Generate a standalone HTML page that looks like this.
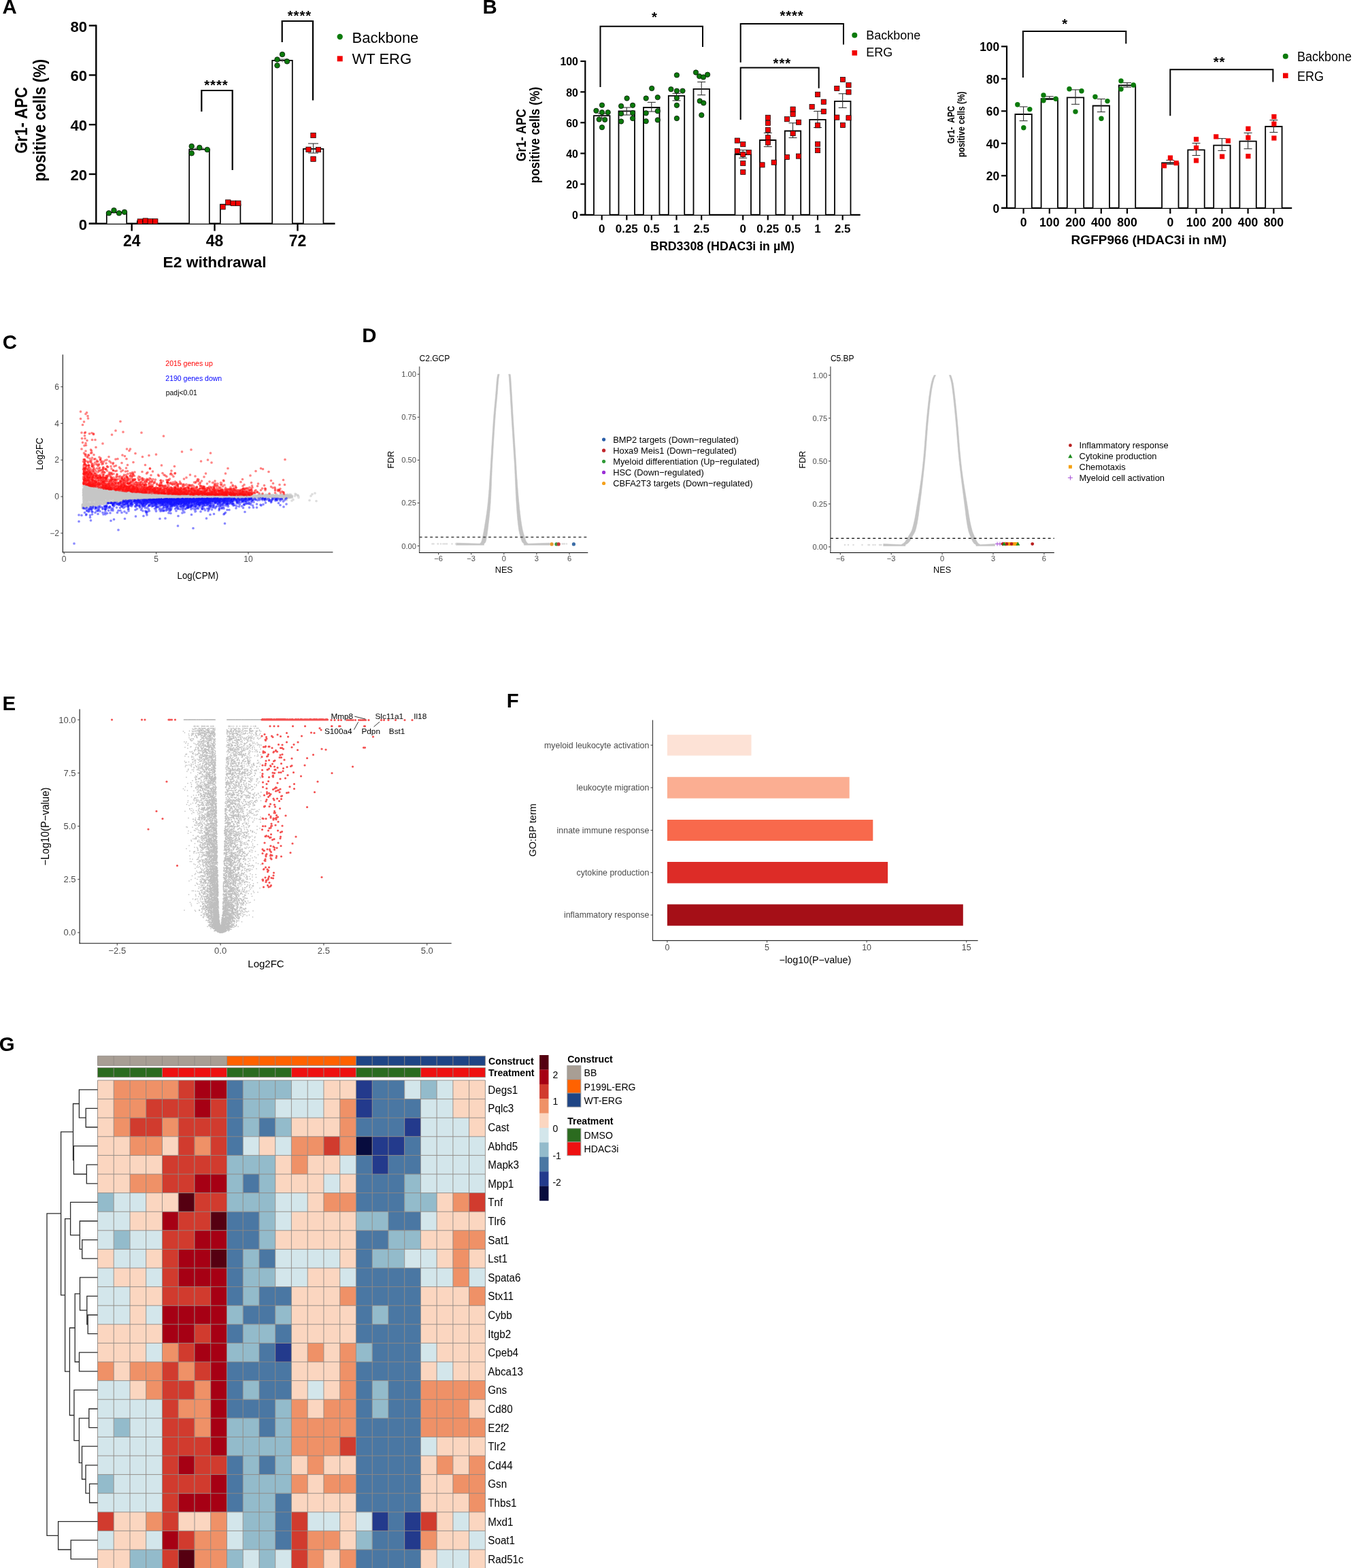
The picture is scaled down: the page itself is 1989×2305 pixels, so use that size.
<!DOCTYPE html>
<html><head><meta charset="utf-8"><title>Figure</title>
<style>
html,body{margin:0;padding:0;background:#fff;}
body{width:1989px;height:2305px;overflow:hidden;}
svg{display:block;font-family:"Liberation Sans",Arial,Helvetica,sans-serif;}
</style></head><body>
<svg width="1989" height="2305" viewBox="0 0 1989 2305">
<rect width="1989" height="2305" fill="#fff"/>
<text x="3.4" y="19.8" font-size="29.4" font-weight="bold" fill="#000" >A</text>
<line x1="141.3" y1="36.4" x2="141.3" y2="328.8" stroke="#000" stroke-width="2.4" />
<line x1="130.8" y1="328.8" x2="141.3" y2="328.8" stroke="#000" stroke-width="2.4" />
<text x="128.2" y="337.8" font-size="22.2" font-weight="bold" text-anchor="end" fill="#000" >0</text>
<line x1="130.8" y1="256" x2="141.3" y2="256" stroke="#000" stroke-width="2.4" />
<text x="128.2" y="265" font-size="22.2" font-weight="bold" text-anchor="end" fill="#000" >20</text>
<line x1="130.8" y1="183.2" x2="141.3" y2="183.2" stroke="#000" stroke-width="2.4" />
<text x="128.2" y="192.2" font-size="22.2" font-weight="bold" text-anchor="end" fill="#000" >40</text>
<line x1="130.8" y1="110.4" x2="141.3" y2="110.4" stroke="#000" stroke-width="2.4" />
<text x="128.2" y="119.4" font-size="22.2" font-weight="bold" text-anchor="end" fill="#000" >60</text>
<line x1="130.8" y1="37.6" x2="141.3" y2="37.6" stroke="#000" stroke-width="2.4" />
<text x="128.2" y="46.6" font-size="22.2" font-weight="bold" text-anchor="end" fill="#000" >80</text>
<line x1="130.8" y1="328.8" x2="492.5" y2="328.8" stroke="#000" stroke-width="2.4" />
<line x1="193.7" y1="328.8" x2="193.7" y2="339.5" stroke="#000" stroke-width="2.4" />
<text x="193.7" y="361.5" font-size="23" font-weight="bold" text-anchor="middle" fill="#000" >24</text>
<line x1="315.5" y1="328.8" x2="315.5" y2="339.5" stroke="#000" stroke-width="2.4" />
<text x="315.5" y="361.5" font-size="23" font-weight="bold" text-anchor="middle" fill="#000" >48</text>
<line x1="437.5" y1="328.8" x2="437.5" y2="339.5" stroke="#000" stroke-width="2.4" />
<text x="437.5" y="361.5" font-size="23" font-weight="bold" text-anchor="middle" fill="#000" >72</text>
<text x="315.5" y="393" font-size="22.8" font-weight="bold" text-anchor="middle" fill="#000" >E2 withdrawal</text>
<text transform="translate(39.9,176.8) rotate(-90) scale(1,1.14)" font-size="22.2" font-weight="bold" text-anchor="middle" fill="#000">Gr1- APC</text>
<text transform="translate(67.4,176.8) rotate(-90) scale(1,1.14)" font-size="22.2" font-weight="bold" text-anchor="middle" fill="#000">positive cells (%)</text>
<path d="M156.8 328.8V312.4H186.2V328.8" stroke="#000" stroke-width="1.7" fill="#fff"/>
<path d="M201.8 328.8V325.2H231.2V328.8" stroke="#000" stroke-width="1.7" fill="#fff"/>
<path d="M278.2 328.8V219.6H307.8V328.8" stroke="#000" stroke-width="1.7" fill="#fff"/>
<path d="M323.9 328.8V300.6H353.4V328.8" stroke="#000" stroke-width="1.7" fill="#fff"/>
<path d="M400.2 328.8V88.9H429.8V328.8" stroke="#000" stroke-width="1.7" fill="#fff"/>
<path d="M445.9 328.8V218.9H475.4V328.8" stroke="#000" stroke-width="1.7" fill="#fff"/>
<line x1="460.5" y1="211" x2="460.5" y2="225" stroke="#333" stroke-width="1.1" />
<line x1="453" y1="211" x2="468" y2="211" stroke="#333" stroke-width="1.1" />
<line x1="453" y1="225" x2="468" y2="225" stroke="#333" stroke-width="1.1" />
<line x1="415" y1="87" x2="415" y2="91.5" stroke="#555" stroke-width="1" />
<line x1="408" y1="87" x2="422" y2="87" stroke="#555" stroke-width="1" />
<line x1="293" y1="217.5" x2="293" y2="221.5" stroke="#555" stroke-width="1" />
<line x1="286" y1="218" x2="300" y2="218" stroke="#555" stroke-width="1" />
<circle cx="160" cy="313.3" r="3.8" fill="#0B7A0B" stroke="#000" stroke-width="0.7"/>
<circle cx="167.5" cy="309.2" r="3.8" fill="#0B7A0B" stroke="#000" stroke-width="0.7"/>
<circle cx="175" cy="313.3" r="3.8" fill="#0B7A0B" stroke="#000" stroke-width="0.7"/>
<circle cx="183" cy="311.7" r="3.8" fill="#0B7A0B" stroke="#000" stroke-width="0.7"/>
<rect x="202.1" y="321.9" width="7.4" height="7.4" fill="#F20000" stroke="#000" stroke-width="0.7" />
<rect x="210" y="320.9" width="7.4" height="7.4" fill="#F20000" stroke="#000" stroke-width="0.7" />
<rect x="217.1" y="321.7" width="7.4" height="7.4" fill="#F20000" stroke="#000" stroke-width="0.7" />
<rect x="224.6" y="321.7" width="7.4" height="7.4" fill="#F20000" stroke="#000" stroke-width="0.7" />
<circle cx="281.7" cy="215" r="3.8" fill="#0B7A0B" stroke="#000" stroke-width="0.7"/>
<circle cx="293.3" cy="217" r="3.8" fill="#0B7A0B" stroke="#000" stroke-width="0.7"/>
<circle cx="304.7" cy="220" r="3.8" fill="#0B7A0B" stroke="#000" stroke-width="0.7"/>
<circle cx="281.7" cy="225.3" r="3.8" fill="#0B7A0B" stroke="#000" stroke-width="0.7"/>
<rect x="323.8" y="300.5" width="7.4" height="7.4" fill="#F20000" stroke="#000" stroke-width="0.7" />
<rect x="331.6" y="293.8" width="7.4" height="7.4" fill="#F20000" stroke="#000" stroke-width="0.7" />
<rect x="339" y="295.1" width="7.4" height="7.4" fill="#F20000" stroke="#000" stroke-width="0.7" />
<rect x="346.6" y="295.1" width="7.4" height="7.4" fill="#F20000" stroke="#000" stroke-width="0.7" />
<circle cx="415" cy="80" r="3.8" fill="#0B7A0B" stroke="#000" stroke-width="0.7"/>
<circle cx="407.5" cy="87.5" r="3.8" fill="#0B7A0B" stroke="#000" stroke-width="0.7"/>
<circle cx="422" cy="90.3" r="3.8" fill="#0B7A0B" stroke="#000" stroke-width="0.7"/>
<circle cx="407.5" cy="96.3" r="3.8" fill="#0B7A0B" stroke="#000" stroke-width="0.7"/>
<rect x="456.8" y="195.3" width="7.4" height="7.4" fill="#F20000" stroke="#000" stroke-width="0.7" />
<rect x="449.8" y="216.1" width="7.4" height="7.4" fill="#F20000" stroke="#000" stroke-width="0.7" />
<rect x="464.3" y="216.3" width="7.4" height="7.4" fill="#F20000" stroke="#000" stroke-width="0.7" />
<rect x="456.8" y="230" width="7.4" height="7.4" fill="#F20000" stroke="#000" stroke-width="0.7" />
<path d="M296.3 164V133H341.7V250" stroke="#000" stroke-width="2.2" fill="none"/>
<path d="M414.7 62V31H460V147.5" stroke="#000" stroke-width="2.2" fill="none"/>
<text x="317.9" y="131.7" font-size="20.3" font-weight="bold" text-anchor="middle" fill="#000" letter-spacing="0.9">****</text>
<text x="440.4" y="29.7" font-size="20.3" font-weight="bold" text-anchor="middle" fill="#000" letter-spacing="0.9">****</text>
<circle cx="499.7" cy="54" r="4.2" fill="#0B7A0B" stroke="none" stroke-width="0"/>
<rect x="495.7" y="82.3" width="8" height="8" fill="#F20000" stroke="none" stroke-width="0" />
<text x="517.5" y="62.5" font-size="22" fill="#000" >Backbone</text>
<text x="517.5" y="94" font-size="22" fill="#000" >WT ERG</text>
<text x="709.6" y="20" font-size="29.4" font-weight="bold" fill="#000" >B</text>
<line x1="860.3" y1="88.9" x2="860.3" y2="315.8" stroke="#000" stroke-width="2.2" />
<line x1="853.3" y1="315.8" x2="860.3" y2="315.8" stroke="#000" stroke-width="2.2" />
<text x="849.9" y="322.2" font-size="15.9" font-weight="bold" text-anchor="end" fill="#000" >0</text>
<line x1="853.3" y1="270.6" x2="860.3" y2="270.6" stroke="#000" stroke-width="2.2" />
<text x="849.9" y="277" font-size="15.9" font-weight="bold" text-anchor="end" fill="#000" >20</text>
<line x1="853.3" y1="225.5" x2="860.3" y2="225.5" stroke="#000" stroke-width="2.2" />
<text x="849.9" y="231.9" font-size="15.9" font-weight="bold" text-anchor="end" fill="#000" >40</text>
<line x1="853.3" y1="180.3" x2="860.3" y2="180.3" stroke="#000" stroke-width="2.2" />
<text x="849.9" y="186.7" font-size="15.9" font-weight="bold" text-anchor="end" fill="#000" >60</text>
<line x1="853.3" y1="135.2" x2="860.3" y2="135.2" stroke="#000" stroke-width="2.2" />
<text x="849.9" y="141.6" font-size="15.9" font-weight="bold" text-anchor="end" fill="#000" >80</text>
<line x1="853.3" y1="90" x2="860.3" y2="90" stroke="#000" stroke-width="2.2" />
<text x="849.9" y="96.4" font-size="15.9" font-weight="bold" text-anchor="end" fill="#000" >100</text>
<line x1="852.5" y1="315.8" x2="1264.7" y2="315.8" stroke="#000" stroke-width="2.2" />
<line x1="884.7" y1="315.8" x2="884.7" y2="323.5" stroke="#000" stroke-width="2.2" />
<text x="884.7" y="341.5" font-size="16.9" font-weight="bold" text-anchor="middle" fill="#000" >0</text>
<line x1="921.3" y1="315.8" x2="921.3" y2="323.5" stroke="#000" stroke-width="2.2" />
<text x="921.3" y="341.5" font-size="16.9" font-weight="bold" text-anchor="middle" fill="#000" >0.25</text>
<line x1="957.8" y1="315.8" x2="957.8" y2="323.5" stroke="#000" stroke-width="2.2" />
<text x="957.8" y="341.5" font-size="16.9" font-weight="bold" text-anchor="middle" fill="#000" >0.5</text>
<line x1="994.5" y1="315.8" x2="994.5" y2="323.5" stroke="#000" stroke-width="2.2" />
<text x="994.5" y="341.5" font-size="16.9" font-weight="bold" text-anchor="middle" fill="#000" >1</text>
<line x1="1031.2" y1="315.8" x2="1031.2" y2="323.5" stroke="#000" stroke-width="2.2" />
<text x="1031.2" y="341.5" font-size="16.9" font-weight="bold" text-anchor="middle" fill="#000" >2.5</text>
<line x1="1092.2" y1="315.8" x2="1092.2" y2="323.5" stroke="#000" stroke-width="2.2" />
<text x="1092.2" y="341.5" font-size="16.9" font-weight="bold" text-anchor="middle" fill="#000" >0</text>
<line x1="1128.8" y1="315.8" x2="1128.8" y2="323.5" stroke="#000" stroke-width="2.2" />
<text x="1128.8" y="341.5" font-size="16.9" font-weight="bold" text-anchor="middle" fill="#000" >0.25</text>
<line x1="1165.5" y1="315.8" x2="1165.5" y2="323.5" stroke="#000" stroke-width="2.2" />
<text x="1165.5" y="341.5" font-size="16.9" font-weight="bold" text-anchor="middle" fill="#000" >0.5</text>
<line x1="1202" y1="315.8" x2="1202" y2="323.5" stroke="#000" stroke-width="2.2" />
<text x="1202" y="341.5" font-size="16.9" font-weight="bold" text-anchor="middle" fill="#000" >1</text>
<line x1="1238.7" y1="315.8" x2="1238.7" y2="323.5" stroke="#000" stroke-width="2.2" />
<text x="1238.7" y="341.5" font-size="16.9" font-weight="bold" text-anchor="middle" fill="#000" >2.5</text>
<text x="1062" y="367.7" font-size="17.8" font-weight="bold" text-anchor="middle" fill="#000" >BRD3308 (HDAC3i in µM)</text>
<text transform="translate(772.7,198.6) rotate(-90) scale(1,1.14)" font-size="17.5" font-weight="bold" text-anchor="middle" fill="#000">Gr1- APC</text>
<text transform="translate(793.4,198.5) rotate(-90) scale(1,1.14)" font-size="17.45" font-weight="bold" text-anchor="middle" fill="#000">positive cells (%)</text>
<path d="M873 315.8V170.2H896.5V315.8" stroke="#000" stroke-width="1.8" fill="#fff"/>
<path d="M909.5 315.8V163.3H933V315.8" stroke="#000" stroke-width="1.8" fill="#fff"/>
<path d="M946 315.8V158H969.5V315.8" stroke="#000" stroke-width="1.8" fill="#fff"/>
<path d="M982.8 315.8V140.8H1006.2V315.8" stroke="#000" stroke-width="1.8" fill="#fff"/>
<path d="M1019.5 315.8V130.9H1043V315.8" stroke="#000" stroke-width="1.8" fill="#fff"/>
<path d="M1080.5 315.8V227H1104V315.8" stroke="#000" stroke-width="1.8" fill="#fff"/>
<path d="M1117 315.8V206H1140.5V315.8" stroke="#000" stroke-width="1.8" fill="#fff"/>
<path d="M1153.8 315.8V192.5H1177.2V315.8" stroke="#000" stroke-width="1.8" fill="#fff"/>
<path d="M1190.2 315.8V175.8H1213.8V315.8" stroke="#000" stroke-width="1.8" fill="#fff"/>
<path d="M1227 315.8V148.9H1250.5V315.8" stroke="#000" stroke-width="1.8" fill="#fff"/>
<line x1="884.7" y1="167" x2="884.7" y2="173.5" stroke="#333" stroke-width="1.1" />
<line x1="878.7" y1="167" x2="890.7" y2="167" stroke="#333" stroke-width="1.1" />
<line x1="878.7" y1="173.5" x2="890.7" y2="173.5" stroke="#333" stroke-width="1.1" />
<line x1="921.3" y1="158" x2="921.3" y2="169" stroke="#333" stroke-width="1.1" />
<line x1="915.3" y1="158" x2="927.3" y2="158" stroke="#333" stroke-width="1.1" />
<line x1="915.3" y1="169" x2="927.3" y2="169" stroke="#333" stroke-width="1.1" />
<line x1="957.8" y1="150.4" x2="957.8" y2="164" stroke="#333" stroke-width="1.1" />
<line x1="951.8" y1="150.4" x2="963.8" y2="150.4" stroke="#333" stroke-width="1.1" />
<line x1="951.8" y1="164" x2="963.8" y2="164" stroke="#333" stroke-width="1.1" />
<line x1="994.5" y1="137.3" x2="994.5" y2="147.9" stroke="#333" stroke-width="1.1" />
<line x1="988.5" y1="137.3" x2="1000.5" y2="137.3" stroke="#333" stroke-width="1.1" />
<line x1="988.5" y1="147.9" x2="1000.5" y2="147.9" stroke="#333" stroke-width="1.1" />
<line x1="1031.2" y1="120.5" x2="1031.2" y2="139.6" stroke="#333" stroke-width="1.1" />
<line x1="1025.2" y1="120.5" x2="1037.2" y2="120.5" stroke="#333" stroke-width="1.1" />
<line x1="1025.2" y1="139.6" x2="1037.2" y2="139.6" stroke="#333" stroke-width="1.1" />
<line x1="1092.2" y1="220.6" x2="1092.2" y2="232.3" stroke="#333" stroke-width="1.1" />
<line x1="1086.2" y1="220.6" x2="1098.2" y2="220.6" stroke="#333" stroke-width="1.1" />
<line x1="1086.2" y1="232.3" x2="1098.2" y2="232.3" stroke="#333" stroke-width="1.1" />
<line x1="1128.8" y1="195.4" x2="1128.8" y2="215.6" stroke="#333" stroke-width="1.1" />
<line x1="1122.8" y1="195.4" x2="1134.8" y2="195.4" stroke="#333" stroke-width="1.1" />
<line x1="1122.8" y1="215.6" x2="1134.8" y2="215.6" stroke="#333" stroke-width="1.1" />
<line x1="1165.5" y1="180.8" x2="1165.5" y2="202.5" stroke="#333" stroke-width="1.1" />
<line x1="1159.5" y1="180.8" x2="1171.5" y2="180.8" stroke="#333" stroke-width="1.1" />
<line x1="1159.5" y1="202.5" x2="1171.5" y2="202.5" stroke="#333" stroke-width="1.1" />
<line x1="1202" y1="163.5" x2="1202" y2="187.5" stroke="#333" stroke-width="1.1" />
<line x1="1196" y1="163.5" x2="1208" y2="163.5" stroke="#333" stroke-width="1.1" />
<line x1="1196" y1="187.5" x2="1208" y2="187.5" stroke="#333" stroke-width="1.1" />
<line x1="1238.7" y1="137.7" x2="1238.7" y2="158.4" stroke="#333" stroke-width="1.1" />
<line x1="1232.7" y1="137.7" x2="1244.7" y2="137.7" stroke="#333" stroke-width="1.1" />
<line x1="1232.7" y1="158.4" x2="1244.7" y2="158.4" stroke="#333" stroke-width="1.1" />
<circle cx="885" cy="154.6" r="3.7" fill="#0B7A0B" stroke="#000" stroke-width="0.7"/>
<circle cx="876.4" cy="162.8" r="3.7" fill="#0B7A0B" stroke="#000" stroke-width="0.7"/>
<circle cx="885" cy="165.2" r="3.7" fill="#0B7A0B" stroke="#000" stroke-width="0.7"/>
<circle cx="893.7" cy="165.2" r="3.7" fill="#0B7A0B" stroke="#000" stroke-width="0.7"/>
<circle cx="880.7" cy="175.5" r="3.7" fill="#0B7A0B" stroke="#000" stroke-width="0.7"/>
<circle cx="889.2" cy="175.9" r="3.7" fill="#0B7A0B" stroke="#000" stroke-width="0.7"/>
<circle cx="885" cy="187.2" r="3.7" fill="#0B7A0B" stroke="#000" stroke-width="0.7"/>
<circle cx="921.6" cy="144.5" r="3.7" fill="#0B7A0B" stroke="#000" stroke-width="0.7"/>
<circle cx="913.1" cy="155.9" r="3.7" fill="#0B7A0B" stroke="#000" stroke-width="0.7"/>
<circle cx="930.1" cy="154.8" r="3.7" fill="#0B7A0B" stroke="#000" stroke-width="0.7"/>
<circle cx="913.1" cy="167" r="3.7" fill="#0B7A0B" stroke="#000" stroke-width="0.7"/>
<circle cx="930.1" cy="166" r="3.7" fill="#0B7A0B" stroke="#000" stroke-width="0.7"/>
<circle cx="930.1" cy="174" r="3.7" fill="#0B7A0B" stroke="#000" stroke-width="0.7"/>
<circle cx="913.1" cy="178.5" r="3.7" fill="#0B7A0B" stroke="#000" stroke-width="0.7"/>
<circle cx="958.2" cy="129.9" r="3.7" fill="#0B7A0B" stroke="#000" stroke-width="0.7"/>
<circle cx="949.7" cy="144.5" r="3.7" fill="#0B7A0B" stroke="#000" stroke-width="0.7"/>
<circle cx="966.8" cy="143.1" r="3.7" fill="#0B7A0B" stroke="#000" stroke-width="0.7"/>
<circle cx="949.7" cy="166.3" r="3.7" fill="#0B7A0B" stroke="#000" stroke-width="0.7"/>
<circle cx="966.8" cy="163.3" r="3.7" fill="#0B7A0B" stroke="#000" stroke-width="0.7"/>
<circle cx="949.7" cy="178.2" r="3.7" fill="#0B7A0B" stroke="#000" stroke-width="0.7"/>
<circle cx="966.8" cy="176.4" r="3.7" fill="#0B7A0B" stroke="#000" stroke-width="0.7"/>
<circle cx="994.9" cy="110.4" r="3.7" fill="#0B7A0B" stroke="#000" stroke-width="0.7"/>
<circle cx="986.4" cy="131.2" r="3.7" fill="#0B7A0B" stroke="#000" stroke-width="0.7"/>
<circle cx="994.9" cy="133.6" r="3.7" fill="#0B7A0B" stroke="#000" stroke-width="0.7"/>
<circle cx="1003.5" cy="133.6" r="3.7" fill="#0B7A0B" stroke="#000" stroke-width="0.7"/>
<circle cx="994.9" cy="144" r="3.7" fill="#0B7A0B" stroke="#000" stroke-width="0.7"/>
<circle cx="994.9" cy="154.8" r="3.7" fill="#0B7A0B" stroke="#000" stroke-width="0.7"/>
<circle cx="994.9" cy="174" r="3.7" fill="#0B7A0B" stroke="#000" stroke-width="0.7"/>
<circle cx="1023" cy="106.5" r="3.7" fill="#0B7A0B" stroke="#000" stroke-width="0.7"/>
<circle cx="1028.1" cy="112.1" r="3.7" fill="#0B7A0B" stroke="#000" stroke-width="0.7"/>
<circle cx="1034" cy="113.4" r="3.7" fill="#0B7A0B" stroke="#000" stroke-width="0.7"/>
<circle cx="1040.1" cy="109.7" r="3.7" fill="#0B7A0B" stroke="#000" stroke-width="0.7"/>
<circle cx="1028.7" cy="148.4" r="3.7" fill="#0B7A0B" stroke="#000" stroke-width="0.7"/>
<circle cx="1034.3" cy="151.4" r="3.7" fill="#0B7A0B" stroke="#000" stroke-width="0.7"/>
<circle cx="1031.3" cy="169.2" r="3.7" fill="#0B7A0B" stroke="#000" stroke-width="0.7"/>
<rect x="1080.2" y="203" width="7.2" height="7.2" fill="#F20000" stroke="#000" stroke-width="0.7" />
<rect x="1088.7" y="208.5" width="7.2" height="7.2" fill="#F20000" stroke="#000" stroke-width="0.7" />
<rect x="1080.2" y="218.4" width="7.2" height="7.2" fill="#F20000" stroke="#000" stroke-width="0.7" />
<rect x="1097.2" y="220.5" width="7.2" height="7.2" fill="#F20000" stroke="#000" stroke-width="0.7" />
<rect x="1088.7" y="223.4" width="7.2" height="7.2" fill="#F20000" stroke="#000" stroke-width="0.7" />
<rect x="1088.7" y="236.5" width="7.2" height="7.2" fill="#F20000" stroke="#000" stroke-width="0.7" />
<rect x="1088.7" y="249.4" width="7.2" height="7.2" fill="#F20000" stroke="#000" stroke-width="0.7" />
<rect x="1125.4" y="169.2" width="7.2" height="7.2" fill="#F20000" stroke="#000" stroke-width="0.7" />
<rect x="1125.4" y="177.2" width="7.2" height="7.2" fill="#F20000" stroke="#000" stroke-width="0.7" />
<rect x="1125.4" y="187.3" width="7.2" height="7.2" fill="#F20000" stroke="#000" stroke-width="0.7" />
<rect x="1125.4" y="198.7" width="7.2" height="7.2" fill="#F20000" stroke="#000" stroke-width="0.7" />
<rect x="1125.4" y="205.9" width="7.2" height="7.2" fill="#F20000" stroke="#000" stroke-width="0.7" />
<rect x="1116.9" y="238.8" width="7.2" height="7.2" fill="#F20000" stroke="#000" stroke-width="0.7" />
<rect x="1134.1" y="235.1" width="7.2" height="7.2" fill="#F20000" stroke="#000" stroke-width="0.7" />
<rect x="1162" y="157" width="7.2" height="7.2" fill="#F20000" stroke="#000" stroke-width="0.7" />
<rect x="1162" y="164.1" width="7.2" height="7.2" fill="#F20000" stroke="#000" stroke-width="0.7" />
<rect x="1153.3" y="171.6" width="7.2" height="7.2" fill="#F20000" stroke="#000" stroke-width="0.7" />
<rect x="1170.5" y="176.1" width="7.2" height="7.2" fill="#F20000" stroke="#000" stroke-width="0.7" />
<rect x="1162" y="192.6" width="7.2" height="7.2" fill="#F20000" stroke="#000" stroke-width="0.7" />
<rect x="1153.3" y="227.3" width="7.2" height="7.2" fill="#F20000" stroke="#000" stroke-width="0.7" />
<rect x="1170.5" y="226" width="7.2" height="7.2" fill="#F20000" stroke="#000" stroke-width="0.7" />
<rect x="1198.5" y="135.2" width="7.2" height="7.2" fill="#F20000" stroke="#000" stroke-width="0.7" />
<rect x="1207.2" y="146.1" width="7.2" height="7.2" fill="#F20000" stroke="#000" stroke-width="0.7" />
<rect x="1190" y="153.3" width="7.2" height="7.2" fill="#F20000" stroke="#000" stroke-width="0.7" />
<rect x="1207.2" y="160.2" width="7.2" height="7.2" fill="#F20000" stroke="#000" stroke-width="0.7" />
<rect x="1198.5" y="180.7" width="7.2" height="7.2" fill="#F20000" stroke="#000" stroke-width="0.7" />
<rect x="1198.5" y="208.2" width="7.2" height="7.2" fill="#F20000" stroke="#000" stroke-width="0.7" />
<rect x="1198.5" y="217.5" width="7.2" height="7.2" fill="#F20000" stroke="#000" stroke-width="0.7" />
<rect x="1235.4" y="113.4" width="7.2" height="7.2" fill="#F20000" stroke="#000" stroke-width="0.7" />
<rect x="1243.9" y="121.6" width="7.2" height="7.2" fill="#F20000" stroke="#000" stroke-width="0.7" />
<rect x="1226.7" y="126.4" width="7.2" height="7.2" fill="#F20000" stroke="#000" stroke-width="0.7" />
<rect x="1243.9" y="131.8" width="7.2" height="7.2" fill="#F20000" stroke="#000" stroke-width="0.7" />
<rect x="1226.7" y="169" width="7.2" height="7.2" fill="#F20000" stroke="#000" stroke-width="0.7" />
<rect x="1243.9" y="169.7" width="7.2" height="7.2" fill="#F20000" stroke="#000" stroke-width="0.7" />
<rect x="1235.4" y="180.4" width="7.2" height="7.2" fill="#F20000" stroke="#000" stroke-width="0.7" />
<path d="M882.5 128V38.8H1033V69" stroke="#000" stroke-width="2" fill="none"/>
<path d="M1088.7 91.7V35H1240V65.5" stroke="#000" stroke-width="2" fill="none"/>
<path d="M1088.7 176V99.5H1203.7V129.7" stroke="#000" stroke-width="2" fill="none"/>
<text x="962.5" y="31.7" font-size="20.3" font-weight="bold" text-anchor="middle" fill="#000" letter-spacing="0.9">*</text>
<text x="1164" y="30.4" font-size="20.3" font-weight="bold" text-anchor="middle" fill="#000" letter-spacing="0.9">****</text>
<text x="1149.8" y="99.5" font-size="20.3" font-weight="bold" text-anchor="middle" fill="#000" letter-spacing="0.9">***</text>
<circle cx="1256.3" cy="51.7" r="4.0" fill="#0B7A0B" stroke="none" stroke-width="0"/>
<rect x="1252.5" y="74" width="7.6" height="7.6" fill="#F20000" stroke="none" stroke-width="0" />
<text x="1273.3" y="58" font-size="18" fill="#000" >Backbone</text>
<text x="1273.3" y="83.3" font-size="18" fill="#000" >ERG</text>
<line x1="1480" y1="67.2" x2="1480" y2="305.8" stroke="#000" stroke-width="2.2" />
<line x1="1472" y1="305.8" x2="1480" y2="305.8" stroke="#000" stroke-width="2.2" />
<text transform="translate(1469.2,312.5) scale(1.0,1.09)" font-size="17.4" font-weight="bold" text-anchor="end" fill="#000">0</text>
<line x1="1472" y1="258.3" x2="1480" y2="258.3" stroke="#000" stroke-width="2.2" />
<text transform="translate(1469.2,265) scale(1.0,1.09)" font-size="17.4" font-weight="bold" text-anchor="end" fill="#000">20</text>
<line x1="1472" y1="210.8" x2="1480" y2="210.8" stroke="#000" stroke-width="2.2" />
<text transform="translate(1469.2,217.5) scale(1.0,1.09)" font-size="17.4" font-weight="bold" text-anchor="end" fill="#000">40</text>
<line x1="1472" y1="163.3" x2="1480" y2="163.3" stroke="#000" stroke-width="2.2" />
<text transform="translate(1469.2,170) scale(1.0,1.09)" font-size="17.4" font-weight="bold" text-anchor="end" fill="#000">60</text>
<line x1="1472" y1="115.8" x2="1480" y2="115.8" stroke="#000" stroke-width="2.2" />
<text transform="translate(1469.2,122.5) scale(1.0,1.09)" font-size="17.4" font-weight="bold" text-anchor="end" fill="#000">80</text>
<line x1="1472" y1="68.3" x2="1480" y2="68.3" stroke="#000" stroke-width="2.2" />
<text transform="translate(1469.2,75) scale(1.0,1.09)" font-size="17.4" font-weight="bold" text-anchor="end" fill="#000">100</text>
<line x1="1472" y1="305.8" x2="1899.2" y2="305.8" stroke="#000" stroke-width="2.2" />
<line x1="1504.6" y1="305.8" x2="1504.6" y2="314" stroke="#000" stroke-width="2.2" />
<text x="1504.6" y="332.7" font-size="17.7" font-weight="bold" text-anchor="middle" fill="#000" >0</text>
<line x1="1542.8" y1="305.8" x2="1542.8" y2="314" stroke="#000" stroke-width="2.2" />
<text x="1542.8" y="332.7" font-size="17.7" font-weight="bold" text-anchor="middle" fill="#000" >100</text>
<line x1="1581" y1="305.8" x2="1581" y2="314" stroke="#000" stroke-width="2.2" />
<text x="1581" y="332.7" font-size="17.7" font-weight="bold" text-anchor="middle" fill="#000" >200</text>
<line x1="1618.8" y1="305.8" x2="1618.8" y2="314" stroke="#000" stroke-width="2.2" />
<text x="1618.8" y="332.7" font-size="17.7" font-weight="bold" text-anchor="middle" fill="#000" >400</text>
<line x1="1657" y1="305.8" x2="1657" y2="314" stroke="#000" stroke-width="2.2" />
<text x="1657" y="332.7" font-size="17.7" font-weight="bold" text-anchor="middle" fill="#000" >800</text>
<line x1="1720.3" y1="305.8" x2="1720.3" y2="314" stroke="#000" stroke-width="2.2" />
<text x="1720.3" y="332.7" font-size="17.7" font-weight="bold" text-anchor="middle" fill="#000" >0</text>
<line x1="1758.5" y1="305.8" x2="1758.5" y2="314" stroke="#000" stroke-width="2.2" />
<text x="1758.5" y="332.7" font-size="17.7" font-weight="bold" text-anchor="middle" fill="#000" >100</text>
<line x1="1796.4" y1="305.8" x2="1796.4" y2="314" stroke="#000" stroke-width="2.2" />
<text x="1796.4" y="332.7" font-size="17.7" font-weight="bold" text-anchor="middle" fill="#000" >200</text>
<line x1="1834.6" y1="305.8" x2="1834.6" y2="314" stroke="#000" stroke-width="2.2" />
<text x="1834.6" y="332.7" font-size="17.7" font-weight="bold" text-anchor="middle" fill="#000" >400</text>
<line x1="1872.4" y1="305.8" x2="1872.4" y2="314" stroke="#000" stroke-width="2.2" />
<text x="1872.4" y="332.7" font-size="17.7" font-weight="bold" text-anchor="middle" fill="#000" >800</text>
<text transform="translate(1688.8,359.4) scale(1.0,0.95)" font-size="19.05" font-weight="bold" text-anchor="middle" fill="#000">RGFP966 (HDAC3i in nM)</text>
<text transform="translate(1403.4,183.4) rotate(-90) scale(1,1.16)" font-size="11.85" font-weight="bold" text-anchor="middle" fill="#000">Gr1-  APC</text>
<text transform="translate(1418.2,182.8) rotate(-90) scale(1,1.16)" font-size="11.9" font-weight="bold" text-anchor="middle" fill="#000">positive cells (%)</text>
<path d="M1492.4 305.8V168H1516.8V305.8" stroke="#000" stroke-width="1.8" fill="#fff"/>
<path d="M1530.6 305.8V145.2H1555V305.8" stroke="#000" stroke-width="1.8" fill="#fff"/>
<path d="M1568.8 305.8V143.4H1593.2V305.8" stroke="#000" stroke-width="1.8" fill="#fff"/>
<path d="M1606.6 305.8V155.5H1631V305.8" stroke="#000" stroke-width="1.8" fill="#fff"/>
<path d="M1644.8 305.8V125.5H1669.2V305.8" stroke="#000" stroke-width="1.8" fill="#fff"/>
<path d="M1708.1 305.8V239.5H1732.5V305.8" stroke="#000" stroke-width="1.8" fill="#fff"/>
<path d="M1746.3 305.8V220.3H1770.7V305.8" stroke="#000" stroke-width="1.8" fill="#fff"/>
<path d="M1784.2 305.8V213.7H1808.6V305.8" stroke="#000" stroke-width="1.8" fill="#fff"/>
<path d="M1822.4 305.8V207.6H1846.8V305.8" stroke="#000" stroke-width="1.8" fill="#fff"/>
<path d="M1860.2 305.8V186H1884.6V305.8" stroke="#000" stroke-width="1.8" fill="#fff"/>
<line x1="1504.6" y1="156.9" x2="1504.6" y2="177.6" stroke="#333" stroke-width="1.1" />
<line x1="1498.6" y1="156.9" x2="1510.6" y2="156.9" stroke="#333" stroke-width="1.1" />
<line x1="1498.6" y1="177.6" x2="1510.6" y2="177.6" stroke="#333" stroke-width="1.1" />
<line x1="1542.8" y1="141.8" x2="1542.8" y2="146.5" stroke="#333" stroke-width="1.1" />
<line x1="1536.8" y1="141.8" x2="1548.8" y2="141.8" stroke="#333" stroke-width="1.1" />
<line x1="1536.8" y1="146.5" x2="1548.8" y2="146.5" stroke="#333" stroke-width="1.1" />
<line x1="1581" y1="131.9" x2="1581" y2="153.3" stroke="#333" stroke-width="1.1" />
<line x1="1575" y1="131.9" x2="1587" y2="131.9" stroke="#333" stroke-width="1.1" />
<line x1="1575" y1="153.3" x2="1587" y2="153.3" stroke="#333" stroke-width="1.1" />
<line x1="1618.8" y1="145.5" x2="1618.8" y2="164.5" stroke="#333" stroke-width="1.1" />
<line x1="1612.8" y1="145.5" x2="1624.8" y2="145.5" stroke="#333" stroke-width="1.1" />
<line x1="1612.8" y1="164.5" x2="1624.8" y2="164.5" stroke="#333" stroke-width="1.1" />
<line x1="1657" y1="121.6" x2="1657" y2="128.2" stroke="#333" stroke-width="1.1" />
<line x1="1651" y1="121.6" x2="1663" y2="121.6" stroke="#333" stroke-width="1.1" />
<line x1="1651" y1="128.2" x2="1663" y2="128.2" stroke="#333" stroke-width="1.1" />
<line x1="1720.3" y1="235.5" x2="1720.3" y2="241.6" stroke="#333" stroke-width="1.1" />
<line x1="1714.3" y1="235.5" x2="1726.3" y2="235.5" stroke="#333" stroke-width="1.1" />
<line x1="1714.3" y1="241.6" x2="1726.3" y2="241.6" stroke="#333" stroke-width="1.1" />
<line x1="1758.5" y1="210.5" x2="1758.5" y2="228.5" stroke="#333" stroke-width="1.1" />
<line x1="1752.5" y1="210.5" x2="1764.5" y2="210.5" stroke="#333" stroke-width="1.1" />
<line x1="1752.5" y1="228.5" x2="1764.5" y2="228.5" stroke="#333" stroke-width="1.1" />
<line x1="1796.4" y1="203.6" x2="1796.4" y2="221.4" stroke="#333" stroke-width="1.1" />
<line x1="1790.4" y1="203.6" x2="1802.4" y2="203.6" stroke="#333" stroke-width="1.1" />
<line x1="1790.4" y1="221.4" x2="1802.4" y2="221.4" stroke="#333" stroke-width="1.1" />
<line x1="1834.6" y1="195.4" x2="1834.6" y2="218.7" stroke="#333" stroke-width="1.1" />
<line x1="1828.6" y1="195.4" x2="1840.6" y2="195.4" stroke="#333" stroke-width="1.1" />
<line x1="1828.6" y1="218.7" x2="1840.6" y2="218.7" stroke="#333" stroke-width="1.1" />
<line x1="1872.4" y1="176.5" x2="1872.4" y2="194.5" stroke="#333" stroke-width="1.1" />
<line x1="1866.4" y1="176.5" x2="1878.4" y2="176.5" stroke="#333" stroke-width="1.1" />
<line x1="1866.4" y1="194.5" x2="1878.4" y2="194.5" stroke="#333" stroke-width="1.1" />
<circle cx="1495.8" cy="153.7" r="3.7" fill="#0B7A0B" stroke="none" stroke-width="0"/>
<circle cx="1513.8" cy="160.6" r="3.7" fill="#0B7A0B" stroke="none" stroke-width="0"/>
<circle cx="1504.8" cy="187.7" r="3.7" fill="#0B7A0B" stroke="none" stroke-width="0"/>
<circle cx="1534" cy="139.9" r="3.7" fill="#0B7A0B" stroke="none" stroke-width="0"/>
<circle cx="1534" cy="147.8" r="3.7" fill="#0B7A0B" stroke="none" stroke-width="0"/>
<circle cx="1552.1" cy="145.2" r="3.7" fill="#0B7A0B" stroke="none" stroke-width="0"/>
<circle cx="1572" cy="130.8" r="3.7" fill="#0B7A0B" stroke="none" stroke-width="0"/>
<circle cx="1590" cy="133.8" r="3.7" fill="#0B7A0B" stroke="none" stroke-width="0"/>
<circle cx="1581" cy="164.1" r="3.7" fill="#0B7A0B" stroke="none" stroke-width="0"/>
<circle cx="1610" cy="142.3" r="3.7" fill="#0B7A0B" stroke="none" stroke-width="0"/>
<circle cx="1628" cy="148.6" r="3.7" fill="#0B7A0B" stroke="none" stroke-width="0"/>
<circle cx="1619" cy="174.2" r="3.7" fill="#0B7A0B" stroke="none" stroke-width="0"/>
<circle cx="1648" cy="118.9" r="3.7" fill="#0B7A0B" stroke="none" stroke-width="0"/>
<circle cx="1666.2" cy="125" r="3.7" fill="#0B7A0B" stroke="none" stroke-width="0"/>
<circle cx="1648" cy="131" r="3.7" fill="#0B7A0B" stroke="none" stroke-width="0"/>
<rect x="1716.8" y="228.4" width="7.2" height="7.2" fill="#F20000" stroke="none" stroke-width="0" />
<rect x="1725.6" y="236.1" width="7.2" height="7.2" fill="#F20000" stroke="none" stroke-width="0" />
<rect x="1707.8" y="240.1" width="7.2" height="7.2" fill="#F20000" stroke="none" stroke-width="0" />
<rect x="1754.9" y="201.2" width="7.2" height="7.2" fill="#F20000" stroke="none" stroke-width="0" />
<rect x="1754.9" y="213.8" width="7.2" height="7.2" fill="#F20000" stroke="none" stroke-width="0" />
<rect x="1754.9" y="232.4" width="7.2" height="7.2" fill="#F20000" stroke="none" stroke-width="0" />
<rect x="1784.1" y="197.3" width="7.2" height="7.2" fill="#F20000" stroke="none" stroke-width="0" />
<rect x="1801.8" y="203.4" width="7.2" height="7.2" fill="#F20000" stroke="none" stroke-width="0" />
<rect x="1793" y="226.5" width="7.2" height="7.2" fill="#F20000" stroke="none" stroke-width="0" />
<rect x="1831.3" y="185.6" width="7.2" height="7.2" fill="#F20000" stroke="none" stroke-width="0" />
<rect x="1831.3" y="198.7" width="7.2" height="7.2" fill="#F20000" stroke="none" stroke-width="0" />
<rect x="1831.3" y="226" width="7.2" height="7.2" fill="#F20000" stroke="none" stroke-width="0" />
<rect x="1869.3" y="167.9" width="7.2" height="7.2" fill="#F20000" stroke="none" stroke-width="0" />
<rect x="1869.3" y="178.5" width="7.2" height="7.2" fill="#F20000" stroke="none" stroke-width="0" />
<rect x="1869.3" y="199.4" width="7.2" height="7.2" fill="#F20000" stroke="none" stroke-width="0" />
<path d="M1503.9 113.9V45.9H1655.3V64.3" stroke="#000" stroke-width="2" fill="none"/>
<path d="M1720.3 170.2V102.2H1871.4V120.6" stroke="#000" stroke-width="2" fill="none"/>
<text x="1565.7" y="42.2" font-size="20.3" font-weight="bold" text-anchor="middle" fill="#000" letter-spacing="0.9">*</text>
<text x="1792.5" y="97.7" font-size="20.3" font-weight="bold" text-anchor="middle" fill="#000" letter-spacing="0.9">**</text>
<circle cx="1889.8" cy="82.7" r="4.0" fill="#0B7A0B" stroke="none" stroke-width="0"/>
<rect x="1886" y="107.4" width="7.6" height="7.6" fill="#F20000" stroke="none" stroke-width="0" />
<text transform="translate(1906.9,89.8) scale(1.0,1.1)" font-size="18" fill="#000">Backbone</text>
<text transform="translate(1906.9,118.5) scale(1.0,1.1)" font-size="18" fill="#000">ERG</text>
<text x="3.8" y="513.3" font-size="29.4" font-weight="bold" fill="#000" >C</text>
<g>
<path transform="scale(0.5)" d="M251 1424h0m-1 7h0m0 2h0m0 3h0m-1 0h0m-3 2h0m2 0h0m-2 1h0m0 2h0m1 0h0m4 1h0m-6 0h0m6 1h0m-3 0h0m-2 0h0m5 1h0m-3 1h0m-1 0h0m4 1h0m-4 0h0m3 1h0m-3 0h0m2 1h0m-4 0h0m3 0h0m-2 1h0m5 0h0m-3 1h0m1 0h0m2 0h0m0 1h0m-1 0h0m-4 1h0m5 0h0m-3 1h0m1 0h0m-4 0h0m6 2h0m-1 1h0m-1 0h0m-1 0h0m-2 0h0m-1 0h0m1 1h0m3 0h0m-2 0h0m2 1h0m-1 1h0m2 1h0m-3 1h0m1 1h0m-2 1h0m3 0h0m-1 2h0m2 1h0m0 1h0m1 2h0m-3 2h0m3 2h0m-4 3h0m-1 7h0m-2 0h0m7 1h0m-3 0h0m-5 0h0m1 0h0m2 1h0m-2 0h0m-1 2h0m8 1h0m-5 0h0m1 0h0m-3 1h0m-1 1h0m6 1h0m-4 1h0m1 0h0m-2 1h0m-1 1h0m12-5h0m-2 0h0m4-1h0m-5 0h0m3 0h0m8-1h0m-3-1h0m1 0h0m-4-1h0m5 0h0m-5-1h0m4 0h0m-2 0h0m-3-1h0m7-1h0m-8-1h0m1 0h0m3-1h0m-6-2h0m7-1h0m-6-2h0m4 0h0m4-1h0m1 0h0m-1-1h0m-7 0h0m-1 0h0m-2-1h0m3-1h0m0-4h0m4 0h0m-6 0h0m3-1h0m0-2h0m3-1h0m1-1h0m3-1h0m-4 0h0m-4 0h0m2 0h0m-5-1h0m3 0h0m-1 0h0m5-1h0m1-1h0m-3 0h0m-5 0h0m8-1h0m1 0h0m-1-1h0m-1-1h0m-6 0h0m5 0h0m5-1h0m-2 0h0m-2 0h0m-6-1h0m5 0h0m-4-1h0m1 0h0m3 0h0m-5-1h0m4 0h0m-2-1h0m3 0h0m1 0h0m-6 0h0m4 0h0m-5-2h0m9 0h0m-4 0h0m3-1h0m-2 0h0m3 0h0m1 0h0m-1-1h0m-5 0h0m1 0h0m3-1h0m-5 0h0m3-1h0m4 0h0m-4-1h0m-1-1h0m3 0h0m-5 0h0m-2-1h0m9-1h0m-10-1h0m11-1h0m-4 0h0m-6 0h0m8-1h0m-3 0h0m-6 0h0m1-1h0m0-4h0m2 0h0m-2-2h0m6 0h0m-5-4h0m10 2h0m2 4h0m7 1h0m-5 0h0m7 0h0m-1 1h0m-5 0h0m2 1h0m1 3h0m-2 0h0m3 0h0m-2 1h0m-6 0h0m10 0h0m-9 1h0m6 0h0m-5 1h0m8 0h0m-1 1h0m-2 0h0m3 2h0m-5 0h0m-3 1h0m1 0h0m-2 0h0m6 1h0m3 0h0m-6 0h0m-2 0h0m6 0h0m-5 0h0m-4 0h0m7 1h0m-5 1h0m3 1h0m-2 0h0m1 0h0m-3 1h0m1 0h0m1 1h0m3 0h0m-5 0h0m9 0h0m-5 0h0m4 1h0m-3 0h0m-1 1h0m1 0h0m-5 0h0m9 0h0m-2 0h0m1 1h0m-9 0h0m11 1h0m-4 1h0m-6 0h0m-1 1h0m5 0h0m4 0h0m-8 0h0m3 0h0m5 1h0m-3 0h0m-1 1h0m4 0h0m-8 1h0m1 1h0m8 0h0m-2 0h0m3 0h0m-5 0h0m-1 1h0m5 1h0m-3 0h0m1 1h0m-3 0h0m-5 1h0m10 2h0m-2 0h0m-2 0h0m-2 0h0m-3 1h0m5 2h0m3 1h0m-1 1h0m0 1h0m-8 0h0m5 0h0m3 3h0m-5 3h0m8 1h0m-5 0h0m-5 2h0m2 2h0m5 0h0m-4 2h0m-1 2h0m9-1h0m4-1h0m0-1h0m-3 0h0m9 0h0m-7-1h0m-1 0h0m1-1h0m1 0h0m4-1h0m-5-1h0m8 0h0m0-2h0m0-1h0m-4-3h0m0-2h0m-1-1h0m1-2h0m-3-1h0m7-1h0m-10-1h0m7 0h0m-8-1h0m3 0h0m-2 0h0m2-1h0m3-1h0m-3-1h0m2-1h0m-2 0h0m-3 0h0m10 0h0m-4-1h0m-2 0h0m3 0h0m-2-1h0m-3 0h0m2-1h0m-3 0h0m9 0h0m-2 0h0m-8-1h0m10 0h0m-2 0h0m-1 0h0m-1-1h0m-2 0h0m-4-1h0m10 0h0m1 0h0m-2 0h0m-5 0h0m-2-1h0m3 0h0m0-1h0m1-1h0m2-1h0m-3 0h0m-2 0h0m7-1h0m-2 0h0m-5 0h0m3-1h0m4 0h0m-1-1h0m1 0h0m-10-1h0m1-1h0m10 0h0m-9-1h0m6 0h0m3 0h0m-8 0h0m5-1h0m-5 0h0m6 0h0m-3-1h0m-5 0h0m8-1h0m-6-1h0m-1 0h0m8 0h0m-4-1h0m-2 0h0m-4 0h0m3-1h0m3 0h0m2-1h0m3 0h0m-7-1h0m-3 0h0m-1-2h0m5 0h0m-4-1h0m4 0h0m3-1h0m0-1h0m13 0h0m-8 1h0m0 1h0m-1 2h0m7 1h0m3 0h0m-6 0h0m-2 0h0m0 1h0m8 2h0m-10 0h0m2 1h0m9 0h0m-2 0h0m-3 0h0m-5 1h0m1 0h0m8 0h0m-7 0h0m-3 1h0m7 0h0m-3 0h0m6 1h0m-1 0h0m-7 1h0m5 1h0m1 0h0m0 1h0m-7 0h0m10 1h0m-5 0h0m3 1h0m-3 0h0m-2 0h0m-2 0h0m-1 1h0m7 1h0m-8 0h0m10 1h0m-6 0h0m-3 1h0m1 0h0m9 0h0m-8 0h0m-3 1h0m4 0h0m-3 0h0m9 0h0m-2 0h0m-3 0h0m-1 1h0m6 0h0m1 0h0m-11 1h0m4 0h0m4 1h0m-8 0h0m8 1h0m-2 0h0m-2 0h0m3 1h0m3 0h0m-7 0h0m-2 0h0m8 1h0m-3 0h0m1 1h0m-3 0h0m-2 1h0m4 2h0m3 0h0m1 1h0m-2 1h0m0 1h0m-3 0h0m0 1h0m0 1h0m-2 1h0m3 0h0m-3 4h0m0 4h0m-1 0h0m4 1h0m3 0h0m-6 3h0m14-2h0m5-3h0m-4 0h0m3-2h0m2 0h0m-10-3h0m8-2h0m-2-2h0m-3-1h0m-2 0h0m9-1h0m-11-1h0m6 0h0m1 0h0m4-2h0m-7-1h0m-4 0h0m7 0h0m1-1h0m2-1h0m1 0h0m-10 0h0m3 0h0m6-1h0m-2 0h0m1 0h0m-9 0h0m3 0h0m2-1h0m4 0h0m-9 0h0m10-1h0m1 0h0m-2 0h0m-3 0h0m-2 0h0m2-1h0m5-1h0m-4 0h0m1-1h0m-8 0h0m6 0h0m1-1h0m-6-1h0m9 0h0m-4 0h0m-3-1h0m-2 0h0m3 0h0m6 0h0m-2 0h0m-8-1h0m2 0h0m3 0h0m-3-1h0m7-1h0m-2-1h0m3 0h0m-1 0h0m-5 0h0m-4-1h0m1 0h0m9-1h0m-2-1h0m-2 0h0m4-1h0m-1 0h0m-8-1h0m6 0h0m-4-2h0m-2 0h0m4 0h0m5-1h0m-9 0h0m2-3h0m15 0h0m-4 1h0m9 0h0m0 1h0m-9 0h0m1 1h0m8 0h0m-9 1h0m9 2h0m-9 0h0m9 2h0m-9 0h0m3 2h0m-3 0h0m1 0h0m7 1h0m-5 0h0m2 1h0m4 0h0m-11 1h0m4 0h0m-2 1h0m5 0h0m1 0h0m-2 0h0m3 0h0m2 1h0m-5 0h0m3 0h0m1 1h0m-2 0h0m-1 1h0m1 0h0m1 0h0m-7 0h0m-1 0h0m6 1h0m1 0h0m-2 0h0m-4 1h0m-2 0h0m7 1h0m4 0h0m-7 0h0m1 1h0m-1 0h0m-3 1h0m9 0h0m-8 1h0m-1 0h0m10 0h0m-3 0h0m-6 1h0m8 0h0m-5 0h0m4 0h0m-4 1h0m2 0h0m-7 1h0m10 0h0m-8 2h0m8 1h0m-4 0h0m0 1h0m2 1h0m-7 1h0m9 0h0m-4 2h0m-2 3h0m7 1h0m-5 1h0m-6 0h0m6 1h0m-2 0h0m4 1h0m-7 0h0m16-1h0m-3 0h0m2 0h0m0-1h0m-2 0h0m3 0h0m-2 0h0m7-1h0m-5 0h0m3 0h0m0-1h0m-8-1h0m2-2h0m-1-2h0m3-2h0m1-2h0m0-1h0m-3-1h0m9 0h0m-2-1h0m-6 0h0m-2 0h0m3-2h0m4 0h0m-3-1h0m-2 0h0m7 0h0m-1-1h0m-2 0h0m-3-1h0m0-1h0m-2 0h0m6 0h0m3 0h0m-8 0h0m2-1h0m4-1h0m-2 0h0m1 0h0m-5 0h0m1 0h0m-3-1h0m6 0h0m1 0h0m2 0h0m1 0h0m-11 0h0m9-1h0m-1 0h0m3 0h0m-5 0h0m-3 0h0m1 0h0m3-1h0m-2 0h0m1 0h0m-4 0h0m1 0h0m-2 0h0m3-1h0m6 0h0m-10-1h0m3 0h0m-2 0h0m5-1h0m-6 0h0m10 0h0m-2-1h0m-8-1h0m10-1h0m0-1h0m-3 0h0m-1-1h0m-5-1h0m13 1h0m8 1h0m-4 1h0m5 0h0m-5 1h0m-1 1h0m-5 0h0m9 0h0m-7 1h0m-1 0h0m9 1h0m-6 0h0m2 0h0m-3 0h0m7 1h0m-10 0h0m3 0h0m1 1h0m4 0h0m-8 0h0m3 0h0m-2 0h0m-1 1h0m9 0h0m-3 0h0m4 1h0m1 0h0m-11 0h0m1 1h0m3 0h0m-4 1h0m9 0h0m-2 0h0m-5 1h0m-2 0h0m9 0h0m2 0h0m-6 1h0m1 0h0m-6 0h0m4 1h0m3 0h0m-7 0h0m3 0h0m8 1h0m-7 0h0m2 0h0m-6 0h0m9 1h0m-2 0h0m-7 0h0m10 2h0m0 1h0m-4 1h0m0 1h0m-1 1h0m-5 0h0m6 1h0m-4 3h0m7 0h0m0 2h0m-2 1h0m1 0h0m2 1h0m-5 0h0m1 0h0m-6 1h0m20-2h0m-5 0h0m3 0h0m-5 0h0m8 0h0m-2 0h0m3 0h0m-8 0h0m-1-1h0m2-3h0m8-1h0m-4-1h0m-4-1h0m5-1h0m3 0h0m-7-1h0m4 0h0m3 0h0m-1 0h0m-3-3h0m-6-1h0m2 0h0m7 0h0m-10-1h0m4 0h0m0-1h0m-4 0h0m11 0h0m-10 0h0m8-1h0m-4 0h0m-5 0h0m1 0h0m6-1h0m-2 0h0m3 0h0m-2 0h0m-5 0h0m5-1h0m-2 0h0m-3 0h0m3-1h0m-1 0h0m-3 0h0m7-1h0m1 0h0m2 0h0m-3-1h0m-7-1h0m9 0h0m-2 0h0m-1 0h0m-6-1h0m11 0h0m-6 0h0m5-1h0m-2 0h0m2-1h0m-1 0h0m0-1h0m-7 0h0m-2 0h0m3-1h0m3 0h0m1-1h0m12 2h0m4 2h0m-1 0h0m-8 2h0m7 1h0m-2 0h0m3 0h0m-4 0h0m-6 0h0m11 0h0m-10 0h0m9 1h0m-5 0h0m2 1h0m-4 0h0m3 0h0m5 0h0m-1 2h0m-6 0h0m1 0h0m-5 1h0m8 0h0m-4 0h0m5 1h0m-2 0h0m3 0h0m-2 0h0m-6 0h0m3 0h0m-2 0h0m3 0h0m5 1h0m-1 1h0m-1 2h0m-4 0h0m-5 1h0m9 1h0m-6 0h0m8 0h0m-1 1h0m-9 1h0m6 0h0m-1 1h0m-6 0h0m8 3h0m-8 1h0m7 0h0m-4 1h0m1 0h0m-4 1h0m17-4h0m-5-1h0m8 0h0m0-1h0m-5-1h0m-3-1h0m3 0h0m0-1h0m8-1h0m-10 0h0m2 0h0m5-1h0m-6 0h0m3-1h0m5-1h0m-2 0h0m-5 0h0m-2 0h0m9-1h0m-10 0h0m1 0h0m7-1h0m-3 0h0m-2 0h0m1 0h0m3 0h0m3-1h0m-5 0h0m-5 0h0m1 0h0m10 0h0m-7 0h0m-2-1h0m3 0h0m-5 0h0m11 0h0m-10 0h0m5 0h0m3 0h0m-2 0h0m1 0h0m1-1h0m1 0h0m-2 0h0m-6 0h0m9-1h0m-5 0h0m3 0h0m-5 0h0m3 0h0m-6-1h0m5 0h0m4 0h0m-2 0h0m-3 0h0m-1-1h0m-1-1h0m8 0h0m-4-1h0m-5 0h0m1 0h0m1-1h0m-2-1h0m4 0h0m1-1h0m4 0h0m-5 0h0m-4-1h0m7 0h0m0-2h0m-2 0h0m-6-1h0m14 3h0m1 1h0m-4 0h0m3 0h0m0 1h0m2 1h0m6 1h0m-3 0h0m-5 0h0m0 2h0m3 0h0m-1 0h0m-1 1h0m3 0h0m1 1h0m-8 0h0m9 0h0m-5 0h0m3 1h0m3 0h0m-2 0h0m-1 1h0m-5 0h0m1 0h0m8 0h0m-2 1h0m1 0h0m-3 0h0m1 0h0m0 1h0m-8 0h0m3 0h0m8 1h0m-6 0h0m1 1h0m4 1h0m-2 0h0m-8 0h0m0 1h0m3 0h0m4 1h0m3 0h0m-3 2h0m-2 0h0m-5 1h0m10 1h0m-9 0h0m5 0h0m-2 0h0m16 1h0m-3-3h0m-3 0h0m1-1h0m2-1h0m3 0h0m-6-1h0m-2-2h0m3 0h0m5 0h0m1 0h0m-8 0h0m4 0h0m-3-1h0m6 0h0m1 0h0m1 0h0m-4 0h0m-5 0h0m4 0h0m6-1h0m-7 0h0m6 0h0m-7 0h0m8-1h0m-5 0h0m-2 0h0m-1 0h0m2 0h0m1-1h0m-1 0h0m-5 0h0m6-1h0m-1 0h0m6 0h0m-5-2h0m-1 0h0m6 0h0m-5-1h0m1 0h0m-5 0h0m6 0h0m0-1h0m-6-1h0m1 0h0m8-1h0m-5 0h0m4 0h0m-3-1h0m3 0h0m-10 0h0m6-1h0m-1 0h0m8-1h0m6 1h0m-4 0h0m-3 1h0m3 1h0m8 0h0m-1 0h0m-10 1h0m6 1h0m2 0h0m-1 1h0m-6 0h0m1 0h0m3 0h0m5 1h0m-9 0h0m4 0h0m-5 0h0m8 1h0m3 0h0m-2 0h0m1 0h0m-6 0h0m5 1h0m1 0h0m-6 0h0m-2 0h0m-2 0h0m3 0h0m-1 1h0m5 0h0m-2 0h0m-2 1h0m-1 1h0m9 0h0m-7 0h0m4 1h0m3 0h0m-5 0h0m4 0h0m-6 1h0m1 0h0m-5 1h0m11 0h0m-5 0h0m4 1h0m-3 0h0m-2 0h0m-4 0h0m-1 0h0m8 0h0m-6 1h0m-2 0h0m8 1h0m2 0h0m-8 0h0m4 1h0m1 0h0m-5 1h0m1 0h0m9 1h0m2-1h0m9 0h0m-7-1h0m-4-1h0m9 0h0m-1-1h0m-5 0h0m0-1h0m-3 0h0m9-1h0m-5 0h0m-2 0h0m3 0h0m4-1h0m-2 0h0m-5 0h0m5-1h0m-4-1h0m1 0h0m3 0h0m-2 0h0m-5 0h0m11 0h0m-5 0h0m0-1h0m1 0h0m-5 0h0m6 0h0m2 0h0m-6-1h0m3 0h0m-2 0h0m3 0h0m-8-1h0m1 0h0m3 0h0m3-1h0m-5 0h0m3 0h0m3 0h0m-5 0h0m7-1h0m1 0h0m-5 0h0m4-1h0m-10 0h0m8 0h0m1 0h0m2-1h0m-8 0h0m-1 0h0m3 0h0m4-1h0m1-3h0m12 0h0m-2 1h0m1 2h0m-7 1h0m8 0h0m-9 0h0m-1 1h0m5 1h0m4 0h0m0 1h0m-2 0h0m-4 0h0m-2 0h0m3 0h0m6 0h0m-9 1h0m9 0h0m-1 1h0m-2 0h0m-4 0h0m2 0h0m5 0h0m1 0h0m-1 1h0m-3 0h0m-1 0h0m-4 0h0m3 0h0m-5 0h0m11 1h0m-3 0h0m-4 0h0m-2 0h0m8 1h0m-2 0h0m-2 0h0m1 0h0m3 1h0m1 0h0m-8 0h0m7 1h0m1 0h0m-5 0h0m-5 0h0m3 0h0m7 1h0m-5 0h0m3 0h0m-5 0h0m1 1h0m4 0h0m-7 1h0m3 0h0m6 0h0m-9 1h0m9 0h0m-6 1h0m6 0h0m-11 1h0m8 0h0m0 1h0m13-1h0m-4-1h0m-1 0h0m2 0h0m0-2h0m-1-1h0m4 0h0m-8-1h0m4 0h0m-2 0h0m3 0h0m3 0h0m-8-1h0m3 0h0m0-1h0m-2 0h0m-2 0h0m8 0h0m-1 0h0m0-1h0m-6 0h0m1 0h0m8 0h0m-1 0h0m2 0h0m-7 0h0m-2-1h0m3 0h0m-2 0h0m3 0h0m1 0h0m-3 0h0m6-1h0m-7 0h0m1 0h0m7-1h0m-3 0h0m-2 0h0m3 0h0m-2 0h0m-3 0h0m-2 0h0m9-1h0m-6 0h0m2 0h0m-2-1h0m-2 0h0m3 0h0m3-1h0m-8 0h0m10-1h0m-10 0h0m6-1h0m-5 0h0m9 0h0m-3 0h0m3-1h0m-9-1h0m4 0h0m13 1h0m1 0h0m-8 0h0m10 2h0m-5 1h0m-2 0h0m-1 0h0m6 2h0m-8 0h0m3 0h0m3 0h0m-5 0h0m6 1h0m-6 0h0m-1 0h0m11 0h0m-6 0h0m-2 0h0m6 0h0m1 1h0m-5 0h0m-2 0h0m4 0h0m0 1h0m3 0h0m-2 0h0m-1 1h0m-2 0h0m-2 0h0m5 0h0m1 1h0m-2 0h0m-5 0h0m6 0h0m0 1h0m1 0h0m-3 0h0m5 1h0m-5 0h0m3 0h0m-8 0h0m3 1h0m6 1h0m-10 0h0m6 0h0m-3 0h0m10 3h0m2-1h0m7-1h0m-5-1h0m-1 0h0m-4-1h0m3 0h0m1 0h0m1-1h0m-4 0h0m0-1h0m10 0h0m-8 0h0m1 0h0m4-1h0m3 0h0m-8 0h0m-2 0h0m6-1h0m1 0h0m1 0h0m-9 0h0m1 0h0m1 0h0m9 0h0m-3-1h0m-8 0h0m1 0h0m6 0h0m-2-1h0m-2 0h0m3 0h0m4 0h0m-10-1h0m7 0h0m1 0h0m3 0h0m-7-1h0m-2 0h0m9 0h0m-6-1h0m3-1h0m-3 0h0m-2 0h0m3 0h0m5-1h0m-5 0h0m3 0h0m1-1h0m1 0h0m-6-1h0m1 0h0m0-1h0m-5 0h0m15 1h0m4 1h0m-2 1h0m3 0h0m-7 1h0m6 1h0m-7 0h0m1 0h0m8 0h0m1 1h0m-8 0h0m3 0h0m4 1h0m1 0h0m-11 0h0m6 0h0m-2 0h0m7 1h0m-2 0h0m-5 0h0m3 1h0m3 0h0m-2 0h0m-8 0h0m2 1h0m5 0h0m3 0h0m-2 0h0m1 0h0m-3 0h0m-5 0h0m0 1h0m4 0h0m4 0h0m-9 0h0m4 0h0m-4 1h0m1 0h0m2 0h0m4 0h0m-2 0h0m1 0h0m2 0h0m1 0h0m-2 1h0m-2 0h0m1 0h0m-2 1h0m6 0h0m-4 1h0m4 0h0m-2 1h0m-8 0h0m10 0h0m-3 1h0m15-1h0m1-1h0m-2 0h0m-2-1h0m2 0h0m-9 0h0m5-1h0m-5 0h0m1 0h0m5-1h0m2 0h0m-4 0h0m-1 0h0m6 0h0m-3-1h0m-5 0h0m6 0h0m-2 0h0m6 0h0m0-1h0m-11 0h0m0-1h0m6 0h0m4 0h0m-2 0h0m1 0h0m-2-1h0m3 0h0m1 0h0m-2 0h0m-7 0h0m-2 0h0m6 0h0m-2 0h0m3-2h0m3 0h0m-7 0h0m1-1h0m4-1h0m1 0h0m-3-1h0m-2 0h0m3 0h0m1-1h0m-5 0h0m9 0h0m5 1h0m1 0h0m-6 0h0m5 1h0m2 1h0m2 0h0m-5 0h0m0 2h0m2 0h0m3 0h0m-2 0h0m-2 0h0m-2 1h0m-2 0h0m7 0h0m3 0h0m-3 1h0m-8 0h0m1 0h0m3 0h0m5 0h0m1 0h0m1 1h0m-9 0h0m2 0h0m5 0h0m-1 1h0m-2 0h0m-4 0h0m-1 0h0m8 0h0m0 1h0m-1 0h0m2 0h0m-8 0h0m1 0h0m3 0h0m1 1h0m-7 0h0m9 1h0m-2 0h0m-5 3h0m14 0h0m1 0h0m4-1h0m1 0h0m-10-1h0m2 0h0m0-1h0m1 0h0m-3-1h0m3 0h0m-2 0h0m9 0h0m-3 0h0m-5 0h0m6-1h0m-7 0h0m3-1h0m3 0h0m-1 0h0m-6 0h0m3 0h0m7-1h0m-6 0h0m1 0h0m3 0h0m-5 0h0m4-1h0m1 0h0m-8 0h0m2-1h0m3 0h0m6 0h0m-5 0h0m-3 0h0m6 0h0m-1-1h0m-4 0h0m-1 0h0m-2 0h0m8 0h0m-2-1h0m-5 0h0m6 0h0m-2 0h0m-6 0h0m10 0h0m-9-1h0m9 0h0m-5 0h0m3 0h0m-1-1h0m0-1h0m14-1h0m-1 0h0m-2 1h0m1 1h0m-5 1h0m6 0h0m-8 0h0m1 0h0m8 0h0m2 0h0m-4 1h0m3 0h0m-4 0h0m-5 0h0m1 1h0m8 1h0m-6 0h0m-2 0h0m3 0h0m3 0h0m-2 0h0m-6 0h0m11 1h0m-10 0h0m8 0h0m1 0h0m-5 0h0m-2 0h0m3 0h0m1 1h0m3 0h0m-6 0h0m-2 0h0m7 1h0m-4 0h0m-5 1h0m1 0h0m8 0h0m-5 0h0m4 0h0m-5 0h0m3 0h0m-3 1h0m2 1h0m-4 0h0m5 0h0m1 1h0m3 0h0m2 2h0m9-1h0m-2 0h0m-5 0h0m5-1h0m3 0h0m0-1h0m-5 0h0m4-1h0m-2 0h0m3 0h0m-6 0h0m7 0h0m-1-2h0m-7 0h0m8 0h0m-4 0h0m-5-1h0m3 0h0m3 0h0m-1 0h0m3 0h0m-6 0h0m2-1h0m-6 0h0m1 0h0m7 0h0m2 0h0m-3-1h0m-3 0h0m-2 0h0m3 0h0m4-1h0m2 0h0m-6 0h0m2 0h0m1 0h0m-8 0h0m11-1h0m-10 0h0m1 0h0m3 0h0m3 0h0m-5 0h0m6-1h0m2 0h0m-10-1h0m4 0h0m-5 0h0m3-1h0m19 2h0m-2 0h0m-5 0h0m0 1h0m3 0h0m-4 1h0m3 0h0m-2 0h0m5 0h0m-2 0h0m-1 1h0m-2 0h0m-3 0h0m4 0h0m6 0h0m-8 1h0m-1 0h0m9 0h0m-4 1h0m3 0h0m-7 0h0m1 0h0m8 0h0m-10 1h0m8 0h0m-2 0h0m-7 0h0m9 1h0m-2 0h0m-5 0h0m2 0h0m-3 0h0m3 1h0m-2 0h0m3 0h0m-4 1h0m8 0h0m1 0h0m-3 0h0m-4 0h0m-3 1h0m6 1h0m-2 0h0m6 0h0m10-1h0m2 0h0m-10-1h0m6 0h0m2 0h0m-3-1h0m-4 0h0m10-1h0m-5 0h0m4 0h0m-2 0h0m-3 0h0m-2-1h0m8 0h0m-4 0h0m-2 0h0m1-1h0m3 0h0m-5 0h0m-3 0h0m4 0h0m4-1h0m-1 0h0m-2 0h0m-6 0h0m9-1h0m-5 0h0m1 0h0m-2 0h0m4-1h0m-5 0h0m1 0h0m2-1h0m-4-1h0m10 0h0m-4 0h0m3-1h0m-10 0h0m2-1h0m4 0h0m10 2h0m1 0h0m1 1h0m-1 0h0m6 1h0m-2 0h0m-5 0h0m6 0h0m-7 1h0m4 0h0m-2 0h0m-4 0h0m1 0h0m9 1h0m-1 0h0m-7 0h0m2 0h0m3 1h0m1 0h0m-5 0h0m6 0h0m-5 0h0m-3 1h0m1 0h0m5 0h0m1 0h0m1 0h0m-4 0h0m-1 1h0m-4 0h0m-1 0h0m3 0h0m3 1h0m4 0h0m-8 0h0m-2 0h0m10 1h0m-2 0h0m-4 1h0m3 0h0m-1 1h0m-4 0h0m11-1h0m3-1h0m6 0h0m-10 0h0m11-1h0m-10 0h0m5-1h0m-5 0h0m7 0h0m3 0h0m0-1h0m-2 0h0m1 0h0m-6 0h0m1 0h0m-3 0h0m6 0h0m-2-1h0m-2 0h0m6 0h0m-5 0h0m-3 0h0m7 0h0m-7-1h0m-2 0h0m8 0h0m1 0h0m1-1h0m-10 0h0m3 0h0m5 0h0m3 0h0m-8-1h0m6 0h0m-3 0h0m-2 0h0m1 0h0m-2-1h0m7 0h0m-3 0h0m-4-1h0m6 0h0m-5 0h0m-4-1h0m8 0h0m3 0h0m-7 0h0m8 0h0m8 1h0m-2 0h0m-4 1h0m9 0h0m-8 1h0m-2 0h0m6 0h0m-2 0h0m-2 1h0m-2 0h0m9 0h0m-5 1h0m6 0h0m-2 0h0m0 1h0m-8 0h0m1 0h0m3 0h0m5 0h0m-10 0h0m10 1h0m-4 0h0m-5 0h0m-1 1h0m3 0h0m1 0h0m6 0h0m1 1h0m-5 0h0m-3 0h0m5 1h0m3 0h0m-4 0h0m-2 0h0m-1 1h0m8 1h0m1-2h0m1 0h0m3 0h0m-5 0h0m3 0h0m1-1h0m5 0h0m-4-1h0m1 0h0m1 0h0m-6-1h0m10 0h0m-4 0h0m3-1h0m1 0h0m-5 0h0m3 0h0m-8 0h0m1 0h0m3 0h0m3-1h0m2 0h0m-7 0h0m-2 0h0m7-1h0m3 0h0m-5 0h0m-5 0h0m3 0h0m-2 0h0m6-1h0m3 0h0m-7 0h0m1 0h0m3-1h0m2 0h0m-3-1h0m3 0h0m-2 0h0m3 0h0m-8-1h0m20 1h0m-10 0h0m4 1h0m3 0h0m1 0h0m-8 0h0m3 0h0m6 1h0m-4 0h0m3 0h0m-8 0h0m1 1h0m8 0h0m-7 0h0m3 0h0m4 1h0m-4 0h0m3 0h0m-6 0h0m1 0h0m-3 1h0m1 0h0m8 0h0m-10 0h0m11 0h0m-8 0h0m3 0h0m3 0h0m-6 1h0m1 0h0m-3 0h0m9 0h0m-3 0h0m2 1h0m-8 0h0m1 0h0m3 0h0m-2 0h0m2 1h0m1 0h0m-4 0h0m8 0h0m-6 1h0m-2 0h0m8 0h0m-6 1h0m0 1h0m14 0h0m-6-1h0m5 0h0m-1-1h0m-1-1h0m3 0h0m1 0h0m-1-1h0m-5 0h0m1 0h0m8 0h0m0-1h0m-1 0h0m-6 0h0m1 0h0m-4 0h0m11 0h0m-6-1h0m-3 0h0m5-1h0m-6 0h0m3 0h0m-2 0h0m8 0h0m-3-1h0m-6 0h0m3 0h0m-3-1h0m7 0h0m1 0h0m-2-1h0m-1 0h0m-5-1h0m6 0h0m3-1h0m4 0h0m6 1h0m-3 0h0m3 1h0m-1 0h0m-3 0h0m2 1h0m-4 0h0m9 0h0m-3 1h0m1 0h0m-2 0h0m1 1h0m-5 0h0m6 0h0m-5 0h0m3 0h0m-6 0h0m9 1h0m-2 0h0m3 0h0m-2 0h0m-5 0h0m3 0h0m-6 0h0m4 1h0m-4 0h0m2 0h0m5 1h0m-3 0h0m-2 0h0m3 0h0m-5 0h0m1 1h0m-1 0h0m9 0h0m-3 0h0m-2 0h0m-2 0h0m-1 1h0m2 1h0m3 0h0m-6 1h0m2 0h0m20 0h0m-10-1h0m6-1h0m-6-1h0m7 0h0m-2-1h0m-2 0h0m6 0h0m-5 0h0m-5-1h0m2 0h0m5 0h0m1 0h0m-5 0h0m3 0h0m-2 0h0m6-1h0m-10 0h0m7-1h0m1 0h0m3 0h0m-8 0h0m3 0h0m-5-1h0m6 0h0m1 0h0m3 0h0m-11 0h0m6 0h0m-4 0h0m6-1h0m-3 0h0m-5 0h0m3 0h0m1 0h0m2-1h0m4 0h0m-5-1h0m16-1h0m-4 1h0m3 0h0m1 0h0m-9 0h0m6 0h0m-1 1h0m-1 0h0m0 1h0m-4 0h0m3 0h0m-1 1h0m2 0h0m6 0h0m1 0h0m-6 0h0m1 0h0m1 1h0m-2 0h0m4 0h0m-5 1h0m1 0h0m3 0h0m-6 1h0m-2 0h0m3 0h0m4 0h0m1 0h0m3 0h0m-2 0h0m1 1h0m-8 0h0m4 0h0m2 1h0m-1 0h0m-5 0h0m-1 0h0m4 1h0m4 0h0m-7 0h0m4 1h0m2 0h0m-4 0h0m9 0h0m3 0h0m3-1h0m-2 0h0m-3 0h0m9-1h0m-9 0h0m3 0h0m1 0h0m-6 0h0m10-1h0m-10 0h0m1 0h0m3 0h0m3-1h0m1 0h0m3 0h0m-9 0h0m-2 0h0m5-1h0m-3 0h0m1 0h0m3 0h0m-5 0h0m3 0h0m5 0h0m1-1h0m-8 0h0m-2 0h0m6 0h0m-2 0h0m-3-1h0m1-1h0m-2 0h0m3-1h0m3 0h0m-6-1h0m15-1h0m1 0h0m1 0h0m3 1h0m-3 1h0m3 0h0m3 0h0m-4 0h0m0 1h0m-2 0h0m-4 0h0m6 1h0m1 0h0m2 0h0m-8 0h0m1 0h0m4 1h0m-5 0h0m9 0h0m-5 0h0m-6 0h0m1 0h0m0 1h0m6 0h0m-2 0h0m3 0h0m-2 0h0m-6 0h0m9 1h0m1 0h0m-8 0h0m4 0h0m-3 0h0m-3 1h0m3 0h0m1 0h0m5 0h0m1 0h0m-2 0h0m-2 0h0m-5 1h0m3 0h0m3 0h0m-4 0h0m1 1h0m6 0h0m-3 0h0m4 0h0m-4 1h0m2 0h0m1 0h0m5 1h0m3-1h0m1-1h0m1-1h0m-8 0h0m10 0h0m-5-1h0m-5 0h0m6-1h0m-3 0h0m-2 0h0m9 0h0m-3 0h0m-5 0h0m3-1h0m-5 0h0m11 0h0m-3 0h0m2 0h0m-3 0h0m-5 0h0m-2-1h0m11 0h0m-7 0h0m1 0h0m3 0h0m-2 0h0m5-1h0m-6 0h0m3 0h0m-5 0h0m8-1h0m-2 0h0m-7 0h0m-2 0h0m10-1h0m-8 0h0m6 0h0m-2 0h0m-6 0h0m3 0h0m8 0h0m-6-1h0m-5 0h0m12 0h0m0 1h0m7 1h0m-1 1h0m-2 0h0m-2 1h0m6 0h0m2 1h0m-6 0h0m-2 0h0m3 0h0m-4 0h0m2 0h0m-3 0h0m6 1h0m-6 0h0m9 0h0m-2 0h0m2 1h0m-9 0h0m1 0h0m-1 1h0m4 1h0m-1 1h0m16 1h0m-6-1h0m7-3h0m-6 0h0m8-2h0m-1 0h0m-6 0h0m6-1h0m-5 0h0m-3 0h0m8-1h0m-7-1h0m11-1h0m7 3h0m-6 1h0m9 0h0m-7 0h0m3 0h0m-6 1h0m2 1h0m-1 1h0m5 1h0m-2 0h0m-1 0h0m13 0h0m5-3h0m-1 0h0m-8-1h0m0-1h0m7 0h0m2-1h0m-7-1h0m5-1h0m6 1h0m4 3h0m-2 0h0m2 2h0m-5 0h0m6 1h0m3 0h0m1 2h0m10 2h0m0-2h0m-5-5h0m-3 0h0m-1 0h0m3-2h0m4-2h0m4-1h0m12 2h0m-8 1h0m8 1h0m-7 0h0m6 1h0m-3 0h0m-5 0h0m5 1h0m0 1h0m4 1h0m-1 1h0m2 0h0m8-1h0m2-1h0m-5-1h0m0-1h0m1 0h0m-3-1h0m-2 0h0m5 0h0m4-1h0m1 0h0m-4-1h0m13 0h0m-1 1h0m-5 0h0m6 1h0m-2 0h0m1 0h0m-4 1h0m4 0h0m-7 1h0m8 0h0m-5 0h0m6 0h0m-6 1h0m1 0h0m-3 1h0m13 2h0m-1-1h0m10-3h0m-3 0h0m2-2h0m-5 0h0m-1 0h0m7-1h0m-7 0h0m3-1h0m-6 0h0m16-2h0m-5 2h0m7 2h0m2 0h0m2 0h0m-6 0h0m-5 2h0m10 0h0m1 1h0m-7 2h0m-4 3h0m3 4h0m15 2h0m4-3h0m-3-7h0m-4 0h0m2-1h0m1-2h0m-2 0h0m20-3h0m50-6h0" stroke="#BDBDBD" stroke-width="7.4" stroke-linecap="round" fill="none" stroke-opacity="0.5"/>
<path transform="scale(0.5)" d="M251 1427h0m-4 2h0m-2 0h0m4 2h0m-1 2h0m-1 0h0m-1 1h0m3 0h0m2 1h0m-3 2h0m-3 1h0m5 0h0m-4 1h0m1 0h0m1 1h0m-2 1h0m3 0h0m-4 0h0m2 3h0m2 1h0m2 1h0m-5 0h0m1 0h0m4 1h0m-3 0h0m-2 0h0m0 1h0m1 0h0m4 0h0m-4 1h0m2 0h0m2 0h0m-3 1h0m2 0h0m0 1h0m-3 1h0m1 2h0m-2 0h0m1 1h0m4 1h0m-4 0h0m-2 1h0m6 0h0m-4 1h0m0 1h0m4 0h0m-4 1h0m4 0h0m-2 3h0m-2 0h0m4 2h0m-5 0h0m4 1h0m-2 1h0m3 1h0m-1 1h0m-1 0h0m-3 1h0m0 4h0m3 2h0m-1 1h0m-2 0h0m0 5h0m2 1h0m-5 0h0m6 1h0m-2 0h0m-4 0h0m0 1h0m1 0h0m0 1h0m-1 1h0m3 1h0m1 0h0m0 1h0m1 1h0m1 0h0m-5 2h0m1 0h0m3 0h0m-1 1h0m7-3h0m9-3h0m-7-3h0m-4 0h0m3 0h0m7-1h0m-4 0h0m3 0h0m-8 0h0m3 0h0m1 0h0m4-1h0m-4 0h0m2 0h0m0-1h0m-3 0h0m-4-5h0m1-3h0m4-1h0m-4-2h0m2-1h0m0-1h0m-2-1h0m9 0h0m-2-1h0m-1 0h0m-7-1h0m6 0h0m5-1h0m-3-1h0m-6-1h0m4 0h0m5-1h0m-3 0h0m-6 0h0m1-1h0m5-1h0m-3 0h0m1-2h0m1 0h0m-5 0h0m9 0h0m-9-1h0m6 0h0m-1-1h0m-6-1h0m0-1h0m1 0h0m-2 0h0m11 0h0m-5 0h0m5-1h0m-2 0h0m-6-1h0m3 0h0m-1 0h0m6-1h0m-7-1h0m2-1h0m-4 0h0m8 0h0m-9-1h0m1 0h0m2-1h0m-2 0h0m-1-1h0m3 0h0m6 0h0m1 0h0m-3 0h0m-7-2h0m3 0h0m4 0h0m-8-1h0m7 0h0m-6 0h0m8-1h0m-7-1h0m2-1h0m3-1h0m2-1h0m-9 0h0m2-1h0m2-1h0m-2-2h0m1 0h0m3-1h0m3 0h0m-8-2h0m0-4h0m11 5h0m11 2h0m-8 1h0m-3 1h0m2 0h0m1 1h0m4 0h0m-7 1h0m3 0h0m2 2h0m-4 1h0m9 0h0m-3 0h0m-1 1h0m4 0h0m-10 0h0m9 1h0m-8 0h0m-1 0h0m7 1h0m3 1h0m-6 1h0m-2 0h0m4 1h0m4 1h0m1 0h0m-2 0h0m-8 1h0m4 1h0m3 0h0m-7 1h0m6 0h0m0 2h0m-4 1h0m7 0h0m-2 0h0m-8 0h0m7 1h0m4 0h0m-4 1h0m-7 2h0m9 0h0m-8 0h0m7 1h0m-3 0h0m2 0h0m-6 0h0m7 1h0m-2 0h0m-4 0h0m-1 1h0m1 0h0m9 0h0m-10 1h0m6 1h0m3 0h0m-9 1h0m8 0h0m-1 1h0m-3 0h0m-2 2h0m6 0h0m-1 0h0m-1 2h0m1 2h0m-2 0h0m-5 1h0m3 1h0m2 0h0m4 1h0m-1 2h0m2 1h0m-11 4h0m7 0h0m-3 0h0m0 1h0m-4 0h0m7 0h0m3 1h0m-2 0h0m-3 0h0m-1 1h0m-1 0h0m6 0h0m2 2h0m-3 1h0m-1 1h0m-4 1h0m4 0h0m5-2h0m1 0h0m4-1h0m6-1h0m-9-2h0m0-2h0m2 0h0m-2-1h0m9-1h0m-2 0h0m-2 0h0m3-4h0m-6 0h0m0-1h0m-2-3h0m2-2h0m-3-1h0m7-1h0m-2 0h0m-5 0h0m1-1h0m-1 0h0m2-1h0m-1 0h0m-2 0h0m5-1h0m1 0h0m4 0h0m-3-1h0m3 0h0m-6-1h0m5-1h0m-6-2h0m3 0h0m-4 0h0m6 0h0m-1 0h0m-2 0h0m5-1h0m-10-1h0m7-1h0m1-1h0m-3 0h0m4 0h0m-1-1h0m-2 0h0m-2 0h0m-3 0h0m2-1h0m6-1h0m-4 0h0m-5 0h0m6-1h0m-6 0h0m9-1h0m-7 0h0m-2 0h0m1-1h0m9-1h0m1 0h0m-8 0h0m6 0h0m-5 0h0m0-1h0m-4 0h0m9-1h0m-2 0h0m0-3h0m-4-2h0m-1 0h0m-2 0h0m1-2h0m0-7h0m1-1h0m11 4h0m8 1h0m-9 1h0m4 0h0m1 2h0m-3 4h0m2 0h0m-3 1h0m6 1h0m3 1h0m1 0h0m-6 1h0m6 0h0m-4 0h0m-1 0h0m2 1h0m-6 1h0m7 1h0m-2 0h0m2 1h0m1 1h0m-5 0h0m1 0h0m-6 0h0m6 1h0m4 1h0m1 0h0m-11 0h0m1 1h0m-1 0h0m4 0h0m-1 1h0m3 0h0m-5 0h0m7 0h0m1 0h0m-7 1h0m5 0h0m-1 0h0m0 1h0m-5 0h0m7 0h0m1 0h0m-8 1h0m9 0h0m-5 0h0m-5 1h0m3 0h0m-2 0h0m10 1h0m-2 0h0m-4 0h0m-1 0h0m6 1h0m-4 0h0m-4 0h0m5 1h0m-2 1h0m1 0h0m-4 0h0m6 1h0m-2 0h0m-2 0h0m-4 1h0m5 1h0m1 0h0m-4 1h0m8 0h0m-1 0h0m2 2h0m-2 0h0m-6 1h0m-2 0h0m10 1h0m-4 1h0m-2 0h0m2 2h0m-7 5h0m7 0h0m-6 1h0m9 0h0m0 1h0m-3 0h0m-7 1h0m2 2h0m-1 1h0m12-3h0m8-2h0m-9 0h0m7-1h0m3 0h0m-2 0h0m2-1h0m-5 0h0m-2 0h0m3 0h0m0-2h0m1 0h0m3 0h0m-9-2h0m-1-2h0m7-1h0m-2-1h0m0-1h0m-1 0h0m0-1h0m-2-4h0m8 0h0m-8-1h0m6 0h0m-7 0h0m9-1h0m-7 0h0m6-1h0m-9 0h0m11-1h0m-6-1h0m5-1h0m-2 0h0m-3 0h0m-2-1h0m8-1h0m-8 0h0m-2 0h0m1 0h0m7-1h0m-4-1h0m4 0h0m-9-1h0m1 0h0m1 0h0m2 0h0m3 0h0m1 0h0m-4-1h0m3 0h0m3 0h0m1-1h0m-8 0h0m-1-1h0m8 0h0m1 0h0m-2 0h0m-6 0h0m3 0h0m-1-1h0m6 0h0m-8 0h0m7-2h0m-4 0h0m-4 0h0m-2-1h0m4-2h0m6 0h0m-10-1h0m2-2h0m5 0h0m4 0h0m-10-2h0m5-1h0m2-1h0m10 3h0m-3 0h0m1 0h0m4 1h0m3 1h0m-5 0h0m-3 0h0m-1 2h0m-2 0h0m3 0h0m1 0h0m6 0h0m-3 1h0m-7 0h0m3 0h0m1 0h0m-1 1h0m1 1h0m3 1h0m-2 0h0m4 0h0m-6 1h0m1 0h0m1 0h0m-5 0h0m2 1h0m-1 0h0m3 0h0m6 0h0m-5 0h0m-2 1h0m7 0h0m-3 0h0m1 0h0m3 1h0m-11 0h0m10 1h0m-3 0h0m-3 0h0m2 0h0m2 0h0m-1 1h0m2 0h0m-6 1h0m1 0h0m2 1h0m-2 0h0m1 1h0m6 0h0m-8 0h0m-2 1h0m9 1h0m-2 0h0m-1 1h0m1 0h0m2 1h0m-3 1h0m-1 1h0m4 0h0m-7 1h0m7 1h0m-8 0h0m3 0h0m-2 2h0m1 0h0m2 2h0m-4 6h0m-2 2h0m10 1h0m-5 0h0m0 1h0m3 0h0m-4 0h0m-2 0h0m11-1h0m1 0h0m3-1h0m1 0h0m-2 0h0m5-1h0m-3 0h0m-4-1h0m6 0h0m-2 0h0m2-1h0m-4-7h0m2-1h0m3-1h0m-3 0h0m-4 0h0m9-1h0m-10 0h0m4-1h0m3 0h0m3-1h0m-9-1h0m-1 0h0m3 0h0m6 0h0m-10-1h0m2-1h0m3 0h0m3-1h0m-2 0h0m-4-1h0m3 0h0m3 0h0m-4-1h0m5 0h0m-1 0h0m3 0h0m-7-1h0m6 0h0m-5 0h0m-3-1h0m7-1h0m2-2h0m-10 0h0m-1-1h0m10 0h0m-2-1h0m-2 0h0m-6 0h0m10 0h0m-3-1h0m-3-1h0m6-1h0m1 0h0m-7-1h0m2 0h0m3-1h0m1 0h0m-8 0h0m0-2h0m5-1h0m-3-4h0m10 3h0m3 2h0m-2 1h0m6 0h0m-6 2h0m-2 0h0m4 1h0m-1 1h0m5 1h0m-5 0h0m2 0h0m3 1h0m-7 0h0m3 0h0m-5 0h0m9 1h0m-1 0h0m-8 0h0m11 1h0m-7 0h0m-2 0h0m1 0h0m-2 0h0m-1 1h0m9 0h0m-2 0h0m-1 0h0m4 1h0m-5 0h0m-5 0h0m3 0h0m-2 1h0m8 0h0m-5 0h0m0 1h0m-1 0h0m3 0h0m-5 0h0m4 1h0m1 0h0m-6 0h0m7 0h0m3 0h0m1 0h0m-9 1h0m4 0h0m1 0h0m3 0h0m-8 1h0m5 0h0m-7 0h0m10 1h0m-5 0h0m-4 0h0m10 1h0m-5 1h0m-6 0h0m3 0h0m-3 1h0m1 0h0m6 0h0m0 1h0m-3 0h0m-4 0h0m0 1h0m3 1h0m7 0h0m-4 1h0m4 2h0m-9 1h0m8 4h0m-3 0h0m2 1h0m-2 0h0m-3 1h0m-2 0h0m13-1h0m-2 0h0m6-1h0m-6 0h0m2 0h0m7-1h0m1 0h0m-3-4h0m-2 0h0m-3-2h0m4 0h0m-6 0h0m9 0h0m-6-2h0m4 0h0m0-1h0m-1-1h0m5 0h0m-2 0h0m2-1h0m-1 0h0m-6 0h0m6-1h0m-4-1h0m-2-1h0m-1 0h0m4-1h0m3 0h0m-5 0h0m-2 0h0m3 0h0m1-1h0m-4 0h0m-3 0h0m9-1h0m-1 0h0m-3 0h0m-4 0h0m-1 0h0m4-1h0m4 0h0m1 0h0m-4-1h0m-5 0h0m1 0h0m4-1h0m-2 0h0m3 0h0m3 0h0m-7-1h0m9-1h0m-3 0h0m-8-1h0m7 0h0m-5 0h0m7-1h0m-4 0h0m1 0h0m-4 0h0m-1 0h0m0-1h0m8 0h0m-7 0h0m1 0h0m3 0h0m5 0h0m-2-1h0m-3 0h0m-5-1h0m5-1h0m-1-2h0m0-1h0m10 6h0m-3 0h0m1 1h0m3 0h0m2 0h0m4 1h0m0 1h0m-5 0h0m1 0h0m5 1h0m-2 0h0m-2 1h0m1 0h0m-4 0h0m-3 0h0m7 1h0m-6 0h0m1 0h0m8 0h0m-1 1h0m-6 0h0m1 0h0m1 0h0m5 1h0m-7 0h0m1 0h0m2 0h0m1 0h0m-6 0h0m-2 1h0m8 0h0m-5 0h0m-3 1h0m1 0h0m7 0h0m-4 0h0m7 1h0m-4 0h0m3 0h0m-7 0h0m3 0h0m-5 1h0m7 0h0m-4 0h0m5 1h0m-1 1h0m-2 0h0m-6 0h0m1 0h0m6 2h0m3 0h0m-1 0h0m-2 2h0m4 1h0m-6 1h0m-3 0h0m9 1h0m-4 0h0m2 3h0m-7 1h0m-1 0h0m7 0h0m-8 1h0m13-4h0m2 0h0m2-3h0m4 0h0m2-1h0m-7 0h0m1 0h0m-4-1h0m0-1h0m4 0h0m-2 0h0m8-1h0m-4-1h0m-7 0h0m7-1h0m3 0h0m-2 0h0m3 0h0m-2 0h0m0-1h0m-5 0h0m3 0h0m1 0h0m-3 0h0m1-1h0m3 0h0m1-1h0m-8 0h0m3 0h0m-1 0h0m7-1h0m-2 0h0m1 0h0m-2 0h0m-7-1h0m6 0h0m-5 0h0m2 0h0m-1-1h0m6 0h0m-2 0h0m3 0h0m-4-2h0m-2 0h0m-4-1h0m3 0h0m3-1h0m2 0h0m1-1h0m-5 0h0m-3 0h0m7-1h0m-7 0h0m10 0h0m-1-1h0m-10-3h0m4 0h0m-3-2h0m14 2h0m-2 3h0m10 1h0m-3 1h0m-7 0h0m2 0h0m-1 1h0m-1 0h0m-1 2h0m3 0h0m8 0h0m-1 0h0m-8 1h0m-2 0h0m8 0h0m-6 1h0m-2 0h0m3 0h0m1 0h0m-2 1h0m2 0h0m1 0h0m1 0h0m4 0h0m-4 1h0m1 0h0m1 0h0m-5 0h0m8 0h0m-2 0h0m0 1h0m-6 0h0m2 1h0m-2 0h0m8 1h0m-1 0h0m-5 1h0m-4 0h0m2 0h0m8 0h0m-10 1h0m3 1h0m-1 0h0m2 0h0m4 1h0m-5 0h0m-3 1h0m8 0h0m-7 1h0m9 0h0m-6 1h0m-4 0h0m8 3h0m6-1h0m7-1h0m-8 0h0m1 0h0m1-2h0m4 0h0m-2-1h0m-3 0h0m2-1h0m-5 0h0m4-1h0m7 0h0m-3 0h0m-8-1h0m11 0h0m-2 0h0m-7-1h0m-2 0h0m6 0h0m-2 0h0m6 0h0m1-1h0m-7 0h0m7-1h0m-4 0h0m-2 0h0m-3 0h0m-2 0h0m3 0h0m8-1h0m-7 0h0m4-1h0m-7 0h0m1 0h0m3-1h0m-3 0h0m9-1h0m-7-1h0m-2 0h0m7 0h0m-8-1h0m3 0h0m-2 0h0m-2-1h0m1 0h0m3-1h0m-1 0h0m-1-1h0m9 0h0m-7 0h0m1 0h0m4-3h0m11 0h0m0 1h0m-1 1h0m1 1h0m0 1h0m-1 0h0m-5 0h0m7 0h0m1 1h0m-6 0h0m7 1h0m-9 0h0m-2 0h0m11 1h0m-5 0h0m-6 0h0m0 1h0m1 1h0m1 0h0m8 1h0m-9 0h0m0 1h0m9 0h0m-5 0h0m1 1h0m3 0h0m-8 0h0m3 0h0m0 1h0m1 0h0m3 0h0m-2 0h0m3 0h0m-1 1h0m-1 1h0m-2 0h0m-2 0h0m5 0h0m-1 1h0m-7 0h0m8 0h0m3 1h0m-10 0h0m-1 1h0m4 0h0m5 1h0m-8 1h0m6 0h0m-2 0h0m-2 1h0m-3 1h0m1 0h0m18 0h0m-6-2h0m3 0h0m2 0h0m1 0h0m-2-1h0m3 0h0m-5 0h0m6-1h0m-2 0h0m-4 0h0m8-1h0m-11-2h0m8 0h0m1 0h0m-8 0h0m3 0h0m3 0h0m-5 0h0m3 0h0m3-1h0m2 0h0m-1-1h0m-4 0h0m-5-1h0m11 0h0m-6-1h0m-4 0h0m-1 0h0m2 0h0m6 0h0m2 0h0m-6-1h0m-4 0h0m6 0h0m3 0h0m-4-1h0m3 0h0m3 0h0m-5 0h0m3 0h0m2-1h0m-10 0h0m8-1h0m-2 0h0m1-1h0m-5-1h0m2 0h0m4-1h0m-5 0h0m7-1h0m-4-1h0m12-1h0m-6 1h0m4 1h0m4 1h0m-8 0h0m4 1h0m1 0h0m3 0h0m-8 0h0m10 1h0m-3 0h0m-2 0h0m-5 1h0m10 0h0m-4 1h0m4 0h0m-9 1h0m8 0h0m-2 0h0m-5 1h0m7 0h0m-1 1h0m-2 0h0m-4 0h0m2 0h0m-5 0h0m11 1h0m-3 0h0m-1 0h0m-6 0h0m3 0h0m1 0h0m5 0h0m-1 1h0m-2 0h0m-3 0h0m-2 0h0m9 1h0m-2 0h0m-2 0h0m-2 0h0m3 1h0m-2 0h0m3 1h0m-2 0h0m-3 0h0m-2 0h0m0 1h0m6 0h0m-2 1h0m-5 0h0m8 0h0m-2 1h0m1 0h0m-7 1h0m9 0h0m-9 1h0m18 1h0m-4-1h0m3-1h0m-4 0h0m6-1h0m-4 0h0m5-1h0m-2 0h0m-4 0h0m8 0h0m-3-1h0m1 0h0m1 0h0m-10 0h0m11 0h0m-10-1h0m-1 0h0m7-1h0m-6 0h0m9 0h0m-10 0h0m11 0h0m-10-1h0m1 0h0m8 0h0m-2 0h0m-1-1h0m1 0h0m1 0h0m-3 0h0m-4-1h0m1 0h0m-2 0h0m-1-1h0m7 0h0m3-1h0m1 0h0m-5 0h0m-5 0h0m3 0h0m0-1h0m-1-1h0m4 0h0m1-1h0m-5 0h0m4 0h0m3-1h0m-1 0h0m-3-1h0m1-1h0m2-1h0m-8-1h0m15 0h0m0 1h0m-2 0h0m8 1h0m0 1h0m-10 0h0m11 0h0m-9 0h0m0 1h0m-2 1h0m3 0h0m6 0h0m2 1h0m-7 0h0m-2 1h0m3 0h0m1 0h0m3 0h0m-5 0h0m-3 0h0m6 1h0m-5 0h0m8 0h0m-9 1h0m7 0h0m3 0h0m-5 0h0m3 0h0m-3 1h0m1 0h0m-6 0h0m9 0h0m-9 1h0m3 0h0m2 0h0m3 1h0m-5 0h0m3 0h0m-5 0h0m6 0h0m3 0h0m-2 1h0m2 0h0m-10 0h0m8 1h0m-2 0h0m3 0h0m0 1h0m1 0h0m-8 0h0m3 0h0m-5 0h0m8 1h0m-7 0h0m8 1h0m1 0h0m-6 0h0m3 1h0m-5 0h0m1 0h0m11 0h0m1 0h0m1-1h0m-4-1h0m10 0h0m-6 0h0m-1 0h0m6-1h0m-4 0h0m3 0h0m-5 0h0m6-1h0m-5 0h0m1 0h0m-5-1h0m4 0h0m-2 0h0m8-1h0m-8 0h0m1 0h0m1-1h0m2 0h0m-3 0h0m-1 0h0m-1 0h0m6-1h0m3 0h0m-11 0h0m9 0h0m-7 0h0m8 0h0m-4-1h0m3 0h0m-5 0h0m-2 0h0m5 0h0m3-1h0m-4-1h0m2 0h0m-3-1h0m3 0h0m-6-1h0m4 0h0m3 0h0m0-1h0m2-2h0m-10 0h0m17 2h0m-2 0h0m7 0h0m-11 1h0m4 0h0m-3 0h0m6 0h0m1 0h0m-1 1h0m2 0h0m-9 0h0m3 0h0m8 0h0m-11 1h0m10 0h0m0 1h0m-5 0h0m3 0h0m1 0h0m-7 0h0m8 1h0m-5 0h0m4 0h0m-9 0h0m6 0h0m1 1h0m3 0h0m-5 0h0m-5 0h0m6 0h0m4 1h0m-2 0h0m3 0h0m-7 0h0m-3 0h0m0 1h0m9 0h0m-10 0h0m5 1h0m-1 1h0m4 0h0m1 0h0m-5 1h0m-2 0h0m6 0h0m-4 1h0m6 0h0m-7 1h0m-2 2h0m22-1h0m-5 0h0m4-1h0m-1-1h0m-6 0h0m1 0h0m6-1h0m-5 0h0m3 0h0m3 0h0m-2 0h0m-9 0h0m5-1h0m6 0h0m-8 0h0m3 0h0m-5 0h0m3 0h0m3 0h0m0-1h0m-3 0h0m-4 0h0m1 0h0m2-1h0m7 0h0m-5 0h0m-4-1h0m6 0h0m3 0h0m1 0h0m-2 0h0m-9 0h0m5 0h0m1 0h0m-6-1h0m3 0h0m-2 0h0m3 0h0m3 0h0m-5 0h0m3-1h0m-3 0h0m-2 0h0m11-1h0m-4 0h0m3 0h0m-5 0h0m-5 0h0m3 0h0m2-1h0m-5 0h0m3 0h0m1 0h0m4-1h0m-1 0h0m-3 0h0m3-1h0m-2 0h0m3 0h0m-3-1h0m3 0h0m3 0h0m-6-1h0m4 0h0m-8 0h0m5-1h0m-1 0h0m17 2h0m-10 0h0m4 1h0m4 0h0m-2 0h0m3 1h0m-3 0h0m-6 1h0m10 0h0m-5 0h0m3 0h0m-4 1h0m-4 0h0m3 1h0m-2 0h0m7 0h0m-3 1h0m6 0h0m-5 0h0m-4 0h0m-2 0h0m10 0h0m-2 1h0m3 0h0m-5 0h0m-5 0h0m3 0h0m1 1h0m3 0h0m-6 0h0m-2 0h0m7 1h0m2 0h0m1 0h0m1 0h0m-9 0h0m4 0h0m-5 0h0m6 1h0m-7 0h0m3 0h0m-2 0h0m10 1h0m-10 0h0m8 1h0m1 0h0m-3 0h0m4 0h0m-8 0h0m-2 0h0m7 1h0m-4 1h0m1 0h0m14 0h0m-4-2h0m6 0h0m-2 0h0m1 0h0m-8-1h0m9 0h0m-1 0h0m3 0h0m-4 0h0m-2 0h0m-5-1h0m8 0h0m2-1h0m-1 0h0m-4 0h0m1 0h0m-5 0h0m8-1h0m-9 0h0m3 0h0m7-1h0m-6 0h0m3 0h0m-2 0h0m4-1h0m2 0h0m-7 0h0m3 0h0m-2 0h0m3 0h0m-2 0h0m-6 0h0m8-1h0m-5 0h0m-2 0h0m7-1h0m-4 0h0m-4 0h0m5-1h0m3 0h0m-5 0h0m-2 0h0m1-1h0m7 0h0m2 0h0m-10-1h0m3 0h0m7-1h0m4-1h0m-1 1h0m7 0h0m-2 1h0m-5 0h0m6 0h0m-5 0h0m-2 0h0m-1 1h0m11 0h0m-1 1h0m-7 0h0m3 0h0m4 1h0m-10 0h0m1 0h0m10 0h0m-2 1h0m-5 0h0m-1 0h0m3 0h0m-6 1h0m7 0h0m-2 0h0m3 0h0m3 1h0m-2 0h0m-2 0h0m3 0h0m-8 0h0m3 0h0m3 0h0m-5 0h0m-3 0h0m0 1h0m2 0h0m4 1h0m-4 1h0m6 0h0m-5 0h0m-2 0h0m1 1h0m1 0h0m-3 0h0m11 0h0m-3 0h0m-7 1h0m5 1h0m-2 1h0m19-1h0m-4 0h0m-3-1h0m4 0h0m3 0h0m-3-1h0m-5 0h0m8 0h0m-1-1h0m-8 0h0m3 0h0m-2 0h0m-1-1h0m3 0h0m3 0h0m-5 0h0m8 0h0m-1 0h0m-5-1h0m-2 0h0m3 0h0m-5 0h0m8 0h0m-4-1h0m-2 0h0m-3 0h0m1 0h0m8 0h0m-2 0h0m-3 0h0m0-1h0m1 0h0m1 0h0m-6 0h0m8 0h0m-2-1h0m3 0h0m-2 0h0m2-1h0m1 0h0m-10 0h0m7-1h0m-5 0h0m5-1h0m1 0h0m-8 0h0m7-2h0m5 0h0m5 1h0m-4 0h0m-1 1h0m4 0h0m2 1h0m-2 0h0m3 0h0m1 0h0m-4 1h0m1 0h0m-4 0h0m9 0h0m-5 1h0m-5 0h0m11 0h0m-5 1h0m3 0h0m-1 0h0m3 0h0m-1 0h0m-4 1h0m3 0h0m-5 0h0m6 0h0m-2 0h0m-6 0h0m1 0h0m8 0h0m-10 0h0m0 1h0m8 0h0m-5 0h0m3 0h0m3 0h0m-4 1h0m3 0h0m-9 0h0m9 1h0m1 0h0m-8 0h0m3 0h0m4 1h0m1 0h0m-3 0h0m-4 0h0m3 1h0m3 0h0m-2 0h0m-4 1h0m1 0h0m6 0h0m1 1h0m-3 0h0m12-1h0m-7 0h0m10-1h0m-7 0h0m-1-1h0m-3-1h0m4 0h0m3 0h0m-1-1h0m3 0h0m-5 0h0m-3 0h0m2 0h0m8-1h0m-5 0h0m3 0h0m-2 0h0m3 0h0m-9 0h0m4 0h0m6-1h0m-5 0h0m-4 0h0m1 0h0m5-1h0m-2 0h0m-3 0h0m3-1h0m-2 0h0m3 0h0m3 0h0m-9 0h0m-1 0h0m9-1h0m-1 0h0m-4 0h0m2 0h0m0-1h0m-2 0h0m3 0h0m-2 0h0m-5 0h0m6-1h0m1 0h0m-5-1h0m20 0h0m-1 1h0m-4 0h0m4 1h0m-8 0h0m-1 0h0m8 1h0m1 0h0m-3 0h0m-2 0h0m6 0h0m-5 0h0m-3 0h0m1 0h0m5 1h0m-4 0h0m3 0h0m-6 0h0m-1 1h0m6 0h0m2 0h0m-6 0h0m2 0h0m-1 0h0m-1 1h0m-2 0h0m9 0h0m-2 0h0m-2 0h0m-1 1h0m3 0h0m4 0h0m-2 0h0m1 0h0m-4 0h0m-1 1h0m-4 0h0m1 0h0m1 0h0m5 0h0m3 0h0m-5 0h0m-2 0h0m3 0h0m-7 1h0m8 0h0m-3 1h0m-4 0h0m8 0h0m-4 1h0m3 0h0m-1 1h0m5 1h0m3-1h0m8-1h0m-7-1h0m6 0h0m-5 0h0m-4 0h0m1 0h0m7-1h0m-5 0h0m6 0h0m-5 0h0m-2 0h0m3-1h0m-2 0h0m3 0h0m3 0h0m-5 0h0m-2 0h0m5 0h0m3 0h0m-1-1h0m-6 0h0m3 0h0m-2 0h0m-3 0h0m-2 0h0m6-1h0m1 0h0m3 0h0m-8 0h0m1 0h0m5 0h0m1 0h0m-8-1h0m-1 0h0m8 0h0m-1 0h0m2 0h0m-7-1h0m9 0h0m-2 0h0m-9-1h0m3 0h0m6-1h0m1 0h0m-6 0h0m1 0h0m-2-1h0m8 0h0m-2 0h0m11-1h0m-1 0h0m-2 0h0m2 1h0m-5 0h0m1 1h0m7 0h0m-10 0h0m6 0h0m2 1h0m1 0h0m0 1h0m-5 0h0m1 0h0m3 0h0m3 0h0m-7 1h0m2 0h0m-1 0h0m4 0h0m-3 1h0m-5 0h0m9 0h0m-10 0h0m11 1h0m-3 0h0m-2 0h0m1 0h0m-4 0h0m-2 0h0m4 0h0m-5 1h0m8 0h0m3 0h0m-5 0h0m3 0h0m-8 0h0m6 0h0m3 0h0m-8 1h0m-2 1h0m6 0h0m-3 0h0m1 0h0m-2 0h0m5 1h0m3 1h0m-2 0h0m11 0h0m-1-1h0m1 0h0m3-1h0m1 0h0m-8-1h0m-1 0h0m3 0h0m2 0h0m2 0h0m-4-1h0m-5 0h0m1-1h0m1 0h0m9 0h0m-2 0h0m-1 0h0m-4 0h0m2 0h0m-3 0h0m5-1h0m-5 0h0m-2 0h0m6 0h0m-5 0h0m6-1h0m2 0h0m-4 0h0m-2 0h0m1 0h0m-5 0h0m10-1h0m-1 0h0m-7-1h0m3 0h0m3-1h0m-1 0h0m-6 0h0m1-1h0m9 0h0m-8-1h0m3 0h0m10 0h0m-4 1h0m5 1h0m-2 1h0m6 0h0m-8 0h0m3 1h0m-2 0h0m8 0h0m-10 0h0m5 0h0m-2 0h0m3 0h0m-4 1h0m8 0h0m-10 0h0m7 0h0m-4 0h0m1 0h0m-2 1h0m8 0h0m-10 0h0m8 0h0m-5 0h0m3 0h0m3 0h0m-2 0h0m-3 1h0m-2 0h0m-1 0h0m8 1h0m-2 0h0m-6 0h0m2 0h0m2 1h0m3 0h0m-1 0h0m-3 0h0m7 0h0m-8 1h0m4 0h0m-6 0h0m-1 0h0m10 1h0m3 0h0m1 0h0m6-1h0m-1 0h0m-3 0h0m-2 0h0m8-1h0m-5 0h0m3 0h0m-2 0h0m-5 0h0m-1 0h0m2 0h0m-2-1h0m6 0h0m3 0h0m1 0h0m-1-1h0m-5 0h0m-2 0h0m-2 0h0m5-1h0m3 0h0m-5 0h0m3-1h0m3 0h0m1 0h0m-5 0h0m-2-1h0m3 0h0m-5 0h0m3 0h0m-2 0h0m-2 0h0m11 0h0m-7-1h0m6 0h0m-10 0h0m5 0h0m-2 0h0m4 0h0m-5-1h0m1 0h0m1 0h0m0-1h0m6 0h0m-10 0h0m6 0h0m6 1h0m3 1h0m1 0h0m-3 0h0m1 0h0m9 0h0m-2 1h0m-4 0h0m-1 0h0m3 0h0m-7 0h0m8 1h0m-3 0h0m4 0h0m-5 0h0m3 0h0m-7 0h0m10 0h0m-2 1h0m3 0h0m-6 0h0m-2 0h0m3 0h0m3 0h0m-8 0h0m1 0h0m3 1h0m3 0h0m-6 0h0m3 1h0m4 0h0m-5 1h0m-4 0h0m11 0h0m-8 0h0m3 0h0m2 1h0m3 0h0m-6 0h0m-2 1h0m14-1h0m1-1h0m2 0h0m-8-1h0m3 0h0m1 0h0m-2 0h0m0-1h0m5 0h0m1 0h0m3 0h0m-6 0h0m2-1h0m3 0h0m-2 0h0m3 0h0m-6 0h0m-5 0h0m3 0h0m3 0h0m1-1h0m3 0h0m1 0h0m-8 0h0m3 0h0m3 0h0m-8 0h0m0-1h0m6 0h0m1 0h0m-3 0h0m-3 0h0m5-1h0m-7 0h0m3 0h0m-2 0h0m7-1h0m-8 0h0m1 0h0m2 0h0m7 0h0m-7-1h0m3 0h0m3 0h0m-4-1h0m-1 0h0m17 0h0m-4 1h0m3 1h0m3 0h0m-9 0h0m2 1h0m6 0h0m-5 0h0m6 0h0m-8 0h0m-3 1h0m1 0h0m10 0h0m-5 0h0m2 0h0m1 0h0m-8 1h0m6 0h0m3 0h0m-5 0h0m6 0h0m-2 1h0m-7 0h0m-2 0h0m3 0h0m3 0h0m-2 0h0m-3 0h0m6 0h0m-2 0h0m-3 1h0m-2 0h0m6 0h0m3 1h0m-9 0h0m3 0h0m-2 0h0m10 1h0m-6 0h0m-5 0h0m10 0h0m0 1h0m1 0h0m-4 1h0m6 0h0m-1-1h0m6 0h0m3-1h0m1 0h0m1 0h0m-10 0h0m8-1h0m-2 0h0m3 0h0m-10 0h0m7-1h0m1 0h0m3 0h0m-7 0h0m5 0h0m-1-1h0m3 0h0m-9 0h0m1 0h0m-2 0h0m-1-1h0m3 0h0m6 0h0m-2-1h0m-3 0h0m-4 0h0m3 0h0m6 0h0m2 0h0m-9-1h0m1 0h0m6 0h0m-2 0h0m1 0h0m-2-1h0m4 0h0m-10-1h0m20-1h0m-6 1h0m3 0h0m-5 1h0m1 0h0m9 1h0m-3 0h0m-2 0h0m-2 0h0m8 1h0m-9 0h0m4 0h0m-6 0h0m2 1h0m6 0h0m3 0h0m-8 0h0m1 1h0m6 0h0m-3 0h0m-5 0h0m3 0h0m1 0h0m-6 0h0m11 1h0m-5 0h0m-3 0h0m-2 0h0m3 0h0m-4 1h0m4 0h0m3 0h0m-5 0h0m3 0h0m1 0h0m1 1h0m2 0h0m-4 0h0m3 0h0m3 0h0m-7 1h0m5 0h0m-1 0h0m-6 1h0m1 0h0m8 0h0m4 0h0m8 0h0m-11 0h0m4-1h0m3 0h0m-4 0h0m8 0h0m-5-1h0m-6 0h0m11 0h0m-4 0h0m-3-1h0m3 0h0m1 0h0m-8 0h0m1 0h0m10 0h0m-2 0h0m1 0h0m-10-1h0m10 0h0m-3 0h0m-5 0h0m3 0h0m3 0h0m-2-1h0m4 0h0m-6 0h0m-2 0h0m-1-1h0m10 0h0m-1 0h0m0-1h0m-3 0h0m-2 0h0m3 0h0m-6 0h0m9-1h0m-2 0h0m-4 0h0m1 0h0m-6 0h0m2-1h0m0-1h0m13 1h0m-3 1h0m11 0h0m-10 0h0m1 1h0m-1 0h0m3 1h0m-2 0h0m1 0h0m4 1h0m-6 0h0m-1 0h0m0 1h0m1 0h0m6 1h0m-7 2h0m16 0h0m2-1h0m-2 0h0m-2 0h0m2-1h0m4-1h0m2-1h0m-5-1h0m3-1h0m4 3h0m6 0h0m1 0h0m3 0h0m-3 1h0m1 0h0m-2 1h0m-2 0h0m-4 3h0m17-2h0m2-1h0m-4-2h0m1-1h0m1 0h0m1 0h0m-5-1h0m10-3h0m-6 0h0m8-1h0m4 1h0m-2 1h0m7 0h0m-6 1h0m-2 1h0m-2 1h0m3 0h0m6 1h0m-8 0h0m4 0h0m-2 0h0m8 0h0m-11 1h0m10 1h0m-10 0h0m3 0h0m1 1h0m15 1h0m-1-3h0m-2-4h0m4-1h0m2 0h0m-9 0h0m0-1h0m1-1h0m14 1h0m5 2h0m0 3h0m-6 0h0m-3 1h0m9 2h0m1 1h0m9 0h0m-1-1h0m-4 0h0m-1-1h0m3 0h0m7-1h0m-5-1h0m-3 0h0m-3-1h0m11 0h0m-9-2h0m7 0h0m0-3h0m12 1h0m2 1h0m-10 2h0m9 0h0m-5 1h0m-4 0h0m3 0h0m-4 0h0m15 5h0m1 0h0m7 0h0m-3-2h0m-6-1h0m5 0h0m-1-2h0m-2 0h0m-1-1h0m8-1h0m-6 0h0m1 0h0m0-1h0m-5 0h0m1-2h0m21 0h0m-8 2h0m6 1h0m-5 0h0m3 2h0m2 0h0m-7 3h0m9 0h0m-6 1h0m7 0h0m5-4h0m-1 0h0m-4-2h0m3 0h0m-2-1h0m15-4h0m-1 6h0m43 13h0m8-18h0m-4 5h0" stroke="#BDBDBD" stroke-width="7.4" stroke-linecap="round" fill="none" stroke-opacity="0.5"/>
<path transform="scale(0.5)" d="M249 1427h0m-1 3h0m0 2h0m3 1h0m-2 0h0m-2 4h0m-1 2h0m4 0h0m-4 1h0m5 0h0m-1 1h0m-1 0h0m-1 2h0m-3 3h0m6 0h0m-4 0h0m-2 2h0m6 1h0m-2 2h0m-1 1h0m-2 0h0m1 0h0m4 0h0m-1 1h0m1 0h0m-3 0h0m1 0h0m-1 1h0m2 0h0m-4 0h0m2 1h0m-2 0h0m3 0h0m-2 0h0m2 1h0m-1 0h0m-2 1h0m1 0h0m3 1h0m1 0h0m-3 0h0m1 3h0m2 0h0m-5 0h0m2 0h0m1 1h0m2 0h0m-1 1h0m-4 0h0m2 1h0m0 1h0m-1 1h0m4 1h0m-3 0h0m-2 0h0m-1 1h0m1 0h0m1 1h0m0 1h0m-1 3h0m0 3h0m5 6h0m-5 1h0m3 0h0m-2 0h0m-3 0h0m2 1h0m1 0h0m-4 0h0m3 1h0m-3 0h0m5 1h0m-3 0h0m0 1h0m3 1h0m1 0h0m-6 1h0m1 1h0m1 0h0m2 0h0m-4 0h0m1 1h0m2 0h0m-3 1h0m7 0h0m-2 0h0m1 0h0m0 1h0m-6 0h0m0 1h0m13-4h0m-2 0h0m1-1h0m8 0h0m-5-1h0m-6-1h0m9-2h0m-5-1h0m4-2h0m-6-1h0m0-3h0m6-2h0m-1 0h0m0-3h0m-3-1h0m-3-1h0m2-1h0m3-1h0m3 0h0m-8-1h0m1 0h0m7-1h0m-8 0h0m10 0h0m-10-1h0m4 0h0m6-2h0m-5 0h0m-5-1h0m1 0h0m6 0h0m1 0h0m-6 0h0m6-1h0m-8 0h0m6-1h0m-4-1h0m6 0h0m-8 0h0m3-2h0m-4 0h0m8-1h0m-5 0h0m3 0h0m3 0h0m-4-1h0m4-1h0m-2 0h0m-6 0h0m-1 0h0m11 0h0m-8-1h0m-1 0h0m-2 0h0m6 0h0m3 0h0m-5-1h0m5 0h0m-2 0h0m4-1h0m-8 0h0m6 0h0m-9-1h0m4 0h0m5-1h0m0-1h0m2 0h0m-5-2h0m1 0h0m-3 0h0m6 0h0m-10 0h0m3-1h0m4 0h0m-3 0h0m-2 0h0m8 0h0m-7-1h0m5-4h0m0-1h0m-4 0h0m1-1h0m1 0h0m-6-1h0m10-1h0m-6 0h0m-4 0h0m1-1h0m1 0h0m1-1h0m7 0h0m-10 0h0m10-1h0m-1-1h0m1-1h0m-9-1h0m7-3h0m6 2h0m-2 0h0m1 4h0m3 4h0m-2 1h0m4 0h0m-5 1h0m3 0h0m3 3h0m4 0h0m-1 1h0m-1 0h0m-3 0h0m-4 0h0m-2 0h0m4 1h0m0 1h0m4 1h0m-3 0h0m-3 0h0m4 1h0m1 0h0m3 1h0m1 0h0m-2 0h0m-8 1h0m9 0h0m-5 0h0m1 1h0m1 0h0m-5 0h0m5 1h0m4 0h0m-8 1h0m6 0h0m-5 0h0m-2 0h0m-2 0h0m11 0h0m-6 1h0m-1 0h0m7 0h0m0 1h0m-8 0h0m3 0h0m3 0h0m-5 0h0m1 1h0m-4 0h0m3 0h0m4 1h0m-8 0h0m3 0h0m6 0h0m-5 0h0m2 1h0m3 1h0m-5 0h0m-2 1h0m6 1h0m-5 0h0m4 1h0m-7 0h0m3 0h0m-2 1h0m9 0h0m1 1h0m-3 2h0m-3 1h0m-2 0h0m0 1h0m0 1h0m-2 0h0m1 0h0m-2 1h0m8 0h0m1 0h0m2 0h0m-5 0h0m-6 1h0m5 1h0m1 7h0m2 1h0m2 1h0m-4 0h0m3 0h0m-5 1h0m4 1h0m-8 0h0m7 0h0m2 1h0m0 1h0m-6 2h0m3 1h0m9-2h0m-1 0h0m9-2h0m-10 0h0m-1 0h0m8-3h0m3 0h0m-1-1h0m-2 0h0m-4 0h0m7-4h0m-6-2h0m-5-1h0m10 0h0m-7-2h0m3 0h0m-3-2h0m-1-2h0m5 0h0m-2-1h0m-4 0h0m1 0h0m9-1h0m-10-1h0m1 0h0m0-2h0m-2 0h0m0-1h0m8 0h0m-3-1h0m5 0h0m-6-1h0m0-1h0m5 0h0m-9-1h0m8 0h0m-1 0h0m0-1h0m-7-1h0m5 0h0m4 0h0m1-1h0m-2 0h0m-3 0h0m-2 0h0m-1 0h0m3-1h0m-2 0h0m4 0h0m-6 0h0m9-2h0m-4 0h0m3 0h0m-4 0h0m-4 0h0m1 0h0m8-1h0m1 0h0m-7-1h0m2-1h0m-4 0h0m3 0h0m-5-1h0m11 0h0m-5 0h0m3 0h0m-5-1h0m-4 0h0m9 0h0m-8-1h0m10 0h0m-4 0h0m-1-1h0m-4 0h0m-2 0h0m1-2h0m-1 0h0m11-1h0m-6-1h0m-4-3h0m2 0h0m4-1h0m1 0h0m2-2h0m-7-2h0m19 1h0m-3 3h0m-6 1h0m-1 1h0m6 0h0m-2 0h0m3 1h0m1 0h0m-4 0h0m7 1h0m-2 0h0m-4 0h0m0 1h0m-4 1h0m-1 1h0m11 1h0m-7 0h0m0 1h0m-3 0h0m6 0h0m3 0h0m-1 1h0m-5 0h0m3 1h0m3 0h0m1 0h0m-8 1h0m3 0h0m-2 0h0m-2 0h0m3 1h0m-1 0h0m-3 0h0m6 0h0m3 1h0m-2 0h0m-8 0h0m11 1h0m-11 0h0m2 0h0m9 1h0m-4 1h0m3 0h0m-2 0h0m1 0h0m-7 1h0m8 0h0m-10 0h0m6 0h0m-4 1h0m6 0h0m1 1h0m-4 1h0m-2 0h0m1 0h0m-3 0h0m6 0h0m3 0h0m0 1h0m-6 1h0m3 1h0m1 0h0m3 0h0m-5 0h0m-2 0h0m-3 0h0m1 0h0m5 1h0m2 0h0m-1 1h0m-3 0h0m-2 0h0m1 0h0m3 1h0m4 1h0m-2 0h0m-9 0h0m6 0h0m-2 1h0m2 0h0m-5 0h0m1 1h0m3 0h0m-5 0h0m8 2h0m-5 2h0m-1 0h0m9 0h0m-9 2h0m0 1h0m-2 1h0m6 0h0m3 3h0m2 1h0m-11 1h0m8 0h0m-6 1h0m5 0h0m1 0h0m-8 1h0m6 0h0m5 1h0m5 0h0m-2-1h0m5-2h0m-5 0h0m7-1h0m-3 0h0m-5 0h0m2-1h0m8 0h0m-3-2h0m-2-2h0m1-1h0m-4 0h0m2-3h0m2-1h0m-2 0h0m-3 0h0m7-2h0m-9 0h0m5 0h0m1-1h0m-2 0h0m-2-2h0m3 0h0m0-1h0m4 0h0m-6 0h0m2-2h0m4 0h0m-9 0h0m2-1h0m9 0h0m-4-1h0m-3 0h0m-1-1h0m0-1h0m-2 0h0m1 0h0m5 0h0m-2-1h0m3 0h0m1 0h0m-1-1h0m3 0h0m-10-1h0m9 0h0m1 0h0m-7-1h0m6 0h0m1 0h0m-11-1h0m2-1h0m8 0h0m1 0h0m-2 0h0m-6 0h0m-3-1h0m4 0h0m3-1h0m-2 0h0m6 0h0m-11 0h0m3 0h0m3 0h0m1-1h0m3 0h0m-1 0h0m-1-1h0m-7 0h0m10-1h0m-7 0h0m2-2h0m1 0h0m-6-1h0m5-1h0m4 0h0m-8-1h0m7-1h0m-9 0h0m7-2h0m-6 0h0m9-2h0m3 3h0m6 0h0m-4 2h0m0 2h0m0 2h0m8 1h0m-10 0h0m2 2h0m1 1h0m7 0h0m-8 1h0m1 0h0m-4 0h0m4 1h0m6 0h0m-8 1h0m-2 0h0m1 0h0m7 0h0m3 2h0m-2 0h0m-6 0h0m2 0h0m-3 0h0m-2 0h0m6 1h0m-4 0h0m-2 0h0m9 1h0m-6 0h0m7 1h0m-5 0h0m6 0h0m-9 0h0m-2 0h0m1 0h0m9 1h0m-8 0h0m0 1h0m3 1h0m6 1h0m-3 0h0m-8 1h0m6 0h0m3 0h0m2 1h0m-2 0h0m-9 0h0m1 0h0m9 0h0m-8 1h0m6 0h0m-6 1h0m8 1h0m-1 0h0m-7 0h0m-1 2h0m3 2h0m6 0h0m-1 0h0m-6 3h0m6 3h0m1 0h0m1 1h0m-7 0h0m4 1h0m-5 0h0m-2 0h0m0 1h0m4 1h0m7-1h0m1-2h0m9 0h0m-8 0h0m8-1h0m1 0h0m-1-1h0m1 0h0m-3-6h0m-8-1h0m6 0h0m-6-1h0m10-2h0m-8 0h0m9 0h0m-9-1h0m3 0h0m1 0h0m2-1h0m-8 0h0m3 0h0m5-1h0m-2 0h0m-6 0h0m1 0h0m1-1h0m2 0h0m-4 0h0m8 0h0m3 0h0m-3-1h0m-2 0h0m-6 0h0m9 0h0m-9-1h0m1 0h0m3 0h0m7 0h0m-11-1h0m7 0h0m-2-1h0m-5 0h0m1-1h0m10 0h0m-4-1h0m4 0h0m-8 0h0m4-1h0m2 0h0m-3-1h0m-6 0h0m6-1h0m-1-1h0m-4 0h0m3 0h0m5 0h0m1 0h0m-6-1h0m3 0h0m3-3h0m-4 0h0m-6-1h0m10-1h0m-9 0h0m3 0h0m0-1h0m4-2h0m-2-1h0m-6 0h0m17 1h0m3 2h0m-4 0h0m-2 2h0m1 0h0m1 1h0m-2 1h0m-2 0h0m3 0h0m7 1h0m1 0h0m-7 0h0m-2 0h0m5 1h0m-5 0h0m3 1h0m-1 1h0m-2 1h0m4 1h0m-6 1h0m7 0h0m4 0h0m-3 0h0m-2 1h0m-6 0h0m7 0h0m4 0h0m-3 1h0m3 0h0m0 1h0m-9 0h0m3 0h0m1 0h0m-6 0h0m3 0h0m-2 0h0m1 1h0m6 0h0m2 1h0m1 0h0m-7 0h0m1 0h0m3 0h0m-7 0h0m10 1h0m-2 0h0m1 0h0m-6 0h0m-3 0h0m6 1h0m4 0h0m-7 0h0m3 1h0m1 0h0m-2 0h0m-4 1h0m5 1h0m-1 0h0m-6 1h0m6 0h0m2 1h0m-2 0h0m1 0h0m-3 0h0m-2 0h0m4 2h0m-6 1h0m7 1h0m-6 1h0m10 2h0m-3 0h0m-2 0h0m-3 0h0m8 1h0m2 1h0m3-1h0m-4-1h0m5 0h0m4-1h0m-7 0h0m7-1h0m-9-3h0m8-2h0m-2 0h0m-5 0h0m8 0h0m-6-1h0m4-1h0m-1-1h0m-2 0h0m1 0h0m-3-1h0m9-1h0m-10 0h0m6 0h0m-4-1h0m7 0h0m-4 0h0m-6 0h0m1-1h0m6 0h0m-5 0h0m6 0h0m-2-1h0m3-1h0m-7 0h0m4-1h0m5 0h0m-7-1h0m-2 0h0m3 0h0m-5 0h0m3-1h0m5-1h0m-8 0h0m9 0h0m-7-1h0m3 0h0m-2 0h0m8 0h0m-2 0h0m-9-1h0m11 0h0m-2 0h0m-6-2h0m3 0h0m5-3h0m-5 0h0m5-1h0m-5-1h0m3-1h0m11 3h0m-8 1h0m1 0h0m8 0h0m1 0h0m0 1h0m-6 0h0m1 0h0m-1 1h0m-3 0h0m7 0h0m2 1h0m-5 0h0m6 0h0m-3 1h0m-7 0h0m1 1h0m3 0h0m-4 0h0m5 1h0m3 0h0m-1 1h0m-8 0h0m11 0h0m-3 1h0m-8 0h0m11 1h0m-2 0h0m1 0h0m-2 0h0m-6 0h0m-2 2h0m1 0h0m5 0h0m-3 1h0m3 1h0m-5 0h0m9 0h0m-6 1h0m-3 0h0m9 0h0m-1 1h0m-5 0h0m-4 0h0m3 0h0m5 1h0m3 1h0m-1 1h0m-8 0h0m1 0h0m-3 0h0m8 1h0m-1 1h0m-4 1h0m6 3h0m-7 1h0m-2 0h0m8 0h0m8-3h0m-2 0h0m0-1h0m5 0h0m-4-2h0m3 0h0m4 0h0m1-2h0m-10 0h0m3 0h0m6 0h0m-4-2h0m-2 0h0m-1 0h0m4-1h0m-6 0h0m8-2h0m-2 0h0m3 0h0m-9-1h0m8 0h0m-2 0h0m3 0h0m-2-1h0m-4 0h0m1-1h0m6 0h0m-5 0h0m2 0h0m-7-1h0m10 0h0m-4 0h0m-4 0h0m-2-1h0m8 0h0m-5 0h0m2-1h0m-2 0h0m3 0h0m-1-1h0m-2 0h0m1-1h0m6-1h0m-4-2h0m0-1h0m-6 0h0m3 0h0m-4-1h0m3 0h0m-2 0h0m6 0h0m2-1h0m7 1h0m6 0h0m-5 0h0m2 4h0m2 1h0m1 0h0m-7 2h0m3 0h0m1 0h0m-2 0h0m-2 1h0m8 0h0m-7 0h0m3 0h0m-5 1h0m5 0h0m0 1h0m-6 0h0m8 0h0m1 1h0m-3 0h0m1 0h0m-6 0h0m2 1h0m3 0h0m-2 0h0m-5 0h0m11 0h0m-2 0h0m1 1h0m-5 0h0m3 0h0m-7 0h0m1 0h0m-2 0h0m9 1h0m-5 0h0m3 0h0m3 0h0m-5 0h0m2 1h0m1 0h0m-4 1h0m-4 1h0m11 0h0m-7 0h0m3 0h0m-6 2h0m-1 0h0m9 1h0m-4 1h0m3 0h0m-8 0h0m9 1h0m-5 1h0m16-1h0m-1-3h0m4 0h0m-1-1h0m-4 0h0m-1 0h0m-5 0h0m11-1h0m-3-1h0m-3 0h0m6-1h0m-8-1h0m5 0h0m3 0h0m-10 0h0m4 0h0m3-1h0m0-1h0m-7 0h0m3 0h0m6 0h0m1-1h0m-2 0h0m1 0h0m-4 0h0m-4 0h0m2 0h0m1 0h0m4-1h0m-3 0h0m-1 0h0m0-1h0m-2 0h0m-1-1h0m-2 0h0m8 0h0m-2-1h0m-5 0h0m3 0h0m1 0h0m-3 0h0m0-1h0m-2 0h0m11 0h0m-6-1h0m4 0h0m-8 0h0m3 0h0m4-2h0m2 0h0m-3-1h0m-2 0h0m-3-2h0m15 3h0m-3 0h0m1 0h0m5 0h0m-6 1h0m4 1h0m1 0h0m-2 0h0m-3 0h0m1 0h0m4 1h0m-3 1h0m3 0h0m-2 0h0m-5 1h0m6 0h0m3 1h0m-3 0h0m5 1h0m-5 0h0m-1 0h0m-3 1h0m2 0h0m-1 0h0m7 0h0m-3 0h0m2 0h0m-4 0h0m3 1h0m-4 0h0m-3 1h0m-1 0h0m11 0h0m-1 0h0m-6 1h0m-2 0h0m-2 0h0m3 0h0m3 0h0m4 0h0m-10 1h0m3 0h0m1 1h0m-2 0h0m-2 0h0m3 0h0m3 2h0m-5 0h0m8 1h0m-5 2h0m-2 0h0m21 1h0m0-1h0m-10-1h0m10 0h0m-4 0h0m2-1h0m-6 0h0m6-1h0m-3 0h0m3-1h0m-5 0h0m-2 0h0m-1-1h0m-1 0h0m0-1h0m6 0h0m-5 0h0m4 0h0m3-1h0m-3 0h0m-5 0h0m7-1h0m-3 0h0m1 0h0m5 0h0m-10 0h0m1-1h0m3 0h0m1 0h0m5 0h0m-2 0h0m-2 0h0m0-1h0m1 0h0m-2 0h0m-3 0h0m6 0h0m-5 0h0m0-1h0m-2 0h0m3 0h0m7 0h0m-5 0h0m-6-1h0m6 0h0m5-1h0m-5 0h0m2-1h0m-5 0h0m4 0h0m-5 0h0m6-1h0m-5 0h0m1 0h0m1-2h0m-4 0h0m4-1h0m3-2h0m10 1h0m2 1h0m-1 0h0m-3 1h0m2 1h0m1 0h0m-6 0h0m8 1h0m-6 1h0m-1 0h0m8 0h0m-10 0h0m8 1h0m-7 1h0m1 0h0m-2 0h0m8 0h0m-2 0h0m3 1h0m-2 0h0m-4 0h0m2 0h0m5 0h0m-2 1h0m-5 0h0m1 0h0m-2 0h0m3 0h0m-1 1h0m-2 0h0m3 0h0m5 0h0m0 1h0m-2 0h0m-4 0h0m5 1h0m-5 0h0m1 1h0m6 0h0m-3 0h0m-4 1h0m-2 0h0m-1 1h0m1 0h0m5 1h0m2 0h0m2 0h0m-3 1h0m-3 1h0m-5 0h0m15 1h0m8-1h0m-10 0h0m6-1h0m3 0h0m-7-1h0m8 0h0m-3 0h0m-3-1h0m3 0h0m1 0h0m-2 0h0m0-1h0m-2 0h0m1 0h0m3 0h0m-3-1h0m4 0h0m1 0h0m-9-1h0m9 0h0m-6 0h0m3 0h0m-5 0h0m3 0h0m-1-1h0m-1 0h0m2 0h0m2-1h0m-2 0h0m1 0h0m-3 0h0m6-1h0m-5 0h0m4 0h0m-2 0h0m-6 0h0m10-1h0m-6 0h0m1 0h0m1 0h0m-3 0h0m1-1h0m3 0h0m-2 0h0m1 0h0m-3 0h0m7-1h0m-3 0h0m-8 0h0m2 0h0m1-1h0m3 0h0m3 0h0m-5 0h0m-2 0h0m1-1h0m-3-1h0m20-2h0m2 2h0m-3 1h0m-6 0h0m9 1h0m-2 0h0m-3 0h0m-3 0h0m8 1h0m-3 0h0m-5 1h0m8 0h0m-10 0h0m3 0h0m3 0h0m-2 0h0m3 0h0m-6 1h0m7 0h0m3 0h0m-6 0h0m1 0h0m-2 0h0m-2 1h0m9 0h0m-6 0h0m-2 0h0m4 0h0m-4 1h0m3 0h0m1 0h0m-6 0h0m1 0h0m6 0h0m-8 0h0m7 1h0m-6 0h0m2 0h0m-1 0h0m2 0h0m6 0h0m-4 0h0m-1 1h0m4 0h0m-5 0h0m4 0h0m2 1h0m1 0h0m-8 0h0m3 1h0m4 1h0m-7 0h0m-1 0h0m6 1h0m-4 0h0m-1 0h0m5 1h0m-3 1h0m2 2h0m15-1h0m-1-1h0m0-1h0m-9-1h0m8 0h0m-7-1h0m1 0h0m8 0h0m-10-1h0m6 0h0m3 0h0m2-1h0m-6 0h0m-1 0h0m7-1h0m-10 0h0m5-1h0m-6 0h0m1 0h0m7-1h0m3 0h0m-6 0h0m-5 0h0m3 0h0m6 0h0m-7 0h0m8 0h0m-5-1h0m1 0h0m-2 0h0m3 0h0m-4-1h0m4 0h0m3 0h0m-3-1h0m3 0h0m1 0h0m-11-1h0m1 0h0m2 0h0m5 0h0m3 0h0m-10-1h0m-1 0h0m6 0h0m-1-1h0m1 0h0m3 0h0m-5-1h0m-1-1h0m11 0h0m2 0h0m0 1h0m-3 0h0m9 0h0m-5 0h0m0 1h0m3 0h0m-6 1h0m6 0h0m-1 1h0m-6 0h0m8 1h0m-6 0h0m1 0h0m3 1h0m-2 0h0m6 0h0m-8 0h0m1 0h0m-3 0h0m9 1h0m-4 0h0m-5 1h0m1 0h0m-2 0h0m3 0h0m7 1h0m-7 0h0m1 0h0m-4 0h0m1 1h0m6 0h0m1 0h0m3 0h0m-2 0h0m-9 0h0m3 0h0m3 0h0m-5 1h0m2 0h0m1 0h0m6 0h0m-1 1h0m-9 0h0m6 0h0m-3 1h0m3 0h0m-3 1h0m2 0h0m3 1h0m3 0h0m-5 0h0m8 1h0m1-1h0m3 0h0m-6-1h0m6 0h0m-5 0h0m9-1h0m-7 0h0m3-1h0m1-1h0m1 0h0m-8 0h0m11 0h0m-2 0h0m-9-1h0m3 0h0m3 0h0m-5-1h0m3 0h0m3 0h0m3 0h0m-2 0h0m1 0h0m-7 0h0m-2 0h0m6 0h0m-6-1h0m6 0h0m-2 0h0m1 0h0m6 0h0m-3-1h0m-2 0h0m-2 0h0m0-1h0m3 0h0m-2 0h0m1 0h0m2 0h0m0-1h0m3 0h0m-2 0h0m-7 0h0m-2 0h0m1 0h0m9-1h0m-3 0h0m-3-1h0m11-1h0m6 0h0m-1 2h0m-5 0h0m2 0h0m-4 0h0m0 1h0m8 0h0m1 0h0m-5 0h0m3 1h0m-8 1h0m4 0h0m3 0h0m-1 0h0m-1 1h0m3 0h0m3 0h0m-7 0h0m6 0h0m-5 1h0m-2 0h0m-2 0h0m3 0h0m5 0h0m-2 0h0m1 1h0m-2 0h0m-2 0h0m5 0h0m1 0h0m-3 1h0m2 0h0m1 0h0m-7 0h0m2 0h0m-5 0h0m8 1h0m-2 0h0m-6 0h0m1 0h0m3 0h0m0 1h0m6 0h0m-2 0h0m-5 0h0m0 1h0m-2 0h0m3 1h0m7 1h0m-11 0h0m16 1h0m-4-3h0m4 0h0m7 0h0m-3-1h0m0-1h0m-2 0h0m1-1h0m-1 0h0m-2 0h0m-1 0h0m5-1h0m-4-1h0m4 0h0m3 0h0m-1-1h0m-6 0h0m1 0h0m3 0h0m-2 0h0m-3 0h0m1-1h0m4 0h0m3 0h0m-8 0h0m-2 0h0m3-1h0m-1 0h0m6 0h0m-2-1h0m-5 0h0m3 0h0m1 0h0m-6 0h0m10 0h0m-5-1h0m3 0h0m-2-1h0m-3 0h0m-1 0h0m6 0h0m-6-1h0m19 0h0m1 1h0m-10 0h0m3 1h0m-3 0h0m7 0h0m3 1h0m-8 0h0m6 0h0m-5 0h0m6 1h0m-8 0h0m1 1h0m3 0h0m1 0h0m-5 0h0m0 1h0m8 0h0m1 0h0m-6 0h0m4 0h0m-7 1h0m9 0h0m-6 0h0m-2 0h0m6 0h0m-5 0h0m3 0h0m-6 0h0m0 1h0m11 0h0m-10 0h0m-1 1h0m9 0h0m2 0h0m-5 0h0m1 1h0m3 0h0m0 1h0m-10 0h0m0 1h0m2 1h0m1 0h0m20-1h0m-6-1h0m1 0h0m5 0h0m-2-1h0m-7 0h0m6 0h0m-2 0h0m-2-1h0m-4 0h0m9 0h0m-1-1h0m-2 0h0m5 0h0m-4 0h0m-5-1h0m6 0h0m-2 0h0m-6 0h0m1 0h0m6 0h0m-5-1h0m3 0h0m-2 0h0m6 0h0m-1 0h0m2 0h0m-7-1h0m3 0h0m5 0h0m-10 0h0m6 0h0m3 0h0m-6 0h0m4 0h0m-6-1h0m-1 0h0m8 0h0m2 0h0m-11-1h0m7 0h0m3 0h0m-2 0h0m-5 0h0m-1-2h0m0-1h0m1 0h0m8 0h0m8 0h0m-4 1h0m6 0h0m-2 0h0m-5 0h0m-2 1h0m6 0h0m3 0h0m1 1h0m-8 1h0m2 0h0m-1 0h0m-3 0h0m9 0h0m-1 1h0m-8 0h0m9 0h0m-5 0h0m3 0h0m3 0h0m-4 1h0m-2 0h0m4 0h0m-6 0h0m-1 0h0m2 0h0m7 1h0m-10 0h0m11 0h0m-10 0h0m0 1h0m5 0h0m4 0h0m-8 0h0m3 0h0m-5 0h0m6 1h0m1 0h0m4 1h0m-10 0h0m3 0h0m3 0h0m1 0h0m3 1h0m-5 0h0m-6 1h0m11 0h0m-2 0h0m1 0h0m4 1h0m1 0h0m8-1h0m-3-1h0m-3-1h0m-4 0h0m8-1h0m-8 0h0m4 0h0m-5 0h0m0-1h0m9 0h0m-2 0h0m3 0h0m-9 0h0m1 0h0m9-1h0m-2 0h0m-5 0h0m6 0h0m-2 0h0m-7 0h0m1 0h0m3 0h0m6-1h0m-7 0h0m2-1h0m-2 0h0m3 0h0m1 0h0m-7 0h0m2 0h0m8 0h0m-5-1h0m3-1h0m-1 0h0m3 0h0m-3-1h0m-1-1h0m-5 0h0m3-2h0m11 1h0m-1 1h0m1 1h0m5 1h0m-2 0h0m-6 0h0m-1 0h0m6 1h0m4 0h0m-9 0h0m-1 1h0m8 0h0m-2 0h0m-2 0h0m-3 0h0m1 0h0m-2 1h0m1 0h0m1 0h0m2 0h0m1 0h0m-1 2h0m3 0h0m-4 0h0m5 0h0m1 0h0m-8 1h0m10 0h0m-5 1h0m4 0h0m-3 1h0m-2 0h0m-3 0h0m1 0h0m20 1h0m-2 0h0m-5 0h0m1 0h0m3-1h0m-8 0h0m11-1h0m-4-1h0m-7 0h0m3 0h0m7-1h0m-4 0h0m-5 0h0m6 0h0m-5 0h0m-2 0h0m6-1h0m-5 0h0m6 0h0m3 0h0m-10 0h0m9 0h0m-4-1h0m-4 0h0m1 0h0m2 0h0m-4 0h0m11 0h0m-3 0h0m-1 0h0m2 0h0m1 0h0m-3-1h0m-7 0h0m8 0h0m3 0h0m-2 0h0m-9-1h0m8 0h0m1 0h0m-5 0h0m3 0h0m3 0h0m-8-1h0m-2 0h0m3 0h0m-2 0h0m6 0h0m-2 0h0m-3-1h0m7-1h0m5 0h0m5 1h0m-3 0h0m-1 1h0m1 0h0m1 0h0m-5 0h0m11 0h0m-10 1h0m3 0h0m3 0h0m-5 0h0m8 0h0m-10 0h0m6 1h0m3 0h0m-6 0h0m4 0h0m-5 0h0m3 0h0m5 0h0m-10 0h0m4 1h0m2 0h0m1 0h0m-6 0h0m7 0h0m0 1h0m3 0h0m-5 0h0m3 0h0m-5 0h0m3 0h0m4 1h0m-5 0h0m1 0h0m-4 0h0m-2 0h0m3 0h0m-2 0h0m9 1h0m-2 0h0m-5 0h0m6 0h0m0 1h0m-2 0h0m-5 0h0m4 0h0m1 1h0m-5 0h0m-1 0h0m9 1h0m-11 1h0m14 0h0m-1-2h0m9 0h0m-4 0h0m-3-1h0m-1 0h0m3 0h0m4 0h0m1-1h0m-10 0h0m8 0h0m-5 0h0m-2 0h0m0-1h0m-1 0h0m9 0h0m-1 0h0m-1 0h0m-2 0h0m-5-1h0m8 0h0m1 0h0m-6 0h0m1 0h0m-2 0h0m6-1h0m3 0h0m-5 0h0m3 0h0m-2 0h0m4-1h0m-8 0h0m4 0h0m-3-1h0m-2 0h0m3 0h0m3-1h0m1 0h0m-6 0h0m-2 0h0m1 0h0m3 0h0m-4-1h0m7 0h0m3 0h0m-1-1h0m-10-1h0m13 1h0m4 1h0m3 0h0m1 1h0m-2 0h0m-7 0h0m8 1h0m-5 0h0m4 0h0m-3 0h0m0 1h0m6 0h0m-10 0h0m5 0h0m3 0h0m-5 0h0m6 0h0m-7 1h0m4 0h0m1 0h0m-4 0h0m-2 1h0m3 0h0m-2 0h0m8 0h0m-10 0h0m11 0h0m-2 0h0m-2 0h0m-4 1h0m-2 0h0m7 0h0m1 0h0m-2 0h0m-1 1h0m3 0h0m-2 0h0m-5 0h0m9 0h0m-3 1h0m-5 0h0m4 0h0m-7 0h0m11 0h0m-6 1h0m-4 0h0m10 1h0m-10 0h0m5 1h0m17-1h0m-2 0h0m-3-1h0m3 0h0m-9-1h0m2 0h0m-2-1h0m6 0h0m-5 0h0m1 0h0m3-1h0m3 0h0m2 0h0m-7 0h0m1 0h0m-2 0h0m9 0h0m-10-1h0m3 0h0m-2 0h0m8 0h0m1 0h0m-2-1h0m-2 0h0m-3 0h0m6 0h0m-10 0h0m11 0h0m-3 0h0m-5 0h0m5-1h0m1 0h0m-8 0h0m4 0h0m-4-1h0m3 0h0m-2 0h0m-1-2h0m-1 0h0m4-1h0m9 0h0m2 1h0m2 1h0m6 0h0m-11 1h0m11 0h0m-1 1h0m-2 0h0m-3 1h0m-2 0h0m-3 0h0m2 0h0m8 1h0m-7 0h0m-3 0h0m1 0h0m9 1h0m-5 0h0m1 0h0m3 0h0m-8 0h0m2 0h0m-1 0h0m0 1h0m1 0h0m6 0h0m-5 0h0m-4 0h0m1 1h0m6 0h0m-2 1h0m2 2h0m15-2h0m-10-1h0m4 0h0m3 0h0m2 0h0m1-1h0m1 0h0m-9-1h0m8 0h0m1 0h0m-8 0h0m-2-1h0m7 0h0m-3 0h0m-2 0h0m3 0h0m3 0h0m-2-1h0m-2 0h0m-1 0h0m-3-1h0m8 0h0m2 0h0m-6 0h0m-5 0h0m3 0h0m8-1h0m-11 0h0m3 0h0m-2 0h0m1 0h0m-2-1h0m3 0h0m-1 0h0m4-1h0m-2 0h0m12-1h0m3 2h0m1 0h0m1 0h0m-7 0h0m1 0h0m1 0h0m-4 0h0m1 0h0m0 1h0m6 0h0m-2 0h0m4 0h0m-8 1h0m2 0h0m1 0h0m6 0h0m-2 0h0m-8 1h0m3 0h0m4 0h0m3 0h0m-5 0h0m6 0h0m-2 0h0m2 1h0m-9 0h0m1 0h0m3 0h0m-2 0h0m-3 0h0m9 0h0m-5 0h0m-3 1h0m1 0h0m1 0h0m-3 0h0m6 1h0m1 0h0m-6 0h0m1 0h0m6 1h0m-7 0h0m-2 0h0m0 1h0m7 1h0m-2 0h0m-3 1h0m17-1h0m1-1h0m-2 0h0m3-1h0m0-1h0m1 0h0m-2 0h0m-6 0h0m-2 0h0m3 0h0m3 0h0m1-1h0m3 0h0m-8 0h0m-1 0h0m6-1h0m3 0h0m-2 0h0m3 0h0m-5 0h0m-2 0h0m5 0h0m-4-1h0m3 0h0m3 0h0m-8 0h0m1 0h0m3 0h0m-1-1h0m2 0h0m2 0h0m-8-1h0m-1 0h0m6 0h0m1 0h0m1-2h0m-4 0h0m5-1h0m-9 0h0m16 1h0m3 0h0m3 0h0m-1 2h0m-3 1h0m2 0h0m1 0h0m-10 0h0m9 1h0m1 0h0m-3 0h0m-2 0h0m6 0h0m-10 0h0m3 0h0m-2 1h0m-2 0h0m3 0h0m6 1h0m1 0h0m-3 0h0m-2 0h0m3 0h0m-2 0h0m-2 0h0m-3 1h0m1 0h0m4 0h0m-3 2h0m6 0h0m-4 0h0m-5 1h0m9 0h0m6-1h0m-2 0h0m9 0h0m-5-1h0m5 0h0m-3 0h0m-5-1h0m3 0h0m-2 0h0m8 0h0m-1 0h0m-4-1h0m-6 0h0m1 0h0m10 0h0m-1 0h0m-3 0h0m-5 0h0m6 0h0m-3-1h0m6 0h0m-2 0h0m-1 0h0m2 0h0m-8 0h0m1 0h0m-3-1h0m3 0h0m8 0h0m-1 0h0m-6 0h0m3 0h0m-2 0h0m3 0h0m-1-1h0m2 0h0m-3 0h0m-4 0h0m7-1h0m-5 0h0m3-1h0m-5 0h0m6 0h0m-5 0h0m2-1h0m3 0h0m1-1h0m4 2h0m-1 2h0m2 0h0m-1 0h0m9 0h0m-5 0h0m2 0h0m-1 1h0m-6 0h0m10 0h0m-9 1h0m10 0h0m-7 1h0m-2 0h0m6 0h0m-8 0h0m2 1h0m-1 0h0m4 1h0m-3 1h0m15 0h0m-2-2h0m3-1h0m-2 0h0m7 0h0m-7-1h0m0-2h0m-2 0h0m-1-2h0m5-1h0m11 1h0m3 1h0m-4 1h0m-3 1h0m1 0h0m-2 1h0m2 0h0m8 1h0m1 1h0m-8 1h0m-3 0h0m1 0h0m8 0h0m-2 1h0m-3 1h0m2 0h0m16-1h0m-5 0h0m1-1h0m-5 0h0m1 0h0m0-1h0m1 0h0m5-1h0m-2-1h0m2 0h0m1 0h0m-2 0h0m3 0h0m-6-2h0m-3 0h0m7-1h0m1-1h0m-1-1h0m8 0h0m1 2h0m0 1h0m3 0h0m-4 1h0m-1 1h0m3 1h0m-1 0h0m-1 1h0m1 0h0m4 1h0m-6 3h0m18-3h0m2-2h0m-2-1h0m-6 0h0m4 0h0m-2 0h0m-3 0h0m1-1h0m3-3h0m-5 0h0m22 0h0m-2 0h0m-5 1h0m7 1h0m-8 1h0m3 1h0m-3 0h0m-2 0h0m4 0h0m-4 1h0m6 0h0m-1 0h0m2 1h0m2 1h0m-2 0h0m1 0h0m-1 1h0m1 6h0m14-6h0m-6-2h0m-2-1h0m4-1h0m-5 0h0m4 0h0m0-1h0m0-1h0m1-1h0m0-1h0m2-1h0m14 1h0m-1 1h0m-4 1h0m-4 0h0m8 1h0m-2 1h0m-1 0h0m-7 1h0m5 1h0m-3 2h0m7 0h0m-2 0h0m0 1h0m-6 0h0m6 1h0m0 3h0m7-4h0m5-1h0m0-2h0m-5-1h0m1 0h0m-2-1h0m6-1h0m-7 0h0m3-2h0m3-2h0m6 2h0m7 1h0m-5 1h0m2 0h0m-1 1h0m5 1h0m2 1h0m-6 1h0m5 1h0m-3 1h0m10-2h0m2-1h0m-5 0h0m2-1h0m-2-2h0m6 0h0m-2-1h0m-1-2h0m-1-1h0m16 0h0m7 9h0m0-3h0m-2-2h0m54 15h0" stroke="#BDBDBD" stroke-width="7.4" stroke-linecap="round" fill="none" stroke-opacity="0.5"/>
<path transform="scale(0.5)" d="M237 1231h0m14 40h0m-11 1h0m10 17h0m-2 21h0m2 26h0m0 21h0m1 8h0m-2 12h0m-2 0h0m2 2h0m-4 1h0m1 1h0m5 6h0m-4 0h0m0 3h0m0 4h0m1 8h0m2 3h0m-3 6h0m2 6h0m-2 1h0m3 0h0m-4 0h0m2 1h0m1 1h0m-3 2h0m0 1h0m16 3h0m1 0h0m-4-1h0m-5-1h0m5-2h0m3-1h0m-10-5h0m1-1h0m0-1h0m3-2h0m3-1h0m1-2h0m-3-4h0m4 0h0m1-5h0m-6 0h0m3-4h0m-5-6h0m9-7h0m-11-6h0m9-3h0m-1-37h0m-2-114h0m17 52h0m-4 71h0m-5 12h0m4 6h0m4 6h0m-2 2h0m3 7h0m-7 1h0m-1 3h0m8 5h0m-11 1h0m6 4h0m1 5h0m-5 0h0m7 0h0m-4 1h0m4 0h0m-4 1h0m2 1h0m-2 0h0m3 0h0m-1 5h0m-1 1h0m2 2h0m1 1h0m0 1h0m-7 7h0m6 2h0m-7 3h0m6 0h0m0 2h0m4 1h0m-8 0h0m-2 0h0m9 0h0m-4 1h0m4 0h0m-1 2h0m-5 0h0m10 1h0m2-4h0m2-1h0m4-1h0m-2-1h0m-2-3h0m0-4h0m1-2h0m-7-1h0m8-3h0m-2-5h0m0-1h0m0-4h0m2-5h0m-2-2h0m-2-100h0m12 51h0m7 12h0m-11 1h0m5 18h0m3 7h0m-8 6h0m2 12h0m0 3h0m7 1h0m-4 4h0m-5 2h0m0 2h0m8 1h0m1 5h0m-3 2h0m-5 0h0m-1 1h0m9 1h0m-4 0h0m5 2h0m-9 0h0m6 1h0m3 2h0m0 3h0m-9 1h0m5 1h0m-4 1h0m15 3h0m4-1h0m-6-1h0m3 0h0m-3-4h0m8-2h0m-11-1h0m10-7h0m-8-2h0m4-2h0m-3-9h0m7-3h0m-7-1h0m0-17h0m0-11h0m-1-13h0m8-9h0m4-1h0m1 19h0m2 2h0m-5 6h0m6 20h0m-4 10h0m0 6h0m-2 1h0m9 1h0m0 5h0m2 4h0m-10 3h0m-1 2h0m11 1h0m-8 0h0m-2 1h0m4 1h0m-2 1h0m6 1h0m-4 0h0m5 2h0m6 0h0m7 0h0m-8-1h0m1-1h0m7-2h0m-4-1h0m-4-13h0m0-8h0m0-3h0m2 0h0m-5-11h0m5-3h0m-5-4h0m9-8h0m-5-5h0m-2-7h0m15-2h0m2 15h0m-6 28h0m1 2h0m-1 2h0m3 9h0m1 1h0m-3 3h0m7 8h0m-5 2h0m8 1h0m3-4h0m3 0h0m-1 0h0m-2-2h0m4-3h0m-5 0h0m7-6h0m0-3h0m-9-1h0m6-6h0m4-9h0m1-4h0m-6-2h0m-2-26h0m9-36h0m11 74h0m-5 9h0m-4 1h0m4 3h0m-6 1h0m8 1h0m1 0h0m-7 3h0m6 0h0m-3 2h0m-4 5h0m0 2h0m10 1h0m12 3h0m-8-2h0m1-1h0m-3-1h0m3-1h0m5-2h0m-1-1h0m1 0h0m-8 0h0m4-2h0m3 0h0m-5 0h0m5-3h0m-4-1h0m2-4h0m-3-4h0m8-1h0m-1-8h0m-8 0h0m0-9h0m6-78h0m9 64h0m2 1h0m0 4h0m-6 1h0m3 12h0m3 5h0m-7 7h0m9 1h0m2 4h0m-11 4h0m9 2h0m-1 4h0m-6 1h0m2 3h0m3 0h0m-5 0h0m2 1h0m5 2h0m-8 3h0m11 2h0m6 0h0m-2 0h0m7-3h0m-8-1h0m5-1h0m-8 0h0m5-1h0m4-1h0m-8 0h0m8-1h0m1-1h0m-10 0h0m10-1h0m-2-5h0m-1-3h0m0-2h0m-3-9h0m-3-7h0m-1-22h0m2-55h0m11 79h0m6 5h0m3 2h0m-3 4h0m3 0h0m-3 1h0m-5 2h0m6 4h0m-7 0h0m5 1h0m0 3h0m0 3h0m-2 1h0m2 0h0m-6 6h0m11 2h0m0 2h0m11 0h0m-4-1h0m-4-1h0m2 0h0m2-1h0m2-1h0m-2-3h0m-4-1h0m2-5h0m7-2h0m-6-7h0m4-3h0m0-4h0m2-2h0m-5-1h0m-6-5h0m11-19h0m-4-25h0m14 11h0m-7 32h0m7 5h0m-3 6h0m5 10h0m-5 3h0m5 1h0m-11 3h0m6 0h0m-5 3h0m10 0h0m4 3h0m3 0h0m-6-3h0m3 0h0m-1-1h0m7-2h0m-6-2h0m1 0h0m3-1h0m-4-2h0m-2-2h0m4 0h0m-1-20h0m2-2h0m-1-23h0m10-50h0m6 60h0m-8 14h0m-1 30h0m9 0h0m-6 2h0m1 0h0m6 1h0m0 2h0m-7 0h0m-3 1h0m4 0h0m7 1h0m-10 1h0m3 0h0m4 0h0m-2 1h0m3 1h0m12 0h0m-2 0h0m0-7h0m-4-5h0m4-3h0m-6-8h0m9-36h0m12 10h0m0 10h0m-10 18h0m8 3h0m3 0h0m-1 3h0m-7 2h0m-3 2h0m3 2h0m-1 1h0m2 1h0m-3 1h0m0 5h0m1 1h0m5 1h0m6 0h0m7 0h0m1-1h0m-3 0h0m-5-1h0m9-2h0m-1-1h0m-6-1h0m2-1h0m5 0h0m-5-2h0m-4-1h0m3-13h0m7-9h0m-11-2h0m5-6h0m2-3h0m4-16h0m12 24h0m-6 2h0m-2 6h0m8 10h0m-7 5h0m7 1h0m-8 1h0m7 2h0m-7 2h0m1 0h0m3 3h0m-3 1h0m0 1h0m6 0h0m-6 2h0m18 1h0m-5 0h0m4-1h0m-8 0h0m6-1h0m-7 0h0m6 0h0m-3-1h0m1-3h0m3 0h0m3-4h0m-8-5h0m6-2h0m-1-4h0m0-1h0m-5-4h0m1 0h0m-1-7h0m21 5h0m0 4h0m-7 5h0m-3 4h0m3 7h0m1 0h0m-4 2h0m4 2h0m0 1h0m-1 1h0m3 1h0m14 0h0m-5-1h0m2-1h0m1-1h0m-4-1h0m5-1h0m-8 0h0m7-1h0m1-5h0m-8-3h0m1-2h0m8-1h0m-5 0h0m7-6h0m-3-5h0m11-28h0m-5 30h0m0 4h0m0 6h0m-2 1h0m11 0h0m-11 8h0m3 0h0m0 6h0m5 1h0m-1 0h0m10 2h0m6-1h0m-6-3h0m3 0h0m2 0h0m-10-1h0m2-1h0m5-1h0m-7-2h0m3-3h0m5-1h0m1-1h0m-6-5h0m-1-9h0m8-26h0m13 22h0m-2 1h0m-8 10h0m10 4h0m-5 2h0m-4 0h0m9 4h0m-9 1h0m0 1h0m1 1h0m-3 2h0m10 1h0m-5 4h0m7-2h0m11-1h0m-7 0h0m3-1h0m0-1h0m-2 0h0m-4-1h0m7-13h0m-3-4h0m18-78h0m-6 40h0m-5 43h0m2 1h0m6 5h0m-4 5h0m-3 2h0m3 2h0m2 1h0m-1 1h0m1 1h0m-3 0h0m6 1h0m8 0h0m-5-2h0m7-2h0m3 0h0m-7 0h0m3-1h0m5-3h0m-5-4h0m-2-6h0m4-3h0m-1-101h0m8 87h0m-2 0h0m6 8h0m-2 5h0m1 6h0m-2 2h0m3 5h0m3 2h0m-10 0h0m10 1h0m-9 6h0m4 1h0m4 0h0m8-1h0m0-1h0m-5-1h0m7-1h0m-5-1h0m7-1h0m-1 0h0m-4-3h0m-1-1h0m7-1h0m0-1h0m-8 0h0m2-1h0m-3-4h0m9-3h0m-9-8h0m21-13h0m-10 19h0m4 7h0m-1 2h0m5 1h0m-5 0h0m3 0h0m1 3h0m-3 2h0m3 1h0m0 5h0m-2 0h0m13 1h0m-6 0h0m1-2h0m5-1h0m5-3h0m-6-1h0m-5-2h0m2 0h0m7-3h0m-8-4h0m3-1h0m6 0h0m-5 0h0m13-6h0m-1 4h0m0 5h0m4 4h0m-5 3h0m6 0h0m-4 3h0m-3 2h0m6 0h0m-2 2h0m8-1h0m5-1h0m-4-1h0m7 0h0m-11-2h0m3-13h0m7-4h0m5 9h0m-2 0h0m9 1h0m-2 2h0m-5 0h0m7 6h0m-9 4h0m17 0h0m-4-2h0m8-3h0m-5 0h0m3-1h0m0-1h0m2-2h0m-3-1h0m-4-5h0m8-3h0m12-2h0m-10 1h0m-1 9h0m10 3h0m-5 0h0m3 0h0m2 3h0m-9 1h0m0 1h0m16 2h0m1-1h0m-5 0h0m3-1h0m2-1h0m-2-3h0m-2-8h0m-2-7h0m2-1h0m8 0h0m7 11h0m0 4h0m1 1h0m6-3h0m21-19h0m4 10h0m28 2h0m0-2h0m13-12h0m2 12h0m-7 3h0m8 9h0m9-1h0" stroke="#FF0000" stroke-width="7.4" stroke-linecap="round" fill="none" stroke-opacity="0.48"/>
<path transform="scale(0.5)" d="M249 1281h0m-2 51h0m2 19h0m-4 6h0m3 7h0m1 13h0m-3 1h0m0 1h0m1 7h0m0 1h0m2 2h0m1 4h0m-2 0h0m3 0h0m-3 12h0m-2 2h0m3 3h0m2 1h0m-3 1h0m3 0h0m-5 10h0m16 4h0m-1-1h0m-4 0h0m5-4h0m-1-7h0m1-3h0m1 0h0m-7 0h0m3-1h0m2 0h0m2-6h0m-5 0h0m-2-4h0m-4-1h0m2 0h0m5-2h0m-7-4h0m8 0h0m-8-5h0m4-1h0m-4-1h0m10-3h0m-3-1h0m4 0h0m-10-10h0m8-4h0m-2-8h0m-3-18h0m-4-1h0m1-32h0m-1-6h0m4-8h0m3-65h0m-7-13h0m3-4h0m15 60h0m5 4h0m-4 16h0m-2 32h0m-2 7h0m-2 23h0m3 3h0m-4 18h0m11 9h0m-6 2h0m-4 2h0m3 2h0m1 2h0m6 3h0m-2 6h0m-3 2h0m-2 0h0m2 1h0m0 1h0m-5 4h0m9 2h0m-2 1h0m0 1h0m-6 3h0m4 1h0m-1 1h0m6 0h0m-4 1h0m-4 3h0m-1 2h0m7 0h0m-5 0h0m5 2h0m-9 0h0m9 2h0m1 1h0m5-1h0m5-1h0m3-4h0m-1 0h0m-7-3h0m4-2h0m-6-5h0m8-16h0m-7-18h0m1 0h0m-3-5h0m11-9h0m-10-16h0m19-3h0m1 12h0m-7 8h0m9 23h0m-5 6h0m0 5h0m1 3h0m-7 1h0m3 0h0m3 3h0m4 2h0m-8 1h0m9 11h0m-7 2h0m-2 3h0m-2 2h0m3 0h0m3 1h0m-2 2h0m5 2h0m3-1h0m5 0h0m6-1h0m-9-2h0m6-2h0m-3-2h0m4-3h0m-3-3h0m-4-5h0m4-2h0m-3-1h0m7-5h0m-8-4h0m1-7h0m-1-1h0m18-52h0m-8 19h0m3 22h0m6 5h0m2 5h0m-9 5h0m-1 5h0m7 6h0m-1 4h0m1 0h0m0 9h0m-3 1h0m-5 2h0m8 3h0m-8 0h0m6 4h0m-1 1h0m0 1h0m-4 1h0m7 2h0m6 0h0m1 0h0m5-1h0m2-1h0m1-1h0m-11-2h0m11-6h0m-6-2h0m1 0h0m2-4h0m2-4h0m1-7h0m-6-6h0m-2-14h0m6-7h0m-7-23h0m14-10h0m4 44h0m-2 7h0m-2 10h0m-4 2h0m5 6h0m-2 10h0m0 4h0m-1 2h0m9 1h0m-6 1h0m2 0h0m-2 1h0m-1 3h0m15-2h0m-5-1h0m5-4h0m-5-4h0m8 0h0m-10-1h0m0-1h0m3-1h0m1-8h0m3-4h0m2-2h0m-1-2h0m-8-2h0m11 0h0m-8-2h0m-1-5h0m6-16h0m2-25h0m-4-122h0m10 161h0m2 6h0m-2 6h0m-2 0h0m1 5h0m2 10h0m-4 0h0m-1 4h0m11 0h0m-6 1h0m-2 1h0m4 0h0m0 6h0m2 0h0m-9 1h0m6 4h0m6 0h0m5-2h0m4-2h0m-4-2h0m4-2h0m-1-1h0m-7 0h0m6-1h0m-1-3h0m-4 0h0m8-1h0m-6-9h0m3 0h0m-3-7h0m-2-10h0m-2-3h0m11-10h0m-8-6h0m0-18h0m17-8h0m-2 33h0m-6 8h0m5 0h0m-4 16h0m3 8h0m-2 1h0m4 5h0m4 6h0m0 2h0m-5 0h0m1 1h0m1 1h0m-5 2h0m0 2h0m-2 0h0m9 0h0m-3 1h0m1 0h0m8 1h0m1 0h0m4-1h0m-8 0h0m4-3h0m3-1h0m-2-3h0m-3-1h0m5 0h0m-2-1h0m2-1h0m-7-2h0m1-2h0m3-4h0m6-4h0m-2-1h0m2-1h0m-8-2h0m8-14h0m2-4h0m11 5h0m-8 16h0m2 3h0m5 7h0m-9 5h0m-1 0h0m1 3h0m0 2h0m9 1h0m-6 1h0m3 3h0m14 1h0m-6 0h0m5-2h0m-8 0h0m1 0h0m5-5h0m-5-2h0m9-5h0m-10-1h0m9 0h0m-6-2h0m2-4h0m5-1h0m-3-1h0m11-86h0m-4 50h0m6 17h0m-1 25h0m4 0h0m-8 2h0m6 6h0m-7 1h0m7 3h0m2 2h0m-2 2h0m5 3h0m8-1h0m0-1h0m-8-1h0m2-1h0m0-1h0m3 0h0m-5-1h0m5-1h0m1-1h0m-3-1h0m5-1h0m0-5h0m-7-5h0m7-11h0m-10-22h0m23 2h0m-5 26h0m0 10h0m-3 1h0m5 2h0m3 3h0m-11 2h0m4 1h0m3 0h0m4 2h0m-5 2h0m12 1h0m-6-1h0m5-1h0m3-2h0m-2-2h0m-1-2h0m6 0h0m-11-7h0m4-1h0m3-3h0m-4-3h0m3 0h0m0-11h0m5-2h0m-6-2h0m12 16h0m-3 6h0m3 2h0m6 0h0m-2 0h0m1 3h0m-10 2h0m10 0h0m-7 1h0m7 2h0m-8 4h0m2 2h0m13 2h0m0-1h0m3-1h0m3 0h0m-6-1h0m6 0h0m-1-2h0m-6-1h0m6-1h0m-7-1h0m3-1h0m-2 0h0m1-5h0m-4-3h0m0-11h0m8-2h0m-8-3h0m20-48h0m-9 13h0m10 8h0m-1 30h0m2 12h0m-9 1h0m9 1h0m-11 3h0m2 1h0m8 1h0m1 5h0m-1 2h0m-3 1h0m0 1h0m-5 1h0m0 1h0m8 0h0m-5 0h0m-2 0h0m17 0h0m1 0h0m-7 0h0m3-3h0m-1-1h0m-2 0h0m-2-2h0m4 0h0m-2-1h0m7-1h0m-9-1h0m6-4h0m3 0h0m-3-13h0m-3-7h0m16-91h0m-2 94h0m-1 1h0m5 3h0m2 12h0m-5 0h0m-6 2h0m3 2h0m3 4h0m2 1h0m-5 0h0m3 2h0m10 4h0m2-1h0m-5 0h0m1 0h0m9 0h0m-2-2h0m1-1h0m-3 0h0m-7 0h0m2 0h0m4 0h0m-4-2h0m6 0h0m-1-2h0m1 0h0m-6-5h0m-2-1h0m3-12h0m-1-2h0m-2-1h0m22 3h0m-7 8h0m5 8h0m-4 0h0m6 1h0m1 1h0m0 5h0m-1 2h0m10 2h0m-5-1h0m-2 0h0m10-1h0m-8 0h0m-2-4h0m7 0h0m-8 0h0m11 0h0m-2-4h0m-5-2h0m4-1h0m1 0h0m-5-2h0m5-2h0m-8 0h0m8-18h0m0-1h0m-2 0h0m13-8h0m-2 2h0m-3 22h0m-2 7h0m4 1h0m1 1h0m3 1h0m-6 0h0m3 1h0m2 1h0m-4 1h0m1 1h0m2 2h0m-2 1h0m-4 1h0m7 1h0m-1 0h0m12 1h0m3 0h0m-3-1h0m2-1h0m-4-2h0m3 0h0m-6-2h0m0-4h0m5-1h0m4 0h0m-1-7h0m-5 0h0m8-5h0m8 10h0m-6 3h0m-3 1h0m2 5h0m7 0h0m-7 3h0m2 1h0m17 0h0m1 0h0m-10 0h0m6-1h0m-3-1h0m-2-4h0m10-1h0m-11-1h0m4-2h0m-4-9h0m4-19h0m16-2h0m-1 10h0m2 5h0m-3 1h0m-6 2h0m1 6h0m4 0h0m2 5h0m1 4h0m3 1h0m-6 1h0m-4 1h0m1 2h0m9 0h0m-6 1h0m5 1h0m-2 0h0m4 0h0m3 0h0m3 0h0m2-1h0m-7-1h0m5-8h0m5 0h0m-4-1h0m-7-1h0m1-10h0m3-3h0m8 13h0m3 2h0m1 0h0m1 4h0m6 0h0m-5 2h0m-2 1h0m-2 0h0m5 1h0m-6 0h0m0 1h0m6 0h0m3 0h0m-1 1h0m12 1h0m-8-1h0m5-1h0m-3-1h0m1 0h0m3 0h0m2-2h0m-9 0h0m4-1h0m-2-2h0m3 0h0m0-4h0m-2-2h0m-3-15h0m20-7h0m-5 19h0m3 1h0m-4 7h0m3 3h0m-3 2h0m3 1h0m4 0h0m-9 1h0m6 0h0m-1 0h0m7 2h0m1 0h0m6 0h0m1-4h0m-5-1h0m3 0h0m5-1h0m0-1h0m-5 0h0m-3-1h0m8-1h0m-8-3h0m1-1h0m2-2h0m-5-11h0m7 0h0m14 14h0m-4 3h0m5 2h0m-5 1h0m-6 1h0m11 1h0m-3 2h0m14 2h0m-5-2h0m4 0h0m0-3h0m-1-1h0m1-2h0m-4-1h0m-1-4h0m1-4h0m1-9h0m-6-12h0m18 18h0m3 11h0m1 1h0m-5 1h0m6 0h0m-11 3h0m4 0h0m6 1h0m-9 2h0m10 1h0m11-4h0m-5-3h0m1-2h0m-6-2h0m6-3h0m14 0h0m-8 8h0m13-2h0m10-70h0m5 74h0m37-2h0m-1-16h0m12 7h0m-3 3h0" stroke="#FF0000" stroke-width="7.4" stroke-linecap="round" fill="none" stroke-opacity="0.48"/>
<path transform="scale(0.5)" d="M237 1210h0m12 63h0m-6 28h0m-3 19h0m6 31h0m2 8h0m-2 9h0m2 10h0m3 2h0m-2 11h0m-2 2h0m3 2h0m1 3h0m-2 2h0m2 7h0m-1 5h0m-2 0h0m-2 5h0m0 2h0m2 1h0m15 8h0m-1-2h0m-2-1h0m-2 0h0m-5 0h0m7-1h0m-5 0h0m2-1h0m3 0h0m-2-1h0m4-1h0m-8-1h0m9-3h0m-8-3h0m6 0h0m-9-2h0m8-6h0m-4-2h0m7-1h0m-7-6h0m3-1h0m4-1h0m-8-3h0m2-1h0m-2-3h0m6 0h0m-6-9h0m-3-1h0m2-10h0m7 0h0m-3-11h0m-6-2h0m6-10h0m9-23h0m-3 26h0m5 4h0m3 12h0m-1 7h0m-2 21h0m-3 3h0m1 1h0m6 2h0m-1 6h0m-1 7h0m-1 6h0m-2 2h0m1 1h0m1 3h0m-2 3h0m4 1h0m-4 0h0m2 1h0m9-2h0m-2-1h0m3-1h0m-4-3h0m3 0h0m1-3h0m0-1h0m2 0h0m0-1h0m-6-11h0m11 0h0m-4-4h0m-3-2h0m-1-8h0m3-5h0m0-1h0m-6-19h0m7-1h0m2-11h0m-5-5h0m-4-12h0m6-22h0m13 37h0m-4 26h0m-1 4h0m0 16h0m5 1h0m2 5h0m-1 0h0m-8 1h0m10 7h0m-8 2h0m1 0h0m7 2h0m-2 1h0m-5 1h0m5 2h0m-5 1h0m4 0h0m4 1h0m-9 1h0m3 0h0m12 13h0m4 0h0m-4-1h0m-5-2h0m10-1h0m-4-5h0m-3 0h0m-2-2h0m1-1h0m2-2h0m-1-5h0m6-4h0m-4-5h0m4-3h0m-4-11h0m3-5h0m3-9h0m-8 0h0m-1-76h0m14 68h0m3 23h0m-7 4h0m2 5h0m-1 3h0m-1 2h0m6 12h0m-2 1h0m-4 4h0m4 2h0m1 0h0m3 0h0m-6 5h0m2 0h0m1 1h0m0 2h0m-5 0h0m10 2h0m-1 0h0m6 0h0m2-1h0m1-3h0m-5-1h0m5-2h0m-2-2h0m5 0h0m-6 0h0m0-1h0m4-1h0m2-3h0m-2-2h0m1 0h0m-5-8h0m-2 0h0m1-3h0m4-2h0m-3-1h0m0-4h0m6-43h0m-4-83h0m10 107h0m1 26h0m3 3h0m4 6h0m-9 1h0m1 0h0m-3 4h0m11 5h0m-4 1h0m-7 1h0m6 2h0m-2 2h0m1 0h0m-1 3h0m6 1h0m13 3h0m-3-1h0m-4-3h0m7-1h0m-3-2h0m-8-1h0m8-3h0m-1-3h0m3-4h0m-2-4h0m1-5h0m2-3h0m-1-9h0m9-63h0m4 35h0m-10 7h0m8 3h0m-4 10h0m-3 15h0m1 0h0m1 2h0m-1 5h0m4 0h0m-4 3h0m4 7h0m3 2h0m-1 0h0m-8 4h0m2 0h0m-3 1h0m8 2h0m3 0h0m-8 3h0m-2 2h0m6 0h0m10 0h0m1 0h0m-3-1h0m3-3h0m1-4h0m4-3h0m-9 0h0m-2-1h0m8-8h0m-2 0h0m3-2h0m1-1h0m-10-2h0m2-1h0m3-7h0m-5-60h0m20 47h0m3 13h0m-4 2h0m3 0h0m-2 0h0m0 1h0m-3 5h0m-4 11h0m6 1h0m-2 2h0m-5 1h0m1 3h0m8 0h0m2 1h0m-4 0h0m3 0h0m-4 2h0m-3 1h0m-2 0h0m7 2h0m-5 1h0m3 0h0m-1 0h0m-4 1h0m3 2h0m3 0h0m13-2h0m1-3h0m1 0h0m-2-2h0m-1-1h0m-3-4h0m3-8h0m-2-1h0m1-2h0m1-3h0m-6-10h0m19-137h0m2 115h0m0 20h0m-4 2h0m-6 1h0m11 2h0m-5 6h0m-1 18h0m6 1h0m-2 1h0m-3 0h0m2 2h0m-2 1h0m-1 4h0m2 0h0m-3 0h0m3 1h0m-5 1h0m21-1h0m-1-1h0m-4-1h0m0-1h0m1 0h0m-4-1h0m6-3h0m-3-1h0m-5 0h0m9-2h0m1 0h0m-6-5h0m4-4h0m-5-2h0m-2-4h0m3 0h0m1-4h0m5-2h0m-4-2h0m2-1h0m-5-3h0m8-1h0m11 0h0m-1 20h0m0 1h0m-1 2h0m1 1h0m-7 2h0m8 0h0m-1 1h0m-10 2h0m7 3h0m2 2h0m-3 4h0m0 2h0m14 1h0m-1-7h0m3 0h0m-4-2h0m-3-1h0m2-1h0m-3-5h0m1-2h0m6-11h0m-7-4h0m9 0h0m1 19h0m8 0h0m-7 2h0m6 8h0m-7 0h0m3 1h0m1 0h0m1 1h0m3 2h0m-8 0h0m2 1h0m6 0h0m10 0h0m4 0h0m-8 0h0m5-1h0m3-1h0m-2-3h0m3-2h0m-10-1h0m2-5h0m-2-7h0m6-4h0m-4-5h0m3-1h0m1-52h0m6-86h0m1 114h0m5 41h0m0 2h0m-4 0h0m-3 2h0m7 0h0m2 3h0m2 0h0m-8 1h0m0 2h0m0 4h0m6 0h0m4 1h0m1-2h0m-2 0h0m5-1h0m-3 0h0m6-1h0m3 0h0m-2-1h0m-2-1h0m-2 0h0m2-3h0m3-3h0m-5-1h0m3-2h0m3 0h0m-3-1h0m2-2h0m-4-14h0m-6-3h0m0-3h0m23-23h0m-5 10h0m-4 22h0m7 1h0m-6 0h0m6 13h0m1 5h0m-3 1h0m-6 1h0m10 2h0m-7 0h0m-4 1h0m8 1h0m-6 1h0m1 1h0m6 0h0m-8 0h0m6 1h0m-7 1h0m23 1h0m-3-1h0m3 0h0m-4 0h0m-5-2h0m9 0h0m-5 0h0m-5-1h0m1-1h0m2-2h0m2-6h0m-6-6h0m0-2h0m7-3h0m2-6h0m4-7h0m4 21h0m6 3h0m-6 1h0m0 1h0m-5 0h0m8 1h0m-6 1h0m4 0h0m0 1h0m2 0h0m-1 1h0m-4 2h0m-1 1h0m1 0h0m6 0h0m1 1h0m-5 2h0m-3 1h0m9 0h0m2-1h0m7 0h0m-5-1h0m-1-3h0m-1-4h0m10-1h0m-5-1h0m-5 0h0m8-1h0m-6-4h0m3-2h0m2-31h0m10 22h0m-3 9h0m2 2h0m4 1h0m-4 2h0m3 0h0m0 1h0m1 1h0m-4 1h0m4 1h0m-5 1h0m4 1h0m2 1h0m-8 0h0m6 7h0m7 0h0m-1-1h0m3 0h0m0-1h0m-2 0h0m-1-1h0m2 0h0m3-1h0m2-7h0m-9-1h0m4-4h0m3-5h0m-1-3h0m6-12h0m11 19h0m-5 5h0m1 5h0m-4 2h0m-2 2h0m8 2h0m-4 0h0m3 1h0m8 0h0m1 0h0m-2-1h0m-2 0h0m-1-2h0m7-1h0m3-1h0m-7-2h0m3 0h0m1-2h0m-5 0h0m8-1h0m0-9h0m1-4h0m-10-3h0m1 0h0m-1-9h0m2-63h0m17 79h0m-6 4h0m3 4h0m-3 2h0m4 1h0m2 1h0m-5 2h0m5 1h0m3 2h0m-8 0h0m5 0h0m1 1h0m7 1h0m1 0h0m4-1h0m-1 0h0m3-1h0m-8-1h0m3-1h0m2-1h0m3 0h0m-1-1h0m-2-9h0m-2-2h0m2-1h0m-5-5h0m2 0h0m12 3h0m-5 5h0m2 3h0m5 1h0m1 0h0m-7 2h0m10 1h0m-6 4h0m3 0h0m-7 0h0m9 1h0m-3 2h0m3 0h0m1 1h0m10 1h0m-8-1h0m4 0h0m-1-1h0m6 0h0m-5 0h0m-5-1h0m7 0h0m2-1h0m2-1h0m-5 0h0m1-7h0m-1-1h0m-1-4h0m16-26h0m-8 13h0m0 13h0m3 2h0m-4 3h0m7 0h0m1 4h0m-3 2h0m-5 1h0m7 1h0m-5 0h0m-1 1h0m0 1h0m3 0h0m-1 1h0m-1 0h0m6 1h0m1 0h0m10 0h0m-5 0h0m3-2h0m1-2h0m-4 0h0m4-2h0m-3-2h0m6-2h0m-2-6h0m-4-5h0m0-42h0m16 45h0m4 4h0m-4 7h0m3 2h0m-8 0h0m3 0h0m-2 2h0m0 1h0m5 1h0m1 1h0m10 0h0m-6-1h0m3-1h0m5-2h0m-6-1h0m-2-2h0m-1-5h0m7-1h0m15 4h0m0 1h0m-3 2h0m-2 4h0m3 0h0m3 0h0m-6 1h0m-2 1h0m18 0h0m-8 0h0m4-1h0m-4-7h0m4-1h0m5-8h0m-2-2h0m2-11h0m7 19h0m3 4h0m0 3h0m-5 1h0m0 2h0m2 2h0m8-3h0m8-1h0m-7-11h0m6 0h0m1-13h0m7 21h0m19-8h0m-10-12h0m22 7h0m-8 0h0m26-23h0m0 18h0m12 11h0m13 2h0m11 3h0m4-22h0" stroke="#FF0000" stroke-width="7.4" stroke-linecap="round" fill="none" stroke-opacity="0.48"/>
<path transform="scale(0.5)" d="M247 1240h0m-4 9h0m-2 40h0m7 62h0m1 12h0m-1 3h0m-2 7h0m5 1h0m-1 1h0m0 6h0m-3 4h0m4 6h0m-6 1h0m1 1h0m5 1h0m-5 1h0m-1 7h0m1 4h0m1 1h0m2 0h0m-3 3h0m4 2h0m-2 4h0m3 1h0m-1 2h0m-3 1h0m3 0h0m0 1h0m-4 0h0m5 1h0m-4 1h0m13 3h0m1-3h0m-8 0h0m4-1h0m-2 0h0m2-2h0m1 0h0m-5 0h0m6 0h0m-5-1h0m-2-3h0m10 0h0m-2-1h0m1-1h0m-3-3h0m-6-3h0m5-6h0m-3-9h0m6 0h0m-6-1h0m1 0h0m3-6h0m0-6h0m1-3h0m-2-8h0m4 0h0m-7 0h0m7-30h0m-9-3h0m0-10h0m11-51h0m7 56h0m0 38h0m3 14h0m-8 6h0m-1 6h0m2 1h0m-1 1h0m1 3h0m8 3h0m-10 1h0m7 6h0m-4 0h0m-2 1h0m7 3h0m-8 9h0m10 2h0m-4 1h0m1 0h0m0 1h0m-7 0h0m2 1h0m3 1h0m14 2h0m1-2h0m-7-2h0m4 0h0m-5 0h0m1-3h0m10-1h0m-11-2h0m11-2h0m-8-1h0m1 0h0m0-2h0m3 0h0m-6-1h0m3-4h0m1-3h0m-2-2h0m4 0h0m4-1h0m-5-6h0m-2-1h0m1-2h0m-3-3h0m7-16h0m-6-17h0m5-2h0m11-7h0m-4 14h0m-3 5h0m10 13h0m-6 2h0m3 17h0m0 3h0m4 1h0m-10 13h0m-1 1h0m4 2h0m1 2h0m-2 0h0m-2 1h0m0 2h0m21 6h0m-6-2h0m6-2h0m0-1h0m-6-3h0m4-3h0m-3-4h0m-2-1h0m3 0h0m-2-2h0m-1-2h0m8-3h0m-5-6h0m-3-5h0m1 0h0m-1-11h0m3 0h0m-4-8h0m7-2h0m-5-4h0m-4-9h0m2-1h0m3-7h0m17-1h0m-6 46h0m-4 3h0m1 9h0m10 5h0m-8 5h0m0 2h0m1 0h0m4 0h0m-8 3h0m8 2h0m-1 2h0m2 1h0m-4 2h0m-5 1h0m13 0h0m2-5h0m3-5h0m-6-2h0m2-1h0m6 0h0m-3-2h0m-4-3h0m3 0h0m3-4h0m-7-2h0m5-3h0m5-6h0m-9-2h0m9-9h0m-4-1h0m2-28h0m8-98h0m6 83h0m-10 22h0m8 25h0m1 4h0m-3 6h0m-6 0h0m0 2h0m7 1h0m-1 12h0m-3 0h0m6 4h0m-2 5h0m4 3h0m-1 3h0m-4 2h0m-5 0h0m7 1h0m-1 1h0m8 2h0m4-6h0m1-1h0m-7 0h0m9 0h0m-8-2h0m1 0h0m4-4h0m2 0h0m-1-4h0m-7-1h0m0-5h0m5-2h0m-1-3h0m6-7h0m-5-29h0m8-108h0m9 126h0m-4 11h0m3 1h0m-5 3h0m4 4h0m1 7h0m-6 1h0m1 3h0m0 4h0m6 0h0m-8 3h0m-3 2h0m1 3h0m8 1h0m-3 1h0m5 1h0m-7 0h0m2 1h0m5 1h0m-9 0h0m9 1h0m2-1h0m0-1h0m3-1h0m1 0h0m4-2h0m-4 0h0m-1-3h0m-1 0h0m-3-1h0m6-1h0m2-4h0m-5-9h0m6 0h0m-4-13h0m-5 0h0m6-1h0m4 0h0m-6-1h0m-4-5h0m10-2h0m-6-6h0m7-73h0m-10 0h0m22 79h0m-7 2h0m4 9h0m2 2h0m-4 1h0m5 11h0m-7 2h0m3 5h0m-1 5h0m-1 0h0m4 2h0m-5 0h0m0 1h0m-2 4h0m1 0h0m1 2h0m1 1h0m17 0h0m-4 0h0m-2-1h0m6-1h0m-5 0h0m1-1h0m2-1h0m-8 0h0m4 0h0m0-1h0m5-2h0m-2 0h0m-6-3h0m-1-1h0m10-3h0m-5 0h0m-4 0h0m5-1h0m5-2h0m12-86h0m-7 60h0m-3 16h0m10 6h0m-10 1h0m3 0h0m6 3h0m-8 1h0m9 3h0m-4 6h0m2 2h0m1 0h0m0 2h0m-2 0h0m3 1h0m-5 0h0m-4 1h0m1 1h0m8 1h0m6 1h0m3-1h0m2-5h0m-3-2h0m1-2h0m1 0h0m2-1h0m-8-2h0m-3-2h0m3-6h0m8-15h0m10-35h0m-4 34h0m5 8h0m-3 1h0m3 1h0m-4 4h0m0 5h0m-4 7h0m5 1h0m-3 2h0m1 3h0m-3 3h0m1 1h0m8 0h0m-8 2h0m4 0h0m16-2h0m0-1h0m-10-1h0m4-2h0m5-2h0m-6-2h0m-4-3h0m9 0h0m-7-11h0m3 0h0m-1-9h0m13 6h0m6 4h0m-8 6h0m3 3h0m-5 4h0m9 1h0m1 3h0m-5 1h0m-2 1h0m3 0h0m-6 0h0m11 5h0m9-1h0m-7-2h0m0-1h0m4-7h0m-6-1h0m4-1h0m0-9h0m7 0h0m-5-8h0m-2-7h0m14-15h0m1 30h0m-2 1h0m-4 2h0m1 1h0m0 14h0m3 4h0m-4 0h0m16 1h0m-1-1h0m-2 0h0m1-3h0m-3 0h0m4-2h0m3-1h0m-4-1h0m3 0h0m-4-2h0m1-2h0m3 0h0m-6-1h0m11 0h0m-4-4h0m-5-1h0m9 0h0m-11-14h0m3-8h0m6-17h0m5 2h0m6 36h0m0 1h0m-2 3h0m-5 1h0m10 4h0m-11 1h0m3 1h0m-2 1h0m2 0h0m7 1h0m-7 2h0m2 1h0m0 3h0m6 1h0m3-2h0m9 0h0m-2 0h0m-1-1h0m-5 0h0m6-2h0m-8-2h0m7-2h0m1 0h0m-5-2h0m-2-5h0m6 0h0m-2-12h0m8-3h0m7 11h0m-7 3h0m-2 2h0m3 4h0m5 2h0m-4 2h0m-2 3h0m8 3h0m-7 2h0m18-1h0m2 0h0m-9-2h0m-2 0h0m3-1h0m2-1h0m1-1h0m-6-1h0m7-4h0m-3-1h0m-1-4h0m0-1h0m-2-28h0m21-86h0m-5 106h0m6 4h0m-11 1h0m11 3h0m-3 5h0m-5 1h0m2 1h0m-4 5h0m9 0h0m-8 1h0m-2 2h0m5 2h0m6 0h0m4 0h0m1-1h0m3-1h0m2-1h0m-7 0h0m8-5h0m-3-2h0m10-34h0m-2 5h0m4 1h0m-4 16h0m4 11h0m0 2h0m-4 2h0m6 3h0m-2 0h0m-5 1h0m4 0h0m5 3h0m-2 0h0m12 1h0m-2-2h0m0-1h0m2-1h0m-7-1h0m2-4h0m3-8h0m-5-3h0m5-2h0m2-2h0m-8-1h0m4-15h0m7-12h0m9 20h0m2 13h0m-9 2h0m-1 1h0m9 0h0m-7 2h0m3 2h0m-5 3h0m10 4h0m-10 0h0m2 1h0m8 1h0m-7 0h0m4 0h0m-7 2h0m8 1h0m13 0h0m-10 0h0m10-1h0m-6-1h0m1-1h0m6 0h0m-2 0h0m-8 0h0m1-1h0m-2-1h0m7-4h0m4 0h0m-8-5h0m7-80h0m12 62h0m-4 14h0m3 4h0m-3 2h0m-4 3h0m0 3h0m4 1h0m-3 1h0m6 0h0m1 1h0m-10 0h0m6 1h0m1 1h0m3 0h0m-1 0h0m-5 0h0m17 0h0m-7 0h0m9-2h0m-2 0h0m0-6h0m2-2h0m-4-1h0m1-9h0m-4-11h0m9-3h0m2 1h0m1 5h0m3 5h0m-1 9h0m-1 2h0m0 4h0m3 3h0m-5 4h0m3 0h0m-6 2h0m17 0h0m1-1h0m-6-2h0m1 0h0m4 0h0m-3-1h0m2-1h0m-2 0h0m3 0h0m-5 0h0m9-2h0m-4-3h0m5-67h0m12 61h0m-10 2h0m10 0h0m-5 4h0m0 2h0m4 4h0m-5 0h0m-1 2h0m3 2h0m1 0h0m9 1h0m2-1h0m-2 0h0m0-2h0m-3-3h0m4-1h0m1 0h0m-5 0h0m7-5h0m-8 0h0m10-3h0m-7-1h0m-1-2h0m3-1h0m5-2h0m-10-8h0m23 14h0m-5 1h0m-6 1h0m0 1h0m1 5h0m1 3h0m8 1h0m-5 1h0m3 2h0m-2 0h0m16 0h0m1 0h0m-1-2h0m-9-2h0m4 0h0m4-1h0m-9 0h0m3 0h0m8-2h0m-7-1h0m6 0h0m-1-1h0m-2-3h0m0-6h0m-2-28h0m11 28h0m4 2h0m-8 1h0m3 5h0m3 10h0m8 0h0m3-2h0m2-1h0m-7 0h0m0-1h0m9-1h0m-7-1h0m7-3h0m-2-9h0m0-18h0m-3-21h0m16-13h0m10 65h0m-3-28h0m14-43h0m7 62h0m10-54h0m13 34h0m-1 13h0m-10 17h0m29-10h0m14 11h0m-6-7h0m4-34h0m5-60h0" stroke="#FF0000" stroke-width="7.4" stroke-linecap="round" fill="none" stroke-opacity="0.48"/>
<path transform="scale(0.5)" d="M249 1507h0m11-3h0m-3-3h0m4-2h0m-9-3h0m13 25h0m17-28h0m4-1h0m8-4h0m5 3h0m11 6h0m1-9h0m-4 0h0m13-9h0m3 10h0m-10 0h0m6 12h0m-4 8h0m17-8h0m0-18h0m-4-4h0m8-1h0m7 14h0m5 66h0m9-70h0m-8-7h0m10-2h0m-3 0h0m2-1h0m13-6h0m-8 0h0m4 3h0m4 2h0m-1 5h0m-3 2h0m0 6h0m-1 14h0m12-2h0m-1-4h0m-3-18h0m6-3h0m-7-1h0m-1-1h0m4 0h0m-1-2h0m-2 0h0m22 1h0m-11 6h0m0 6h0m19 10h0m-6-8h0m8-2h0m-5-4h0m1-3h0m0-6h0m3 0h0m-2 0h0m4-2h0m6 0h0m6 0h0m-5 2h0m5 0h0m-6 1h0m3 2h0m-6 1h0m9 0h0m-1 3h0m1 1h0m-9 4h0m6 14h0m16 10h0m-3-7h0m-2-14h0m-5-6h0m0-4h0m9-4h0m-5-1h0m4 0h0m2-1h0m11-3h0m-4 1h0m0 1h0m5 1h0m-4 1h0m-5 1h0m4 0h0m4 2h0m-9 1h0m-1 2h0m6 7h0m1 0h0m12 1h0m-2-4h0m5-5h0m-9-1h0m8-1h0m0-1h0m2 0h0m-6-1h0m2-1h0m1 0h0m-5 0h0m7-1h0m-8 0h0m1 0h0m3 0h0m-2 0h0m-1-1h0m3-2h0m4 0h0m13 0h0m-7 0h0m1 1h0m3 0h0m3 0h0m-7 0h0m-3 1h0m6 0h0m-3 0h0m-4 0h0m8 1h0m3 0h0m-8 0h0m-3 6h0m10 1h0m-9 1h0m6 1h0m-5 0h0m3 1h0m-5 0h0m0 2h0m21 11h0m-7-1h0m-2-2h0m3-6h0m6-1h0m-5-1h0m7-1h0m-2-1h0m-3-2h0m0-2h0m3 0h0m-4 0h0m2-1h0m2-1h0m0-2h0m-9 0h0m9-1h0m-2 0h0m-2-1h0m6-1h0m-10 0h0m0-1h0m-1 0h0m11 0h0m-10-1h0m0-1h0m6 0h0m11 0h0m-3 0h0m8 1h0m-3 1h0m3 0h0m-8 0h0m7 0h0m-1 1h0m-5 0h0m6 0h0m0 1h0m1 1h0m-6 0h0m3 1h0m-2 1h0m-4 1h0m5 9h0m-7 2h0m9 4h0m9 11h0m-5-10h0m8-1h0m2-4h0m-2-6h0m-9-4h0m1 0h0m9-2h0m-4 0h0m2-1h0m-8 0h0m6 0h0m-4-1h0m-2-1h0m0-2h0m10-1h0m1 0h0m-5 0h0m-6-1h0m22 0h0m-5 0h0m-1 0h0m-3 0h0m-1 1h0m6 0h0m-3 1h0m-2 0h0m10 0h0m-1 1h0m-2 0h0m-8 0h0m3 0h0m8 1h0m0 1h0m-10 0h0m8 1h0m0 1h0m1 0h0m-3 3h0m0 1h0m1 0h0m-8 1h0m4 1h0m5 0h0m-6 1h0m3 2h0m-5 2h0m6 1h0m-3 1h0m-4 6h0m19 52h0m-2-61h0m-2-1h0m5-2h0m-2-1h0m2 0h0m3-1h0m-8-4h0m-1 0h0m4-4h0m3 0h0m-7 0h0m-2 0h0m11 0h0m-11-1h0m9 0h0m-8 0h0m7 0h0m3-1h0m-8 0h0m1 0h0m-2-1h0m1 0h0m6 0h0m-8 0h0m1-1h0m3 0h0m16-1h0m-5 1h0m-1 0h0m7 0h0m-5 0h0m-1 1h0m-2 0h0m0 3h0m4 2h0m5 1h0m-3 1h0m1 0h0m-8 1h0m5 2h0m-6 0h0m3 9h0m-1 9h0m12 9h0m2-9h0m5-5h0m-8-2h0m1-6h0m1-2h0m3-1h0m-6-2h0m1 0h0m8-2h0m-2 0h0m1-3h0m-5 0h0m7-1h0m-8-1h0m3 0h0m-3-3h0m2 0h0m4-1h0m1 0h0m-1-1h0m12 0h0m-2 1h0m3 0h0m1 0h0m-2 1h0m-2 0h0m4 1h0m0 1h0m-8 2h0m6 2h0m-6 1h0m1 1h0m7 1h0m-10 1h0m6 3h0m-5 3h0m8 2h0m-1 4h0m-7 0h0m10 22h0m6-27h0m1-2h0m-4 0h0m6-6h0m-4-3h0m1-1h0m3-1h0m3 0h0m-6-2h0m6 0h0m-2-1h0m-3 0h0m-5 0h0m9 0h0m-7 0h0m6-1h0m-2 0h0m4-1h0m-9 0h0m4-1h0m7 0h0m8 0h0m-2 0h0m-7 1h0m6 0h0m1 1h0m-5 0h0m6 0h0m3 0h0m-10 0h0m10 1h0m-4 0h0m2 0h0m-8 1h0m8 0h0m-5 0h0m1 1h0m-5 2h0m2 1h0m1 1h0m-3 2h0m11 0h0m-2 0h0m-9 1h0m9 3h0m1 4h0m-8 0h0m18 11h0m1-10h0m2-4h0m-6-1h0m6-2h0m-4-1h0m-6-4h0m9-1h0m-10-1h0m4 0h0m-1-1h0m2 0h0m-5 0h0m5-1h0m-2 0h0m6-2h0m-5 0h0m7-1h0m-5-1h0m1-1h0m11 1h0m-5 0h0m9 0h0m-10 0h0m0 1h0m3 0h0m3 0h0m-2 0h0m7 1h0m-2 0h0m-8 0h0m10 1h0m-3 2h0m-5 0h0m7 2h0m-10 0h0m11 0h0m-8 1h0m7 3h0m-10 0h0m3 0h0m6 2h0m2 0h0m-2 15h0m-9 0h0m12 7h0m11-4h0m-3-11h0m-3-2h0m4 0h0m-2-3h0m-7 0h0m5-3h0m-5-5h0m1-1h0m3 0h0m1 0h0m-4-1h0m-1-1h0m6-2h0m2 0h0m-6-2h0m8-1h0m11 1h0m-4 1h0m6 0h0m-8 2h0m-2 1h0m-1 2h0m1 0h0m8 2h0m1 0h0m0 1h0m-1 18h0m12 3h0m-7-9h0m3-1h0m6-4h0m-6-3h0m0-3h0m6-1h0m-11-1h0m10-2h0m-5 0h0m3 0h0m-5-2h0m1-2h0m5 0h0m-7-1h0m-2-2h0m1 0h0m12 1h0m7 2h0m3 1h0m-1 1h0m-3 2h0m3 0h0m-8 0h0m3 2h0m3 4h0m-8 3h0m6 5h0m-5 0h0m8 4h0m1 21h0m5-5h0m8-18h0m-2-1h0m1-1h0m-1-5h0m-9-6h0m1-1h0m5-2h0m-4-4h0m2 0h0m1-1h0m-5 0h0m11-1h0m-11 0h0m1 0h0m2-1h0m20 0h0m-10 0h0m7 2h0m-1 3h0m3 2h0m-4 2h0m4 7h0m5-2h0m-1-9h0m0-3h0m15-1h0m0 1h0m-1 1h0m4 1h0m-4 0h0m-4 1h0m6 1h0m-6 2h0m3 0h0m-1 1h0m4 2h0m12-2h0m5-3h0m-5-2h0m-3-1h0m3-1h0m0-1h0m17 0h0m-7 1h0m4 1h0m1 1h0m-8 3h0m13-6h0m4-1h0m11 0h0m3 2h0m-8 3h0m2 5h0m-1 16h0m18-22h0m16-3h0m-2 1h0m-5 2h0m38 2h0m5-1h0m-4-2h0m3-2h0m5 12h0m23-14h0m0 17h0" stroke="#0000FF" stroke-width="7.4" stroke-linecap="round" fill="none" stroke-opacity="0.46"/>
<path transform="scale(0.5)" d="M232 1533h0m13-40h0m-5 22h0m14-3h0m8-9h0m12-13h0m-8 1h0m1 5h0m3 8h0m-5 11h0m15-8h0m1-16h0m9-1h0m1 8h0m13 14h0m-2-5h0m8-19h0m7-9h0m-3 11h0m7 3h0m-6 1h0m17-9h0m2-5h0m-9-1h0m14 0h0m4 3h0m-4 0h0m6 25h0m3-6h0m5-8h0m6-4h0m-8-6h0m8-4h0m-4-2h0m14-5h0m-2 3h0m-4 2h0m8 1h0m-10 7h0m16 5h0m0-4h0m4-1h0m2-2h0m-8-2h0m0-7h0m-3 0h0m6-2h0m2 0h0m2-1h0m2 0h0m11 4h0m-2 1h0m-6 1h0m5 1h0m-2 4h0m-5 4h0m2 2h0m12 30h0m-1-19h0m1-9h0m2-5h0m3-4h0m-8-3h0m2-2h0m-2-2h0m6-1h0m-5-1h0m11-2h0m0 3h0m3 0h0m3 7h0m5 6h0m-8 6h0m18 13h0m-9-3h0m5-16h0m0-2h0m-2-3h0m3-1h0m4-3h0m-1 0h0m-5-3h0m-1-1h0m7-1h0m-3-1h0m4 0h0m-4-1h0m-5 0h0m15 1h0m6 1h0m-5 0h0m2 0h0m-3 1h0m-4 5h0m9 1h0m1 3h0m-9 9h0m-1 3h0m4 3h0m-3 7h0m-2 10h0m21-36h0m-7 0h0m5-1h0m-4 0h0m3-1h0m-3 0h0m1-1h0m5-1h0m-6-1h0m2-1h0m4 0h0m-1-1h0m3 0h0m-8 0h0m7-2h0m8-1h0m4 1h0m1 0h0m-4 1h0m-4 1h0m-1 0h0m9 1h0m-2 4h0m-5 0h0m3 0h0m-7 0h0m3 2h0m1 1h0m0 1h0m-3 4h0m4 1h0m4 3h0m-5 2h0m18 12h0m-4-2h0m3-17h0m-1-1h0m-4-3h0m7-1h0m-7-3h0m6-1h0m-10 0h0m2-1h0m9-1h0m-3-1h0m3-1h0m-5 0h0m-4-1h0m4-1h0m13 0h0m3 0h0m1 0h0m-3 1h0m-5 0h0m-3 1h0m3 0h0m1 1h0m3 0h0m4 0h0m-9 1h0m1 1h0m-3 1h0m9 1h0m-7 0h0m4 1h0m0 3h0m10 29h0m3-12h0m3-6h0m-9-4h0m1-1h0m6-2h0m-7-1h0m3 0h0m3-1h0m-5-2h0m6-1h0m-8 0h0m6 0h0m2-1h0m-2 0h0m1-1h0m-5-1h0m0-1h0m-2 0h0m11 0h0m-8 0h0m6-1h0m-9-1h0m7 0h0m-5 0h0m9-1h0m-2 0h0m-8 0h0m3-2h0m7 0h0m-5-1h0m6 0h0m2 1h0m8 0h0m-5 0h0m4 1h0m-9 0h0m5 1h0m-1 2h0m0 1h0m5 2h0m-9 1h0m9 0h0m-3 1h0m3 0h0m-4 3h0m-4 3h0m3 0h0m-4 5h0m14 13h0m6-7h0m-6-2h0m5-1h0m-1-4h0m-5-6h0m-1 0h0m9-2h0m-7-1h0m5-2h0m-7-1h0m11-1h0m-6-1h0m6 0h0m-4 0h0m-2-1h0m6 0h0m-7-2h0m3 0h0m-2-1h0m4 0h0m-9-1h0m11 0h0m-1-1h0m-5 0h0m1 0h0m0-1h0m15 0h0m1 2h0m-3 2h0m-7 0h0m1 0h0m3 0h0m3 1h0m-1 2h0m-5 0h0m8 1h0m-4 0h0m5 1h0m-2 0h0m-2 0h0m2 1h0m-4 1h0m1 2h0m-4 2h0m9 4h0m1 8h0m8 1h0m4-2h0m-11-6h0m3 0h0m3-2h0m-6-1h0m1 0h0m1-1h0m4-1h0m1-1h0m-3-1h0m-4-2h0m10-3h0m-7-2h0m6 0h0m0-1h0m-7 0h0m4-1h0m3 0h0m0-1h0m-7 0h0m1-1h0m-2 0h0m3 0h0m3 0h0m0-1h0m1 0h0m-2 0h0m0-1h0m6 0h0m3 0h0m4 0h0m3 1h0m-9 1h0m6 0h0m3 0h0m1 0h0m-9 1h0m2 2h0m0 3h0m-1 0h0m3 0h0m-2 1h0m-3 3h0m3 0h0m-1 4h0m2 1h0m6 3h0m-7 1h0m-2 1h0m8 8h0m12 7h0m1-1h0m-3-5h0m3-9h0m-10-6h0m4-4h0m-2-1h0m-3-2h0m6 0h0m-5 0h0m5-1h0m2-1h0m-2-1h0m3 0h0m-2 0h0m1-1h0m-6-1h0m4-1h0m-3 0h0m0-1h0m4-2h0m-2 0h0m1 0h0m15 0h0m-2 0h0m-5 0h0m3 0h0m-1 1h0m2 0h0m3 0h0m-2 1h0m-7 0h0m0 1h0m7 0h0m-7 1h0m6 0h0m-1 0h0m0 2h0m3 0h0m3 0h0m-6 1h0m6 3h0m-3 0h0m-5 4h0m1 0h0m4 1h0m3 2h0m0 6h0m-4 1h0m0 4h0m10 1h0m1-16h0m3-1h0m-6-1h0m-1-3h0m3-1h0m4-2h0m-7 0h0m2 0h0m4-1h0m2-1h0m-8 0h0m1-1h0m2 0h0m-1-1h0m-2 0h0m3 0h0m3-1h0m-4 0h0m14 0h0m3 0h0m-8 0h0m4 0h0m3 0h0m-8 0h0m11 1h0m-8 0h0m6 0h0m0 1h0m-9 1h0m9 0h0m-7 0h0m3 0h0m4 1h0m-5 0h0m3 2h0m3 0h0m-9 0h0m3 0h0m6 1h0m-3 1h0m-5 1h0m3 1h0m6 0h0m0 4h0m7 32h0m-4-15h0m1-1h0m4-5h0m-3-1h0m-1-1h0m5-3h0m2-7h0m-6-2h0m3-1h0m-6-4h0m5-3h0m-2-1h0m1 0h0m3 0h0m-7-1h0m7-1h0m-5 0h0m3 0h0m14-1h0m-4 1h0m0 2h0m6 0h0m-4 1h0m-3 0h0m0 1h0m5 1h0m-6 1h0m5 2h0m4 0h0m-3 5h0m-2 9h0m-5 1h0m10 0h0m9 10h0m1-23h0m-4-3h0m4-2h0m-5 0h0m-1-2h0m7 0h0m-10-2h0m4-1h0m0-1h0m14 1h0m-3 0h0m4 1h0m4 5h0m-2 1h0m-5 19h0m16-12h0m-3-1h0m5-4h0m1-2h0m-9-1h0m-1-3h0m8-2h0m1-1h0m-9 0h0m17-1h0m1 2h0m-7 1h0m1 0h0m2 0h0m5 5h0m2 2h0m-3 2h0m-5 21h0m20-5h0m-2-26h0m-3-1h0m8 1h0m-1 1h0m7 1h0m-7 2h0m1 3h0m8 8h0m10 10h0m-4-5h0m6-3h0m-8-8h0m2-5h0m1-2h0m-2 0h0m6 0h0m3-2h0m-9 0h0m3-1h0m-1 0h0m17-1h0m-5 0h0m-2 0h0m-2 1h0m11 2h0m-6 5h0m6 1h0m-6 4h0m-5 26h0m13-13h0m10-6h0m-6-3h0m-5-3h0m8-7h0m-7-7h0m5 0h0m19 5h0m15-5h0m6 1h0m-10 19h0m33-20h0m-8 3h0m6 1h0m-1 4h0m14-5h0m5-3h0m8 1h0m9 23h0m-5-22h0" stroke="#0000FF" stroke-width="7.4" stroke-linecap="round" fill="none" stroke-opacity="0.46"/>
<path transform="scale(0.5)" d="M232 1514h0m15-19h0m8 7h0m17-7h0m-2 1h0m-6 1h0m8 8h0m-1 7h0m13-10h0m3-1h0m-5-8h0m6 4h0m0 14h0m22 1h0m0-14h0m-8-1h0m8-3h0m0-2h0m4-7h0m21 42h0m-8-27h0m5-4h0m2-7h0m-2-6h0m-3-4h0m10-1h0m6 4h0m13 25h0m-9-22h0m3-5h0m13-6h0m-2 3h0m0 1h0m5 4h0m-6 2h0m-1 7h0m2 2h0m15 3h0m-1-4h0m-4-4h0m4-1h0m-1-5h0m-2-7h0m3-1h0m5-1h0m9-2h0m1 1h0m3 0h0m-8 1h0m6 0h0m-5 2h0m-1 6h0m15 5h0m3-9h0m1-3h0m-5 0h0m-2-1h0m-1-1h0m-2-1h0m19-1h0m-7 3h0m6 0h0m-4 0h0m9 2h0m-11 0h0m3 1h0m5 0h0m0 1h0m-7 0h0m8 1h0m2 3h0m0 1h0m-10 5h0m8 7h0m5 23h0m-2-30h0m4-4h0m2 0h0m3-1h0m0-3h0m-7 0h0m4-2h0m-2-1h0m-4 0h0m1-2h0m2-2h0m1-2h0m1 0h0m11-1h0m-4 0h0m5 1h0m3 0h0m-5 0h0m4 1h0m-7 0h0m3 1h0m6 0h0m-6 1h0m5 1h0m-7 0h0m7 2h0m-3 0h0m1 8h0m11 3h0m6 0h0m-6-1h0m-1 0h0m4-2h0m-4-1h0m-4-3h0m7-4h0m3 0h0m-5 0h0m-4-2h0m7-1h0m0-1h0m-1-1h0m2 0h0m-4-1h0m1-1h0m-4 0h0m14 0h0m-3 1h0m10 1h0m-2 0h0m-2 0h0m-7 0h0m4 1h0m4 0h0m0 1h0m-1 1h0m-1 1h0m-2 0h0m-4 2h0m3 0h0m6 1h0m-6 6h0m-2 3h0m6 4h0m-4 3h0m13 9h0m0-3h0m-3-2h0m4-12h0m5-7h0m-10 0h0m0-1h0m3-1h0m3-3h0m3-1h0m-2 0h0m4-1h0m-5 0h0m-4-1h0m3 0h0m-5 0h0m8-1h0m1-1h0m-8 0h0m-1 0h0m6-1h0m15 0h0m-1 0h0m3 0h0m-9 1h0m3 0h0m-5 0h0m9 0h0m1 2h0m-7 0h0m7 1h0m-1 1h0m-3 1h0m1 0h0m-1 1h0m1 0h0m-4 2h0m0 1h0m3 0h0m-6 0h0m6 3h0m-2 1h0m-4 0h0m4 3h0m5 2h0m-8 6h0m9 5h0m-8 4h0m4 22h0m15-23h0m0-2h0m-4-4h0m-5-4h0m5-4h0m-4-1h0m3 0h0m6 0h0m-9-2h0m-1-2h0m9 0h0m-1-1h0m-6 0h0m4-3h0m-6-1h0m9-2h0m-1-1h0m-4-1h0m-1-1h0m-2 0h0m6 0h0m1-1h0m-1 0h0m-4-1h0m-2 0h0m6-1h0m-2 0h0m1 0h0m-6-1h0m9 0h0m-7 0h0m9 0h0m-5 0h0m14 0h0m0 1h0m-8 0h0m4 1h0m7 0h0m-6 1h0m-5 0h0m3 2h0m0 2h0m3 1h0m-5 1h0m-1 2h0m5 0h0m-3 3h0m0 1h0m6 1h0m-8 2h0m10 1h0m8-6h0m2 0h0m-2-1h0m-6-1h0m2-2h0m7-1h0m1 0h0m-4-4h0m-1 0h0m3 0h0m-3-1h0m-2-1h0m-2 0h0m3 0h0m2-2h0m3-1h0m-1 0h0m14 0h0m-3 0h0m-1 1h0m3 0h0m-5 0h0m6 0h0m-3 0h0m-2 1h0m3 0h0m-8 0h0m9 1h0m-6 0h0m4 1h0m-5 0h0m1 0h0m2 1h0m-5 0h0m11 1h0m-10 0h0m1 0h0m3 0h0m2 1h0m-5 0h0m9 0h0m-9 1h0m8 2h0m-1 0h0m1 1h0m-5 4h0m0 1h0m4 3h0m-4 5h0m5 10h0m13-16h0m-3-2h0m-7-3h0m-1-2h0m7-1h0m-2 0h0m1-1h0m-3-1h0m2-1h0m-1-1h0m-3-1h0m1 0h0m9 0h0m-2-1h0m-2 0h0m-2-1h0m2 0h0m-5-1h0m1 0h0m5-1h0m-8 0h0m4 0h0m14 0h0m4 0h0m-5 0h0m-5 0h0m7 1h0m-3 1h0m3 0h0m-2 1h0m-3 4h0m6 1h0m-5 0h0m1 0h0m3 1h0m-3 1h0m-1 9h0m6 1h0m-9 5h0m15 1h0m7-2h0m-3-1h0m-7-4h0m10-4h0m-5-7h0m1 0h0m-4-1h0m3 0h0m-5 0h0m4-3h0m-4-1h0m11 0h0m-8 0h0m4-1h0m-7-1h0m4 0h0m2-1h0m-2 0h0m1-1h0m-2 0h0m3 0h0m17 0h0m-7 0h0m6 1h0m-6 1h0m3 1h0m-6 1h0m6 0h0m-2 0h0m-1 1h0m-1 0h0m-3 1h0m6 0h0m-4 2h0m0 3h0m3 0h0m6 4h0m-4 1h0m3 1h0m-10 12h0m14 8h0m5-9h0m-1-4h0m5-11h0m-11-1h0m5-2h0m6-7h0m-2 0h0m-3-2h0m-5 0h0m7 0h0m-2-1h0m-2 0h0m18-1h0m-3 1h0m-6 0h0m2 3h0m-2 0h0m8 1h0m-7 0h0m9 0h0m-1 1h0m-10 1h0m4 1h0m2 1h0m3 1h0m-9 0h0m6 2h0m-2 3h0m2 3h0m1 1h0m-5 0h0m5 39h0m11-35h0m-6-12h0m0-2h0m6-1h0m0-2h0m-6 0h0m3 0h0m5-2h0m1-1h0m-5-1h0m1 0h0m-2 0h0m-1-1h0m2 0h0m1 0h0m12 0h0m-1 0h0m-1 1h0m-3 1h0m8 1h0m-1 1h0m-5 1h0m-2 1h0m3 0h0m0 1h0m4 0h0m-2 0h0m3 3h0m3 0h0m-8 4h0m1 3h0m-1 8h0m2 19h0m16-17h0m-6-13h0m7-7h0m-5-2h0m4-1h0m-5 0h0m1 0h0m1-1h0m1 0h0m-7-1h0m1 0h0m1-1h0m1-1h0m7 0h0m-5-1h0m17 0h0m-10 1h0m9 0h0m-6 0h0m1 1h0m6 0h0m-1 1h0m1 0h0m0 1h0m-8 1h0m9 0h0m-7 1h0m7 6h0m-10 0h0m5 4h0m-5 3h0m12 54h0m7-40h0m-5-13h0m4-6h0m0-2h0m1-2h0m-4-3h0m6 0h0m-5-4h0m-5 0h0m6-3h0m9 0h0m1 1h0m6 2h0m-6 2h0m-3 2h0m1 6h0m12 7h0m7 0h0m-9-4h0m0-9h0m6-1h0m3-3h0m-7 0h0m3-3h0m11 0h0m2 1h0m-6 12h0m0 9h0m7 1h0m14-7h0m-2-8h0m6-7h0m-1 8h0m2 1h0m-1 3h0m5 2h0m16-10h0m-6-1h0m0-2h0m-3-1h0m18 2h0m4 13h0m0 10h0m11-26h0m-6 0h0m6-1h0m3 2h0m10 4h0m12 1h0m-9-3h0m0-3h0m15 11h0m16-8h0m-5-1h0m-2-2h0m18 6h0m0 13h0m9-11h0m3-3h0m3-3h0m-11-1h0" stroke="#0000FF" stroke-width="7.4" stroke-linecap="round" fill="none" stroke-opacity="0.46"/>
<path transform="scale(0.5)" d="M218 1598h0m35-84h0m7-18h0m2-1h0m-7-2h0m18-1h0m-5 0h0m1 7h0m-2 31h0m13-34h0m13-4h0m-5 10h0m6 1h0m15 4h0m1-3h0m-1-7h0m-7-3h0m3-1h0m2-3h0m3 0h0m8-11h0m-6 10h0m0 1h0m9 1h0m5 40h0m-2-23h0m4-13h0m-3-3h0m7-7h0m3 0h0m-1-5h0m-7-2h0m17 0h0m2 3h0m-10 5h0m18 15h0m1-16h0m-2-5h0m-1-1h0m10-5h0m8 3h0m1 3h0m-6 3h0m2 42h0m5-17h0m5-21h0m-3-9h0m6-3h0m0-1h0m0-2h0m6 0h0m0 1h0m9 0h0m-9 2h0m1 3h0m-3 3h0m5 3h0m12-4h0m1 0h0m-4-1h0m7-4h0m1-3h0m-2-1h0m-8 0h0m1 0h0m7-1h0m14 5h0m0 1h0m-4 0h0m-4 0h0m1 3h0m7 2h0m-4 2h0m4 0h0m-5 5h0m-2 1h0m20 16h0m-4-12h0m-6-4h0m9-6h0m-7-4h0m3-1h0m-1-4h0m5-1h0m-8 0h0m4-2h0m-6-1h0m7 0h0m12-1h0m3 0h0m-1 0h0m2 1h0m-11 2h0m11 0h0m-7 6h0m6 8h0m-4 1h0m1 15h0m16-7h0m-8-6h0m0-10h0m1 0h0m5-2h0m0-4h0m-1-1h0m-7-1h0m10 0h0m-5-1h0m-5 0h0m5-1h0m3 0h0m13-1h0m-2 1h0m3 0h0m-2 0h0m-8 0h0m4 1h0m3 0h0m3 0h0m-8 0h0m6 0h0m-7 1h0m7 1h0m1 0h0m1 0h0m-2 2h0m0 2h0m-4 0h0m-3 4h0m2 10h0m-2 10h0m1 1h0m0 2h0m11 22h0m-2-43h0m11 0h0m-2-1h0m-1-1h0m-8 0h0m2-2h0m5 0h0m1-1h0m-6-1h0m9 0h0m-2-1h0m-9-1h0m6-1h0m-6 0h0m2-1h0m3 0h0m-3-1h0m3 0h0m-2 0h0m6-1h0m-6 0h0m4-1h0m14-1h0m-7 0h0m4 0h0m2 1h0m3 0h0m-10 1h0m0 1h0m8 0h0m-1 1h0m-2 0h0m4 1h0m1 1h0m-7 4h0m3 4h0m2 0h0m-7 2h0m-2 1h0m5 1h0m-1 4h0m-1 1h0m6 3h0m-9 6h0m3 0h0m6 1h0m13 8h0m-8-11h0m9 0h0m-11-9h0m9-8h0m1 0h0m-8 0h0m8-2h0m-8 0h0m3 0h0m-2 0h0m6 0h0m-8-1h0m-1 0h0m11 0h0m-5-1h0m-3-1h0m6-3h0m-2 0h0m-5 0h0m2-3h0m6 0h0m-5 0h0m-2 0h0m6-1h0m2 0h0m-3-1h0m-8 0h0m7 0h0m-2 0h0m1 0h0m8 0h0m3 0h0m4 0h0m-5 1h0m-1 1h0m5 2h0m-8 1h0m10 1h0m-10 2h0m9 0h0m-9 2h0m11 0h0m-4 5h0m-3 2h0m7 0h0m-8 1h0m8 10h0m9 21h0m-1-21h0m-2-5h0m-4-5h0m9-3h0m1 0h0m-7-3h0m1 0h0m0-1h0m6 0h0m-9-1h0m9 0h0m0-2h0m-2 0h0m-5 0h0m1-1h0m1-1h0m-5 0h0m6 0h0m-7-1h0m6-1h0m1 0h0m4 0h0m-2-1h0m-5 0h0m6 0h0m-8-2h0m3 0h0m4 0h0m-1-1h0m2 0h0m1 0h0m-8 0h0m18-1h0m-4 1h0m-5 0h0m9 2h0m-7 1h0m9 1h0m-7 0h0m1 2h0m-1 1h0m2 0h0m-6 1h0m1 1h0m0 1h0m4 2h0m-4 0h0m3 5h0m7 2h0m-10 2h0m7 0h0m0 7h0m0 12h0m14-21h0m-8-3h0m2-4h0m7 0h0m-7-3h0m3 0h0m-7-1h0m6-1h0m1-1h0m3 0h0m-10-1h0m9-1h0m-4-2h0m-3-1h0m7 0h0m-4-1h0m-2 0h0m8 0h0m-7-1h0m7 0h0m1 0h0m5 1h0m-5 0h0m9 1h0m1 0h0m-6 1h0m3 0h0m2 0h0m-6 0h0m8 2h0m-7 0h0m6 0h0m-8 1h0m3 0h0m-2 0h0m-2 1h0m2 0h0m0 4h0m-3 2h0m0 1h0m11 0h0m-2 10h0m-6 1h0m13 61h0m7-65h0m-11-1h0m7-1h0m3-1h0m-3-2h0m3-3h0m1-3h0m-10-2h0m4 0h0m3-2h0m-7 0h0m0-3h0m9 0h0m-9-1h0m3 0h0m6 0h0m11-2h0m1 0h0m-10 1h0m9 0h0m-2 1h0m4 0h0m-8 0h0m-3 1h0m6 0h0m-5 0h0m3 2h0m2 3h0m-6 1h0m11 1h0m-10 1h0m6 1h0m-6 0h0m1 1h0m2 1h0m4 1h0m-4 1h0m2 0h0m-2 11h0m16-4h0m1-3h0m-4-2h0m-5-1h0m1-1h0m8-1h0m-1-5h0m-4 0h0m5-4h0m-3-1h0m3 0h0m-1-1h0m-7-1h0m-1 0h0m3 0h0m8-1h0m-8 0h0m6 0h0m-9-1h0m6 0h0m3 0h0m-5 0h0m6 0h0m-8-1h0m4 0h0m-5 0h0m21-1h0m-5 2h0m-5 1h0m5 1h0m-3 1h0m4 1h0m-3 2h0m-3 4h0m6 0h0m3 1h0m-5 0h0m7 1h0m-2 4h0m1 2h0m-8 0h0m1 14h0m11-5h0m-1-10h0m4-1h0m1-5h0m-5-1h0m10-2h0m-1-1h0m-5 0h0m-1-1h0m1 0h0m6-1h0m-4-2h0m2-1h0m-8-1h0m3 0h0m7-1h0m-9-1h0m6 0h0m13-1h0m-4 0h0m5 1h0m-10 0h0m4 1h0m3 1h0m-6 1h0m9 1h0m-10 3h0m8 1h0m2 3h0m-7 8h0m19 3h0m-4-7h0m3-1h0m-2-1h0m2-4h0m-3-2h0m-2-1h0m4 0h0m-7-1h0m1 0h0m9-2h0m-4-1h0m3 0h0m-2 0h0m3 0h0m-4-1h0m-5 0h0m6-1h0m2 0h0m-5 0h0m11 3h0m7 1h0m-8 1h0m3 0h0m-4 1h0m7 3h0m-3 7h0m3 1h0m1 11h0m-6 0h0m8 15h0m10-26h0m-3-1h0m-2-1h0m4-2h0m-7-1h0m-2-1h0m8-4h0m3-2h0m-6-3h0m3-1h0m-8 0h0m4-1h0m6-1h0m12 2h0m-10 3h0m11 1h0m-3 0h0m-4 2h0m4 3h0m-5 4h0m13 4h0m-4-5h0m0-7h0m0-3h0m8-2h0m-6-1h0m3 0h0m17 3h0m-9 3h0m3 2h0m3 1h0m-4 2h0m1 2h0m12-7h0m3-2h0m-6-1h0m7 0h0m-6-1h0m8-1h0m-10-1h0m1 0h0m15 1h0m-1 3h0m2 0h0m-5 12h0m12-2h0m0-1h0m5-2h0m2-1h0m-6-9h0m7-2h0m4 2h0m22 16h0m7-19h0m6 2h0m-5 16h0m7-5h0m6-10h0m3-1h0m11 1h0m-4 4h0m-5 0h0m19-6h0m11 1h0" stroke="#0000FF" stroke-width="7.4" stroke-linecap="round" fill="none" stroke-opacity="0.46"/>
</g>
<line x1="92.3" y1="521.2" x2="92.3" y2="812.2" stroke="#111" stroke-width="1.1" />
<line x1="91.8" y1="811.7" x2="489.4" y2="811.7" stroke="#111" stroke-width="1.1" />
<line x1="89.3" y1="568.6" x2="92.3" y2="568.6" stroke="#4D4D4D" stroke-width="1.1" />
<text x="87" y="572.8" font-size="12" text-anchor="end" fill="#4D4D4D" >6</text>
<line x1="89.3" y1="622.4" x2="92.3" y2="622.4" stroke="#4D4D4D" stroke-width="1.1" />
<text x="87" y="626.6" font-size="12" text-anchor="end" fill="#4D4D4D" >4</text>
<line x1="89.3" y1="676.2" x2="92.3" y2="676.2" stroke="#4D4D4D" stroke-width="1.1" />
<text x="87" y="680.4" font-size="12" text-anchor="end" fill="#4D4D4D" >2</text>
<line x1="89.3" y1="730" x2="92.3" y2="730" stroke="#4D4D4D" stroke-width="1.1" />
<text x="87" y="734.2" font-size="12" text-anchor="end" fill="#4D4D4D" >0</text>
<line x1="89.3" y1="783.8" x2="92.3" y2="783.8" stroke="#4D4D4D" stroke-width="1.1" />
<text x="87" y="788" font-size="12" text-anchor="end" fill="#4D4D4D" >−2</text>
<line x1="94.2" y1="811.7" x2="94.2" y2="814.7" stroke="#4D4D4D" stroke-width="1.1" />
<text x="94.2" y="826" font-size="12" text-anchor="middle" fill="#4D4D4D" >0</text>
<line x1="229.6" y1="811.7" x2="229.6" y2="814.7" stroke="#4D4D4D" stroke-width="1.1" />
<text x="229.6" y="826" font-size="12" text-anchor="middle" fill="#4D4D4D" >5</text>
<line x1="365" y1="811.7" x2="365" y2="814.7" stroke="#4D4D4D" stroke-width="1.1" />
<text x="365" y="826" font-size="12" text-anchor="middle" fill="#4D4D4D" >10</text>
<text transform="translate(290.8,850.9) scale(1.0,1.07)" font-size="13.3" text-anchor="middle" fill="#000">Log(CPM)</text>
<text transform="translate(63.1,667) rotate(-90) scale(1,1.1)" font-size="13.3" text-anchor="middle" fill="#000">Log2FC</text>
<text x="243.3" y="538" font-size="10.5" fill="#FF0000" >2015 genes up</text>
<text x="243.3" y="559.5" font-size="10.5" fill="#0000FF" >2190 genes down</text>
<text x="243.8" y="581" font-size="10.4" fill="#000" >padj&lt;0.01</text>
<text x="532.2" y="503" font-size="29.4" font-weight="bold" fill="#000" >D</text>
<path d="M731.7 550.2L731.4 551.8L731.1 553.3L730.8 554.9L730.6 556.5L730.4 558L730.3 559.6L730.1 561.2L730 562.7L729.9 564.3L729.7 565.9L729.6 567.4L729.5 569L729.4 570.6L729.3 572.1L729.2 573.7L729 575.3L728.9 576.8L728.8 578.4L728.6 580L728.5 581.5L728.4 583.1L728.2 584.7L728.1 586.2L727.9 587.8L727.8 589.4L727.6 590.9L727.5 592.5L727.3 594.1L727.2 595.6L727 597.2L726.9 598.8L726.7 600.3L726.6 601.9L726.5 603.5L726.3 605L726.2 606.6L726.1 608.2L725.9 609.7L725.8 611.3L725.7 612.9L725.6 614.4L725.5 616L725.3 617.6L725.2 619.1L725.1 620.7L725 622.3L724.9 623.8L724.8 625.4L724.7 627L724.6 628.5L724.5 630.1L724.4 631.7L724.3 633.2L724.2 634.8L724.1 636.4L724 637.9L723.9 639.5L723.8 641.1L723.7 642.7L723.6 644.2L723.5 645.8L723.4 647.4L723.3 648.9L723.2 650.5L723.1 652.1L723 653.6L722.9 655.2L722.8 656.8L722.7 658.3L722.6 659.9L722.5 661.5L722.4 663L722.4 664.6L722.3 666.2L722.2 667.7L722.1 669.3L722 670.9L721.9 672.4L721.8 674L721.7 675.6L721.6 677.1L721.5 678.7L721.4 680.3L721.3 681.8L721.2 683.4L721.2 685L721.1 686.5L721 688.1L720.9 689.7L720.8 691.2L720.7 692.8L720.6 694.4L720.5 695.9L720.4 697.5L720.3 699.1L720.2 700.6L720.1 702.2L720 703.8L719.9 705.3L719.8 706.9L719.7 708.5L719.6 710L719.5 711.6L719.4 713.2L719.3 714.7L719.2 716.3L719.1 717.9L719 719.4L718.8 721L718.7 722.6L718.6 724.1L718.5 725.7L718.3 727.3L718.2 728.8L718.1 730.4L717.9 732L717.8 733.5L717.7 735.1L717.5 736.7L717.4 738.2L717.2 739.8L717 741.4L716.9 742.9L716.7 744.5L716.5 746.1L716.3 747.6L716.1 749.2L715.9 750.8L715.7 752.3L715.5 753.9L715.3 755.5L715 757L714.8 758.6L714.6 760.2L714.3 761.7L714.1 763.3L713.8 764.9L713.6 766.4L713.3 768L713.1 769.6L712.8 771.1L712.6 772.7L712.3 774.3L712.1 775.8L711.8 777.4L711.5 779L711.3 780.5L711 782.1L710.7 783.7L710.4 785.2L710.1 786.8L709.8 788.4L709.4 789.9L709.1 791.5L708.7 793.1L708.3 794.6L707.8 796.2L707 797.8L705.2 799.3L670.3 798.2L670.3 801.2L711.6 801.2L711.6 799.3L713.3 797.8L714 796.2L714.5 794.6L714.8 793.1L715.1 791.5L715.4 789.9L715.7 788.4L715.9 786.8L716.2 785.2L716.4 783.7L716.6 782.1L716.8 780.5L717 779L717.2 777.4L717.4 775.8L717.6 774.3L717.8 772.7L717.9 771.1L718.1 769.6L718.3 768L718.5 766.4L718.7 764.9L718.9 763.3L719 761.7L719.2 760.2L719.4 758.6L719.6 757L719.7 755.5L719.9 753.9L720 752.3L720.2 750.8L720.3 749.2L720.5 747.6L720.6 746.1L720.7 744.5L720.8 742.9L720.9 741.4L721.1 739.8L721.2 738.2L721.2 736.7L721.3 735.1L721.4 733.5L721.5 732L721.6 730.4L721.7 728.8L721.8 727.3L721.8 725.7L721.9 724.1L722 722.6L722 721L722.1 719.4L722.2 717.9L722.2 716.3L722.3 714.7L722.4 713.2L722.4 711.6L722.5 710L722.5 708.5L722.6 706.9L722.7 705.3L722.7 703.8L722.8 702.2L722.8 700.6L722.9 699.1L723 697.5L723 695.9L723.1 694.4L723.2 692.8L723.2 691.2L723.3 689.7L723.4 688.1L723.5 686.5L723.6 685L723.6 683.4L723.7 681.8L723.8 680.3L723.9 678.7L724 677.1L724.1 675.6L724.2 674L724.3 672.4L724.4 670.9L724.5 669.3L724.6 667.7L724.7 666.2L724.8 664.6L724.8 663L724.9 661.5L725 659.9L725.1 658.3L725.2 656.8L725.3 655.2L725.4 653.6L725.5 652.1L725.6 650.5L725.7 648.9L725.8 647.4L725.9 645.8L726 644.2L726.1 642.7L726.2 641.1L726.3 639.5L726.4 637.9L726.5 636.4L726.6 634.8L726.7 633.2L726.8 631.7L726.9 630.1L727 628.5L727.1 627L727.2 625.4L727.3 623.8L727.4 622.3L727.5 620.7L727.6 619.1L727.7 617.6L727.9 616L728 614.4L728.1 612.9L728.2 611.3L728.3 609.7L728.5 608.2L728.6 606.6L728.7 605L728.9 603.5L729 601.9L729.1 600.3L729.3 598.8L729.4 597.2L729.6 595.6L729.7 594.1L729.9 592.5L730 590.9L730.2 589.4L730.3 587.8L730.5 586.2L730.6 584.7L730.8 583.1L730.9 581.5L731 580L731.2 578.4L731.3 576.8L731.4 575.3L731.6 573.7L731.7 572.1L731.8 570.6L731.9 569L732 567.4L732.1 565.9L732.3 564.3L732.4 562.7L732.5 561.2L732.7 559.6L732.8 558L733 556.5L733.2 554.9L733.5 553.3L733.8 551.8L734.1 550.2Z" fill="#C4C4C4" stroke="#C4C4C4" stroke-width="0.6" stroke-linejoin="round"/>
<path d="M750.1 550.2L750.4 551.8L750.6 553.3L750.8 554.9L750.9 556.5L751 558L751.1 559.6L751.2 561.2L751.3 562.7L751.4 564.3L751.5 565.9L751.6 567.4L751.7 569L751.8 570.6L751.9 572.1L752 573.7L752.1 575.3L752.2 576.8L752.3 578.4L752.4 580L752.5 581.5L752.6 583.1L752.7 584.7L752.7 586.2L752.8 587.8L752.9 589.4L753 590.9L753.1 592.5L753.2 594.1L753.3 595.6L753.4 597.2L753.5 598.8L753.6 600.3L753.7 601.9L753.8 603.5L753.8 605L753.9 606.6L754 608.2L754.1 609.7L754.2 611.3L754.3 612.9L754.4 614.4L754.5 616L754.6 617.6L754.7 619.1L754.8 620.7L754.9 622.3L755 623.8L755.1 625.4L755.2 627L755.3 628.5L755.4 630.1L755.5 631.7L755.6 633.2L755.7 634.8L755.8 636.4L755.9 637.9L756 639.5L756.1 641.1L756.2 642.7L756.3 644.2L756.4 645.8L756.5 647.4L756.6 648.9L756.7 650.5L756.8 652.1L756.9 653.6L757 655.2L757.1 656.8L757.2 658.3L757.3 659.9L757.4 661.5L757.5 663L757.6 664.6L757.7 666.2L757.8 667.7L757.9 669.3L758 670.9L758.1 672.4L758.2 674L758.3 675.6L758.4 677.1L758.5 678.7L758.6 680.3L758.7 681.8L758.8 683.4L758.9 685L759 686.5L759 688.1L759.1 689.7L759.2 691.2L759.3 692.8L759.4 694.4L759.5 695.9L759.6 697.5L759.7 699.1L759.8 700.6L759.9 702.2L760 703.8L760.2 705.3L760.3 706.9L760.4 708.5L760.5 710L760.6 711.6L760.7 713.2L760.8 714.7L760.9 716.3L761.1 717.9L761.2 719.4L761.3 721L761.4 722.6L761.5 724.1L761.7 725.7L761.8 727.3L761.9 728.8L762.1 730.4L762.2 732L762.4 733.5L762.5 735.1L762.6 736.7L762.8 738.2L763 739.8L763.1 741.4L763.3 742.9L763.4 744.5L763.6 746.1L763.7 747.6L763.9 749.2L764.1 750.8L764.3 752.3L764.4 753.9L764.6 755.5L764.8 757L765 758.6L765.2 760.2L765.4 761.7L765.6 763.3L765.8 764.9L766.1 766.4L766.3 768L766.5 769.6L766.8 771.1L767 772.7L767.3 774.3L767.6 775.8L767.9 777.4L768.2 779L768.6 780.5L769 782.1L769.4 783.7L769.9 785.2L770.3 786.8L770.8 788.4L771.4 789.9L771.9 791.5L772.3 793.1L772.9 794.6L773.7 796.2L774.7 797.8L776.7 799.3L808.1 798.2L808.1 801.2L770.3 801.2L770.3 799.3L768.4 797.8L767.4 796.2L766.8 794.6L766.3 793.1L765.8 791.5L765.4 789.9L765 788.4L764.5 786.8L764.1 785.2L763.7 783.7L763.4 782.1L763 780.5L762.8 779L762.5 777.4L762.3 775.8L762.1 774.3L761.9 772.7L761.7 771.1L761.5 769.6L761.3 768L761.2 766.4L761 764.9L760.8 763.3L760.7 761.7L760.6 760.2L760.4 758.6L760.3 757L760.2 755.5L760 753.9L759.9 752.3L759.8 750.8L759.7 749.2L759.6 747.6L759.5 746.1L759.4 744.5L759.3 742.9L759.2 741.4L759.1 739.8L759 738.2L758.9 736.7L758.8 735.1L758.7 733.5L758.6 732L758.6 730.4L758.5 728.8L758.4 727.3L758.3 725.7L758.2 724.1L758.2 722.6L758.1 721L758 719.4L758 717.9L757.9 716.3L757.8 714.7L757.8 713.2L757.7 711.6L757.6 710L757.6 708.5L757.5 706.9L757.4 705.3L757.4 703.8L757.3 702.2L757.2 700.6L757.2 699.1L757.1 697.5L757 695.9L756.9 694.4L756.9 692.8L756.8 691.2L756.7 689.7L756.6 688.1L756.6 686.5L756.5 685L756.4 683.4L756.3 681.8L756.2 680.3L756.1 678.7L756 677.1L755.9 675.6L755.8 674L755.7 672.4L755.6 670.9L755.5 669.3L755.4 667.7L755.3 666.2L755.2 664.6L755.1 663L755 661.5L754.9 659.9L754.8 658.3L754.7 656.8L754.6 655.2L754.5 653.6L754.4 652.1L754.3 650.5L754.2 648.9L754.1 647.4L754 645.8L753.9 644.2L753.8 642.7L753.7 641.1L753.6 639.5L753.5 637.9L753.4 636.4L753.3 634.8L753.2 633.2L753.1 631.7L753 630.1L752.9 628.5L752.8 627L752.7 625.4L752.6 623.8L752.5 622.3L752.4 620.7L752.3 619.1L752.2 617.6L752.1 616L752 614.4L751.9 612.9L751.8 611.3L751.7 609.7L751.6 608.2L751.5 606.6L751.4 605L751.4 603.5L751.3 601.9L751.2 600.3L751.1 598.8L751 597.2L750.9 595.6L750.8 594.1L750.7 592.5L750.6 590.9L750.5 589.4L750.4 587.8L750.3 586.2L750.3 584.7L750.2 583.1L750.1 581.5L750 580L749.9 578.4L749.8 576.8L749.7 575.3L749.6 573.7L749.5 572.1L749.4 570.6L749.3 569L749.2 567.4L749.1 565.9L749 564.3L748.9 562.7L748.8 561.2L748.7 559.6L748.6 558L748.5 556.5L748.4 554.9L748.2 553.3L748 551.8L747.7 550.2Z" fill="#C4C4C4" stroke="#C4C4C4" stroke-width="0.6" stroke-linejoin="round"/>
<path transform="scale(0.5)" d="M1271 1599h0m4 0h0m13 0h0m-1 0h0m16 0h0m-7 0h0m12 0h0m6 0h0m-1 0h0m16 0h0m11 0h0m285 0h0m-5 0h0m33 0h0m-9 0h0m11 0h0m-9 0h0m14 0h0m6 0h0m-7 0h0" stroke="#DDDDDD" stroke-width="5.2" stroke-linecap="round" fill="none"/>
<line x1="616.6" y1="538.7" x2="616.6" y2="813" stroke="#6E6E6E" stroke-width="1.5" />
<line x1="616.1" y1="812.5" x2="864.3" y2="812.5" stroke="#000" stroke-width="1.2" />
<line x1="613.6" y1="550.2" x2="616.6" y2="550.2" stroke="#4D4D4D" stroke-width="1.1" />
<text x="611.9" y="554.2" font-size="11.1" text-anchor="end" fill="#4D4D4D" >1.00</text>
<line x1="613.6" y1="613.3" x2="616.6" y2="613.3" stroke="#4D4D4D" stroke-width="1.1" />
<text x="611.9" y="617.3" font-size="11.1" text-anchor="end" fill="#4D4D4D" >0.75</text>
<line x1="613.6" y1="676.4" x2="616.6" y2="676.4" stroke="#4D4D4D" stroke-width="1.1" />
<text x="611.9" y="680.4" font-size="11.1" text-anchor="end" fill="#4D4D4D" >0.50</text>
<line x1="613.6" y1="739.4" x2="616.6" y2="739.4" stroke="#4D4D4D" stroke-width="1.1" />
<text x="611.9" y="743.4" font-size="11.1" text-anchor="end" fill="#4D4D4D" >0.25</text>
<line x1="613.6" y1="802.5" x2="616.6" y2="802.5" stroke="#4D4D4D" stroke-width="1.1" />
<text x="611.9" y="806.5" font-size="11.1" text-anchor="end" fill="#4D4D4D" >0.00</text>
<line x1="644.6" y1="812.5" x2="644.6" y2="815.5" stroke="#4D4D4D" stroke-width="1.1" />
<text x="644.6" y="824.9" font-size="11.1" text-anchor="middle" fill="#4D4D4D" >−6</text>
<line x1="692.7" y1="812.5" x2="692.7" y2="815.5" stroke="#4D4D4D" stroke-width="1.1" />
<text x="692.7" y="824.9" font-size="11.1" text-anchor="middle" fill="#4D4D4D" >−3</text>
<line x1="740.8" y1="812.5" x2="740.8" y2="815.5" stroke="#4D4D4D" stroke-width="1.1" />
<text x="740.8" y="824.9" font-size="11.1" text-anchor="middle" fill="#4D4D4D" >0</text>
<line x1="788.9" y1="812.5" x2="788.9" y2="815.5" stroke="#4D4D4D" stroke-width="1.1" />
<text x="788.9" y="824.9" font-size="11.1" text-anchor="middle" fill="#4D4D4D" >3</text>
<line x1="837" y1="812.5" x2="837" y2="815.5" stroke="#4D4D4D" stroke-width="1.1" />
<text x="837" y="824.9" font-size="11.1" text-anchor="middle" fill="#4D4D4D" >6</text>
<line x1="616.6" y1="789.6" x2="864.3" y2="789.6" stroke="#555555" stroke-width="1.7" stroke-dasharray="3.9,3.9"/>
<text x="616.6" y="530.8" font-size="12" fill="#000" >C2.GCP</text>
<text x="740.8" y="842.2" font-size="12.7" text-anchor="middle" fill="#000" >NES</text>
<text transform="translate(578.5,675.8) rotate(-90)" font-size="12.7" text-anchor="middle" fill="#000">FDR</text>
<circle cx="811.1" cy="799.9" r="2.6" fill="#E69A2E" stroke="none" stroke-width="1"/>
<circle cx="818" cy="799.9" r="2.6" fill="#3D9A3D" stroke="none" stroke-width="1"/>
<circle cx="821.1" cy="799.9" r="2.6" fill="#C43A3A" stroke="none" stroke-width="1"/>
<circle cx="843.4" cy="799.9" r="2.6" fill="#3C6DA6" stroke="none" stroke-width="1"/>
<circle cx="887.6" cy="646.1" r="2.6" fill="#2A5EA8" stroke="none" stroke-width="1"/>
<text x="901.2" y="650.6" font-size="12.9" fill="#000" >BMP2 targets (Down−regulated)</text>
<circle cx="887.6" cy="662.2" r="2.6" fill="#C1272D" stroke="none" stroke-width="1"/>
<text x="901.2" y="666.7" font-size="12.9" fill="#000" >Hoxa9 Meis1 (Down−regulated)</text>
<circle cx="887.6" cy="678.3" r="2.6" fill="#2E9A36" stroke="none" stroke-width="1"/>
<text x="901.2" y="682.8" font-size="12.9" fill="#000" >Myeloid differentiation (Up−regulated)</text>
<circle cx="887.6" cy="694.4" r="2.6" fill="#9B30D6" stroke="none" stroke-width="1"/>
<text x="901.2" y="698.9" font-size="12.9" fill="#000" >HSC (Down−regulated)</text>
<circle cx="887.6" cy="710.5" r="2.6" fill="#F5A11C" stroke="none" stroke-width="1"/>
<text x="901.2" y="715" font-size="12.9" fill="#000" >CBFA2T3 targets (Down−regulated)</text>
<path d="M1373.2 551.6L1372.4 553.2L1371.7 554.7L1371 556.3L1370.5 557.9L1370.1 559.4L1369.7 561L1369.3 562.6L1368.9 564.1L1368.6 565.7L1368.3 567.3L1368 568.8L1367.7 570.4L1367.4 572L1367.2 573.5L1366.9 575.1L1366.7 576.7L1366.5 578.2L1366.3 579.8L1366 581.4L1365.8 582.9L1365.6 584.5L1365.4 586.1L1365.3 587.6L1365.1 589.2L1364.9 590.8L1364.7 592.3L1364.5 593.9L1364.4 595.5L1364.2 597L1364 598.6L1363.9 600.2L1363.7 601.7L1363.5 603.3L1363.4 604.9L1363.2 606.4L1363.1 608L1362.9 609.6L1362.8 611.1L1362.6 612.7L1362.5 614.3L1362.3 615.8L1362.2 617.4L1362 619L1361.9 620.5L1361.7 622.1L1361.6 623.7L1361.5 625.2L1361.3 626.8L1361.2 628.4L1361.1 629.9L1361 631.5L1360.8 633.1L1360.7 634.6L1360.6 636.2L1360.5 637.8L1360.4 639.3L1360.2 640.9L1360.1 642.5L1360 644.1L1359.9 645.6L1359.8 647.2L1359.6 648.8L1359.5 650.3L1359.4 651.9L1359.3 653.5L1359.2 655L1359 656.6L1358.9 658.2L1358.8 659.7L1358.7 661.3L1358.5 662.9L1358.4 664.4L1358.3 666L1358.1 667.6L1358 669.1L1357.9 670.7L1357.7 672.3L1357.6 673.8L1357.4 675.4L1357.3 677L1357.1 678.5L1356.9 680.1L1356.8 681.7L1356.6 683.2L1356.5 684.8L1356.3 686.4L1356.1 687.9L1355.9 689.5L1355.8 691.1L1355.6 692.6L1355.4 694.2L1355.2 695.8L1355 697.3L1354.8 698.9L1354.6 700.5L1354.4 702L1354.2 703.6L1354 705.2L1353.8 706.7L1353.5 708.3L1353.3 709.9L1353.1 711.4L1352.9 713L1352.6 714.6L1352.4 716.1L1352.2 717.7L1351.9 719.3L1351.7 720.8L1351.5 722.4L1351.2 724L1351 725.5L1350.7 727.1L1350.5 728.7L1350.2 730.2L1350 731.8L1349.7 733.4L1349.5 734.9L1349.2 736.5L1348.9 738.1L1348.7 739.6L1348.4 741.2L1348.1 742.8L1347.9 744.3L1347.6 745.9L1347.4 747.5L1347.1 749L1346.9 750.6L1346.6 752.2L1346.4 753.7L1346.1 755.3L1345.8 756.9L1345.5 758.4L1345.3 760L1345 761.6L1344.7 763.1L1344.3 764.7L1344 766.3L1343.6 767.8L1343.3 769.4L1342.9 771L1342.5 772.5L1342.1 774.1L1341.6 775.7L1341.2 777.2L1340.7 778.8L1340.1 780.4L1339.3 781.9L1338.5 783.5L1337.6 785.1L1336.6 786.6L1335.6 788.2L1334.6 789.8L1333.7 791.3L1332.8 792.9L1331.9 794.5L1330.9 796L1329.5 797.6L1327.4 799.2L1324.5 800.7L1298.7 799.6L1298.7 802.6L1330.9 802.6L1330.9 800.7L1333.7 799.2L1335.8 797.6L1337 796L1338 794.5L1338.8 792.9L1339.6 791.3L1340.5 789.8L1341.4 788.2L1342.3 786.6L1343.3 785.1L1344.1 783.5L1344.9 781.9L1345.5 780.4L1346 778.8L1346.5 777.2L1346.9 775.7L1347.2 774.1L1347.6 772.5L1347.9 771L1348.3 769.4L1348.6 767.8L1348.8 766.3L1349.1 764.7L1349.4 763.1L1349.6 761.6L1349.8 760L1350.1 758.4L1350.3 756.9L1350.5 755.3L1350.7 753.7L1350.9 752.2L1351.1 750.6L1351.3 749L1351.5 747.5L1351.7 745.9L1351.9 744.3L1352.1 742.8L1352.3 741.2L1352.5 739.6L1352.7 738.1L1352.9 736.5L1353.1 734.9L1353.3 733.4L1353.5 731.8L1353.7 730.2L1353.9 728.7L1354.1 727.1L1354.3 725.5L1354.5 724L1354.7 722.4L1354.9 720.8L1355 719.3L1355.2 717.7L1355.4 716.1L1355.6 714.6L1355.8 713L1356 711.4L1356.1 709.9L1356.3 708.3L1356.5 706.7L1356.7 705.2L1356.8 703.6L1357 702L1357.2 700.5L1357.3 698.9L1357.5 697.3L1357.7 695.8L1357.8 694.2L1358 692.6L1358.2 691.1L1358.3 689.5L1358.5 687.9L1358.7 686.4L1358.9 684.8L1359 683.2L1359.2 681.7L1359.3 680.1L1359.5 678.5L1359.7 677L1359.8 675.4L1360 673.8L1360.1 672.3L1360.3 670.7L1360.4 669.1L1360.5 667.6L1360.7 666L1360.8 664.4L1360.9 662.9L1361.1 661.3L1361.2 659.7L1361.3 658.2L1361.4 656.6L1361.6 655L1361.7 653.5L1361.8 651.9L1361.9 650.3L1362 648.8L1362.2 647.2L1362.3 645.6L1362.4 644.1L1362.5 642.5L1362.6 640.9L1362.8 639.3L1362.9 637.8L1363 636.2L1363.1 634.6L1363.2 633.1L1363.4 631.5L1363.5 629.9L1363.6 628.4L1363.7 626.8L1363.9 625.2L1364 623.7L1364.1 622.1L1364.3 620.5L1364.4 619L1364.6 617.4L1364.7 615.8L1364.9 614.3L1365 612.7L1365.2 611.1L1365.3 609.6L1365.5 608L1365.6 606.4L1365.8 604.9L1365.9 603.3L1366.1 601.7L1366.3 600.2L1366.4 598.6L1366.6 597L1366.8 595.5L1366.9 593.9L1367.1 592.3L1367.3 590.8L1367.5 589.2L1367.7 587.6L1367.8 586.1L1368 584.5L1368.2 582.9L1368.4 581.4L1368.7 579.8L1368.9 578.2L1369.1 576.7L1369.3 575.1L1369.6 573.5L1369.8 572L1370.1 570.4L1370.4 568.8L1370.7 567.3L1371 565.7L1371.3 564.1L1371.7 562.6L1372.1 561L1372.5 559.4L1372.9 557.9L1373.4 556.3L1374.1 554.7L1374.8 553.2L1375.6 551.6Z" fill="#C4C4C4" stroke="#C4C4C4" stroke-width="0.6" stroke-linejoin="round"/>
<path d="M1397.8 551.6L1398.4 553.2L1398.9 554.7L1399.4 556.3L1399.9 557.9L1400.3 559.4L1400.6 561L1401 562.6L1401.3 564.1L1401.5 565.7L1401.8 567.3L1402 568.8L1402.2 570.4L1402.4 572L1402.6 573.5L1402.8 575.1L1403 576.7L1403.2 578.2L1403.4 579.8L1403.6 581.4L1403.8 582.9L1403.9 584.5L1404.1 586.1L1404.3 587.6L1404.5 589.2L1404.6 590.8L1404.8 592.3L1405 593.9L1405.1 595.5L1405.3 597L1405.4 598.6L1405.6 600.2L1405.8 601.7L1405.9 603.3L1406.1 604.9L1406.2 606.4L1406.4 608L1406.5 609.6L1406.7 611.1L1406.8 612.7L1407 614.3L1407.1 615.8L1407.3 617.4L1407.4 619L1407.6 620.5L1407.7 622.1L1407.8 623.7L1408 625.2L1408.1 626.8L1408.3 628.4L1408.4 629.9L1408.5 631.5L1408.6 633.1L1408.8 634.6L1408.9 636.2L1409 637.8L1409.1 639.3L1409.3 640.9L1409.4 642.5L1409.5 644.1L1409.6 645.6L1409.8 647.2L1409.9 648.8L1410 650.3L1410.2 651.9L1410.3 653.5L1410.4 655L1410.5 656.6L1410.7 658.2L1410.8 659.7L1410.9 661.3L1411.1 662.9L1411.2 664.4L1411.4 666L1411.5 667.6L1411.7 669.1L1411.8 670.7L1412 672.3L1412.1 673.8L1412.3 675.4L1412.4 677L1412.6 678.5L1412.8 680.1L1412.9 681.7L1413.1 683.2L1413.3 684.8L1413.5 686.4L1413.7 687.9L1413.8 689.5L1414 691.1L1414.2 692.6L1414.5 694.2L1414.7 695.8L1414.9 697.3L1415.1 698.9L1415.3 700.5L1415.5 702L1415.8 703.6L1416 705.2L1416.2 706.7L1416.5 708.3L1416.7 709.9L1416.9 711.4L1417.2 713L1417.4 714.6L1417.7 716.1L1417.9 717.7L1418.2 719.3L1418.4 720.8L1418.7 722.4L1418.9 724L1419.2 725.5L1419.4 727.1L1419.7 728.7L1420 730.2L1420.2 731.8L1420.5 733.4L1420.7 734.9L1421 736.5L1421.3 738.1L1421.5 739.6L1421.8 741.2L1422 742.8L1422.3 744.3L1422.6 745.9L1422.8 747.5L1423 749L1423.3 750.6L1423.5 752.2L1423.8 753.7L1424 755.3L1424.3 756.9L1424.5 758.4L1424.8 760L1425.1 761.6L1425.4 763.1L1425.6 764.7L1425.9 766.3L1426.2 767.8L1426.6 769.4L1426.9 771L1427.2 772.5L1427.6 774.1L1428 775.7L1428.4 777.2L1428.8 778.8L1429.2 780.4L1429.8 781.9L1430.3 783.5L1431 785.1L1431.6 786.6L1432.3 788.2L1433 789.8L1433.8 791.3L1434.5 792.9L1435.2 794.5L1436.1 796L1437.1 797.6L1438.5 799.2L1441.2 800.7L1462.5 799.6L1462.5 802.6L1434.9 802.6L1434.9 800.7L1432.2 799.2L1430.9 797.6L1429.9 796L1429.2 794.5L1428.5 792.9L1427.9 791.3L1427.2 789.8L1426.5 788.2L1425.9 786.6L1425.3 785.1L1424.7 783.5L1424.2 781.9L1423.8 780.4L1423.4 778.8L1423.1 777.2L1422.7 775.7L1422.4 774.1L1422.1 772.5L1421.9 771L1421.6 769.4L1421.3 767.8L1421.1 766.3L1420.9 764.7L1420.6 763.1L1420.4 761.6L1420.2 760L1420 758.4L1419.8 756.9L1419.6 755.3L1419.5 753.7L1419.3 752.2L1419.1 750.6L1418.9 749L1418.7 747.5L1418.5 745.9L1418.3 744.3L1418.1 742.8L1417.9 741.2L1417.7 739.6L1417.5 738.1L1417.3 736.5L1417.1 734.9L1416.9 733.4L1416.7 731.8L1416.5 730.2L1416.3 728.7L1416.1 727.1L1415.9 725.5L1415.7 724L1415.5 722.4L1415.3 720.8L1415.1 719.3L1414.9 717.7L1414.7 716.1L1414.5 714.6L1414.3 713L1414.1 711.4L1413.9 709.9L1413.7 708.3L1413.5 706.7L1413.3 705.2L1413.1 703.6L1412.9 702L1412.7 700.5L1412.6 698.9L1412.4 697.3L1412.2 695.8L1412 694.2L1411.8 692.6L1411.6 691.1L1411.4 689.5L1411.3 687.9L1411.1 686.4L1410.9 684.8L1410.7 683.2L1410.5 681.7L1410.4 680.1L1410.2 678.5L1410 677L1409.9 675.4L1409.7 673.8L1409.6 672.3L1409.4 670.7L1409.3 669.1L1409.1 667.6L1409 666L1408.8 664.4L1408.7 662.9L1408.5 661.3L1408.4 659.7L1408.3 658.2L1408.1 656.6L1408 655L1407.9 653.5L1407.8 651.9L1407.6 650.3L1407.5 648.8L1407.4 647.2L1407.2 645.6L1407.1 644.1L1407 642.5L1406.9 640.9L1406.7 639.3L1406.6 637.8L1406.5 636.2L1406.4 634.6L1406.2 633.1L1406.1 631.5L1406 629.9L1405.9 628.4L1405.7 626.8L1405.6 625.2L1405.4 623.7L1405.3 622.1L1405.2 620.5L1405 619L1404.9 617.4L1404.7 615.8L1404.6 614.3L1404.4 612.7L1404.3 611.1L1404.1 609.6L1404 608L1403.8 606.4L1403.7 604.9L1403.5 603.3L1403.4 601.7L1403.2 600.2L1403 598.6L1402.9 597L1402.7 595.5L1402.6 593.9L1402.4 592.3L1402.2 590.8L1402.1 589.2L1401.9 587.6L1401.7 586.1L1401.5 584.5L1401.4 582.9L1401.2 581.4L1401 579.8L1400.8 578.2L1400.6 576.7L1400.4 575.1L1400.2 573.5L1400 572L1399.8 570.4L1399.6 568.8L1399.4 567.3L1399.1 565.7L1398.9 564.1L1398.6 562.6L1398.2 561L1397.9 559.4L1397.5 557.9L1397 556.3L1396.5 554.7L1396 553.2L1395.4 551.6Z" fill="#C4C4C4" stroke="#C4C4C4" stroke-width="0.6" stroke-linejoin="round"/>
<path transform="scale(0.5)" d="M2484 1602h0m10 0h0m15 0h0m26 0h0m18 0h0m14 0h0m-11 0h0m17 0h0m15 0h0m3 0h0m-5 0h0" stroke="#DDDDDD" stroke-width="5.2" stroke-linecap="round" fill="none"/>
<line x1="1220.9" y1="538.7" x2="1220.9" y2="813" stroke="#6E6E6E" stroke-width="1.5" />
<line x1="1220.4" y1="812.5" x2="1549.8" y2="812.5" stroke="#000" stroke-width="1.2" />
<line x1="1217.9" y1="551.6" x2="1220.9" y2="551.6" stroke="#4D4D4D" stroke-width="1.1" />
<text x="1216.2" y="555.6" font-size="11.1" text-anchor="end" fill="#4D4D4D" >1.00</text>
<line x1="1217.9" y1="614.7" x2="1220.9" y2="614.7" stroke="#4D4D4D" stroke-width="1.1" />
<text x="1216.2" y="618.7" font-size="11.1" text-anchor="end" fill="#4D4D4D" >0.75</text>
<line x1="1217.9" y1="677.8" x2="1220.9" y2="677.8" stroke="#4D4D4D" stroke-width="1.1" />
<text x="1216.2" y="681.8" font-size="11.1" text-anchor="end" fill="#4D4D4D" >0.50</text>
<line x1="1217.9" y1="740.8" x2="1220.9" y2="740.8" stroke="#4D4D4D" stroke-width="1.1" />
<text x="1216.2" y="744.8" font-size="11.1" text-anchor="end" fill="#4D4D4D" >0.25</text>
<line x1="1217.9" y1="803.9" x2="1220.9" y2="803.9" stroke="#4D4D4D" stroke-width="1.1" />
<text x="1216.2" y="807.9" font-size="11.1" text-anchor="end" fill="#4D4D4D" >0.00</text>
<line x1="1235.3" y1="812.5" x2="1235.3" y2="815.5" stroke="#4D4D4D" stroke-width="1.1" />
<text x="1235.3" y="824.9" font-size="11.1" text-anchor="middle" fill="#4D4D4D" >−6</text>
<line x1="1310.2" y1="812.5" x2="1310.2" y2="815.5" stroke="#4D4D4D" stroke-width="1.1" />
<text x="1310.2" y="824.9" font-size="11.1" text-anchor="middle" fill="#4D4D4D" >−3</text>
<line x1="1385.1" y1="812.5" x2="1385.1" y2="815.5" stroke="#4D4D4D" stroke-width="1.1" />
<text x="1385.1" y="824.9" font-size="11.1" text-anchor="middle" fill="#4D4D4D" >0</text>
<line x1="1460" y1="812.5" x2="1460" y2="815.5" stroke="#4D4D4D" stroke-width="1.1" />
<text x="1460" y="824.9" font-size="11.1" text-anchor="middle" fill="#4D4D4D" >3</text>
<line x1="1534.9" y1="812.5" x2="1534.9" y2="815.5" stroke="#4D4D4D" stroke-width="1.1" />
<text x="1534.9" y="824.9" font-size="11.1" text-anchor="middle" fill="#4D4D4D" >6</text>
<line x1="1220.9" y1="791.4" x2="1549.8" y2="791.4" stroke="#000000" stroke-width="1.3" stroke-dasharray="3.9,3.9"/>
<text x="1220.9" y="530.8" font-size="12" fill="#000" >C5.BP</text>
<text x="1385.1" y="842.2" font-size="12.7" text-anchor="middle" fill="#000" >NES</text>
<text transform="translate(1183.5,675.8) rotate(-90)" font-size="12.7" text-anchor="middle" fill="#000">FDR</text>
<path d="M1463 799.6h6M1466 796.6v6" stroke="#A64DD6" stroke-width="1.0" fill="none" />
<path d="M1467 799.6h6M1470 796.6v6" stroke="#A64DD6" stroke-width="1.0" fill="none" />
<path d="M1471 799.6h6M1474 796.6v6" stroke="#A64DD6" stroke-width="1.0" fill="none" />
<path d="M1475 799.6h6M1478 796.6v6" stroke="#A64DD6" stroke-width="1.0" fill="none" />
<rect x="1475.5" y="797.1" width="5" height="5" fill="#F5A00F" stroke="none" stroke-width="1" />
<rect x="1479.5" y="797.1" width="5" height="5" fill="#F5A00F" stroke="none" stroke-width="1" />
<rect x="1483.5" y="797.1" width="5" height="5" fill="#F5A00F" stroke="none" stroke-width="1" />
<rect x="1487.5" y="797.1" width="5" height="5" fill="#F5A00F" stroke="none" stroke-width="1" />
<rect x="1491.5" y="797.1" width="5" height="5" fill="#F5A00F" stroke="none" stroke-width="1" />
<circle cx="1474" cy="799.6" r="2.4" fill="#B81E1E" stroke="none" stroke-width="1"/>
<circle cx="1480" cy="799.6" r="2.4" fill="#B81E1E" stroke="none" stroke-width="1"/>
<circle cx="1487" cy="799.6" r="2.4" fill="#B81E1E" stroke="none" stroke-width="1"/>
<circle cx="1517.7" cy="799.6" r="2.4" fill="#B81E1E" stroke="none" stroke-width="1"/>
<path d="M1496.4 796.4l3 5.4h-6z" stroke="none" stroke-width="0" fill="#1E8C1E" />
<path d="M1476 796.4l3 5.4h-6z" stroke="none" stroke-width="0" fill="#1E8C1E" />
<circle cx="1573.4" cy="654.7" r="2.4" fill="#B81E1E" stroke="none" stroke-width="1"/>
<path d="M1573.4 667.6l3.2 5.6h-6.4z" stroke="none" stroke-width="0" fill="#1E8C1E" />
<rect x="1570.9" y="683.7" width="5" height="5" fill="#F5A00F" stroke="none" stroke-width="1" />
<path d="M1569.9 702.3h7M1573.4 698.8v7" stroke="#A64DD6" stroke-width="1.0" fill="none" />
<text x="1586.6" y="659.3" font-size="12.9" fill="#000" >Inflammatory response</text>
<text x="1586.6" y="675" font-size="12.9" fill="#000" >Cytokine production</text>
<text x="1586.6" y="690.8" font-size="12.9" fill="#000" >Chemotaxis</text>
<text x="1586.6" y="706.9" font-size="12.9" fill="#000" >Myeloid cell activation</text>
<text x="3.6" y="1043.7" font-size="29.4" font-weight="bold" fill="#000" >E</text>
<path transform="scale(0.5)" d="M539 2150h0m0 169h0m12 113h0m-3-1h0m3-107h0m-6-11h0m5-45h0m-5-14h0m1-4h0m2-9h0m-4-18h0m2-5h0m2-1h0m-4-20h0m2-12h0m2-4h0m-7-65h0m9 0h0m-6 0h0m1 0h0m1 0h0m5 0h0m-2 0h0m-6 0h0m16 0h0m-2 0h0m-1 0h0m4 0h0m-6 0h0m9 0h0m-2 0h0m-6 0h0m3 0h0m-2 47h0m7 0h0m-7 6h0m7 3h0m-4 1h0m-6 13h0m-1 5h0m10 4h0m-10 5h0m6 10h0m4 1h0m-8 14h0m1 15h0m1 9h0m7 0h0m0 5h0m-10 10h0m8 8h0m-9 31h0m11 3h0m0 6h0m-11 28h0m11 3h0m-11 16h0m9 5h0m-3 13h0m0 2h0m-4 26h0m0 38h0m-1 7h0m10 23h0m-5 29h0m1 23h0m0 8h0m4 0h0m-1 53h0m-3 67h0m3 5h0m13 21h0m-2-3h0m1-31h0m1-15h0m-10-55h0m8-4h0m1-18h0m0-11h0m-4-34h0m0-4h0m2-13h0m-4-25h0m3-25h0m-5-9h0m6-6h0m1-1h0m-4-10h0m6-3h0m-1-2h0m-6-2h0m-4-16h0m6-3h0m-6-12h0m11-15h0m-4-8h0m-2-16h0m1-13h0m5-36h0m-2-4h0m-4-18h0m-4-4h0m5-7h0m5-5h0m-7-4h0m7-10h0m-1-2h0m0-1h0m-7-1h0m2-7h0m5-9h0m-8-2h0m2-2h0m6-26h0m-4-2h0m-4-8h0m1-5h0m8-10h0m-11-2h0m11 0h0m-8-3h0m3-1h0m-6 0h0m3-5h0m2-1h0m5-1h0m-4-4h0m4-1h0m-6 0h0m5-3h0m-1-6h0m1 0h0m-3 0h0m1-19h0m-6 0h0m3 0h0m-2 0h0m9 0h0m-2 0h0m-6 0h0m7 0h0m6 0h0m7 0h0m-8 0h0m5 0h0m-3 19h0m-2 0h0m4 10h0m-5 4h0m7 1h0m0 3h0m-7 2h0m4 1h0m1 0h0m-2 0h0m4 1h0m1 3h0m1 0h0m-11 2h0m1 1h0m1 5h0m8 11h0m1 3h0m-3 0h0m-2 3h0m-2 4h0m4 3h0m-1 6h0m1 1h0m1 5h0m1 2h0m0 8h0m1 1h0m-5 2h0m4 5h0m1 7h0m-7 3h0m5 1h0m2 6h0m-4 3h0m3 7h0m-8 4h0m8 2h0m-3 3h0m3 2h0m-7 3h0m8 2h0m-1 9h0m-10 7h0m3 3h0m5 5h0m-8 4h0m5 12h0m4 3h0m-1 1h0m3 4h0m-11 2h0m0 2h0m6 3h0m1 4h0m0 4h0m-3 2h0m-3 8h0m4 7h0m-4 1h0m2 5h0m4 4h0m4 4h0m-5 7h0m5 2h0m-2 3h0m-2 11h0m-2 6h0m5 3h0m0 1h0m-4 1h0m4 4h0m-2 12h0m-2 0h0m5 1h0m0 1h0m-9 4h0m1 3h0m3 3h0m4 0h0m-2 7h0m0 1h0m-4 5h0m2 5h0m1 19h0m-3 0h0m3 2h0m-7 2h0m11 0h0m-10 4h0m5 9h0m-3 16h0m2 4h0m1 3h0m0 3h0m3 6h0m-8 1h0m10 4h0m-1 5h0m-3 8h0m-2 1h0m1 8h0m5 14h0m-4 2h0m-2 15h0m4 1h0m-2 12h0m4 0h0m-7 20h0m5 23h0m2 9h0m-3 6h0m-2 13h0m-2 7h0m7 20h0m-1 1h0m5 14h0m4-10h0m0-5h0m4-3h0m0-2h0m-1-4h0m-1 0h0m-1-1h0m3-2h0m-10 0h0m2 0h0m7-1h0m-2-4h0m-2-6h0m3-2h0m-8-6h0m6-2h0m-6-2h0m3-3h0m7-2h0m-6-1h0m6-5h0m-10-1h0m8-1h0m-4-3h0m0-2h0m6-1h0m-5 0h0m-3-3h0m4-1h0m-1-2h0m4-2h0m0-3h0m0-3h0m-7-4h0m3-1h0m1-1h0m2 0h0m-6-3h0m6-2h0m-1-2h0m-4 0h0m-2 0h0m2-2h0m0-2h0m-3 0h0m4-1h0m-1-4h0m4-1h0m-1-3h0m0-6h0m-1-1h0m5 0h0m-8-1h0m5 0h0m-4-9h0m-2 0h0m2-3h0m2-3h0m1-4h0m-5-2h0m0-1h0m8-4h0m0-4h0m-8-1h0m6-1h0m3-8h0m-4-5h0m-1-16h0m5-2h0m-5-5h0m5-12h0m0-1h0m-6 0h0m-3-2h0m-2-2h0m1-3h0m1-2h0m9 0h0m-3-4h0m2-1h0m-6-1h0m2-1h0m-6-1h0m9-3h0m-3-3h0m1-3h0m-4-1h0m2-2h0m2-3h0m-2-2h0m5-1h0m-4-1h0m-6-7h0m6-8h0m-4 0h0m1-5h0m4-2h0m-5-2h0m1-1h0m1-2h0m3-2h0m-7-8h0m0-2h0m2-2h0m6-2h0m-4-8h0m6-1h0m-7-1h0m3 0h0m0-3h0m1-1h0m4-1h0m-1-1h0m-2-9h0m-6-2h0m6-6h0m-4 0h0m7-1h0m-8-1h0m8-1h0m-5-3h0m0-1h0m5 0h0m-11-6h0m8-1h0m-5-1h0m3-3h0m3-2h0m-2-1h0m-4-1h0m6-9h0m-2-3h0m1 0h0m-7-3h0m1-3h0m5-1h0m-3 0h0m6-4h0m-6-3h0m3-9h0m1-3h0m0-1h0m0-2h0m2 0h0m-3 0h0m-3-1h0m-4-2h0m3 0h0m2-1h0m-4-1h0m3-1h0m-1-1h0m-2-2h0m9 0h0m-4-3h0m0-5h0m-2-5h0m7-3h0m-7-7h0m2-4h0m0-6h0m-3-3h0m-3-1h0m4-2h0m-2-2h0m6-8h0m-1 0h0m-6-2h0m5-3h0m2-5h0m0-1h0m-7-3h0m10-3h0m-2 0h0m2-6h0m-11-3h0m8-2h0m3-1h0m-8 0h0m3-5h0m5-2h0m-9-2h0m5-1h0m2-2h0m-5 0h0m-3-1h0m9-5h0m1 0h0m-4-1h0m4-1h0m-5-2h0m-6-1h0m10-1h0m1 0h0m-7-1h0m3-2h0m1-3h0m1-2h0m-5 0h0m1 0h0m-3-2h0m3-3h0m-3-1h0m8-2h0m-1-1h0m-8-1h0m10-1h0m0-5h0m-7-1h0m4-2h0m2-1h0m-2-2h0m-7-2h0m5-3h0m3-2h0m-6-5h0m6-1h0m-5-1h0m3-2h0m-5-1h0m1-1h0m-2-1h0m7-2h0m-8 0h0m3-1h0m5 0h0m-8-2h0m11 0h0m-6 0h0m6-4h0m-5 0h0m4-2h0m-5-1h0m-2 0h0m-2-2h0m7-1h0m2-1h0m-5-1h0m1 0h0m-6 0h0m11 0h0m-3-6h0m-1 0h0m4 0h0m-6 0h0m-4-19h0m4 0h0m1 0h0m-6 0h0m9 0h0m-2 0h0m10 0h0m5 0h0m-2 0h0m-6 0h0m-2 0h0m6 0h0m-2 0h0m7 0h0m-4 0h0m1 19h0m-7 6h0m8 3h0m-3 5h0m-5 0h0m-1 1h0m3 0h0m1 0h0m1 4h0m3 0h0m1 0h0m-2 1h0m-1 1h0m-5 0h0m0 3h0m7 0h0m-3 1h0m-4 2h0m1 0h0m8 1h0m-7 0h0m4 3h0m0 3h0m-1 1h0m4 2h0m-10 0h0m9 0h0m2 4h0m-2 0h0m-6 2h0m-3 1h0m7 0h0m4 2h0m-2 0h0m-6 1h0m8 1h0m0 1h0m-2 2h0m-6 5h0m8 0h0m-1 1h0m-4 1h0m-2 1h0m6 1h0m-1 0h0m0 1h0m2 0h0m-6 6h0m2 1h0m3 2h0m-4 1h0m-2 2h0m-1 1h0m3 0h0m-2 1h0m-3 1h0m7 0h0m-1 1h0m1 1h0m1 1h0m0 5h0m-6 2h0m3 0h0m2 0h0m-6 0h0m0 1h0m6 1h0m0 1h0m-3 1h0m6 2h0m-4 1h0m3 1h0m-3 0h0m-1 1h0m-4 1h0m0 3h0m9 1h0m-8 0h0m-3 1h0m0 1h0m6 3h0m-4 1h0m3 4h0m3 2h0m-7 2h0m0 3h0m6 0h0m-5 3h0m9 3h0m-6 0h0m5 1h0m-5 2h0m2 0h0m-1 2h0m-6 2h0m2 2h0m-2 1h0m8 2h0m-8 1h0m11 3h0m0 2h0m-3 2h0m-7 4h0m10 1h0m-9 2h0m6 1h0m-3 2h0m5 0h0m-4 1h0m-4 1h0m7 5h0m-8 2h0m9 2h0m1 1h0m-11 0h0m1 4h0m10 1h0m-4 1h0m4 2h0m-8 0h0m3 0h0m-6 5h0m5 1h0m3 0h0m-1 1h0m-1 2h0m3 2h0m-8 2h0m2 1h0m0 1h0m2 0h0m6 1h0m-4 6h0m-7 1h0m11 1h0m-7 1h0m4 1h0m-4 1h0m-2 1h0m1 3h0m-1 1h0m5 1h0m2 0h0m-7 1h0m-2 0h0m0 6h0m9 1h0m-1 4h0m3 0h0m-8 0h0m-3 2h0m7 0h0m2 4h0m1 1h0m-1 0h0m2 1h0m-1 0h0m0 1h0m-2 0h0m-2 2h0m5 2h0m-1 0h0m-4 0h0m-1 1h0m1 0h0m-6 1h0m9 1h0m1 4h0m-8 0h0m-2 1h0m8 2h0m-6 0h0m-2 0h0m9 1h0m-4 4h0m3 0h0m-3 1h0m-2 0h0m7 7h0m1 0h0m-8 3h0m5 0h0m-5 1h0m8 0h0m-8 1h0m1 1h0m5 1h0m-2 1h0m4 0h0m-11 0h0m9 2h0m-1 3h0m-7 1h0m1 3h0m8 2h0m-9 3h0m7 1h0m-3 2h0m4 0h0m-9 5h0m11 7h0m-5 3h0m-4 3h0m2 0h0m2 2h0m3 1h0m-3 0h0m-1 1h0m-5 1h0m11 0h0m-2 1h0m1 0h0m0 3h0m-7 6h0m7 0h0m-3 1h0m3 0h0m-1 1h0m-3 0h0m4 1h0m-2 0h0m1 2h0m-1 0h0m3 1h0m-6 0h0m0 1h0m-5 1h0m10 0h0m-6 0h0m7 0h0m-10 2h0m-1 2h0m11 1h0m-3 2h0m-6 1h0m2 1h0m4 0h0m-2 6h0m2 1h0m3 3h0m-4 1h0m2 1h0m-3 0h0m-4 3h0m8 2h0m-2 0h0m2 1h0m-7 1h0m7 1h0m-1 0h0m0 3h0m1 2h0m-9 2h0m9 3h0m1 1h0m-4 1h0m-2 7h0m2 0h0m2 1h0m2 0h0m-3 2h0m-8 0h0m11 1h0m-4 1h0m3 2h0m0 1h0m-3 2h0m-3 0h0m2 2h0m2 1h0m-2 1h0m5 4h0m-7 3h0m-1 1h0m2 0h0m4 0h0m-5 2h0m4 0h0m-6 2h0m6 1h0m-4 4h0m7 0h0m-2 0h0m1 1h0m-4 0h0m1 1h0m-6 0h0m6 1h0m0 3h0m-3 0h0m0 1h0m5 1h0m-3 2h0m4 1h0m-1 11h0m2 0h0m-5 2h0m1 2h0m3 1h0m1 1h0m-2 1h0m2 2h0m-4 2h0m2 1h0m-2 0h0m-4 1h0m4 0h0m3 2h0m-7 4h0m-1 2h0m7 3h0m-3 2h0m-5 3h0m6 1h0m3 0h0m1 1h0m-10 0h0m2 1h0m2 0h0m-3 3h0m3 3h0m6 2h0m-4 0h0m4 3h0m-10 3h0m10 2h0m-2 0h0m-9 4h0m4 0h0m7 2h0m-10 1h0m1 3h0m7 1h0m-6 5h0m6 1h0m-5 3h0m-2 1h0m-2 2h0m4 2h0m6 0h0m-1 4h0m-1 2h0m3 0h0m-6 1h0m6 1h0m-10 0h0m6 1h0m2 3h0m-8 0h0m8 2h0m-3 0h0m-1 1h0m-1 1h0m-3 1h0m5 2h0m-2 2h0m7 0h0m-3 1h0m1 0h0m1 1h0m-4 0h0m-1 4h0m5 3h0m0 1h0m0 2h0m-7 0h0m6 1h0m-4 1h0m-2 0h0m4 2h0m-2 1h0m3 0h0m3 1h0m-5 0h0m-1 1h0m3 0h0m3 1h0m-1 0h0m-7 0h0m3 3h0m3 1h0m-3 0h0m4 1h0m-6 3h0m3 2h0m-3 2h0m-1 1h0m-3 2h0m7 0h0m3 2h0m-5 1h0m-4 0h0m0 1h0m7 0h0m-8 1h0m9 1h0m1 1h0m-4 1h0m4 0h0m-1 4h0m2 1h0m-3 7h0m-2 1h0m14 24h0m2-4h0m-4-1h0m3 0h0m-1-1h0m-2-1h0m5 0h0m-8-3h0m3 0h0m-4-1h0m3-1h0m2-1h0m3-3h0m-6-2h0m3-1h0m-5 0h0m4-1h0m5-1h0m-7-1h0m7 0h0m-10-2h0m9-2h0m-4-2h0m1-1h0m-5 0h0m9-1h0m-1 0h0m0-1h0m-3-1h0m-5 0h0m8-1h0m-8-1h0m-2-1h0m1-1h0m1 0h0m4-1h0m-2 0h0m-3 0h0m2-1h0m-2-3h0m10 0h0m-11-1h0m7-1h0m4 0h0m-1-2h0m-10 0h0m4-1h0m1 0h0m3 0h0m1-1h0m-2 0h0m0-1h0m-6 0h0m10-1h0m-10 0h0m9 0h0m-3-1h0m-7-1h0m11 0h0m-1-1h0m-6 0h0m7 0h0m-3-1h0m1 0h0m-8 0h0m0-1h0m9 0h0m-7-1h0m-3 0h0m9-2h0m-5 0h0m-1-1h0m7-1h0m-8-2h0m2-1h0m2 0h0m5-1h0m-3 0h0m-6-1h0m7 0h0m-2 0h0m-1 0h0m4-1h0m-8 0h0m8-1h0m-8-1h0m5 0h0m4-1h0m-5-1h0m-3-1h0m4-2h0m-4-1h0m6-1h0m2-1h0m-3 0h0m-8 0h0m9 0h0m-2-2h0m-1 0h0m4-1h0m-9-1h0m8 0h0m-4-1h0m-5-2h0m1-2h0m6-1h0m-2-1h0m3 0h0m-4-1h0m0-1h0m1-1h0m5 0h0m-10 0h0m1-1h0m10-2h0m-10 0h0m3-1h0m5 0h0m0-1h0m2-1h0m-6 0h0m5-1h0m-4-1h0m-2-1h0m4 0h0m-1-2h0m1 0h0m3 0h0m0-1h0m-4-1h0m-4-1h0m4-1h0m3 0h0m-3-2h0m-1-1h0m3 0h0m1 0h0m-10-1h0m4 0h0m0-2h0m7-1h0m-2-1h0m-2-1h0m-1-1h0m-4-1h0m5 0h0m4-1h0m-6 0h0m-4-2h0m9 0h0m-7 0h0m4 0h0m3-1h0m-2-1h0m-1 0h0m1-1h0m-3-1h0m-2-1h0m4-2h0m-3 0h0m-2-1h0m9 0h0m0-4h0m-4-1h0m0-1h0m4-1h0m-2 0h0m1-1h0m-7 0h0m8-1h0m-11 0h0m8-2h0m-1-1h0m-1-1h0m-3 0h0m-2-1h0m8 0h0m1-1h0m-8 0h0m6-1h0m1 0h0m-8-1h0m7 0h0m1 0h0m-6 0h0m3 0h0m0-1h0m-2 0h0m4-1h0m1 0h0m-3-1h0m5-2h0m-3 0h0m2-3h0m-2 0h0m0-1h0m3 0h0m-6 0h0m3-1h0m2-1h0m-8-1h0m7 0h0m-5-3h0m0-1h0m5-2h0m1-1h0m-6-1h0m4 0h0m2-1h0m-8 0h0m9 0h0m-9-1h0m9 0h0m-1 0h0m-5-1h0m1 0h0m4-2h0m-6 0h0m1 0h0m2-1h0m3 0h0m-8 0h0m-2-1h0m7-3h0m-1 0h0m-6-1h0m10 0h0m1-1h0m-4-1h0m0-1h0m3-3h0m-4 0h0m4-1h0m-7 0h0m8-1h0m-1 0h0m1-1h0m-8 0h0m-3 0h0m7 0h0m-5-1h0m5-3h0m-1 0h0m2-1h0m-6-2h0m9-2h0m-2 0h0m-2 0h0m-3-2h0m-2 0h0m1 0h0m1-1h0m-1-2h0m3 0h0m1-1h0m-1-1h0m2-1h0m3-1h0m-3 0h0m1-2h0m-6-1h0m2 0h0m-1-2h0m2-2h0m1-1h0m3 0h0m-4-1h0m-3 0h0m7-1h0m1 0h0m-3 0h0m-2 0h0m-2-2h0m4 0h0m1-1h0m-6 0h0m3-1h0m5 0h0m-9 0h0m-2 0h0m9-1h0m-4 0h0m-4-2h0m2-1h0m1 0h0m-3 0h0m4 0h0m-4-3h0m-1-1h0m3-3h0m-2 0h0m7 0h0m-5-1h0m0-1h0m4 0h0m3-1h0m-7-1h0m6-1h0m1-2h0m-2 0h0m-6-1h0m-2-3h0m3 0h0m7 0h0m-6 0h0m4-1h0m1 0h0m1-1h0m0-2h0m-10 0h0m5-4h0m6 0h0m-9-1h0m4-3h0m5-1h0m-10 0h0m-1 0h0m11-1h0m-10 0h0m4-1h0m2-1h0m-3-1h0m1-1h0m4 0h0m-6 0h0m6-1h0m-4-2h0m-4-1h0m3-1h0m3-1h0m3 0h0m-6-1h0m-3 0h0m0-2h0m1 0h0m5-1h0m-5 0h0m9-2h0m-2-1h0m-7-1h0m-1-2h0m1 0h0m1-4h0m2 0h0m-1-1h0m5-1h0m-2 0h0m-5-2h0m-1-2h0m5-2h0m5 0h0m-4-1h0m-2-3h0m-2 0h0m-2 0h0m9 0h0m-6-1h0m-3 0h0m5-1h0m-5 0h0m5-2h0m-1 0h0m5 0h0m1-1h0m-11-2h0m11 0h0m-8-1h0m-1-1h0m2-1h0m3-1h0m-6-1h0m7 0h0m-3-1h0m4-2h0m-1-1h0m-5-3h0m7 0h0m-4-1h0m-4-2h0m5-1h0m-1-5h0m-1-1h0m6-1h0m-6 0h0m3-2h0m-2 0h0m-2-4h0m2-1h0m4-1h0m-2-1h0m2-1h0m-4-1h0m5-1h0m-10 0h0m3-1h0m-3-1h0m-1 0h0m9 0h0m-9-1h0m2 0h0m-1-3h0m1 0h0m1 0h0m2-2h0m-3 0h0m7 0h0m1-1h0m-7-2h0m5-1h0m3-3h0m-8 0h0m5-1h0m-2-1h0m-6 0h0m9-1h0m-1-3h0m-7-1h0m7 0h0m-5-1h0m0-2h0m1 0h0m6 0h0m-3-1h0m-3-1h0m5-2h0m0-1h0m2-4h0m-1 0h0m-9-1h0m8 0h0m-2-1h0m-3 0h0m5-1h0m-1-1h0m0-1h0m-1 0h0m-6 0h0m8-2h0m-4 0h0m-2-2h0m7-3h0m-2 0h0m-4 0h0m3-1h0m-3-2h0m2-1h0m4-1h0m0-3h0m-9-1h0m4-1h0m-2 0h0m4-1h0m4 0h0m-9 0h0m7-1h0m2-1h0m-4-1h0m-1-1h0m5-1h0m-1-1h0m-3 0h0m-4-1h0m3 0h0m0-2h0m-1 0h0m2-1h0m-3 0h0m-1-1h0m-2-2h0m4-3h0m0-2h0m-5-1h0m1 0h0m1-1h0m-2-1h0m9-1h0m0-1h0m-3-1h0m1-1h0m4 0h0m-6-1h0m1-1h0m4-1h0m-7-1h0m-3 0h0m1-1h0m1-2h0m-1-1h0m4-1h0m-3-7h0m4 0h0m-6-1h0m4 0h0m7 0h0m-7-1h0m3 0h0m3 0h0m-4-4h0m3-1h0m-8 0h0m0-1h0m3 0h0m7-1h0m-2 0h0m2-2h0m-2 0h0m-6-3h0m1-1h0m6 0h0m-3 0h0m-2-2h0m4 0h0m-7-2h0m4-1h0m4 0h0m-5-1h0m-2-2h0m1 0h0m-2 0h0m3-2h0m-5 0h0m0-1h0m7 0h0m4 0h0m-8 0h0m3 0h0m-4-2h0m1-2h0m2 0h0m6-1h0m-7-3h0m7-3h0m-2-1h0m-7-1h0m4-4h0m-2-1h0m7-2h0m-11-1h0m1-2h0m4-3h0m-2-1h0m-1-1h0m9-3h0m-4-3h0m0-1h0m3 0h0m-4 0h0m-2 0h0m-4-1h0m1 0h0m8-1h0m1-2h0m-6-1h0m4 0h0m-8 0h0m9-1h0m-2-4h0m-5-1h0m9-4h0m-8 0h0m7-2h0m1-1h0m-5 0h0m5-7h0m-5-2h0m-2 0h0m1-3h0m-1-3h0m-2 0h0m4-1h0m5-3h0m0-3h0m-9-3h0m1-2h0m3-1h0m-2-2h0m-3 0h0m7-1h0m-1-2h0m-7-1h0m4-1h0m6-3h0m-9 0h0m8-1h0m-9-1h0m9-4h0m-4-3h0m-3 0h0m7 0h0m-8-1h0m5 0h0m-2-1h0m3 0h0m1-1h0m-1-2h0m1-1h0m-8 0h0m5-1h0m5 0h0m-8-4h0m3-1h0m-4-5h0m7-2h0m1 0h0m-2-2h0m-1 0h0m-6-1h0m9 0h0m-6-2h0m6-1h0m-5 0h0m-1-2h0m7-1h0m-10 0h0m1-1h0m0-1h0m3-2h0m-4-2h0m0-2h0m9 0h0m-3 0h0m5 0h0m-3-6h0m0-19h0m3 0h0m-2 0h0m-6 0h0m3 0h0m-2 0h0m3 0h0m-6 0h0m9 0h0m7 0h0m3 0h0m-8 0h0m3 0h0m4 0h0m-6 0h0m3 0h0m-2 0h0m-2 19h0m3 0h0m-1 0h0m2 7h0m1 2h0m3 1h0m-6 0h0m5 2h0m-1 3h0m-3 0h0m-2 2h0m-1 2h0m6 4h0m-5 2h0m7 0h0m-3 0h0m-1 2h0m-1 2h0m2 2h0m1 7h0m-6 1h0m7 0h0m-1 2h0m2 2h0m-5 2h0m1 1h0m3 3h0m-4 2h0m5 0h0m-7 1h0m3 3h0m-1 0h0m2 1h0m-4 0h0m-1 1h0m7 0h0m-1 2h0m1 3h0m-5 2h0m1 3h0m-1 1h0m-2 1h0m7 2h0m-5 2h0m-1 5h0m8 1h0m-1 2h0m-6 0h0m1 1h0m4 0h0m-6 1h0m9 3h0m-8 1h0m3 1h0m4 0h0m-9 1h0m5 2h0m4 0h0m-5 1h0m-4 1h0m4 6h0m-1 0h0m4 1h0m-6 0h0m0 5h0m2 1h0m6 1h0m-3 0h0m3 1h0m-2 0h0m-1 1h0m3 0h0m0 2h0m-8 1h0m8 1h0m-3 2h0m-5 0h0m5 1h0m-3 0h0m6 1h0m-2 0h0m-1 1h0m-1 0h0m-3 1h0m3 0h0m1 1h0m-3 0h0m3 1h0m-1 1h0m3 0h0m-3 1h0m1 1h0m-2 0h0m4 1h0m0 4h0m-6 0h0m5 3h0m-1 1h0m-5 0h0m7 1h0m-3 0h0m-2 1h0m1 0h0m2 1h0m-2 0h0m1 1h0m2 1h0m1 4h0m-2 0h0m0 1h0m2 1h0m-6 2h0m-2 0h0m8 1h0m-6 0h0m6 1h0m-8 0h0m10 1h0m-10 2h0m9 0h0m-1 1h0m3 0h0m-5 0h0m2 1h0m-6 0h0m2 0h0m4 1h0m2 0h0m-7 1h0m4 0h0m1 2h0m-8 0h0m8 1h0m-3 0h0m-1 0h0m3 0h0m-5 3h0m7 1h0m-5 0h0m-1 1h0m7 0h0m-8 1h0m3 0h0m-3 3h0m8 0h0m-4 2h0m-2 1h0m4 3h0m3 5h0m-2 0h0m-3 1h0m-2 0h0m-1 0h0m4 1h0m-2 0h0m-3 2h0m7 1h0m-7 1h0m3 1h0m5 1h0m-7 2h0m3 2h0m-5 1h0m7 0h0m-3 0h0m-2 1h0m-2 0h0m9 2h0m-8 0h0m-1 1h0m2 1h0m3 2h0m-1 0h0m5 1h0m-8 0h0m-2 0h0m10 2h0m-6 1h0m0 1h0m-1 1h0m-2 3h0m1 0h0m4 2h0m-5 0h0m5 1h0m-2 0h0m0 2h0m4 1h0m-5 0h0m3 1h0m-2 0h0m-3 2h0m-1 0h0m2 1h0m9 0h0m-6 0h0m6 1h0m-3 0h0m-8 1h0m9 0h0m-8 2h0m10 0h0m-11 1h0m1 2h0m5 2h0m5 1h0m-6 0h0m2 0h0m-4 2h0m7 1h0m-10 1h0m7 0h0m4 1h0m-9 1h0m-2 1h0m2 0h0m9 1h0m-2 0h0m-6 2h0m3 0h0m3 2h0m-4 0h0m-5 1h0m2 2h0m2 1h0m2 3h0m-1 0h0m4 1h0m1 0h0m-6 1h0m4 0h0m-8 0h0m5 0h0m-1 2h0m6 2h0m-8 1h0m8 1h0m-4 2h0m1 0h0m-6 0h0m7 0h0m-8 0h0m2 1h0m6 1h0m-2 0h0m-2 1h0m-3 0h0m2 1h0m-3 0h0m7 1h0m1 0h0m1 1h0m-1 1h0m-2 1h0m4 0h0m-6 1h0m1 1h0m1 2h0m-2 0h0m-1 2h0m8 1h0m-4 1h0m1 0h0m-1 4h0m1 0h0m0 3h0m-1 2h0m-7 1h0m9 0h0m-8 3h0m0 2h0m-1 0h0m3 0h0m-3 1h0m11 0h0m-1 0h0m-5 5h0m3 0h0m-5 3h0m-3 1h0m11 0h0m-10 0h0m5 1h0m2 0h0m-6 1h0m9 1h0m-5 0h0m1 0h0m4 2h0m-3 0h0m1 1h0m-6 0h0m6 1h0m-5 0h0m2 1h0m0 1h0m3 1h0m-2 0h0m2 1h0m-9 1h0m3 3h0m8 1h0m-6 0h0m3 0h0m-2 3h0m4 0h0m-8 0h0m6 1h0m-8 0h0m6 2h0m-5 2h0m10 0h0m-5 2h0m-3 0h0m5 0h0m-5 1h0m4 0h0m1 0h0m-6 0h0m4 1h0m-1 1h0m-1 1h0m-3 1h0m3 3h0m5 2h0m-4 1h0m3 0h0m2 1h0m0 1h0m-2 0h0m-2 0h0m-3 0h0m0 1h0m-1 0h0m5 1h0m-1 0h0m-3 1h0m4 2h0m-1 1h0m-5 1h0m0 1h0m10 1h0m-6 0h0m4 0h0m-5 1h0m6 1h0m-10 0h0m1 0h0m4 1h0m5 0h0m-6 2h0m-3 0h0m7 1h0m-3 1h0m-1 0h0m1 1h0m3 0h0m-6 0h0m1 1h0m7 0h0m-6 1h0m-4 0h0m8 0h0m3 1h0m-6 0h0m4 0h0m-6 0h0m8 1h0m-2 0h0m-1 1h0m-3 0h0m1 0h0m-2 1h0m3 1h0m-3 0h0m-2 1h0m3 0h0m-1 0h0m6 1h0m1 0h0m-7 1h0m3 2h0m-6 0h0m6 1h0m-4 1h0m2 0h0m4 1h0m-6 0h0m-1 0h0m2 1h0m6 0h0m0 1h0m-6 1h0m-1 0h0m2 0h0m-1 1h0m1 2h0m4 0h0m-2 3h0m1 0h0m2 1h0m-5 0h0m4 1h0m-5 0h0m3 0h0m1 0h0m-5 2h0m7 0h0m-9 1h0m3 1h0m-4 0h0m6 0h0m-1 2h0m-1 1h0m7 0h0m-6 0h0m6 1h0m-8 2h0m-2 0h0m7 0h0m-8 1h0m11 0h0m-2 0h0m-5 1h0m-1 1h0m7 0h0m1 0h0m-6 0h0m-1 1h0m5 0h0m-5 1h0m3 0h0m-6 0h0m5 0h0m5 2h0m-6 0h0m4 0h0m-6 0h0m-1 1h0m7 3h0m-6 0h0m-3 1h0m11 0h0m-2 0h0m-8 1h0m-1 0h0m9 0h0m-5 1h0m-2 2h0m9 0h0m-11 0h0m10 0h0m-2 1h0m1 1h0m-4 3h0m-2 0h0m3 0h0m-3 1h0m4 1h0m3 1h0m-8 0h0m4 0h0m-6 1h0m5 0h0m6 1h0m-5 1h0m5 1h0m-11 1h0m6 0h0m-3 0h0m4 0h0m-6 0h0m10 1h0m-8 1h0m7 0h0m-6 1h0m3 0h0m1 0h0m3 1h0m-6 0h0m5 1h0m-8 1h0m1 0h0m7 0h0m-6 0h0m5 1h0m-3 0h0m5 2h0m-2 0h0m-5 0h0m-1 0h0m4 0h0m-1 1h0m-6 1h0m1 0h0m3 1h0m6 1h0m1 1h0m-7 0h0m-1 0h0m4 0h0m1 0h0m-1 1h0m-2 1h0m2 1h0m-6 0h0m9 0h0m1 0h0m-4 1h0m-6 0h0m2 1h0m-3 0h0m5 0h0m-5 1h0m11 0h0m-7 1h0m-3 0h0m10 0h0m-6 0h0m-4 1h0m9 0h0m-8 1h0m2 1h0m-1 0h0m3 2h0m-4 0h0m7 0h0m-2 1h0m-2 0h0m-1 1h0m-1 1h0m7 0h0m-2 0h0m-2 0h0m0 1h0m-5 0h0m7 0h0m1 0h0m-5 1h0m-1 0h0m-2 0h0m7 0h0m3 0h0m-6 0h0m-2 1h0m0 2h0m4 0h0m-7 0h0m5 0h0m-3 1h0m8 1h0m-2 0h0m-3 0h0m4 0h0m1 1h0m-2 0h0m-6 0h0m6 1h0m-4 1h0m2 1h0m2 1h0m-3 1h0m2 1h0m1 0h0m-2 1h0m1 1h0m-2 0h0m3 1h0m-4 0h0m-3 0h0m1 1h0m3 0h0m5 1h0m-9 0h0m0 1h0m9 1h0m1 0h0m-10 0h0m9 1h0m-5 1h0m-2 0h0m4 1h0m1 0h0m3 1h0m-7 1h0m-3 0h0m9 0h0m-7 1h0m3 0h0m3 1h0m-6 0h0m7 1h0m1 3h0m-5 0h0m1 0h0m-4 1h0m7 0h0m-2 1h0m-6 0h0m4 0h0m5 1h0m-2 0h0m-6 0h0m3 1h0m4 0h0m1 1h0m-5 1h0m-1 1h0m-2 0h0m3 0h0m1 0h0m4 1h0m-6 0h0m4 0h0m2 1h0m-6 1h0m1 0h0m1 1h0m-5 1h0m-1 1h0m8 0h0m-3 1h0m-2 0h0m1 1h0m1 1h0m3 1h0m2 0h0m-2 1h0m1 1h0m-1 1h0m0 1h0m-5 1h0m5 1h0m-3 0h0m-2 1h0m-3 0h0m7 0h0m-8 0h0m9 0h0m2 1h0m-10 1h0m1 0h0m3 0h0m3 1h0m1 1h0m-3 0h0m5 0h0m-6 0h0m1 1h0m1 0h0m3 0h0m1 0h0m-11 1h0m4 1h0m-1 1h0m-2 1h0m7 0h0m-6 0h0m8 1h0m-1 1h0m1 1h0m-9 1h0m10 0h0m-10 1h0m0 1h0m9 0h0m-5 0h0m1 1h0m-5 0h0m4 0h0m4 0h0m-4 1h0m-2 2h0m7 0h0m-5 0h0m6 1h0m-2 0h0m1 1h0m-2 0h0m-6 0h0m4 0h0m-1 1h0m-4 1h0m10 0h0m-4 1h0m-3 0h0m-4 1h0m9 0h0m-6 0h0m3 1h0m4 1h0m-8 1h0m-2 1h0m11 0h0m-2 0h0m-7 1h0m8 0h0m-6 0h0m6 1h0m-10 0h0m5 0h0m2 0h0m-6 0h0m4 1h0m1 0h0m-2 0h0m-1 0h0m8 1h0m-6 0h0m2 0h0m-2 2h0m-3 1h0m4 0h0m-3 0h0m8 1h0m-4 0h0m-5 1h0m3 1h0m1 0h0m2 0h0m-4 1h0m7 1h0m-6 0h0m4 0h0m1 0h0m-10 1h0m4 0h0m-1 1h0m-2 0h0m7 1h0m-4 0h0m5 1h0m-3 0h0m1 0h0m3 0h0m-2 0h0m3 1h0m0 1h0m-2 0h0m1 0h0m-5 1h0m3 0h0m0 1h0m2 0h0m-4 0h0m-2 0h0m3 0h0m4 1h0m-4 0h0m3 0h0m-6 1h0m1 0h0m4 0h0m-3 1h0m1 0h0m3 0h0m0 1h0m-5 0h0m4 0h0m2 1h0m-1 0h0m-4 1h0m4 0h0m-8 0h0m9 0h0m-5 1h0m-6 0h0m9 0h0m-6 0h0m6 1h0m-1 1h0m1 1h0m-5 0h0m6 0h0m-2 0h0m-8 0h0m11 0h0m-1 1h0m1 0h0m-6 0h0m4 0h0m-6 1h0m1 0h0m2 1h0m-2 0h0m6 0h0m-8 0h0m-2 0h0m5 0h0m5 1h0m1 0h0m-8 1h0m-2 0h0m9 0h0m-2 0h0m3 0h0m-1 1h0m-6 1h0m-2 0h0m9 0h0m-4 1h0m1 0h0m-8 0h0m10 1h0m-3 0h0m-7 0h0m6 1h0m-5 0h0m7 0h0m3 0h0m-10 1h0m9 0h0m-8 1h0m7 0h0m1 1h0m-8 0h0m3 0h0m1 0h0m-5 1h0m9 1h0m-10 0h0m9 0h0m-3 0h0m4 1h0m1 0h0m-3 0h0m-3 1h0m4 0h0m-2 1h0m1 0h0m1 0h0m-2 1h0m3 0h0m-1 0h0m-8 1h0m7 0h0m3 0h0m-7 0h0m6 1h0m-2 0h0m-6 0h0m7 0h0m-2 1h0m-2 0h0m1 0h0m5 1h0m-3 0h0m1 0h0m-8 0h0m9 1h0m1 0h0m-2 0h0m-3 0h0m-2 0h0m4 1h0m-2 0h0m-5 0h0m6 1h0m3 0h0m-8 0h0m-2 0h0m11 0h0m-2 0h0m1 1h0m-5 0h0m4 0h0m2 1h0m-2 0h0m1 0h0m-2 1h0m3 0h0m-2 0h0m-3 1h0m-6 0h0m7 0h0m1 0h0m-1 1h0m1 0h0m-4 0h0m4 1h0m-6 0h0m8 0h0m-3 1h0m1 0h0m3 0h0m0 1h0m-2 0h0m-5 0h0m6 0h0m1 1h0m-2 0h0m0 2h0m-2 2h0m1 1h0m-2 0h0m17 5h0m-2-1h0m1 0h0m1 0h0m0-1h0m-2 0h0m-2 0h0m3 0h0m-2 0h0m0-1h0m3 0h0m-6 0h0m4 0h0m1 0h0m-4 0h0m-2 0h0m5-1h0m-3 0h0m-2 0h0m-1 0h0m4 0h0m3 0h0m-2 0h0m-6 0h0m9 0h0m0-1h0m-6 0h0m4 0h0m-3 0h0m-2 0h0m-1 0h0m7 0h0m-5-1h0m4 0h0m-3 0h0m-2 0h0m3 0h0m-6 0h0m9 0h0m-2 0h0m-6 0h0m9 0h0m-9-1h0m9 0h0m-6 0h0m4 0h0m-3 0h0m-2 0h0m3 0h0m3 0h0m-2 0h0m0-1h0m-2 0h0m-6 0h0m9 0h0m-6 0h0m4 0h0m3 0h0m-6 0h0m-2 0h0m9 0h0m-6 0h0m-3-1h0m9 0h0m-6 0h0m4 0h0m-5 0h0m3 0h0m3 0h0m-2 0h0m2-1h0m-2 0h0m-6 0h0m-2 0h0m11 0h0m-6 0h0m4 0h0m-6 0h0m3 0h0m-2 0h0m3 0h0m-5-1h0m-2 0h0m11 0h0m-2 0h0m-3 0h0m-2 0h0m-3 0h0m9 0h0m-2 0h0m2-1h0m-2 0h0m-6 0h0m9 0h0m-6 0h0m4 0h0m-3 0h0m-3 0h0m4 0h0m4-1h0m-2 0h0m-3 0h0m-6 0h0m3 0h0m4 0h0m-6 0h0m9 0h0m-2 0h0m-8-1h0m5 0h0m4 0h0m-3 0h0m1 0h0m4-1h0m-6 0h0m1 0h0m-4 0h0m1 0h0m7 0h0m-2-1h0m-3 0h0m4 0h0m-3 0h0m-3 0h0m4 0h0m-6 0h0m9 0h0m-3-1h0m3 0h0m-10 0h0m5 0h0m1 0h0m-4-1h0m-2 0h0m11 0h0m-6 0h0m4 0h0m-3 0h0m1 0h0m-6 0h0m9 0h0m-2 0h0m2-1h0m-2 0h0m-6 0h0m7 0h0m-3 0h0m-3 0h0m4 0h0m-1-1h0m-6 0h0m9 0h0m-8 0h0m9 0h0m-6 0h0m4-1h0m-3 0h0m4 0h0m-3 0h0m-2 0h0m-1 0h0m4 0h0m-6 0h0m4-1h0m-4 0h0m7 0h0m1 0h0m-6 0h0m7 0h0m-4 0h0m3-1h0m-3 0h0m1 0h0m-4-1h0m4 0h0m-6 0h0m9 0h0m-10 0h0m5 0h0m-1 0h0m6-1h0m-5 0h0m1 0h0m-2 0h0m3 0h0m-4-1h0m4 0h0m1 0h0m-3 0h0m4 0h0m0-1h0m-2-1h0m-6 0h0m1 0h0m7 0h0m-3 0h0m-2 0h0m-4-1h0m5 0h0m1 0h0m2-1h0m-6 0h0m7 0h0m-3 0h0m-2 0h0m-3-1h0m7 0h0m-6 0h0m7 0h0m-3 0h0m-2 0h0m4-1h0m-2 0h0m-6 0h0m3-1h0m5-1h0m1 0h0m-8 0h0m0-1h0m1 0h0m-2 0h0m6-1h0m-6 0h0m5 0h0m-4-1h0m-1 0h0m5 0h0m1 0h0m-5-1h0m7 0h0m-6 0h0m-2 0h0m5 0h0m2-1h0m-2 0h0m-1-1h0m-1 0h0m-2 0h0m5-1h0m-1 0h0m-1-1h0m-1 0h0m-2 0h0m-1 0h0m6-1h0m1 0h0m-6 0h0m1 0h0m4-1h0m-2-1h0m3 0h0m-4-1h0m-2 0h0m7 0h0m-3 0h0m-5 0h0m7-1h0m-5 0h0m-2 0h0m5 0h0m-2-1h0m1 0h0m-3 0h0m7 0h0m-6 0h0m3 0h0m-1-1h0m3 0h0m-7-1h0m5 0h0m-2-1h0m-2 0h0m5-1h0m-3 0h0m-2 0h0m-1-1h0m5 0h0m1 0h0m-6-2h0m7 0h0m-5-1h0m-2 0h0m5-1h0m-1 0h0m-1 0h0m3-1h0m-5 0h0m1 0h0m3-1h0m-4 0h0m-1 0h0m2-1h0m-2 0h0m7 0h0m-7-1h0m6-1h0m-5 0h0m5-1h0m-3 0h0m-3 0h0m5 0h0m-5-1h0m4 0h0m-3 0h0m-1-1h0m1 0h0m3 0h0m1-1h0m-2-1h0m1-1h0m-1 0h0m-2 0h0m4-1h0m-5-2h0m0-1h0m3 0h0m4 0h0m-6 0h0m1 0h0m-1-1h0m5-1h0m-3-1h0m-2 0h0m2-3h0m-1-1h0m-2 0h0m3-2h0m-3-1h0m6-1h0m-2 0h0m-4-1h0m0-1h0m2-1h0m-2 0h0m3 0h0m3 0h0m-6-2h0m2-1h0m-2-1h0m5 0h0m1 0h0m-2-1h0m-4 0h0m3-1h0m0-1h0m-2-2h0m1 0h0m0-2h0m-1-1h0m3 0h0m-1 0h0m0-1h0m1-1h0m-3 0h0m-1 0h0m3-1h0m-1 0h0m-2 0h0m4 0h0m-4-1h0m1-1h0m3-4h0m-2 0h0m3 0h0m0-2h0m-2-1h0m1-1h0m1 0h0m-3-2h0m3 0h0m-5-1h0m1-2h0m5-1h0m-5 0h0m4 0h0m-1-1h0m-1 0h0m2 0h0m-5-1h0m5-1h0m-1-1h0m-2 0h0m2-1h0m1 0h0m0-2h0m-1-1h0m-2 0h0m-2 0h0m1-1h0m-1-1h0m5-1h0m-2-2h0m-1-3h0m2 0h0m-2-1h0m0-1h0m-2 0h0m0-1h0m4 0h0m-2-1h0m1 0h0m-2 0h0m0-1h0m3-2h0m-1-1h0m0-1h0m-3-1h0m1-1h0m-1-1h0m3-2h0m-2 0h0m2-3h0m-1-2h0m2 0h0m-2-1h0m0-2h0m0-3h0m-1-3h0m1 0h0m-1-3h0m1 0h0m-1-2h0m4 0h0m-2-2h0m-1 0h0m2-1h0m-2-1h0m0-3h0m-1-1h0m1-1h0m-1-1h0m3-1h0m-2 0h0m1-2h0m1-3h0m-2 0h0m-2 0h0m1-3h0m-1-2h0m2-1h0m1-2h0m-2-2h0m-1-1h0m1 0h0m0-1h0m2-5h0m-2-3h0m-1-4h0m2-1h0m-1-6h0m1-1h0m-1-5h0m1-1h0m0-2h0m0-1h0m1-1h0m-1 0h0m1-1h0m-3 0h0m3-1h0m-1 0h0m-1-2h0m-1-3h0m0-2h0m1-2h0m1-2h0m-2-1h0m3-1h0m-2-1h0m-1-4h0m1 0h0m1-2h0m-2-1h0m3-1h0m-3-1h0m0-1h0m0-2h0m1-3h0m-1-6h0m0-3h0m2-1h0m0-1h0m-2-1h0m0-2h0m2-2h0m-1 0h0m0-10h0m0-1h0m0-1h0m0-11h0m-1-2h0m0-1h0m0-2h0m0-1h0m0-2h0m0-2h0m1-9h0m0-2h0m-1-5h0m0-2h0m0-1h0m1-2h0m1 0h0m-2-2h0m1-1h0m0-3h0m0-2h0m-1-9h0m0-2h0m0-8h0m0-1h0m0-16h0m1-11h0m-1-6h0m0-5h0m0-36h0m23 185h0m0 7h0m0 5h0m0 18h0m-1 3h0m1 4h0m0 3h0m-1 20h0m1 3h0m0 8h0m-1 2h0m0 1h0m1 0h0m-2 5h0m1 2h0m-1 13h0m0 3h0m1 1h0m-1 7h0m0 2h0m0 1h0m0 2h0m0 1h0m0 2h0m0 2h0m0 1h0m2 1h0m0 1h0m-1 4h0m-1 5h0m2 5h0m-1 4h0m0 1h0m1 3h0m0 2h0m-2 0h0m1 5h0m1 1h0m-2 4h0m1 1h0m1 1h0m-3 0h0m0 2h0m0 2h0m2 3h0m-3 3h0m3 3h0m-1 1h0m-1 2h0m0 1h0m2 0h0m-1 1h0m2 1h0m-3 0h0m0 2h0m3 2h0m-1 2h0m-2 1h0m0 3h0m3 0h0m-1 2h0m0 1h0m-2 0h0m2 1h0m-3 2h0m2 0h0m0 2h0m-3 1h0m1 0h0m1 0h0m2 1h0m-1 0h0m-1 1h0m-3 3h0m4 1h0m1 1h0m-5 0h0m0 1h0m4 0h0m-1 0h0m-1 1h0m2 0h0m2 1h0m-2 0h0m1 1h0m1 0h0m-2 0h0m-5 1h0m0 1h0m7 0h0m-3 0h0m-3 1h0m3 2h0m2 0h0m-3 1h0m1 0h0m-2 1h0m3 0h0m-2 0h0m3 0h0m-3 1h0m3 1h0m-6 1h0m1 0h0m4 0h0m-1 0h0m1 1h0m-3 0h0m1 0h0m-2 1h0m4 0h0m2 1h0m-2 0h0m-6 0h0m1 2h0m7 0h0m-3 0h0m-2 0h0m1 0h0m4 1h0m-2 0h0m-1 0h0m-5 0h0m4 0h0m-6 1h0m9 0h0m-2 0h0m-3 0h0m1 0h0m1 0h0m2 1h0m-1 0h0m-2 0h0m-6 0h0m7 0h0m-6 0h0m9 0h0m-3 1h0m-2 0h0m3 0h0m-2 0h0m-2 0h0m1 1h0m1 0h0m-6 0h0m3 0h0m4 0h0m4 1h0m-6 0h0m3 0h0m-8 0h0m3 0h0m8 1h0m-3 0h0m-5 0h0m7 0h0m1 1h0m-6 0h0m4 0h0m-1 0h0m-8 0h0m4 0h0m-2 0h0m9 1h0m-2 0h0m-3 0h0m-2 0h0m3 0h0m-6 0h0m1 1h0m9 0h0m-3 0h0m-8 0h0m3 0h0m5 1h0m-2 0h0m3 0h0m-2 0h0m-3 0h0m-2 1h0m9 0h0m-2 0h0m-3 0h0m-6 0h0m3 0h0m7 0h0m-6 0h0m5 1h0m-1 0h0m-2 0h0m-3 0h0m1 0h0m7 0h0m-9 1h0m9 0h0m-2 0h0m-1 0h0m-2 0h0m-3 0h0m4 0h0m3 0h0m-6 0h0m1 1h0m4 0h0m-6 0h0m1 0h0m4 1h0m-6 0h0m7 0h0m-3 0h0m1 0h0m-2 0h0m0 1h0m4 0h0m-9 0h0m3 0h0m4 0h0m-6 0h0m9 0h0m-8 0h0m6 1h0m-2 0h0m-6 0h0m9 0h0m-6 0h0m4 0h0m-6 0h0m3 0h0m1 0h0m4 1h0m-1 0h0m-2 0h0m-6 0h0m3 0h0m4 0h0m-6 0h0m3 0h0m-2 0h0m6 1h0m-2 0h0m-6 0h0m3 0h0m4 0h0m-6 0h0m9 0h0m-6 0h0m-2 0h0m9 0h0m-6 0h0m4 0h0m0 1h0m-6 0h0m3 0h0m-6 0h0m7 0h0m-6 0h0m7 0h0m-4 0h0m-2 0h0m6 1h0m-2 0h0m-6 0h0m3 0h0m4 0h0m-6 0h0m3 0h0m-2 0h0m3 0h0m-3 1h0m-2 0h0m3 0h0m-2 0h0m5 0h0m-6 1h0m1 0h0m1 0h0m13-3h0m-2 0h0m0-1h0m-1 0h0m2 0h0m0-1h0m-2-1h0m4 0h0m-1-1h0m-2 0h0m-1 0h0m3-1h0m-3 0h0m1 0h0m2-1h0m-2 0h0m4-1h0m-5 0h0m3 0h0m1 0h0m-2 0h0m-1-1h0m-1 0h0m11 0h0m-2 0h0m0-1h0m-2 0h0m3-1h0m-9 0h0m5-1h0m4 0h0m-8 0h0m6-2h0m-5 0h0m-1 0h0m9 0h0m-6 0h0m4-1h0m-3 0h0m-3 0h0m1 0h0m-3-1h0m9 0h0m-3-1h0m-2 0h0m3 0h0m-5 0h0m7 0h0m-8 0h0m0-2h0m5 0h0m0-1h0m4 0h0m-3 0h0m-8 0h0m2-2h0m8 0h0m-4-1h0m-4 0h0m5 0h0m-5-1h0m7 0h0m-3 0h0m-4-1h0m3 0h0m-2 0h0m-1-1h0m4-1h0m-6 0h0m11-1h0m-5 0h0m-3 0h0m-3 0h0m2 0h0m2-1h0m-2-1h0m2-1h0m5 0h0m-2-1h0m-3-1h0m-2 0h0m3 0h0m4 0h0m-4-1h0m3 0h0m-5 0h0m4-1h0m1 0h0m-5 0h0m-2 0h0m3-2h0m6-1h0m-6 0h0m7 0h0m-6-1h0m3 0h0m-2 0h0m4-1h0m-7-1h0m7 0h0m-10 0h0m7-1h0m1 0h0m2 0h0m-8-1h0m4 0h0m3-1h0m-6 0h0m2-1h0m-1-2h0m4-2h0m-8-1h0m4 0h0m3 0h0m4 0h0m-5 0h0m-1-1h0m-2-1h0m8 0h0m-5 0h0m-5-1h0m9 0h0m-8 0h0m6-1h0m-7-1h0m6 0h0m2 0h0m-2-1h0m-7-2h0m10 0h0m-8 0h0m3 0h0m-2-2h0m-3 0h0m4-1h0m-2 0h0m4 0h0m-2-1h0m1-1h0m-4 0h0m5-1h0m3 0h0m-6-1h0m-1 0h0m9 0h0m-1-1h0m-8-1h0m7-1h0m-2 0h0m-3-1h0m-2 0h0m1-2h0m-3 0h0m11-1h0m-2 0h0m2-1h0m-6-1h0m5 0h0m-7-1h0m-1-1h0m3-1h0m4-1h0m-7 0h0m4-1h0m-3-1h0m2-1h0m5 0h0m-6-1h0m3 0h0m-2 0h0m-4-1h0m6-2h0m1 0h0m2 0h0m-10-1h0m5 0h0m5 0h0m-8-1h0m5 0h0m-1-2h0m-6-1h0m4-1h0m3-1h0m-2-1h0m-2 0h0m0-2h0m2-1h0m-3-1h0m7 0h0m-5-2h0m3 0h0m-6 0h0m5-1h0m-3 0h0m4-1h0m1 0h0m2-1h0m-7 0h0m2-2h0m4 0h0m-6-3h0m-2 0h0m5 0h0m0-2h0m-3-1h0m4 0h0m4-3h0m-3-1h0m-8-3h0m11 0h0m-6 0h0m-3-1h0m6 0h0m-8-1h0m4 0h0m-1-1h0m3-1h0m-2-1h0m2-4h0m1-1h0m-5 0h0m7-6h0m-3 0h0m-4-1h0m1 0h0m4 0h0m3 0h0m-4-1h0m4-1h0m-6 0h0m4-1h0m-5 0h0m5-1h0m3-2h0m-10-4h0m9-3h0m-6 0h0m2-1h0m-5 0h0m3-1h0m-2-2h0m2-1h0m3 0h0m4 0h0m-6-1h0m-1 0h0m6-1h0m-10-1h0m3 0h0m1-1h0m-2 0h0m0-1h0m4-1h0m-6 0h0m2-1h0m-1 0h0m0-1h0m3-3h0m2 0h0m5-1h0m-6 0h0m-3-1h0m4-2h0m-5-4h0m-1 0h0m2 0h0m0-2h0m7 0h0m-3-1h0m1 0h0m-3 0h0m0-1h0m4 0h0m-3-1h0m5-2h0m-6 0h0m7 0h0m-6 0h0m-2-2h0m5 0h0m0-1h0m-3-1h0m2-2h0m-1 0h0m-1-2h0m1-1h0m3 0h0m-6-1h0m8 0h0m-9-1h0m3 0h0m5-2h0m-4-3h0m-3-2h0m2 0h0m-5-1h0m9-5h0m-8 0h0m9 0h0m-4-6h0m5 0h0m0-1h0m-7-3h0m-1 0h0m-2-1h0m10-1h0m-6 0h0m-3-2h0m6-1h0m3 0h0m-11-1h0m9-3h0m-4-1h0m5 0h0m-5-2h0m0-4h0m3 0h0m-5-2h0m4-1h0m-6 0h0m5 0h0m-6-1h0m1-1h0m4-2h0m4 0h0m-5-4h0m1 0h0m0-1h0m3-1h0m-4-1h0m0-2h0m0-1h0m1 0h0m3-2h0m-2-3h0m-6-1h0m0-2h0m4 0h0m7 0h0m-9-2h0m5 0h0m-2-4h0m6-3h0m-1 0h0m-5-1h0m1-2h0m-5 0h0m-1 0h0m2-1h0m7-2h0m-8 0h0m5-3h0m3-1h0m-6-1h0m3-1h0m-3-1h0m0-2h0m7 0h0m-4-4h0m5-1h0m-9-1h0m9-2h0m-6 0h0m-3-1h0m2-3h0m4 0h0m-7-1h0m0-1h0m-1-1h0m3-2h0m8 0h0m-6-2h0m3 0h0m2-2h0m-10 0h0m3-1h0m4 0h0m-5-1h0m3-1h0m-1-1h0m7 0h0m-9-4h0m2-1h0m5-2h0m-7-1h0m1-2h0m8-1h0m-1-3h0m-4-3h0m-4 0h0m1-2h0m5-1h0m3-1h0m-9-3h0m7 0h0m-3-6h0m5-2h0m-5 0h0m-2-3h0m0-3h0m1-1h0m3 0h0m-2-4h0m-4-2h0m0-1h0m6-3h0m-4-2h0m-2-1h0m3-4h0m3-1h0m-6-1h0m1-1h0m2 0h0m-2-2h0m-1 0h0m9-3h0m-3-2h0m1 0h0m-1-5h0m-2-4h0m-1-1h0m-2 0h0m7-4h0m-6-1h0m1-1h0m4 0h0m2-2h0m-2-1h0m-4-2h0m3-2h0m2-7h0m-1-2h0m2-3h0m-7-1h0m3-2h0m-4-3h0m6-3h0m-1-2h0m2-2h0m-1 0h0m1-2h0m1 0h0m-8-7h0m1-2h0m2-5h0m3-1h0m-3-1h0m1 0h0m3-3h0m-4-1h0m1-2h0m-2-1h0m4-1h0m0-2h0m0-2h0m-3-6h0m5-1h0m-1-10h0m-1-1h0m-1-3h0m-1-8h0m-2-3h0m6-3h0m-6-4h0m4-1h0m1-9h0m1-3h0m-2-3h0m1-1h0m-5-6h0m3-1h0m-1 0h0m4 0h0m-3-2h0m1 0h0m-1-1h0m1-2h0m0-7h0m-2-9h0m4-4h0m0-8h0m-1-1h0m1-4h0m-4-2h0m4 0h0m-3-1h0m2-7h0m-1 0h0m-2-5h0m3-2h0m-1-10h0m1 0h0m-1-15h0m1-2h0m-3-4h0m2-29h0m-1 0h0m12 0h0m-6 0h0m-2 0h0m9 0h0m-6 0h0m-2 0h0m3 0h0m3 0h0m4 0h0m-6 0h0m-1 19h0m3 6h0m-6 0h0m7 2h0m-3 7h0m4 1h0m-6 0h0m4 0h0m4 5h0m-5 1h0m5 4h0m-9 4h0m7 0h0m-8 0h0m4 1h0m3 5h0m-2 1h0m0 2h0m3 0h0m-4 1h0m-3 0h0m-1 0h0m1 2h0m0 3h0m9 3h0m-6 2h0m-4 1h0m10 4h0m-8 2h0m5 4h0m-2 0h0m-4 3h0m3 3h0m-2 1h0m3 0h0m2 1h0m-3 0h0m-5 3h0m8 0h0m-7 3h0m9 3h0m-3 4h0m1 5h0m-1 0h0m0 7h0m3 1h0m-9 1h0m10 3h0m0 2h0m-9 1h0m-1 0h0m-1 0h0m8 1h0m2 2h0m-9 3h0m10 0h0m0 3h0m-11 1h0m7 2h0m1 2h0m2 7h0m-10 0h0m4 1h0m3 6h0m-1 1h0m-3 0h0m1 1h0m2 1h0m-5 0h0m6 1h0m-2 0h0m-3 4h0m-2 0h0m5 1h0m4 5h0m1 1h0m-4 3h0m5 1h0m-6 0h0m-4 1h0m9 1h0m-10 1h0m11 1h0m-8 2h0m1 0h0m7 1h0m-3 1h0m-2 0h0m2 5h0m-3 1h0m5 2h0m-2 0h0m-7 2h0m7 1h0m1 0h0m-6 0h0m2 0h0m-1 7h0m-1 2h0m2 1h0m-2 4h0m7 1h0m-8 1h0m7 0h0m1 5h0m-6 7h0m1 1h0m4 1h0m-8 0h0m9 2h0m-7 1h0m2 1h0m5 0h0m-2 6h0m-7 1h0m2 3h0m-2 2h0m4 1h0m5 2h0m-3 0h0m-5 2h0m2 0h0m-4 1h0m2 2h0m6 1h0m-8 0h0m4 1h0m1 5h0m4 0h0m-4 2h0m-2 1h0m-3 1h0m4 2h0m3 2h0m1 2h0m2 2h0m-2 0h0m-3 0h0m6 1h0m-7 1h0m0 2h0m-3 2h0m2 1h0m0 2h0m4 7h0m-1 4h0m-3 0h0m6 1h0m1 6h0m-10 1h0m0 2h0m7 4h0m-5 7h0m4 2h0m-3 0h0m3 1h0m-1 1h0m-4 0h0m1 0h0m-1 3h0m1 1h0m6 2h0m2 1h0m-6 1h0m4 0h0m-4 1h0m3 0h0m-4 2h0m8 0h0m-9 4h0m8 2h0m-3 0h0m-3 2h0m0 1h0m-1 1h0m-1 1h0m0 1h0m0 1h0m4 0h0m4 3h0m-6 0h0m0 3h0m3 0h0m4 0h0m-6 1h0m1 0h0m0 2h0m3 1h0m-3 2h0m-2 3h0m-2 1h0m-1 0h0m8 2h0m-7 1h0m3 2h0m-4 0h0m1 2h0m6 1h0m1 0h0m-6 0h0m-1 1h0m3 0h0m-4 2h0m-1 0h0m11 0h0m-4 1h0m-3 1h0m3 1h0m-2 3h0m4 0h0m0 1h0m-4 3h0m4 0h0m-6 1h0m2 2h0m2 0h0m-5 0h0m6 5h0m-1 0h0m-6 0h0m2 4h0m-3 0h0m3 1h0m-1 2h0m1 1h0m4 0h0m0 8h0m2 0h0m0 3h0m-8 1h0m7 1h0m2 2h0m-6 2h0m5 0h0m1 1h0m1 0h0m-5 1h0m1 1h0m-2 3h0m-2 1h0m2 2h0m-2 0h0m3 1h0m-5 0h0m5 1h0m-1 0h0m4 0h0m-5 2h0m-1 0h0m2 2h0m-1 1h0m-2 1h0m7 0h0m-6 0h0m5 2h0m-2 2h0m-1 1h0m5 0h0m-4 0h0m2 1h0m-4 1h0m1 1h0m2 0h0m2 2h0m-1 1h0m-5 0h0m-2 1h0m-1 0h0m8 0h0m-2 1h0m1 0h0m3 2h0m-6 3h0m1 2h0m-5 0h0m7 0h0m-2 1h0m-3 0h0m4 1h0m-3 1h0m1 2h0m-3 1h0m5 1h0m3 1h0m-8 4h0m6 1h0m-1 0h0m1 1h0m-4 1h0m5 1h0m-5 1h0m4 1h0m-1 0h0m-4 1h0m3 0h0m-4 1h0m3 3h0m1 2h0m-4 0h0m7 1h0m-5 0h0m-1 3h0m3 0h0m3 1h0m0 1h0m2 1h0m1 1h0m-8 0h0m8 2h0m-6 0h0m1 0h0m-6 2h0m10 3h0m1 4h0m-11 1h0m4 0h0m2 1h0m-1 0h0m-2 0h0m1 1h0m-1 1h0m2 4h0m0 2h0m-5 3h0m0 1h0m11 0h0m-7 1h0m3 0h0m3 1h0m-2 0h0m-6 0h0m6 1h0m1 2h0m1 2h0m-6 0h0m5 2h0m-7 1h0m-2 2h0m5 0h0m-5 5h0m4 0h0m2 0h0m-3 1h0m-3 1h0m8 0h0m-1 2h0m3 1h0m-4 1h0m2 1h0m1 0h0m-3 2h0m-3 0h0m-2 0h0m5 1h0m-1 1h0m3 1h0m0 2h0m3 2h0m-4 2h0m3 0h0m-4 2h0m-6 0h0m4 0h0m-2 1h0m1 0h0m1 0h0m4 1h0m3 4h0m-5 0h0m-2 0h0m-3 0h0m1 1h0m4 0h0m-5 3h0m8 1h0m-8 0h0m0 4h0m-1 0h0m7 0h0m-4 1h0m-2 0h0m9 2h0m-5 1h0m5 0h0m-5 1h0m-2 0h0m-1 1h0m3 1h0m-4 0h0m5 1h0m1 0h0m4 0h0m-2 3h0m-6 3h0m6 2h0m-1 1h0m-5 0h0m7 1h0m-1 2h0m-9 1h0m4 1h0m5 1h0m-9 1h0m5 0h0m0 1h0m4 0h0m-8 1h0m5 0h0m-5 1h0m3 0h0m3 1h0m4 0h0m-6 0h0m-4 1h0m1 0h0m7 0h0m-5 1h0m-1 0h0m-1 1h0m-1 1h0m10 0h0m-7 1h0m1 1h0m6 2h0m-10 0h0m9 0h0m-6 0h0m-2 1h0m1 0h0m3 1h0m-1 1h0m3 0h0m-6 0h0m-2 0h0m4 1h0m7 1h0m-6 0h0m-2 1h0m1 1h0m3 0h0m-7 1h0m2 0h0m-1 1h0m5 1h0m3 1h0m-6 1h0m-2 0h0m5 1h0m-3 0h0m-3 0h0m9 1h0m-8 2h0m9 6h0m-10 1h0m7 0h0m-7 1h0m4 0h0m-2 0h0m1 1h0m8 0h0m-6 1h0m-3 0h0m6 1h0m1 0h0m-9 1h0m11 0h0m-11 1h0m3 1h0m-3 1h0m8 3h0m-7 1h0m0 1h0m-1 3h0m15-11h0m1-5h0m-2-1h0m-1-4h0m4-1h0m0-7h0m-4-1h0m4-1h0m-5 0h0m1-4h0m5-1h0m0-2h0m-5-2h0m3-1h0m-2 0h0m7-3h0m-3-3h0m4 0h0m-5-2h0m-2 0h0m-1-1h0m-2-1h0m4-1h0m-2 0h0m7-1h0m1-2h0m-10 0h0m0-1h0m1-1h0m0-3h0m8-2h0m-8 0h0m8-1h0m-2 0h0m-2-1h0m3 0h0m-2 0h0m-2-2h0m-2 0h0m1-1h0m-2-2h0m1-3h0m3-2h0m-2 0h0m-3-3h0m7-2h0m3-3h0m-3-1h0m-1-4h0m-2-1h0m-3-1h0m10-4h0m-6 0h0m5 0h0m-2-1h0m-8-2h0m9 0h0m1-9h0m-2-1h0m-5-2h0m7-1h0m-9 0h0m7 0h0m-1-1h0m1 0h0m-2-2h0m1-1h0m-3-1h0m1-2h0m5-1h0m-6 0h0m-3-1h0m-1-3h0m10-3h0m-2 0h0m-5-3h0m-3-1h0m1 0h0m9-1h0m-1-1h0m-4-3h0m2-1h0m1 0h0m1-1h0m-5-1h0m-2 0h0m1-1h0m5-3h0m-5 0h0m7-1h0m-10 0h0m5-2h0m4 0h0m-5-1h0m-2-1h0m7 0h0m-4 0h0m4-2h0m-6-1h0m7 0h0m-4-2h0m-2-2h0m0-2h0m3-1h0m-2-1h0m2-1h0m4 0h0m-11 0h0m2-1h0m8-1h0m0-1h0m-1-3h0m-3-2h0m-5-1h0m6-1h0m2-1h0m-6-4h0m-3 0h0m4-1h0m-1 0h0m-2-3h0m1 0h0m7-2h0m-9-2h0m7-2h0m-3-1h0m1-2h0m-1-1h0m1-1h0m3 0h0m-6-1h0m6-1h0m-4-1h0m3-3h0m4 0h0m-3-1h0m-7-1h0m6-5h0m3-2h0m-4-1h0m-3 0h0m-3-4h0m1 0h0m-1-1h0m6-1h0m3-3h0m-2 0h0m-5-1h0m4 0h0m-1-1h0m4-1h0m-1-2h0m-5-3h0m6-2h0m-9-3h0m9-1h0m-4-1h0m-4-1h0m2-1h0m-1-1h0m-2-7h0m5-8h0m2-2h0m-6-2h0m8-1h0m2-1h0m-5-5h0m-4-2h0m-2-2h0m1-6h0m9 0h0m-4-2h0m3-1h0m0-3h0m1-3h0m-5-3h0m0-1h0m-2-1h0m6-2h0m-7 0h0m7-1h0m1-2h0m-6-1h0m-1-2h0m6-3h0m0-3h0m-4-6h0m-2-3h0m2-1h0m0-1h0m4-2h0m-5-1h0m-1-3h0m0-1h0m2-1h0m-2-2h0m-1-1h0m-2-4h0m9 0h0m-2 0h0m-1-4h0m5-6h0m-7-1h0m-2-1h0m1-1h0m0-2h0m-2-1h0m2 0h0m7 0h0m1 0h0m-6-2h0m-2 0h0m-3-1h0m5-1h0m1 0h0m3 0h0m-5-1h0m6-1h0m-10-2h0m2-1h0m3-3h0m-3-1h0m-2-1h0m0-3h0m11 0h0m-7-2h0m6-3h0m-3-3h0m-5-5h0m3 0h0m-2-2h0m6-3h0m-2-1h0m-5-3h0m5 0h0m-2 0h0m-1-1h0m-2-1h0m-2-3h0m4-2h0m3 0h0m4 0h0m0-5h0m-3-4h0m-3-1h0m-5 0h0m9 0h0m-4-1h0m-4-4h0m2-3h0m-2-1h0m2-1h0m6-5h0m-1-5h0m-5 0h0m6-1h0m2-3h0m-11-4h0m7-1h0m-3-2h0m6 0h0m-2-3h0m3-1h0m-11 0h0m6-1h0m-2-3h0m7 0h0m-3-1h0m-7-2h0m8-5h0m-8-1h0m1 0h0m2-1h0m0-2h0m-3-4h0m0-1h0m6-3h0m-5-2h0m7 0h0m-3-3h0m0-1h0m0-1h0m-2 0h0m-3-2h0m10-1h0m0-1h0m-2-4h0m-1-1h0m-4-5h0m5 0h0m-3-1h0m-3 0h0m1 0h0m-2-1h0m-1-2h0m-1-1h0m4-8h0m4 0h0m-3 0h0m6-2h0m-10-5h0m4 0h0m-1-1h0m7-1h0m-3 0h0m0-4h0m-4-1h0m-3-2h0m3-3h0m-3 0h0m0-6h0m3-4h0m3 0h0m2-1h0m-5-1h0m1-4h0m6-6h0m-8-1h0m4 0h0m-1-1h0m3-1h0m-4-1h0m-1-2h0m-4-1h0m11 0h0m-3 0h0m-3 0h0m3-1h0m-1 0h0m-7-1h0m2-2h0m-1-1h0m2-1h0m4-5h0m3-7h0m-9-2h0m3-1h0m6-5h0m-4-2h0m4-1h0m0-6h0m-8-2h0m0-1h0m1-4h0m-2-3h0m7-2h0m3-1h0m-5 0h0m-5-2h0m8-4h0m-7-1h0m2-1h0m4-2h0m-3-1h0m2-2h0m-4-2h0m7 0h0m-4-25h0m-1 0h0m-2 0h0m7 0h0m-10 0h0m11 0h0m-10 0h0m7 0h0m-6 0h0m15 0h0m-2 0h0m-1 0h0m-2 0h0m9 0h0m-2 0h0m4 0h0m-10 0h0m9 0h0m-2 0h0m1 19h0m-8 0h0m5 13h0m-5 0h0m9 1h0m-2 0h0m-2 0h0m-4 2h0m5 1h0m0 2h0m-6 1h0m0 1h0m2 2h0m-2 1h0m8 1h0m-8 0h0m6 7h0m-2 0h0m1 6h0m5 0h0m-7 2h0m3 0h0m-4 1h0m-2 4h0m10 1h0m-9 2h0m2 0h0m-3 5h0m2 1h0m6 1h0m-8 3h0m5 1h0m-2 1h0m5 2h0m2 0h0m-4 2h0m-7 0h0m2 1h0m3 2h0m-1 4h0m6 5h0m-4 1h0m-5 3h0m4 3h0m-1 0h0m4 2h0m-6 14h0m-1 0h0m1 1h0m-1 1h0m7 5h0m-4 1h0m2 1h0m1 1h0m0 2h0m-3 3h0m-2 2h0m8 2h0m-5 0h0m-5 1h0m4 4h0m4 2h0m-5 1h0m7 1h0m-6 0h0m-3 1h0m-1 3h0m4 0h0m5 1h0m1 1h0m-4 6h0m-6 1h0m8 3h0m-2 5h0m0 3h0m-3 0h0m2 1h0m-3 1h0m-1 5h0m-1 1h0m2 4h0m4 2h0m0 2h0m1 7h0m0 1h0m-2 1h0m-3 0h0m4 4h0m4 1h0m0 3h0m-1 4h0m-4 1h0m-4 6h0m3 8h0m-3 1h0m4 7h0m3 3h0m-2 1h0m5 1h0m-7 1h0m-1 2h0m5 0h0m-1 3h0m-2 7h0m-3 5h0m2 1h0m5 0h0m1 0h0m-4 4h0m5 1h0m-6 0h0m4 2h0m2 2h0m-8 1h0m3 0h0m-6 0h0m1 2h0m2 1h0m8 3h0m-9 0h0m8 1h0m-6 1h0m1 1h0m-5 0h0m5 4h0m1 0h0m0 1h0m1 2h0m-2 2h0m1 2h0m-3 1h0m8 0h0m-10 7h0m9 0h0m-5 4h0m1 1h0m-1 4h0m2 0h0m-5 1h0m3 0h0m1 2h0m-5 0h0m6 1h0m-7 1h0m7 5h0m0 1h0m-5 0h0m2 1h0m-3 2h0m7 3h0m2 1h0m-2 0h0m-5 4h0m3 6h0m1 1h0m-6 0h0m5 2h0m-1 6h0m-5 2h0m9 0h0m-3 9h0m-6 0h0m8 0h0m-2 2h0m-4 2h0m5 0h0m-6 8h0m1 6h0m8 2h0m-8 8h0m4 2h0m-2 1h0m4 2h0m-4 4h0m5 0h0m-6 2h0m4 3h0m-6 1h0m9 0h0m-4 2h0m-3 4h0m2 2h0m-4 3h0m10 6h0m-1 0h0m-6 0h0m6 2h0m-2 0h0m-1 2h0m-3 1h0m-4 3h0m8 0h0m-3 2h0m5 4h0m-7 4h0m5 0h0m1 1h0m-2 3h0m1 0h0m0 3h0m-5 0h0m2 2h0m1 2h0m1 1h0m2 1h0m-8 2h0m4 0h0m0 9h0m-3 3h0m6 2h0m-7 3h0m9 1h0m-7 0h0m-2 2h0m7 0h0m1 2h0m0 2h0m-9 2h0m7 1h0m-6 2h0m6 2h0m1 3h0m0 4h0m0 3h0m-6 4h0m4 5h0m-6 0h0m5 2h0m-3 1h0m-1 0h0m2 3h0m-2 1h0m5 3h0m2 1h0m-5 6h0m2 3h0m-4 1h0m0 1h0m6 1h0m-6 2h0m5 1h0m3 7h0m2 2h0m-5 2h0m-2 1h0m-3 4h0m2 1h0m6 2h0m-6 1h0m-2 0h0m2 2h0m8 0h0m-10 5h0m2 4h0m7 1h0m-8 1h0m2 0h0m5 3h0m2 0h0m-9 0h0m-2 3h0m3 3h0m0 4h0m-3 2h0m3 0h0m5 4h0m-4 0h0m2 3h0m-4 2h0m1 2h0m1 2h0m-4 1h0m8 1h0m-7 1h0m6 2h0m-5 7h0m4 0h0m13-15h0m-7-1h0m4-5h0m3-4h0m-6 0h0m2-4h0m0-3h0m8-1h0m-8-4h0m-3-2h0m4-12h0m4-1h0m-6-1h0m6-1h0m-2-2h0m-3-3h0m4-4h0m3-2h0m0-5h0m0-1h0m-5-7h0m3-8h0m1-2h0m2-4h0m-6-1h0m1 0h0m-6-9h0m3-4h0m7-6h0m-6 0h0m7-2h0m-6-2h0m3-1h0m1-2h0m-9-7h0m10-4h0m-7-3h0m6-2h0m-2-3h0m-6 0h0m2-2h0m8-2h0m-7-6h0m0-1h0m7 0h0m-6 0h0m2-10h0m4 0h0m-11-4h0m5-2h0m-4-4h0m7-5h0m-1-6h0m1-1h0m-7-2h0m9-2h0m0-3h0m-6-2h0m6-1h0m-1-1h0m-5-4h0m2-3h0m2-3h0m3-1h0m-6 0h0m0-1h0m-3 0h0m1-5h0m8-5h0m-11-6h0m10-5h0m-10-1h0m3-15h0m6-4h0m2-6h0m0-3h0m-1 0h0m-9-1h0m7-2h0m1-2h0m-7-5h0m-1-3h0m0-1h0m9-5h0m-7-4h0m6-1h0m-1-2h0m-2-6h0m-4-11h0m8-1h0m-9-3h0m3-6h0m1-1h0m4 0h0m-1-6h0m-1-3h0m-3-8h0m3-2h0m-6-1h0m3-3h0m-2-1h0m9-1h0m-10-4h0m8-2h0m-3-5h0m4-11h0m-9-6h0m3-3h0m-3-1h0m2-1h0m3-3h0m4-2h0m-7-3h0m3-5h0m3 0h0m-9-1h0m3-2h0m8-2h0m-6-9h0m-5-1h0m2-5h0m8-2h0m-2 0h0m0-5h0m-7-3h0m1 0h0m-2-1h0m1 0h0m9-1h0m-4-2h0m-6-1h0m1-1h0m2-6h0m5-1h0m-8-7h0m11-3h0m0-2h0m-9 0h0m1-1h0m7-1h0m1-3h0m-9-6h0m1-1h0m2-3h0m1-1h0m-1-1h0m5-1h0m-8-2h0m2-1h0m-2 0h0m8-2h0m-6-1h0m-3-4h0m9-1h0m-6-1h0m-2-1h0m5-4h0m-2-2h0m3-1h0m-4-8h0m-1-1h0m1-1h0m1-2h0m6-1h0m-5 0h0m-5-2h0m3 0h0m5-2h0m-2-1h0m-5-4h0m-1-4h0m3-1h0m2-1h0m1 0h0m2-2h0m-1-3h0m-6 0h0m3-5h0m-5 0h0m3-8h0m-3-2h0m10-2h0m1-9h0m-10-2h0m0-2h0m10-1h0m-1-2h0m-5-1h0m6-10h0m-4-2h0m0-5h0m-4-2h0m4-4h0m0-10h0m-2 0h0m-3-19h0m5 0h0m-6 0h0m7 0h0m3 0h0m-6 0h0m-2 0h0m20 0h0m-2 0h0m-6 0h0m1 0h0m4 0h0m-1 0h0m-5 0h0m4 0h0m1 19h0m-4 0h0m2 6h0m-5 0h0m2 13h0m0 2h0m9 7h0m-7 6h0m5 3h0m-6 1h0m6 3h0m-1 2h0m-1 4h0m-2 2h0m-3 2h0m-2 1h0m9 6h0m-5 5h0m-4 4h0m0 5h0m11 7h0m-9 1h0m0 5h0m4 3h0m3 5h0m-4 0h0m2 2h0m1 5h0m1 3h0m2 1h0m-1 0h0m-8 0h0m9 1h0m0 2h0m0 1h0m-2 2h0m2 2h0m-4 5h0m-2 9h0m4 1h0m-9 2h0m7 2h0m-7 2h0m10 3h0m-4 4h0m3 0h0m-2 4h0m2 7h0m-6 3h0m-2 5h0m10 3h0m-8 8h0m8 0h0m-7 4h0m6 2h0m-8 2h0m3 3h0m4 0h0m-6 2h0m-3 1h0m9 0h0m-6 2h0m6 6h0m-4 11h0m-4 0h0m8 1h0m1 0h0m-7 5h0m7 1h0m-9 11h0m1 0h0m1 2h0m8 3h0m-7 2h0m0 2h0m-4 1h0m7 30h0m0 5h0m4 6h0m-11 1h0m0 6h0m3 5h0m7 1h0m-7 3h0m1 9h0m0 1h0m2 5h0m3 6h0m1 0h0m-9 2h0m2 2h0m3 2h0m5 1h0m-7 6h0m-1 2h0m0 1h0m7 0h0m-7 2h0m-1 3h0m9 5h0m-2 2h0m-3 9h0m2 0h0m-6 2h0m7 1h0m-3 6h0m-3 3h0m0 2h0m7 13h0m-9 1h0m6 3h0m-1 3h0m-4 2h0m-1 8h0m2 3h0m7 5h0m-9 5h0m2 3h0m5 1h0m3 3h0m-1 2h0m0 8h0m1 1h0m-6 0h0m1 2h0m-3 2h0m4 16h0m-1 2h0m-1 7h0m-5 8h0m8 0h0m-8 1h0m0 6h0m7 5h0m-2 2h0m1 12h0m-3 7h0m7 1h0m-10 5h0m0 17h0m1 2h0m3 4h0m-2 15h0m1 1h0m1 9h0m3 1h0m16 15h0m-4-68h0m-7-9h0m2-10h0m0-2h0m-1-12h0m9-7h0m-10-28h0m9-4h0m-7-11h0m7-1h0m-8-5h0m2-14h0m7-3h0m-7-18h0m-2-2h0m9-2h0m1-14h0m-10-14h0m10-3h0m-1-22h0m-5-4h0m-3-16h0m9-10h0m-11-26h0m4-2h0m2-1h0m-5-4h0m1-1h0m5-4h0m-7-6h0m4-9h0m-4-3h0m7-2h0m-7-1h0m3-1h0m0-1h0m-3-11h0m3-1h0m1-10h0m-4-2h0m4-1h0m-4-1h0m4-13h0m-1-2h0m6-3h0m-4-12h0m-3-3h0m3-3h0m6-4h0m-10-2h0m4-2h0m4-23h0m-5-7h0m2-1h0m3-3h0m-1-4h0m-8-3h0m3-2h0m-1-4h0m-2-1h0m2-7h0m0-11h0m9-10h0m-11-1h0m2-3h0m8-3h0m-6-3h0m-1-5h0m1-2h0m1-1h0m-1-1h0m4 0h0m-7-2h0m2-11h0m7-8h0m-5-1h0m-5-2h0m10-2h0m-3-4h0m-6-7h0m2-3h0m5 0h0m-2-2h0m4-1h0m-7-1h0m-1-3h0m4-9h0m-5-19h0m3 0h0m4 0h0m-1 0h0m-5 0h0m-2 0h0m11 0h0m-2 0h0m10 0h0m-2 0h0m-1 0h0m4 0h0m-6 0h0m-2 0h0m9 0h0m-6 0h0m5 19h0m-2 0h0m1 0h0m3 6h0m-6 0h0m7 8h0m-2 0h0m1 3h0m-2 8h0m-6 0h0m0 13h0m3 30h0m3 3h0m-3 16h0m-4 23h0m0 3h0m1 2h0m9 3h0m-2 10h0m-5 2h0m4 0h0m2 1h0m-4 6h0m1 3h0m-3 5h0m7 10h0m-7 16h0m6 4h0m-5 5h0m-5 5h0m5 11h0m-4 5h0m8 2h0m-9 8h0m0 1h0m5 9h0m-5 5h0m3 5h0m1 2h0m-4 1h0m5 10h0m3 7h0m2 0h0m-10 5h0m5 5h0m0 10h0m-2 5h0m-3 5h0m4 31h0m5 3h0m-3 10h0m-1 11h0m-2 18h0m6 33h0m-8 8h0m8 7h0m-8 13h0m7 21h0m1 8h0m-8 19h0m3 48h0m-4 32h0m20-67h0m-7-16h0m10-53h0m-1-132h0m-4-1h0m4-7h0m-4-22h0m4-38h0m-2-3h0m-4-5h0m-2-45h0m5-36h0m2-7h0m-6-2h0m-3 0h0m2-8h0m0-1h0m1-13h0m5-10h0m-8-3h0m7-13h0m0-5h0m-2-2h0m-3-2h0m6-16h0m-1-11h0m2-4h0m-2-7h0m-6 0h0m6-3h0m-4-5h0m4-25h0m-6 0h0m3 0h0m-2 0h0m9 0h0m-2 0h0m-1 0h0m-2 0h0m4 0h0m-10 0h0m13 0h0" stroke="#BEBEBE" stroke-width="3.4" stroke-linecap="round" fill="none"/>
<path transform="scale(0.5)" d="M542 2676h0m6-181h0m-4-110h0m5-20h0m-6-42h0m5-38h0m2-35h0m-5-8h0m-2-4h0m6-21h0m-7-36h0m1-27h0m7-38h0m-6 0h0m1 0h0m-3 0h0m4 0h0m3 0h0m10 0h0m-2 0h0m-1 0h0m4 0h0m-6 0h0m9 0h0m-8 0h0m3 0h0m-1 33h0m-2 9h0m5 16h0m1 3h0m2 1h0m-3 18h0m2 50h0m-1 5h0m-7 10h0m7 40h0m2 12h0m-10 41h0m3 14h0m6 15h0m-1 64h0m1 23h0m-6 16h0m2 30h0m-2 74h0m-1 40h0m8 33h0m4-20h0m8-23h0m-10-1h0m4 0h0m5-16h0m0-21h0m1-14h0m-5-28h0m-4-14h0m5-22h0m2-1h0m0-23h0m0-13h0m0-2h0m-5-9h0m6-14h0m1-6h0m-1-26h0m-6-1h0m7-4h0m-8-18h0m1-5h0m-1-21h0m3-10h0m1-3h0m3-1h0m-1-2h0m-7-50h0m3-33h0m2-5h0m3-12h0m-7-3h0m7-1h0m-7-1h0m4-3h0m-6-4h0m5-2h0m-6-4h0m1-3h0m-1-1h0m11-2h0m-7-4h0m-1-3h0m-2-5h0m7-1h0m0-3h0m3-1h0m0-1h0m0-4h0m-6-26h0m-1-1h0m4-6h0m-7-6h0m3 0h0m-1-4h0m8 0h0m-2-6h0m-8-1h0m1-6h0m6-8h0m2 0h0m-3-19h0m-3 0h0m4 0h0m-6 0h0m7 0h0m-3 0h0m-6 0h0m16 0h0m7 0h0m-6 0h0m-2 0h0m5 0h0m-8 0h0m7 0h0m1 19h0m-4 0h0m4 6h0m2 0h0m-10 0h0m10 1h0m1 0h0m-8 1h0m7 4h0m1 0h0m-6 1h0m3 1h0m-7 0h0m10 0h0m-6 0h0m6 1h0m-3 8h0m-2 2h0m2 2h0m-6 2h0m1 2h0m1 3h0m2 10h0m1 8h0m-6 3h0m8 0h0m1 2h0m0 2h0m-9 2h0m4 1h0m2 3h0m-2 2h0m-5 2h0m7 2h0m0 2h0m1 4h0m-1 3h0m-5 3h0m2 1h0m6 6h0m1 2h0m-3 8h0m-2 14h0m2 5h0m-5 1h0m3 6h0m1 3h0m-1 7h0m5 2h0m-6 5h0m-4 6h0m-1 1h0m10 3h0m-3 2h0m4 0h0m-10 1h0m-1 1h0m1 6h0m7 0h0m-3 1h0m-5 2h0m3 4h0m6 4h0m-4 1h0m-3 2h0m6 0h0m2 0h0m-5 2h0m2 2h0m-7 1h0m7 0h0m-4 5h0m8 2h0m-5 4h0m4 1h0m-2 6h0m0 3h0m-8 14h0m7 0h0m-4 2h0m0 3h0m7 1h0m-9 2h0m6 5h0m2 2h0m-7 4h0m6 0h0m2 5h0m-1 2h0m0 1h0m-8 4h0m8 1h0m2 3h0m0 10h0m0 4h0m-1 1h0m-1 1h0m-1 1h0m3 0h0m-1 3h0m-2 2h0m-8 9h0m1 3h0m7 1h0m-4 3h0m5 1h0m-9 1h0m2 11h0m7 4h0m-2 5h0m4 1h0m-10 14h0m0 4h0m8 4h0m-4 2h0m6 2h0m-5 0h0m4 11h0m-5 9h0m1 13h0m3 14h0m-2 0h0m-4 6h0m7 2h0m0 3h0m-1 3h0m1 5h0m-5 5h0m-2 4h0m-1 12h0m2 24h0m-2 11h0m8 4h0m-5 0h0m4 7h0m-1 5h0m-3 8h0m6 5h0m-1 2h0m-10 7h0m5 9h0m-5 0h0m9 11h0m1 21h0m12 23h0m-1-2h0m-5-5h0m5-4h0m-5-5h0m1-10h0m2 0h0m0-2h0m1-12h0m2-1h0m-2-1h0m-5-6h0m4-6h0m0-4h0m1-6h0m-5-1h0m6-7h0m-7-9h0m8-3h0m-9-4h0m8 0h0m-4-2h0m3-4h0m2-7h0m0-2h0m-10-4h0m9-5h0m-8 0h0m7-1h0m2-1h0m-6-3h0m6-3h0m-8-1h0m6-1h0m-8-10h0m11 0h0m-5-1h0m-6-2h0m4 0h0m6-4h0m-6-3h0m6-11h0m-1-5h0m0-3h0m-2-3h0m0-2h0m-6 0h0m7-1h0m-6-1h0m8-1h0m-1-2h0m-5-1h0m-1-6h0m3-1h0m1-1h0m0-2h0m3-2h0m-3-6h0m3-1h0m-4-1h0m-4 0h0m-1-2h0m4-3h0m1 0h0m-4-2h0m8-2h0m-3 0h0m0-2h0m-2-2h0m2-1h0m-1-1h0m3-1h0m-6-1h0m4-3h0m0-2h0m1-1h0m-7-1h0m9 0h0m-7-5h0m3-6h0m5-4h0m-1-2h0m-2-2h0m-5-2h0m2-3h0m1-8h0m1-1h0m-6 0h0m3-3h0m-2-3h0m3-2h0m2-6h0m-1-5h0m2-4h0m-8 0h0m6-2h0m-4-2h0m3 0h0m1-4h0m-3-7h0m8-2h0m-5 0h0m1-2h0m2-3h0m-9-3h0m7-1h0m0-4h0m-3 0h0m3-1h0m-4-4h0m1-4h0m5-1h0m2-3h0m-3-2h0m-1-2h0m-2-1h0m3 0h0m3-1h0m-3-1h0m1-8h0m-3-1h0m4-2h0m0-1h0m-5-1h0m3-5h0m-2 0h0m-6-4h0m5-1h0m-2-1h0m1-1h0m7-3h0m-7-1h0m7 0h0m0-4h0m-4-1h0m-3-2h0m1-3h0m-3-1h0m8-1h0m-9 0h0m0-3h0m9-3h0m1-3h0m-8-1h0m7 0h0m-9-1h0m0-3h0m7-1h0m-3-3h0m-4-2h0m5-2h0m-5-1h0m3-1h0m1-1h0m-4-5h0m0-3h0m2-2h0m6-1h0m-6-6h0m-3-5h0m3-4h0m6 0h0m-6-1h0m6-3h0m-1-3h0m-1-1h0m-7-1h0m7-7h0m3-5h0m-2 0h0m-5-3h0m5-2h0m-2 0h0m-3-2h0m2 0h0m3-3h0m-5-1h0m4 0h0m-7-5h0m8-2h0m1-2h0m-5-5h0m-2 0h0m-1 0h0m8 0h0m-4-3h0m4-3h0m-5-3h0m-2-2h0m3 0h0m6-3h0m-3 0h0m2-1h0m1 0h0m-2 0h0m-6 0h0m4-3h0m0-4h0m3-1h0m-2-7h0m-6-1h0m2-5h0m1-2h0m5-3h0m0-3h0m-2-3h0m-2-1h0m-4-3h0m6-1h0m-8 0h0m5-1h0m3 0h0m3-1h0m-7-3h0m-2 0h0m2-2h0m4 0h0m1-1h0m2-2h0m0-2h0m-8 0h0m8-4h0m-3 0h0m-4-1h0m3-1h0m3-2h0m1 0h0m-6-3h0m4-7h0m-4 0h0m5 0h0m-3-3h0m0-4h0m-5 0h0m3-1h0m-1-2h0m4-2h0m-3-3h0m1-6h0m-1 0h0m0-19h0m-2 0h0m3 0h0m-6 0h0m10 0h0m-6 0h0m9 0h0m4 0h0m5 0h0m-2 0h0m-8 0h0m9 0h0m-6 0h0m3 0h0m5 0h0m0 19h0m-11 0h0m9 0h0m-6 0h0m-2 0h0m3 6h0m-2 1h0m9 1h0m-4 2h0m4 0h0m-6 0h0m5 2h0m0 1h0m0 1h0m-8 1h0m0 1h0m8 3h0m-2 0h0m-6 1h0m-1 1h0m2 0h0m1 3h0m1 2h0m-2 3h0m-3 0h0m1 1h0m10 1h0m-7 1h0m0 3h0m7 0h0m-4 3h0m-1 6h0m5 4h0m-2 1h0m1 2h0m-7 3h0m8 0h0m-9 3h0m2 0h0m-2 2h0m5 2h0m-5 4h0m2 1h0m-2 0h0m0 2h0m7 0h0m-3 0h0m-2 0h0m7 0h0m-3 0h0m-8 1h0m3 2h0m-1 0h0m1 2h0m-3 4h0m5 0h0m6 1h0m-4 1h0m-1 2h0m-4 2h0m-1 1h0m3 1h0m5 1h0m-1 0h0m-2 2h0m-6 2h0m6 0h0m-2 1h0m1 3h0m-1 2h0m6 0h0m-2 2h0m-6 1h0m5 0h0m-3 6h0m-2 0h0m5 0h0m0 2h0m2 2h0m-1 1h0m-2 0h0m-2 1h0m7 0h0m-5 2h0m-3 1h0m5 6h0m-8 0h0m1 0h0m10 1h0m-6 0h0m1 2h0m5 0h0m-6 0h0m5 2h0m-5 1h0m-5 1h0m8 1h0m-2 1h0m3 4h0m-5 0h0m-2 1h0m1 0h0m-2 1h0m5 2h0m3 1h0m-1 0h0m-2 3h0m-1 2h0m4 2h0m-8 0h0m5 1h0m3 1h0m0 1h0m-3 1h0m-3 0h0m4 3h0m0 1h0m-6 1h0m7 2h0m-1 0h0m-2 4h0m-5 8h0m4 1h0m4 2h0m-7 1h0m4 0h0m2 1h0m1 2h0m-5 0h0m4 0h0m-2 2h0m6 1h0m-3 1h0m3 2h0m-8 2h0m-2 2h0m6 2h0m2 3h0m2 1h0m-9 4h0m3 0h0m6 2h0m-5 1h0m4 2h0m-2 0h0m-8 2h0m10 1h0m-7 1h0m-3 1h0m9 1h0m2 2h0m-9 0h0m1 1h0m8 0h0m-4 3h0m-4 1h0m3 4h0m-1 0h0m2 1h0m3 1h0m0 3h0m-1 3h0m-6 0h0m4 8h0m4 8h0m-3 2h0m-6 1h0m6 0h0m2 2h0m-2 0h0m1 7h0m2 0h0m0 4h0m-3 1h0m2 4h0m1 3h0m-10 0h0m9 0h0m0 1h0m-8 1h0m-2 1h0m5 0h0m1 0h0m5 3h0m-7 1h0m-1 1h0m-1 0h0m-1 2h0m7 1h0m-1 0h0m3 3h0m-3 1h0m2 4h0m2 2h0m-11 0h0m11 3h0m-8 0h0m4 0h0m-4 1h0m7 2h0m-3 0h0m1 6h0m-5 0h0m3 0h0m0 1h0m-1 1h0m0 2h0m2 1h0m4 0h0m-6 2h0m3 1h0m-1 0h0m0 1h0m-4 2h0m-2 0h0m9 1h0m-10 1h0m7 2h0m-4 1h0m3 0h0m4 0h0m-5 2h0m4 1h0m-1 1h0m-1 0h0m3 0h0m1 0h0m-5 1h0m1 2h0m-2 0h0m1 3h0m-1 0h0m-1 2h0m1 3h0m-3 0h0m-2 0h0m9 2h0m1 1h0m-10 1h0m10 1h0m-4 0h0m0 2h0m-5 0h0m7 2h0m1 0h0m-3 1h0m-2 3h0m-2 0h0m-1 2h0m8 1h0m-4 1h0m-2 0h0m8 2h0m-1 0h0m-10 3h0m10 1h0m-7 1h0m8 1h0m-8 0h0m4 0h0m-3 2h0m7 0h0m-4 0h0m-4 1h0m-1 1h0m4 4h0m5 1h0m-1 7h0m0 1h0m1 1h0m-6 1h0m4 2h0m2 2h0m-11 1h0m2 2h0m9 1h0m-11 0h0m11 3h0m-1 2h0m-3 3h0m3 4h0m-3 1h0m2 3h0m-6 0h0m2 2h0m-3 2h0m3 4h0m4 0h0m-1 1h0m2 3h0m-8 1h0m3 2h0m6 0h0m-4 3h0m3 0h0m-4 1h0m-4 2h0m5 0h0m4 1h0m-11 2h0m9 0h0m2 0h0m-4 4h0m-2 2h0m-5 0h0m6 1h0m-3 1h0m-3 0h0m11 1h0m0 1h0m-11 1h0m11 1h0m-1 0h0m-7 1h0m0 2h0m0 1h0m8 0h0m-1 0h0m1 1h0m-2 1h0m-1 4h0m2 2h0m1 1h0m0 2h0m-10 3h0m4 1h0m-3 1h0m-2 1h0m5 1h0m-3 2h0m2 1h0m-3 0h0m-1 0h0m6 2h0m-4 2h0m3 0h0m6 2h0m-1 3h0m-1 3h0m-4 2h0m-1 2h0m5 1h0m1 3h0m-1 1h0m-6 0h0m-3 1h0m11 2h0m-3 1h0m-2 0h0m-2 1h0m6 1h0m-2 0h0m0 1h0m2 1h0m1 0h0m-10 1h0m2 2h0m5 2h0m0 1h0m-6 0h0m9 2h0m0 1h0m-5 3h0m5 0h0m-1 0h0m-7 2h0m4 1h0m0 2h0m-5 4h0m9 4h0m-6 0h0m-1 2h0m1 1h0m-3 1h0m7 0h0m1 1h0m-5 1h0m5 0h0m0 2h0m-3 1h0m-7 0h0m0 1h0m11 3h0m-9 0h0m3 3h0m-2 1h0m5 1h0m-3 3h0m3 0h0m1 0h0m-9 2h0m10 1h0m-3 2h0m-6 1h0m5 1h0m-2 2h0m7 8h0m-5 1h0m2 2h0m1 1h0m-1 0h0m0 1h0m-8 4h0m11 13h0m-1 17h0m13 1h0m-9-3h0m8-2h0m-1 0h0m-5-1h0m7-1h0m-2-2h0m-4-2h0m4 0h0m-4-1h0m-5-2h0m9 0h0m2-1h0m-1-5h0m-2 0h0m-6 0h0m1-1h0m4 0h0m-4-1h0m6-3h0m-4 0h0m3-1h0m-5-1h0m-2-1h0m9 0h0m0-1h0m-2-1h0m-1-1h0m-3 0h0m7 0h0m-8 0h0m5-1h0m-1-1h0m2-1h0m2 0h0m-7-1h0m1 0h0m5 0h0m-9-1h0m8-1h0m1 0h0m1-4h0m-9-1h0m1 0h0m3 0h0m5 0h0m0-1h0m-8 0h0m4 0h0m1-1h0m1-1h0m2-1h0m-10 0h0m9 0h0m-5-1h0m5 0h0m-10 0h0m7 0h0m-1 0h0m-1-2h0m-5 0h0m0-1h0m8 0h0m-3-3h0m-2 0h0m8 0h0m-3-1h0m-6-1h0m5 0h0m3-1h0m-7 0h0m8-1h0m-8 0h0m6 0h0m-2 0h0m4-1h0m-5-1h0m5-1h0m-6-1h0m-5 0h0m8-1h0m2-1h0m0-1h0m-4 0h0m5-1h0m-10-1h0m-1 0h0m9 0h0m2-1h0m-6 0h0m2-1h0m-3-2h0m4-2h0m-6 0h0m2-1h0m5 0h0m-6 0h0m1-1h0m3-2h0m-2 0h0m-5-1h0m9 0h0m-7-1h0m2-1h0m7 0h0m-8 0h0m0-1h0m-1-1h0m9 0h0m-4-1h0m3 0h0m-8 0h0m0-1h0m9-1h0m-1 0h0m-9-1h0m4 0h0m-5-2h0m11 0h0m-1 0h0m-10-1h0m6-1h0m1-1h0m2-2h0m2-2h0m-10 0h0m4 0h0m5 0h0m0-2h0m-4-1h0m5 0h0m-6 0h0m6-3h0m-9-1h0m7-1h0m1 0h0m-7-1h0m3 0h0m4 0h0m-5-1h0m3-1h0m-8-1h0m9 0h0m-2-1h0m-2-1h0m2-2h0m-1 0h0m4-1h0m-3-1h0m-2-1h0m4 0h0m-5 0h0m7-2h0m-5-3h0m3-3h0m-4-1h0m6-1h0m-8 0h0m4-2h0m-1-1h0m0-2h0m3 0h0m-1-2h0m-5-1h0m8-1h0m-3 0h0m-1 0h0m2-1h0m-4-1h0m-2-1h0m2 0h0m3 0h0m-2-1h0m1 0h0m3-1h0m-1-3h0m-4 0h0m5-2h0m1-1h0m-10-1h0m9 0h0m-4-1h0m-5 0h0m8 0h0m-3-2h0m-5 0h0m1 0h0m1-1h0m1 0h0m1 0h0m4 0h0m-5-1h0m3-1h0m2-2h0m1-2h0m-4-1h0m-4 0h0m-2-1h0m6 0h0m-1 0h0m3-5h0m-2 0h0m-1-1h0m3-3h0m-7-1h0m7-1h0m1 0h0m1 0h0m-7-2h0m2-1h0m3 0h0m-1 0h0m4 0h0m-7-1h0m3 0h0m-2 0h0m3-1h0m-6-4h0m5 0h0m-3 0h0m4-1h0m2-1h0m1-1h0m-3-1h0m1 0h0m-4-2h0m2 0h0m-2-1h0m-1 0h0m-3-3h0m5-1h0m-5 0h0m-1-2h0m3 0h0m1-2h0m5 0h0m-8-1h0m3 0h0m7 0h0m-10-1h0m7-1h0m1 0h0m-2 0h0m-5-2h0m7 0h0m1-1h0m-7-1h0m2-1h0m-3-1h0m9-1h0m-3-1h0m-2-1h0m1-3h0m-6 0h0m5-2h0m-6-1h0m9 0h0m1-5h0m-1-1h0m-4-1h0m-3 0h0m-2-1h0m5-1h0m2-1h0m1 0h0m-6 0h0m7-1h0m-5 0h0m7-1h0m-5-2h0m5 0h0m-1-1h0m-8-2h0m4 0h0m-1-1h0m-5-1h0m10-4h0m-4 0h0m-2 0h0m4-1h0m2 0h0m-10-1h0m8-1h0m-2-1h0m0-1h0m-1-1h0m-3-4h0m-2 0h0m9 0h0m-5 0h0m7-2h0m-2-1h0m-5 0h0m-3-2h0m6 0h0m3-1h0m-2-1h0m-3 0h0m-5 0h0m8-1h0m-4-1h0m-2 0h0m7 0h0m2-1h0m-10-1h0m4 0h0m5-1h0m-7 0h0m4-1h0m3-1h0m-8 0h0m2-1h0m-2 0h0m5 0h0m-3-1h0m4 0h0m-4-2h0m6 0h0m-3-1h0m-2 0h0m-3-1h0m6-4h0m-6-1h0m-2-1h0m10 0h0m-2 0h0m-3-1h0m6-2h0m-6 0h0m1-1h0m-2 0h0m-4-1h0m8-1h0m-6-4h0m9-2h0m-11-1h0m3 0h0m1 0h0m-2-1h0m8-1h0m-4-2h0m5-4h0m-8-1h0m8 0h0m-8-1h0m3 0h0m4-1h0m-4-1h0m1-1h0m-2-1h0m0-1h0m1 0h0m4 0h0m-3-1h0m4 0h0m-6 0h0m-5-1h0m1-4h0m9-1h0m-2-1h0m3-1h0m-1 0h0m-1 0h0m-3 0h0m2-3h0m2-2h0m-7-2h0m5-2h0m-2 0h0m-5-1h0m5 0h0m3 0h0m-8-1h0m2-2h0m1-3h0m1-1h0m-5-1h0m1-3h0m8-1h0m-5-1h0m-1-1h0m3 0h0m-5 0h0m9-2h0m-4-1h0m3 0h0m-9-2h0m8-2h0m-5-1h0m4-2h0m-6 0h0m4-1h0m1-1h0m3-2h0m-1-1h0m2-1h0m-10-2h0m3-2h0m-2 0h0m9-1h0m1 0h0m-6 0h0m-3-1h0m-2 0h0m5-2h0m4 0h0m-7-3h0m7-1h0m2 0h0m-4-2h0m4-1h0m-2-1h0m-6-3h0m1-1h0m-4 0h0m5-2h0m-2 0h0m-1-1h0m9-1h0m-11-2h0m10-2h0m-7 0h0m8-2h0m-3 0h0m-5 0h0m8-4h0m-10-1h0m1-2h0m-2-1h0m9-1h0m-3 0h0m-2-3h0m-1 0h0m-2-3h0m7-1h0m-3-1h0m-3 0h0m6-2h0m-5 0h0m-3-2h0m9-1h0m0-1h0m-8 0h0m8-1h0m1 0h0m-2-1h0m3-2h0m-1-1h0m1-1h0m-1-2h0m-9-1h0m1-6h0m9-3h0m-5-1h0m-6 0h0m1 0h0m10-3h0m-6 0h0m-4-1h0m5 0h0m1-1h0m-7-2h0m9 0h0m-7-2h0m5 0h0m0-1h0m4-1h0m-2-1h0m1-3h0m-2 0h0m-7-1h0m6-1h0m3 0h0m-2 0h0m1 0h0m-3 0h0m1-1h0m4-1h0m-4 0h0m-2-2h0m5-2h0m-7 0h0m0-1h0m1-1h0m2-1h0m-1-1h0m-4-3h0m2 0h0m2-7h0m3 0h0m-8 0h0m5-1h0m-1-5h0m3 0h0m-5-1h0m8-1h0m-1-1h0m-8 0h0m1 0h0m8-1h0m-5-1h0m5-4h0m-7-4h0m4 0h0m0-3h0m-3-1h0m4-1h0m-6 0h0m9 0h0m-2-1h0m-7-2h0m9 0h0m-6-1h0m-5-3h0m11-5h0m-10 0h0m10-2h0m-8 0h0m8-2h0m-1-1h0m1-1h0m-5-1h0m2-1h0m-8 0h0m9 0h0m-4-1h0m5-1h0m-6 0h0m2-1h0m3-1h0m-9-1h0m3 0h0m8-1h0m-5-1h0m5-3h0m-6-2h0m3 0h0m-8 0h0m11-3h0m-1 0h0m-1-2h0m-7-2h0m-2-1h0m1-2h0m2-1h0m5 0h0m2-3h0m-8 0h0m9-2h0m-2-1h0m2 0h0m-6 0h0m-3-1h0m1 0h0m8 0h0m-1-1h0m-10-1h0m6-1h0m-5-2h0m1 0h0m0-1h0m6-1h0m-8-3h0m8-3h0m-5 0h0m-3-2h0m1-1h0m2-2h0m1-2h0m-1-2h0m6-1h0m-6-2h0m-1-1h0m3-1h0m6-2h0m-7-1h0m3 0h0m-6-2h0m5-1h0m1 0h0m3-1h0m-2 0h0m-4 0h0m-1-1h0m2-1h0m2-1h0m3-2h0m-1-1h0m-4-1h0m4 0h0m-6-1h0m7-1h0m-7-1h0m-3-1h0m0-1h0m0-1h0m1-1h0m7 0h0m-5 0h0m-3-3h0m2-5h0m-1-6h0m7 0h0m-6-19h0m9 0h0m-2 0h0m-4 0h0m-2 0h0m3 0h0m-2 0h0m3 0h0m3 0h0m7 0h0m3 0h0m-2 0h0m-3 0h0m1 0h0m-2 0h0m2 19h0m-1 6h0m5 0h0m-6 0h0m-2 0h0m4 1h0m-1 6h0m-3 1h0m3 3h0m3 1h0m-4 1h0m2 1h0m1 0h0m-2 1h0m-2 0h0m7 0h0m-7 1h0m7 1h0m-7 1h0m7 3h0m-4 1h0m3 3h0m-6 4h0m7 2h0m-5 0h0m6 1h0m-3 3h0m-2 0h0m4 4h0m-3 2h0m-1 2h0m-2 2h0m1 1h0m6 2h0m-8 0h0m2 2h0m2 1h0m-2 2h0m1 1h0m-1 0h0m1 1h0m3 2h0m-4 2h0m5 0h0m-6 2h0m2 3h0m-4 3h0m9 0h0m-7 1h0m7 1h0m-6 1h0m-3 0h0m4 1h0m1 1h0m-5 3h0m7 2h0m-5 2h0m4 0h0m-5 3h0m8 2h0m-6 2h0m7 2h0m-1 1h0m-7 2h0m6 1h0m1 1h0m1 0h0m-9 1h0m-1 1h0m10 0h0m-6 1h0m3 2h0m2 1h0m-5 0h0m5 2h0m-7 1h0m-1 1h0m-1 3h0m7 0h0m-3 1h0m0 2h0m6 0h0m-6 6h0m3 0h0m-7 1h0m8 1h0m2 1h0m-6 1h0m-3 1h0m2 2h0m3 0h0m1 1h0m-2 2h0m4 1h0m-7 3h0m4 2h0m-5 2h0m1 1h0m8 1h0m-3 3h0m0 6h0m-1 0h0m2 1h0m-8 0h0m5 0h0m2 1h0m0 1h0m-3 1h0m4 1h0m-6 1h0m7 0h0m-3 0h0m4 1h0m-6 1h0m3 0h0m-6 0h0m0 1h0m5 1h0m0 1h0m-1 1h0m2 0h0m-2 1h0m-2 2h0m7 2h0m-9 2h0m4 3h0m-2 0h0m4 0h0m2 1h0m-6 3h0m6 1h0m-7 3h0m-1 1h0m9 1h0m1 1h0m-5 2h0m-2 1h0m6 0h0m-2 0h0m1 2h0m-5 0h0m5 1h0m-3 2h0m0 1h0m-2 0h0m-1 1h0m7 1h0m-2 0h0m-2 2h0m-5 0h0m9 0h0m-5 1h0m4 3h0m-5 1h0m-1 1h0m1 1h0m-4 1h0m11 1h0m-10 1h0m1 0h0m6 0h0m-6 2h0m4 1h0m2 0h0m-6 1h0m2 1h0m7 1h0m-6 0h0m6 2h0m-9 1h0m3 0h0m-2 0h0m3 1h0m4 1h0m-5 0h0m5 2h0m-8 0h0m1 1h0m4 0h0m-1 1h0m-4 1h0m9 0h0m-5 0h0m-5 1h0m5 0h0m-3 1h0m5 1h0m-6 1h0m-2 0h0m4 1h0m7 1h0m-2 0h0m0 1h0m-8 0h0m9 0h0m-9 1h0m7 0h0m-6 0h0m9 0h0m-2 0h0m-1 1h0m-6 0h0m1 3h0m-2 1h0m1 1h0m7 0h0m-1 0h0m0 1h0m2 0h0m-7 1h0m-1 2h0m8 0h0m0 2h0m-5 1h0m4 1h0m-9 1h0m3 1h0m4 0h0m-5 2h0m7 0h0m-6 1h0m3 1h0m-5 0h0m9 0h0m-9 2h0m9 0h0m-5 1h0m4 0h0m1 3h0m-3 0h0m2 4h0m1 1h0m1 0h0m-11 1h0m10 2h0m-8 0h0m5 1h0m1 0h0m-1 1h0m4 1h0m-3 1h0m-6 2h0m5 1h0m4 1h0m-8 1h0m-1 0h0m-2 0h0m7 3h0m-6 0h0m6 2h0m-6 0h0m1 0h0m7 0h0m-4 6h0m-4 1h0m9 0h0m1 0h0m-5 0h0m-2 0h0m-2 1h0m4 0h0m2 1h0m-3 1h0m-1 0h0m6 1h0m-5 1h0m-3 1h0m-1 0h0m7 1h0m-3 0h0m-5 1h0m11 1h0m-2 0h0m-4 2h0m-2 2h0m-3 1h0m5 1h0m-2 1h0m3 0h0m2 2h0m-5 2h0m2 0h0m0 1h0m-2 0h0m4 1h0m3 0h0m-5 0h0m-1 2h0m7 1h0m-5 2h0m5 1h0m0 1h0m-2 1h0m2 0h0m-5 1h0m-3 0h0m0 3h0m-3 0h0m4 1h0m3 0h0m-4 1h0m7 0h0m-3 1h0m-6 0h0m9 1h0m-10 0h0m6 1h0m4 1h0m1 0h0m-2 0h0m-7 1h0m7 1h0m-5 3h0m-1 0h0m7 0h0m0 1h0m-3 1h0m-2 0h0m3 1h0m1 0h0m-3 0h0m4 1h0m-10 0h0m9 0h0m1 1h0m0 2h0m-3 1h0m-3 1h0m-2 2h0m6 0h0m3 2h0m-9 1h0m6 1h0m-7 0h0m5 2h0m-6 1h0m3 0h0m3 2h0m1 1h0m-7 0h0m6 2h0m-3 0h0m3 2h0m-6 1h0m9 0h0m-2 0h0m-2 2h0m4 0h0m-2 2h0m-5 0h0m3 0h0m6 1h0m-5 0h0m-1 1h0m2 0h0m1 0h0m-1 1h0m-6 1h0m1 0h0m-2 1h0m4 0h0m6 0h0m-5 1h0m1 1h0m2 0h0m-4 0h0m-2 2h0m-2 1h0m10 0h0m-2 0h0m0 1h0m-1 2h0m-6 0h0m9 0h0m-2 0h0m-8 0h0m9 2h0m-8 2h0m0 1h0m5 1h0m-4 0h0m8 1h0m-2 1h0m-7 1h0m-1 0h0m9 1h0m-3 0h0m-3 1h0m1 0h0m0 1h0m4 0h0m-3 0h0m4 0h0m-3 1h0m0 1h0m2 1h0m-4 1h0m5 0h0m-6 1h0m4 0h0m-2 1h0m-4 0h0m7 0h0m-4 1h0m6 0h0m1 0h0m-1 1h0m-5 1h0m1 0h0m2 1h0m1 1h0m-5 3h0m4 1h0m-1 0h0m-7 1h0m11 0h0m-6 0h0m4 0h0m-7 1h0m1 0h0m4 2h0m0 2h0m-1 1h0m-3 0h0m-3 2h0m1 0h0m7 2h0m-8 0h0m11 1h0m-1 0h0m-7 2h0m-2 1h0m7 0h0m-6 0h0m-1 1h0m9 0h0m-6 2h0m6 0h0m1 1h0m-6 0h0m2 0h0m1 1h0m-8 0h0m10 0h0m-2 1h0m-6 0h0m-2 1h0m11 0h0m-8 2h0m8 1h0m-7 1h0m6 0h0m-6 1h0m5 1h0m0 1h0m-1 1h0m-7 1h0m4 1h0m1 0h0m1 1h0m4 0h0m-6 0h0m-2 1h0m7 0h0m-6 1h0m6 0h0m-8 0h0m1 1h0m7 1h0m-10 1h0m3 0h0m7 0h0m-2 0h0m-1 1h0m-6 0h0m7 0h0m-6 0h0m6 1h0m-6 0h0m2 1h0m3 0h0m1 0h0m-8 1h0m3 1h0m-1 0h0m4 1h0m-4 0h0m1 1h0m7 0h0m0 1h0m-4 2h0m5 1h0m-4 2h0m-2 0h0m-2 1h0m-3 0h0m11 0h0m-2 0h0m-6 1h0m7 0h0m-10 0h0m3 1h0m-2 0h0m-1 0h0m9 0h0m-8 1h0m-1 0h0m10 2h0m-8 0h0m3 0h0m1 0h0m3 1h0m-2 1h0m-6 0h0m10 0h0m-6 0h0m-1 1h0m-1 0h0m-1 0h0m9 0h0m-10 1h0m10 0h0m-10 1h0m5 1h0m2 1h0m-6 0h0m5 0h0m0 1h0m4 1h0m-7 0h0m-3 0h0m10 1h0m-6 0h0m3 1h0m-1 0h0m-5 1h0m2 1h0m5 1h0m-6 0h0m4 0h0m4 1h0m-8 0h0m5 1h0m-7 0h0m5 1h0m3 1h0m2 1h0m-2 0h0m-8 0h0m9 0h0m0 1h0m-2 0h0m-8 0h0m9 0h0m-5 0h0m3 0h0m2 1h0m-5 0h0m4 0h0m-2 1h0m1 0h0m1 2h0m-5 0h0m-3 1h0m3 0h0m-2 0h0m6 1h0m-5 1h0m4 0h0m2 2h0m-2 0h0m4 0h0m-10 2h0m9 0h0m-1 2h0m-6 1h0m2 0h0m6 1h0m-5 0h0m-3 1h0m9 0h0m-8 0h0m-2 0h0m9 2h0m-6 0h0m7 0h0m-5 1h0m-3 0h0m4 0h0m3 0h0m-8 0h0m-2 0h0m4 2h0m-4 0h0m11 0h0m-3 1h0m-1 1h0m0 1h0m2 1h0m-5 1h0m4 0h0m-1 2h0m3 1h0m-3 2h0m1 0h0m-5 1h0m4 0h0m2 0h0m-3 1h0m-3 0h0m-2 1h0m9 0h0m-2 0h0m-6 0h0m3 0h0m-1 1h0m4 0h0m3 0h0m-2 0h0m1 1h0m-8 0h0m-2 0h0m4 1h0m2 1h0m-5 1h0m6 2h0m-6 0h0m10 0h0m-6 0h0m4 0h0m-3 0h0m1 1h0m-6 0h0m9 0h0m-1 0h0m0 1h0m1 1h0m-4 0h0m-3 0h0m4 1h0m-6 1h0m-1 0h0m9 0h0m-6 0h0m4 0h0m-3 1h0m1 1h0m5 1h0m-2 1h0m-2 0h0m-2 1h0m7 0h0m-11 0h0m7 1h0m-1 0h0m-4 1h0m4 0h0m1 0h0m-6 1h0m9 0h0m-10 0h0m4 0h0m-2 1h0m4 0h0m4 2h0m-5 0h0m1 0h0m2 1h0m1 1h0m-3 0h0m-1 1h0m3 1h0m1 1h0m-6 0h0m7 0h0m-2 1h0m-4 1h0m-1 0h0m8 1h0m-6 0h0m3 0h0m-5 1h0m7 0h0m1 1h0m-2 0h0m1 0h0m-2 0h0m3 1h0m-7 0h0m3 0h0m4 1h0m-4 0h0m-7 1h0m9 0h0m-8 0h0m1 1h0m3 0h0m4 0h0m-8 0h0m1 1h0m2 1h0m4 0h0m1 1h0m1 0h0m-2 0h0m3 0h0m0 1h0m-11 1h0m5 0h0m-2 1h0m4 0h0m3 0h0m-1 0h0m2 1h0m-7 0h0m3 0h0m1 1h0m3 0h0m-1 1h0m-3 1h0m3 0h0m-1 0h0m0 1h0m-2 0h0m1 1h0m3 0h0m-6 0h0m5 1h0m-1 1h0m-5 0h0m4 0h0m-2 1h0m1 0h0m0 1h0m-6 0h0m7 0h0m-4 1h0m-1 0h0m5 0h0m-6 0h0m9 0h0m-8 1h0m7 0h0m-5 0h0m5 1h0m1 0h0m-2 0h0m-5 1h0m3 0h0m-4 2h0m5 0h0m-2 1h0m-2 0h0m-4 0h0m8 1h0m3 0h0m-8 1h0m-2 0h0m9 0h0m1 0h0m-4 1h0m-6 0h0m9 0h0m-8 0h0m4 1h0m5 1h0m-3 1h0m1 0h0m-3 0h0m-5 1h0m9 0h0m-2 0h0m-5 0h0m4 1h0m4 0h0m-6 0h0m1 0h0m5 1h0m-2 0h0m-6 0h0m1 1h0m3 0h0m-2 0h0m3 1h0m3 0h0m-7 0h0m0 1h0m3 0h0m1 0h0m-2 0h0m4 1h0m-5 0h0m-1 0h0m6 1h0m-6 0h0m1 0h0m-4 0h0m2 1h0m4 0h0m3 0h0m1 0h0m-2 0h0m-9 1h0m11 0h0m-2 0h0m-3 0h0m-2 0h0m-1 0h0m4 0h0m-3 1h0m-2 1h0m9 0h0m-6 0h0m-1 0h0m3 1h0m-2 0h0m3 1h0m1 0h0m-3 0h0m-5 1h0m9 0h0m-3 1h0m3 0h0m-2 0h0m3 0h0m-6 0h0m6 1h0m-4 1h0m3 0h0m-2 1h0m2 0h0m-1 3h0m1 0h0m0 1h0m1 1h0m-2 0h0m14 6h0m-1 0h0m-1-1h0m1 0h0m1 0h0m0-1h0m-2 0h0m-5 0h0m3 0h0m3 0h0m-2 0h0m0-1h0m3 0h0m-2 0h0m1 0h0m-3 0h0m-2-1h0m4 0h0m-3 0h0m1 0h0m3 0h0m-2 0h0m3 0h0m0-1h0m-6 0h0m4 0h0m-3 0h0m-2 0h0m-1 0h0m4 0h0m3 0h0m-2 0h0m-3-1h0m1 0h0m-2 0h0m-1 0h0m4 0h0m-6 0h0m9 0h0m-2 0h0m-6 0h0m-2 0h0m11 0h0m-9-1h0m9 0h0m-6 0h0m4 0h0m-3 0h0m-2 0h0m3 0h0m3 0h0m-2 0h0m0-1h0m-5 0h0m4 0h0m-6 0h0m9 0h0m-6 0h0m-2 0h0m9 0h0m-6 0h0m-3-1h0m-2 0h0m11 0h0m-6 0h0m4 0h0m-3 0h0m-2 0h0m-1 0h0m4 0h0m-6 0h0m9 0h0m-2 0h0m2-1h0m-2 0h0m-8 0h0m11 0h0m-2 0h0m-6 0h0m3 0h0m1 0h0m-5-1h0m-2 0h0m11 0h0m-6 0h0m4 0h0m-3 0h0m-2 0h0m-1 0h0m4 0h0m-6 0h0m9 0h0m0-1h0m-2 0h0m-6 0h0m-2 0h0m11 0h0m-6 0h0m4 0h0m-3 0h0m-2 0h0m3 0h0m4-1h0m-2 0h0m-3 0h0m-2 0h0m-1 0h0m4 0h0m3 0h0m-2 0h0m-6 0h0m6-1h0m-6 0h0m-2 0h0m5 0h0m4 0h0m-5 0h0m3 0h0m3 0h0m-3-1h0m-2 0h0m3 0h0m-2 0h0m-4 0h0m7 0h0m-6 0h0m7 0h0m-6 0h0m4-1h0m-2 0h0m-2 0h0m-3 0h0m7-1h0m3 0h0m-2 0h0m-6 0h0m3 0h0m-2 0h0m-2-1h0m-2 0h0m11 0h0m-5 0h0m-2 0h0m3 0h0m3-1h0m-2 0h0m-6 0h0m9 0h0m-5 0h0m-2 0h0m-1 0h0m-1-1h0m3 0h0m-5 0h0m3 0h0m-2 0h0m9 0h0m-2 0h0m-4 0h0m-3-2h0m7 0h0m1 0h0m-3 0h0m2-1h0m-6 0h0m7 0h0m-3 0h0m-3 0h0m4 0h0m-6 0h0m2-1h0m5 0h0m-6 0h0m3 0h0m-1 0h0m-1-1h0m-2 0h0m2-1h0m4 0h0m3 0h0m-2 0h0m-8 0h0m6 0h0m-2 0h0m-2-1h0m-2 0h0m9 0h0m-6 0h0m4 0h0m3 0h0m-3-1h0m-7 0h0m5 0h0m2-1h0m-1 0h0m1-1h0m-5 0h0m5-1h0m1 0h0m-8 0h0m5 0h0m3-1h0m-2 0h0m-3-1h0m4 0h0m1 0h0m-6 0h0m2-1h0m-2 0h0m1 0h0m5-1h0m-8 0h0m9 0h0m-3-1h0m-1 0h0m-2-1h0m4 0h0m-6 0h0m1-1h0m3 0h0m0-1h0m1 0h0m-6 0h0m1-1h0m-1 0h0m4-1h0m3 0h0m-2 0h0m-4 0h0m1 0h0m-2 0h0m3-1h0m4 0h0m-7 0h0m6 0h0m0-1h0m1-1h0m-3 0h0m0-1h0m-1 0h0m-1 0h0m-2 0h0m7-1h0m-6 0h0m6-1h0m-1-1h0m-2 0h0m-3 0h0m-1 0h0m3-1h0m-3 0h0m5-1h0m0-1h0m2-1h0m-6 0h0m7 0h0m-6 0h0m-2 0h0m5 0h0m-1-1h0m2 0h0m0-1h0m1 0h0m-6 0h0m-1 0h0m5 0h0m0-1h0m1 0h0m-2-1h0m-1 0h0m-1-1h0m2-2h0m-3 0h0m3-2h0m-1 0h0m-2 0h0m1 0h0m-2-1h0m1-1h0m-1 0h0m2-1h0m-2-1h0m3 0h0m2-1h0m1 0h0m-2 0h0m-1 0h0m1-2h0m-2 0h0m2-1h0m-1-1h0m-2 0h0m1-1h0m1-1h0m-2 0h0m1-1h0m0-1h0m-2 0h0m5 0h0m-1 0h0m-4-1h0m3 0h0m2-1h0m1 0h0m-2 0h0m1-1h0m1-1h0m-3 0h0m3-1h0m-4-1h0m-2 0h0m4 0h0m-1 0h0m-1-1h0m-1-1h0m3-1h0m-3-1h0m-1-1h0m4 0h0m-1-1h0m-1-1h0m1 0h0m-2-1h0m4 0h0m-5-2h0m6 0h0m-2-1h0m-2-1h0m3 0h0m1 0h0m-4-1h0m0-1h0m-2 0h0m2-1h0m3 0h0m-4-1h0m3 0h0m0-1h0m-1 0h0m2 0h0m-4-1h0m1 0h0m1 0h0m2-1h0m-1 0h0m-2-5h0m-2 0h0m1-1h0m3-2h0m-3 0h0m3-1h0m-1 0h0m0-2h0m-2 0h0m2-1h0m-2 0h0m4-1h0m-5 0h0m0-1h0m4-2h0m-1 0h0m0-3h0m-3 0h0m1-2h0m4 0h0m-3-1h0m2-1h0m-3-1h0m1-1h0m0-2h0m-1 0h0m3-1h0m-1 0h0m-1-1h0m-2 0h0m5 0h0m0-2h0m-2 0h0m-2 0h0m0-2h0m2-1h0m-2 0h0m2-1h0m2-2h0m-4 0h0m1-1h0m2 0h0m1-1h0m-2 0h0m2-2h0m-3-1h0m1 0h0m-1-1h0m2-1h0m0-1h0m-1 0h0m1-3h0m1-3h0m-3-1h0m1-1h0m1 0h0m-3-2h0m0-1h0m3-1h0m0-1h0m-4 0h0m3-2h0m-3-2h0m3-1h0m0-1h0m-1 0h0m-2 0h0m0-4h0m3-1h0m1-1h0m1 0h0m-1-1h0m0-1h0m-4-6h0m1-1h0m-1-2h0m3-1h0m-1-1h0m2-2h0m-3 0h0m2-4h0m-2 0h0m2-1h0m-3-1h0m2-2h0m-2 0h0m1-10h0m0-2h0m-1-1h0m4 0h0m-3 0h0m2-2h0m-1-2h0m-2-1h0m1-7h0m0-1h0m1-1h0m-1-2h0m-1-1h0m1-5h0m1-1h0m0-6h0m0-1h0m0-2h0m-2 0h0m0-2h0m1-2h0m0-2h0m2-7h0m-3-4h0m3 0h0m-1-4h0m0-2h0m-1 0h0m-1-8h0m0-1h0m0-7h0m1-1h0m-1-3h0m2-2h0m-1-1h0m0-6h0m1-1h0m-1-2h0m-1-4h0m1-2h0m0-9h0m1-7h0m-1-3h0m0-8h0m1 0h0m-2 0h0m0-4h0m0-21h0m1-2h0m-1-4h0m0-2h0m1-2h0m-1-4h0m0-3h0m0-4h0m0-1h0m0-16h0m0-20h0m0-6h0m23 181h0m0 24h0m-1 17h0m0 1h0m1 2h0m0 2h0m0 3h0m-1 1h0m-1 10h0m2 4h0m0 1h0m0 11h0m0 6h0m-2 9h0m0 1h0m0 2h0m0 2h0m0 1h0m1 12h0m0 2h0m-1 8h0m2 2h0m-3 1h0m0 11h0m3 1h0m-2 3h0m-1 5h0m2 0h0m-2 2h0m0 4h0m0 6h0m1 2h0m2 1h0m-1 0h0m-2 2h0m-1 4h0m1 1h0m-1 0h0m3 6h0m1 0h0m-1 1h0m0 1h0m-2 2h0m1 0h0m0 3h0m-1 1h0m0 2h0m0 1h0m2 1h0m1 0h0m-5 0h0m0 1h0m5 0h0m-3 0h0m2 1h0m-1 1h0m-1 3h0m-1 1h0m-1 1h0m1 1h0m3 0h0m1 0h0m-6 0h0m3 1h0m-1 1h0m3 0h0m1 0h0m-2 0h0m-1 0h0m-3 1h0m3 0h0m-3 1h0m1 0h0m5 1h0m-2 0h0m0 2h0m-1 0h0m-4 1h0m7 0h0m-6 0h0m4 0h0m1 0h0m1 1h0m-7 1h0m3 0h0m3 1h0m-6 0h0m7 0h0m-7 1h0m1 0h0m1 0h0m-3 0h0m7 0h0m-6 1h0m1 0h0m4 0h0m-1 0h0m-4 1h0m1 0h0m4 0h0m-5 2h0m5 1h0m-3 0h0m2 1h0m-1 0h0m4 1h0m-6 0h0m-2 0h0m4 0h0m1 1h0m-4 0h0m7 0h0m-6 0h0m4 0h0m-2 0h0m4 1h0m-1 0h0m-7 1h0m7 0h0m-6 0h0m7 0h0m0 1h0m-6 0h0m1 0h0m1 0h0m-6 0h0m9 0h0m1 1h0m-2 0h0m-1 0h0m-6 1h0m7 0h0m-3 0h0m1 0h0m3 0h0m-5 1h0m4 0h0m-1 0h0m-2 0h0m4 0h0m-6 0h0m-2 0h0m0 1h0m9 0h0m-2 0h0m-5 0h0m-3 0h0m4 1h0m4 0h0m-3 0h0m-5 0h0m9 0h0m-2 1h0m-5 0h0m1 0h0m7 0h0m-9 1h0m9 0h0m-6 0h0m4 0h0m-3 0h0m-3 0h0m4 0h0m-6 0h0m9 0h0m-1 1h0m-3 0h0m-3 0h0m4 0h0m-3 0h0m1 0h0m-3 1h0m9 0h0m-6 0h0m1 0h0m-5 0h0m3 0h0m-1 1h0m4 0h0m3 0h0m-8 0h0m6 1h0m1 0h0m1 0h0m-4 0h0m-2 0h0m1 0h0m-4 0h0m4 1h0m4 0h0m-1 0h0m-8 0h0m3 0h0m-2 0h0m9 0h0m-8 0h0m9 0h0m-11 1h0m9 0h0m-6 0h0m4 0h0m-6 0h0m9 0h0m-6 0h0m-2 0h0m3 0h0m6 1h0m-6 0h0m4 0h0m-3 0h0m-6 0h0m7 0h0m-6 0h0m3 0h0m2 1h0m-6 0h0m3 0h0m-2 0h0m9 0h0m-6 0h0m-2 0h0m9 0h0m-6 0h0m4 0h0m-4 1h0m-2 0h0m3 0h0m-6 0h0m7 0h0m-6 0h0m3 0h0m-2 0h0m4 1h0m-6 0h0m3 0h0m4 0h0m-6 0h0m3 0h0m-2 0h0m3 0h0m-3 1h0m-2 0h0m9 0h0m-6 0h0m-2 0h0m3 0h0m1 0h0m3 0h0m-2 0h0m0 1h0m-6 0h0m3 0h0m4 0h0m-6 0h0m1 0h0m10-2h0m4-2h0m-4-1h0m2 0h0m3 0h0m-4-1h0m-1 0h0m5 0h0m1 0h0m2-1h0m-8 0h0m9-1h0m-8 0h0m9 0h0m-6 0h0m-2 0h0m7-1h0m0-1h0m-9 0h0m3 0h0m-2 0h0m3 0h0m7 0h0m-8-1h0m-2-1h0m3 0h0m-2 0h0m0-1h0m8 0h0m-10 0h0m4 0h0m3 0h0m-6 0h0m8-1h0m-7 0h0m5 0h0m4 0h0m-9-1h0m9 0h0m-6 0h0m3 0h0m-2 0h0m-6 0h0m7 0h0m-3 0h0m-3-1h0m9 0h0m-6 0h0m-2 0h0m0-1h0m9 0h0m-6 0h0m-5 0h0m3-1h0m-2 0h0m1 0h0m5 0h0m-2 0h0m6-1h0m-6 0h0m3 0h0m-5 0h0m7 0h0m-10 0h0m2-1h0m7 0h0m-8 0h0m1-1h0m9-1h0m-2 0h0m-9 0h0m5-1h0m4 0h0m-1 0h0m-8 0h0m4-1h0m4-1h0m-8 0h0m2 0h0m4-1h0m4 0h0m-2-1h0m1-2h0m-6 0h0m3-1h0m-4 0h0m2-1h0m1 0h0m-4 0h0m10-1h0m-2-1h0m1 0h0m-2-1h0m-3 0h0m4 0h0m-3 0h0m-6 0h0m0-1h0m4 0h0m4 0h0m-2 0h0m4 0h0m-5-2h0m-5 0h0m1-1h0m-1 0h0m7 0h0m-2 0h0m-2 0h0m-3-1h0m4 0h0m6-1h0m-8 0h0m3 0h0m-3-1h0m6 0h0m-8 0h0m10-1h0m1-1h0m-4-1h0m-2 0h0m5-1h0m1 0h0m-5 0h0m3-1h0m-6 0h0m3 0h0m-1-1h0m3 0h0m-7-2h0m-1 0h0m2 0h0m1 0h0m-3-1h0m10-1h0m-10 0h0m8 0h0m-5-1h0m1 0h0m5 0h0m-7-1h0m9 0h0m-8 0h0m6-2h0m-1 0h0m-7-1h0m4 0h0m-2-1h0m-1 0h0m3 0h0m0-1h0m3-1h0m2-3h0m-3 0h0m-3-1h0m7-1h0m-2-1h0m-3 0h0m-4 0h0m2-1h0m3 0h0m4 0h0m-10-1h0m4-1h0m3 0h0m2-1h0m-9-1h0m0-1h0m9 0h0m-6 0h0m1 0h0m-2-2h0m1 0h0m3 0h0m-3-1h0m-1-1h0m-1 0h0m5-2h0m-2 0h0m3-1h0m-7 0h0m6-1h0m1-1h0m-1 0h0m-6-1h0m-1 0h0m8-1h0m1 0h0m-6 0h0m7-1h0m-6 0h0m5-1h0m2-1h0m-9-1h0m1-2h0m6-1h0m-6 0h0m-1-2h0m9 0h0m-9-2h0m9 0h0m-2 0h0m-1 0h0m-2-1h0m-6 0h0m7-1h0m-6-1h0m1-1h0m5-1h0m3 0h0m-8-1h0m1-1h0m4 0h0m-5-2h0m3-1h0m3 0h0m-4-1h0m2-1h0m-6 0h0m5-2h0m0-2h0m-4-1h0m0-1h0m1 0h0m-2-1h0m2-1h0m3-1h0m2-1h0m-4 0h0m3-4h0m5-3h0m-10-1h0m-1 0h0m4-2h0m4-1h0m-5 0h0m-2-3h0m5-5h0m-3 0h0m-2-1h0m9 0h0m-6 0h0m-4-1h0m4 0h0m-1-1h0m6 0h0m0-2h0m-3-2h0m-3 0h0m6-2h0m-1-1h0m-3-1h0m3 0h0m-8 0h0m3-1h0m2 0h0m4-1h0m2-1h0m-11 0h0m4 0h0m2-1h0m2-1h0m-8-1h0m2 0h0m5-1h0m4-5h0m-5-4h0m-1-1h0m-5 0h0m10-2h0m-3-1h0m-4 0h0m2-2h0m-2 0h0m-3-2h0m11 0h0m-4-1h0m-2 0h0m0-1h0m1-8h0m4-1h0m-6-1h0m-2 0h0m0-1h0m3 0h0m5-5h0m-10 0h0m8-1h0m-2-1h0m1-1h0m4-1h0m-6 0h0m4-1h0m-3-1h0m2-2h0m-2 0h0m2-2h0m-5 0h0m-2 0h0m7-5h0m-7 0h0m4-1h0m6-1h0m-11 0h0m5-1h0m2-2h0m-7-2h0m9-2h0m-6 0h0m2-1h0m-2 0h0m-2 0h0m-1-1h0m10-1h0m-4 0h0m1-1h0m4 0h0m-3 0h0m1-1h0m-7-1h0m5 0h0m4-1h0m-7-1h0m-2-1h0m2-1h0m0-2h0m5 0h0m-1-1h0m-4-1h0m-1-1h0m2-3h0m1 0h0m-2-1h0m0-2h0m-1-2h0m-3-1h0m7 0h0m3-2h0m-4 0h0m-2-4h0m2-1h0m-6-1h0m6-1h0m-6 0h0m4 0h0m-2 0h0m7 0h0m2-2h0m-10-1h0m-1-3h0m8-1h0m-6 0h0m-1-3h0m3 0h0m-2 0h0m4-1h0m1-1h0m4 0h0m-5-1h0m-1 0h0m-4-2h0m8-1h0m-7-1h0m7-1h0m-9 0h0m11 0h0m-2-1h0m-3-1h0m-3-1h0m3-3h0m-6 0h0m3-1h0m-2-1h0m3-3h0m1-3h0m5-1h0m-1-2h0m-1-1h0m-5 0h0m2-2h0m3 0h0m1-1h0m-3-3h0m1-1h0m-4-1h0m2-1h0m1 0h0m-6-2h0m5-2h0m-3-1h0m0-1h0m5 0h0m-1 0h0m-5-3h0m8-1h0m-8-1h0m-1 0h0m9 0h0m-6-3h0m4 0h0m-3-1h0m5-1h0m-8-1h0m9 0h0m-5-4h0m6-1h0m-7-1h0m4 0h0m0-2h0m2-1h0m0-4h0m0-2h0m-4-1h0m4-1h0m-2-2h0m-2 0h0m-4-4h0m2-1h0m7 0h0m-2-1h0m-5-1h0m3-2h0m-3 0h0m-2-2h0m1-1h0m5-1h0m2 0h0m0-2h0m-8-1h0m1-1h0m6-1h0m-4-2h0m-1-3h0m1-1h0m-3-1h0m1-1h0m0-4h0m1-4h0m-2 0h0m1 0h0m2-2h0m-1-1h0m-1-2h0m3-2h0m5-4h0m-2 0h0m-1-1h0m-5-1h0m7-2h0m-4-1h0m5 0h0m-2-6h0m-7-1h0m6-1h0m-3-13h0m0-1h0m5-2h0m-7-5h0m4-3h0m2 0h0m-2-5h0m-1 0h0m-3-2h0m8-1h0m-4-5h0m-1-1h0m5-4h0m-6-1h0m1-5h0m-2-6h0m4-1h0m-1 0h0m-3-3h0m6-1h0m-3 0h0m3-1h0m-7-6h0m1-4h0m7-1h0m-7-3h0m5-3h0m-2-2h0m-1-2h0m0-1h0m1-1h0m-2 0h0m2-2h0m1 0h0m-3-5h0m6-4h0m-3-4h0m-4-3h0m5-2h0m-2-2h0m2-3h0m-4-1h0m5-2h0m-4-5h0m5 0h0m-4-3h0m-1-4h0m3-3h0m-1-1h0m-1-1h0m2 0h0m-2-2h0m-1-2h0m5-2h0m0-11h0m-1-6h0m-1-1h0m2-4h0m-5-8h0m5-6h0m-4-17h0m2-8h0m-1-5h0m0-3h0m-1-1h0m1-2h0m-1-4h0m1 0h0m2-1h0m1-32h0m-2 0h0m-1 0h0m2 0h0m10 0h0m-6 0h0m-2 0h0m9 0h0m-8 0h0m3 0h0m3 0h0m4 0h0m-6 0h0m0 19h0m-4 0h0m9 0h0m-10 0h0m2 0h0m7 10h0m-4 1h0m4 1h0m-2 2h0m-7 2h0m9 1h0m-8 1h0m3 3h0m-2 0h0m6 0h0m3 3h0m-7 1h0m-3 2h0m-1 3h0m5 1h0m-3 1h0m2 2h0m5 1h0m-8 2h0m3 0h0m3 0h0m-3 1h0m6 1h0m-2 0h0m-2 4h0m2 9h0m-5 2h0m-2 1h0m10 0h0m-3 0h0m1 2h0m0 1h0m-6 0h0m-2 5h0m4 2h0m4 1h0m-2 0h0m-2 2h0m5 0h0m-10 0h0m6 4h0m-4 4h0m2 1h0m1 8h0m5 2h0m-7 2h0m2 1h0m-5 1h0m6 2h0m-1 1h0m-3 2h0m-1 1h0m8 2h0m-2 0h0m1 1h0m-1 6h0m1 4h0m-2 0h0m1 3h0m2 5h0m-4 0h0m-4 3h0m0 4h0m-1 1h0m4 0h0m7 0h0m0 1h0m-4 1h0m-2 0h0m3 1h0m-4 1h0m7 0h0m-5 6h0m-4 1h0m4 0h0m-1 2h0m-5 0h0m11 0h0m-9 1h0m4 0h0m5 1h0m-2 0h0m-6 0h0m6 1h0m-9 8h0m9 5h0m1 1h0m-5 3h0m0 5h0m-4 1h0m1 3h0m-2 1h0m2 0h0m-1 1h0m0 2h0m6 0h0m-6 2h0m1 0h0m0 4h0m4 3h0m-6 2h0m8 6h0m-6 0h0m3 0h0m0 10h0m-4 1h0m8 2h0m2 2h0m-3 0h0m3 1h0m-5 3h0m3 2h0m1 0h0m-10 5h0m1 0h0m4 4h0m5 0h0m1 2h0m-7 2h0m6 2h0m1 0h0m-5 1h0m1 0h0m4 2h0m-3 0h0m-7 2h0m2 2h0m-2 3h0m1 0h0m7 2h0m-7 0h0m-2 2h0m8 3h0m3 3h0m-6 1h0m1 1h0m-1 0h0m-4 2h0m1 0h0m9 1h0m-2 3h0m-3 0h0m-4 6h0m6 4h0m3 1h0m-1 0h0m-2 4h0m-5 0h0m4 1h0m-1 1h0m-6 2h0m2 1h0m7 1h0m-8 1h0m2 1h0m6 3h0m0 3h0m-5 3h0m-4 1h0m5 3h0m2 4h0m3 1h0m-7 1h0m7 1h0m-2 6h0m3 1h0m-4 3h0m-2 0h0m6 1h0m-2 0h0m-6 1h0m7 2h0m-10 0h0m1 3h0m5 0h0m-1 0h0m4 2h0m-2 1h0m-5 1h0m-1 2h0m1 1h0m0 1h0m4 5h0m2 1h0m-1 1h0m-2 1h0m-5 0h0m10 0h0m-5 1h0m-5 0h0m0 1h0m10 1h0m-1 1h0m-4 1h0m4 0h0m-9 3h0m10 1h0m-9 3h0m5 1h0m-4 1h0m0 1h0m5 0h0m1 1h0m2 1h0m-3 3h0m-1 1h0m1 1h0m2 1h0m-3 1h0m-5 1h0m-1 0h0m0 1h0m1 7h0m-1 2h0m9 0h0m-2 2h0m-4 0h0m-2 1h0m9 2h0m-9 1h0m-1 0h0m6 0h0m4 2h0m-7 1h0m5 1h0m-2 1h0m2 3h0m1 1h0m-4 1h0m-5 2h0m4 0h0m7 0h0m-5 0h0m3 0h0m2 1h0m-7 0h0m3 1h0m3 0h0m-9 3h0m-1 0h0m2 3h0m4 2h0m-4 1h0m7 0h0m2 1h0m-11 1h0m11 1h0m-6 0h0m3 1h0m-8 1h0m6 1h0m-3 0h0m4 1h0m-4 0h0m1 0h0m5 2h0m-4 4h0m-4 0h0m2 1h0m7 0h0m-6 0h0m4 1h0m1 0h0m-4 1h0m6 1h0m-4 1h0m1 2h0m-8 3h0m1 1h0m2 1h0m-2 0h0m-1 0h0m4 3h0m-1 0h0m0 1h0m5 0h0m0 2h0m-6 0h0m2 1h0m2 0h0m-1 0h0m1 1h0m1 2h0m-6 0h0m4 0h0m-3 1h0m7 1h0m1 1h0m-5 0h0m-3 0h0m-2 1h0m10 1h0m-4 0h0m-6 0h0m0 2h0m2 0h0m-1 0h0m5 1h0m2 1h0m-2 0h0m3 2h0m-2 1h0m-5 0h0m9 0h0m-1 1h0m-2 1h0m-3 1h0m-4 0h0m8 2h0m-9 2h0m10 1h0m-7 4h0m4 2h0m-6 2h0m2 1h0m-2 0h0m1 1h0m1 0h0m-2 0h0m7 1h0m-2 1h0m0 2h0m3 1h0m-3 1h0m-1 1h0m-4 4h0m-1 0h0m8 1h0m0 2h0m-6 0h0m3 2h0m-4 0h0m6 1h0m4 0h0m-11 1h0m9 0h0m1 0h0m-2 2h0m3 0h0m-6 1h0m4 2h0m-5 0h0m4 0h0m-1 1h0m-7 1h0m5 0h0m-1 1h0m-3 1h0m7 0h0m2 1h0m-3 0h0m1 0h0m-4 1h0m7 0h0m-7 1h0m-2 0h0m9 3h0m-3 1h0m3 1h0m-11 1h0m7 0h0m-4 0h0m-3 1h0m4 0h0m-4 1h0m2 1h0m4 3h0m3 1h0m-8 0h0m0 1h0m3 0h0m2 0h0m-6 0h0m1 1h0m7 1h0m3 0h0m-6 0h0m2 0h0m0 3h0m2 0h0m-6 1h0m6 4h0m-1 2h0m-7 0h0m4 3h0m6 1h0m-8 0h0m5 1h0m-8 0h0m9 1h0m1 1h0m-6 0h0m1 1h0m0 1h0m-4 0h0m6 1h0m4 0h0m-6 1h0m4 0h0m-6 0h0m7 0h0m1 0h0m-3 2h0m-7 0h0m-1 0h0m7 0h0m4 0h0m-3 2h0m-5 0h0m-3 0h0m2 1h0m3 1h0m4 0h0m1 0h0m-10 0h0m4 0h0m4 2h0m-5 0h0m-2 0h0m9 1h0m1 2h0m-2 1h0m-1 0h0m-2 1h0m3 0h0m-5 0h0m7 1h0m-9 0h0m9 2h0m-11 1h0m1 0h0m7 0h0m-3 0h0m0 1h0m5 0h0m-2 0h0m2 1h0m-1 4h0m-9 0h0m2 1h0m6 2h0m1 0h0m-6 2h0m0 1h0m-2 3h0m7 0h0m-3 0h0m-4 1h0m3 1h0m5 0h0m-2 1h0m-6 1h0m3 0h0m-4 0h0m10 1h0m1 0h0m-6 0h0m4 0h0m-2 2h0m2 0h0m-8 1h0m6 1h0m-5 0h0m4 0h0m5 1h0m-9 0h0m2 1h0m-4 0h0m4 1h0m2 0h0m0 1h0m-6 0h0m11 1h0m-5 0h0m-4 1h0m-2 1h0m0 1h0m2 2h0m7 0h0m-8 1h0m-1 0h0m3 1h0m7 0h0m-5 1h0m-5 0h0m4 1h0m-2 0h0m-2 1h0m7 0h0m2 1h0m-6 0h0m-3 1h0m1 1h0m9 1h0m-9 1h0m10 0h0m-5 1h0m-4 0h0m1 1h0m1 0h0m-1 1h0m-2 0h0m5 1h0m-2 0h0m5 1h0m-9 0h0m6 1h0m-3 4h0m-2 0h0m4 1h0m-4 0h0m1 3h0m16-11h0m3-1h0m2-2h0m-8-2h0m-1-1h0m-2 0h0m11 0h0m0-6h0m-6-1h0m-3-2h0m4 0h0m-6-1h0m3-2h0m8-1h0m-10-4h0m7 0h0m-8-1h0m1-1h0m2 0h0m-1-1h0m7-3h0m-8-1h0m7-2h0m1-1h0m-7-1h0m4-2h0m-5-2h0m10 0h0m-2-2h0m-9-1h0m8 0h0m-5 0h0m2-1h0m-1 0h0m4 0h0m-2 0h0m-5-1h0m-1-3h0m8 0h0m1-2h0m-3 0h0m0-2h0m-6-1h0m11 0h0m-4-1h0m-6 0h0m0-2h0m0-1h0m2-1h0m8 0h0m-11-1h0m4-2h0m-2-1h0m6-1h0m-5-2h0m-3-2h0m10-1h0m-7-4h0m-1-3h0m-2 0h0m7-2h0m2-1h0m-4-1h0m-1-1h0m1 0h0m1 0h0m-1-3h0m-3-1h0m1-1h0m7 0h0m-4-2h0m1-1h0m4 0h0m-9-2h0m8 0h0m1-2h0m-3-2h0m-2-2h0m-1-3h0m5-1h0m-6 0h0m-4-1h0m10-3h0m-10-1h0m1-2h0m8-1h0m-6 0h0m1-2h0m2 0h0m5-2h0m-9 0h0m4-1h0m-5-1h0m4 0h0m-1-3h0m4-4h0m-2-1h0m-5-1h0m4-1h0m-5-2h0m3-2h0m-2 0h0m7 0h0m-5-2h0m5 0h0m-6-3h0m3-2h0m1-1h0m-5-1h0m1-2h0m-1 0h0m9 0h0m-1-1h0m0-2h0m-5-1h0m-4-2h0m8-2h0m2-1h0m-7-1h0m7 0h0m0-2h0m-8 0h0m8-2h0m-8 0h0m9-1h0m-8 0h0m8-2h0m-10-2h0m4-2h0m-4-3h0m7 0h0m0-3h0m-8-1h0m7-1h0m-4-1h0m8 0h0m-8-1h0m3 0h0m-2-1h0m4-3h0m-3-1h0m2-8h0m-5-3h0m-1-2h0m2-1h0m-3 0h0m4-2h0m2-1h0m0-2h0m-1-4h0m2-3h0m3-2h0m-10-1h0m8-1h0m-3 0h0m-5-1h0m4-1h0m6-1h0m-9-2h0m5 0h0m5-2h0m-3-1h0m0-1h0m-3-1h0m-4-2h0m1 0h0m7-2h0m-3 0h0m1-1h0m4-8h0m-8 0h0m8-2h0m-10 0h0m3-1h0m-4-3h0m3-1h0m6-1h0m-3 0h0m-3-2h0m6-1h0m1-1h0m-2 0h0m2-2h0m-5-2h0m2 0h0m-7-2h0m3-1h0m4 0h0m0-2h0m-2-2h0m5-1h0m-10 0h0m0-1h0m0-1h0m7 0h0m-4-2h0m5-2h0m-7-4h0m3-1h0m6-3h0m-2-1h0m-1-1h0m0-1h0m-2-2h0m2-3h0m3-3h0m-8-3h0m3-1h0m-3 0h0m4 0h0m-2-2h0m-1-2h0m-1-4h0m4-6h0m0-1h0m-5-1h0m-1-14h0m9 0h0m-3-7h0m-1 0h0m-2-3h0m-3-1h0m8-4h0m-7-3h0m6-1h0m3-1h0m-8-2h0m1-1h0m-2-3h0m-1-1h0m8-2h0m-6 0h0m5-1h0m-3-1h0m3-4h0m1 0h0m1-2h0m-3-4h0m0-1h0m-4-1h0m9-2h0m-11-5h0m10-1h0m1 0h0m-3-2h0m-1-4h0m2-4h0m-7-1h0m7 0h0m-4-1h0m-3-1h0m9-1h0m-4-4h0m4-2h0m-5-7h0m-4-1h0m3-1h0m-2-2h0m-1-1h0m1-2h0m7 0h0m-6 0h0m-4-1h0m0-4h0m8-1h0m-1 0h0m-1-5h0m-2 0h0m5-3h0m-6-1h0m0-2h0m4-4h0m-4-4h0m7-4h0m-1 0h0m2-2h0m-11-1h0m2-8h0m8-5h0m-10 0h0m3-1h0m2-5h0m-5-1h0m1-3h0m0-1h0m7-1h0m-4 0h0m-4-1h0m1-2h0m5-1h0m-5-4h0m8-4h0m-3 0h0m-6-2h0m7-3h0m-6-1h0m0-2h0m-1 0h0m11-5h0m-11-2h0m9 0h0m-8 0h0m1 0h0m1-5h0m2 0h0m-1-3h0m2-1h0m1-7h0m4-1h0m0-3h0m-6-4h0m5-1h0m1-1h0m-7-1h0m5 0h0m-1-2h0m-4 0h0m-2-1h0m7-2h0m0-1h0m-7-1h0m-2-5h0m0-2h0m7-5h0m4-3h0m-11-4h0m9-2h0m-3 0h0m1-7h0m4 0h0m-11-1h0m0-4h0m11 0h0m-5-2h0m5-5h0m-11-1h0m4 0h0m-3 0h0m1-1h0m2-1h0m4 0h0m1-1h0m-9-3h0m7 0h0m-4-1h0m-1-5h0m0-1h0m9-2h0m-8 0h0m6-4h0m-7-1h0m8-1h0m-7-1h0m7-3h0m-1-1h0m-4-1h0m-5-3h0m3-6h0m3-19h0m-1 0h0m5 0h0m-6 0h0m3 0h0m4 0h0m-10 0h0m1 0h0m15 0h0m-3 0h0m4 0h0m-6 0h0m4 0h0m5 0h0m-2 0h0m4 0h0m-10 0h0m-1 19h0m5 6h0m-5 0h0m8 1h0m-3 2h0m5 0h0m1 6h0m-6 2h0m-5 4h0m6 3h0m-3 2h0m8 1h0m-3 1h0m-8 0h0m11 3h0m-8 1h0m8 2h0m-9 5h0m4 2h0m3 1h0m-6 1h0m-1 4h0m2 4h0m-2 3h0m2 4h0m-1 1h0m1 1h0m3 4h0m-6 0h0m2 4h0m4 1h0m-7 1h0m2 5h0m3 2h0m1 0h0m2 2h0m-7 1h0m10 2h0m-2 0h0m-2 1h0m-7 4h0m4 6h0m1 1h0m-1 1h0m-1 3h0m4 1h0m1 2h0m-2 10h0m-3 7h0m3 7h0m-3 2h0m5 1h0m-7 2h0m4 1h0m4 0h0m1 2h0m-2 1h0m0 2h0m0 3h0m-4 0h0m6 1h0m-5 5h0m-2 1h0m-2 0h0m1 1h0m9 5h0m-5 3h0m4 3h0m1 1h0m-9 5h0m8 0h0m-10 2h0m8 3h0m-3 1h0m3 0h0m-2 1h0m-6 2h0m3 3h0m7 1h0m-2 12h0m2 0h0m1 3h0m-6 0h0m0 1h0m-3 2h0m5 3h0m-2 1h0m-5 2h0m3 1h0m7 2h0m-5 1h0m-1 8h0m4 2h0m-7 1h0m2 4h0m3 0h0m2 2h0m-1 4h0m-4 3h0m5 1h0m1 1h0m-6 0h0m5 3h0m-2 5h0m-6 0h0m5 11h0m-3 1h0m6 3h0m-5 5h0m8 2h0m-7 1h0m2 1h0m-6 0h0m2 1h0m-2 1h0m7 1h0m4 1h0m0 1h0m-6 1h0m-5 1h0m8 1h0m1 1h0m-6 1h0m4 3h0m-3 2h0m3 3h0m-5 3h0m0 6h0m0 4h0m3 0h0m1 8h0m-2 0h0m-1 12h0m-3 0h0m10 2h0m-3 0h0m-7 2h0m4 0h0m-3 1h0m2 1h0m6 0h0m-1 1h0m-6 1h0m5 3h0m-2 2h0m4 5h0m-2 2h0m-6 2h0m3 2h0m4 1h0m2 1h0m-7 9h0m0 6h0m-2 0h0m10 1h0m-8 1h0m4 0h0m-5 1h0m9 3h0m-9 1h0m9 4h0m-5 0h0m3 1h0m2 0h0m-10 2h0m2 0h0m7 1h0m0 1h0m-1 0h0m-2 1h0m-5 6h0m5 0h0m-6 1h0m8 1h0m-5 2h0m-3 1h0m3 4h0m-3 0h0m2 1h0m7 2h0m-3 2h0m-6 2h0m5 2h0m3 0h0m0 5h0m-5 2h0m-1 1h0m7 2h0m-9 2h0m1 7h0m4 0h0m-4 2h0m-1 0h0m7 0h0m-4 1h0m1 0h0m-1 2h0m0 3h0m0 6h0m1 1h0m1 0h0m-1 2h0m1 1h0m-3 2h0m-2 0h0m-1 2h0m11 1h0m-6 2h0m-3 0h0m3 1h0m-3 1h0m-2 2h0m10 2h0m-2 0h0m-6 2h0m4 2h0m1 0h0m-1 1h0m3 0h0m-6 2h0m-1 0h0m2 1h0m6 5h0m-6 4h0m-1 1h0m8 0h0m-5 5h0m-3 6h0m0 1h0m0 1h0m1 4h0m5 0h0m-6 3h0m-1 0h0m4 2h0m2 0h0m-7 3h0m2 0h0m8 2h0m0 3h0m-8 1h0m3 3h0m0 3h0m-5 0h0m1 3h0m1 2h0m3 2h0m-5 0h0m4 4h0m-5 0h0m7 1h0m1 0h0m-1 1h0m-7 2h0m8 3h0m-6 3h0m0 1h0m3 0h0m-4 1h0m4 2h0m-5 2h0m2 1h0m0 6h0m-2 2h0m9 2h0m-1 3h0m-8 1h0m4 0h0m7 1h0m-10 1h0m10 5h0m-8 0h0m7 1h0m-8 0h0m5 2h0m3 0h0m-8 1h0m3 1h0m-3 1h0m5 3h0m-2 4h0m-5 0h0m7 1h0m-4 2h0m3 1h0m-6 7h0m4 15h0m11-14h0m2-15h0m3-7h0m3-6h0m-6-3h0m4-6h0m1-1h0m-3 0h0m-4-4h0m-1-1h0m-1-5h0m6-1h0m-2-1h0m-5-2h0m4 0h0m4-1h0m1-2h0m-6-7h0m1 0h0m2-1h0m3-1h0m-7-1h0m0-1h0m-2-1h0m0-1h0m8-5h0m-2 0h0m5-6h0m-9-4h0m0-2h0m8-2h0m-9-2h0m5 0h0m-2-4h0m7-1h0m0-6h0m-6 0h0m-5-14h0m2-6h0m2-1h0m1 0h0m-5-3h0m6-1h0m-6-2h0m2-11h0m3-3h0m3-1h0m1 0h0m-6-2h0m-1-5h0m9-8h0m-5-2h0m-2-3h0m-2 0h0m-2-1h0m4-3h0m0-3h0m6-16h0m-3 0h0m-4-7h0m-3-1h0m1-2h0m3-3h0m0-1h0m6-2h0m-2-2h0m-3-8h0m-5 0h0m4-1h0m0-3h0m-1-10h0m-2-1h0m5-4h0m-5-1h0m-1-2h0m1 0h0m9 0h0m-6-2h0m-4-3h0m10-10h0m-3-1h0m-4-1h0m3-3h0m4-1h0m-10-5h0m4-3h0m6-1h0m-5 0h0m-5-1h0m0-2h0m11-5h0m-10-2h0m4-14h0m5-4h0m-10-7h0m10-1h0m1-3h0m-4-4h0m2-1h0m-4-1h0m2-3h0m-7-1h0m10 0h0m-7-9h0m1-3h0m4-1h0m-3 0h0m-5-2h0m3-4h0m7-4h0m-5 0h0m1-5h0m5-2h0m-6-7h0m-3-3h0m6-2h0m1-6h0m-9-6h0m2-4h0m0-6h0m-1-3h0m4 0h0m-3-4h0m-1-2h0m4-6h0m-4 0h0m0-7h0m10-1h0m0-1h0m-9-4h0m7-5h0m-9-1h0m1-5h0m9 0h0m-8-3h0m2-1h0m-2-1h0m1-1h0m1-1h0m0-4h0m0-2h0m6-2h0m-6-3h0m-2-2h0m4-1h0m1 0h0m-3-1h0m0-1h0m4-1h0m-1-1h0m-2-1h0m4-6h0m-5-3h0m-2 0h0m1-5h0m-3-3h0m1-1h0m10-12h0m-6-1h0m4-6h0m2 0h0m-7-8h0m7-3h0m-11-2h0m8 0h0m1-2h0m-6 0h0m-2-3h0m-1-4h0m4 0h0m5-4h0m-6-1h0m4-4h0m-6-1h0m9-2h0m-7-3h0m5-2h0m2-1h0m0-4h0m1 0h0m-7-5h0m-2-3h0m2-2h0m4-6h0m-5-6h0m-2-6h0m5-1h0m4-2h0m-10-2h0m3-1h0m8-5h0m-6-3h0m6-5h0m-5 0h0m1 0h0m3-6h0m1 0h0m-5-19h0m-6 0h0m7 0h0m3 0h0m-6 0h0m4 0h0m-3 0h0m7 0h0m11 0h0m-2 0h0m-6 0h0m-2 0h0m9 0h0m-6 0h0m3 0h0m-2 0h0m1 0h0m-6 19h0m9 0h0m-1 6h0m-6 1h0m-1 6h0m6 1h0m-2 0h0m-3 0h0m4 0h0m-2 0h0m-3 7h0m7 1h0m-1 9h0m4 2h0m-7 1h0m-1 1h0m8 2h0m-5 3h0m4 4h0m-4 14h0m3 4h0m1 4h0m-3 0h0m-4 2h0m4 0h0m-5 13h0m8 2h0m-1 7h0m-7 3h0m7 5h0m-1 2h0m-6 3h0m6 3h0m-4 5h0m-4 15h0m2 1h0m5 2h0m2 2h0m-5 1h0m-4 3h0m0 2h0m2 1h0m-2 2h0m7 0h0m-6 5h0m7 0h0m-6 6h0m1 1h0m-2 9h0m4 6h0m-1 11h0m-2 1h0m2 1h0m3 7h0m-2 3h0m0 1h0m4 3h0m1 8h0m-9 1h0m6 2h0m-3 1h0m4 3h0m1 1h0m-4 1h0m-5 5h0m8 7h0m-2 6h0m3 3h0m-9 7h0m7 6h0m-1 1h0m1 9h0m1 4h0m-3 4h0m6 0h0m-8 0h0m-3 3h0m0 5h0m2 1h0m7 3h0m2 4h0m-6 6h0m0 2h0m3 3h0m2 7h0m-2 8h0m-2 6h0m1 1h0m-3 2h0m5 6h0m-5 1h0m2 2h0m5 13h0m-7 5h0m-4 3h0m10 14h0m-10 16h0m7 2h0m-3 2h0m6 11h0m-10 5h0m1 11h0m0 13h0m7 3h0m-2 7h0m-3 8h0m1 4h0m2 4h0m-4 2h0m5 1h0m1 3h0m-5 6h0m2 2h0m3 8h0m-6 9h0m0 12h0m4 0h0m-4 10h0m-1 8h0m3 1h0m3 0h0m2 8h0m-7 1h0m4 5h0m-4 5h0m0 12h0m-1 6h0m10 1h0m-11 10h0m6 3h0m7-2h0m-1-36h0m4-1h0m5-18h0m-5-21h0m4-4h0m2-5h0m1-1h0m-10-1h0m3-2h0m-1-17h0m1 0h0m6-6h0m-9-1h0m9-5h0m-6-3h0m-2-9h0m2-2h0m-1-4h0m3-8h0m5-2h0m-8-14h0m2-14h0m4-11h0m-3-6h0m2-8h0m-6 0h0m9-10h0m-3-6h0m-7-11h0m3-3h0m-2-1h0m7-2h0m2-13h0m-1-1h0m1-1h0m-6-2h0m-4-11h0m-1-2h0m9-23h0m-7-2h0m1-1h0m6-10h0m-3-2h0m-5-3h0m5-3h0m4-5h0m-8-9h0m-2-4h0m4-3h0m2-9h0m4 0h0m-9-8h0m8-1h0m-8-4h0m2-1h0m7-5h0m-8-3h0m6-9h0m3-2h0m-10-4h0m9-4h0m-3-1h0m-3-5h0m-4 0h0m1-9h0m6-2h0m2-1h0m-3-4h0m-3-1h0m5 0h0m1-7h0m-9-4h0m2-2h0m2-1h0m1-2h0m3-1h0m-6-2h0m5-2h0m-1-2h0m-2-2h0m3-5h0m4-5h0m-11-4h0m0-15h0m4 0h0m2-9h0m-4-1h0m-1-12h0m1-1h0m3-4h0m5-10h0m-9-2h0m9-1h0m-7-8h0m0-1h0m8-1h0m-1-4h0m-4-4h0m2 0h0m-3-4h0m2-3h0m-5-2h0m5-2h0m-3-2h0m2-9h0m4 0h0m-8-1h0m7-6h0m-6 0h0m3 0h0m2 0h0m-6-2h0m0-4h0m4 0h0m1-1h0m-4-1h0m2 0h0m-4-25h0m5 0h0m4 0h0m-6 0h0m4 0h0m-1 0h0m-2 0h0m-3 0h0m-2 0h0m11 0h0m-2 0h0m9 0h0m4 0h0m-3 0h0m-3 0h0m4 0h0m-6 0h0m9 0h0m-8 0h0m-2 19h0m5 0h0m1 0h0m-7 14h0m7 5h0m1 2h0m2 1h0m0 1h0m0 2h0m-1 4h0m-6 5h0m0 13h0m0 4h0m5 1h0m-6 6h0m2 5h0m7 7h0m-5 5h0m-4 34h0m0 3h0m2 3h0m7 5h0m-6 11h0m-1 14h0m6 17h0m0 10h0m-10 14h0m3 13h0m8 2h0m-9 2h0m2 3h0m-4 3h0m9 2h0m-8 1h0m10 5h0m-3 1h0m-2 3h0m-2 1h0m4 2h0m-7 1h0m-1 4h0m5 3h0m-4 13h0m1 16h0m7 1h0m2 10h0m-6 56h0m0 26h0m-4 4h0m6 10h0m-2 16h0m-3 27h0m8 8h0m-9 50h0m0 1h0m0 15h0m2 4h0m11-1h0m1-84h0m0-26h0m-2-30h0m-1-44h0m8-4h0m-8-6h0m10-12h0m-1-9h0m-9-13h0m0-1h0m3-8h0m-3-3h0m0-28h0m11-1h0m-6-9h0m-2-13h0m8-3h0m-8-27h0m3-4h0m-6-5h0m10-6h0m-1-3h0m0-13h0m-6-10h0m2-20h0m6-12h0m-11-6h0m11-4h0m-9-1h0m-2-7h0m7 0h0m3-9h0m-9-11h0m10-1h0m-11-7h0m4-10h0m-3-3h0m1-1h0m9-1h0m-9-5h0m9-13h0m-9-9h0m5-25h0m-6 0h0m4 0h0m-3 0h0m9 0h0m-2 0h0m-6 0h0m5 0h0m2 0h0m-10 0h0m13 0h0m-1 0h0m0 75h0m0 138h0" stroke="#BEBEBE" stroke-width="3.4" stroke-linecap="round" fill="none"/>
<path transform="scale(0.5)" d="M329 2116h0m88 0h0m9 0h0m10 322h0m24-53h0m18 22h0m12-109h0m6-182h0m4 0h0m15 0h0m-10 0h0m16 429h0m253-429h0m3 0h0m-5 0h0m3 0h0m3 0h0m-8 0h0m3 0h0m6 0h0m-8 0h0m7 43h0m-8 5h0m5 32h0m-1 13h0m3 2h0m2 1h0m-5 1h0m-4 12h0m2 25h0m-1 14h0m1 11h0m-1 6h0m1 3h0m1 16h0m0 14h0m4 24h0m2 32h0m-2 1h0m0 1h0m-5 34h0m2 1h0m-1 22h0m-2 10h0m7 39h0m-6 19h0m3 4h0m2 0h0m-5 8h0m6 21h0m-6 9h0m4 16h0m-1 1h0m-3 30h0m1 0h0m0 3h0m2 19h0m15 0h0m-3-5h0m-5-10h0m1-4h0m0-1h0m5-2h0m1-4h0m-9-2h0m11-3h0m-4-14h0m1-4h0m1 0h0m-3-3h0m5-6h0m-10 0h0m-1-19h0m0-5h0m2-8h0m0-4h0m2-3h0m2-14h0m-4-38h0m-2 0h0m9 0h0m-6-2h0m6-15h0m-9-13h0m2-22h0m9-12h0m-9-39h0m2-5h0m5-8h0m-4-9h0m6-2h0m-6-3h0m-1-11h0m0-13h0m5-8h0m2-12h0m-4-22h0m-1 0h0m5-3h0m-11-10h0m1-5h0m1-8h0m9-2h0m-6-11h0m2-1h0m2-5h0m-9-22h0m10-1h0m-9-1h0m0-17h0m-1-2h0m4-3h0m-1-5h0m2-51h0m3 0h0m3 0h0m-11 0h0m3 0h0m3 0h0m3 0h0m-5 0h0m3 0h0m3 0h0m-8 0h0m19 0h0m-8 0h0m3 0h0m3 0h0m-5 0h0m3 0h0m3 0h0m-8 0h0m3 0h0m3 0h0m-4 19h0m5 29h0m3 3h0m-10 28h0m8 4h0m1 47h0m-6 5h0m1 2h0m6 19h0m1 8h0m-1 2h0m1 2h0m0 37h0m-7 14h0m-3 4h0m2 25h0m-3 7h0m4 29h0m0 4h0m2 18h0m1 6h0m-2 1h0m-1 5h0m-4 1h0m5 18h0m-1 9h0m-3 1h0m8 6h0m-5 18h0m-3 10h0m1 4h0m3 4h0m-1 8h0m4 2h0m-5 1h0m1 7h0m2 3h0m0 55h0m5 1h0m-11 13h0m5 8h0m-2 3h0m9-32h0m1-8h0m7-44h0m1-5h0m-6-19h0m7-5h0m-7-1h0m-3-3h0m2-22h0m4-41h0m-6-16h0m0-1h0m8 0h0m-2-3h0m-6 0h0m9-2h0m0-7h0m-7-7h0m3 0h0m-2-5h0m2-13h0m-2-6h0m-1-14h0m9-4h0m-11 0h0m7-22h0m-3-8h0m5-2h0m-2-1h0m-4-42h0m3-10h0m-2 0h0m-1-9h0m-2-16h0m3-2h0m-4-24h0m1-2h0m10 0h0m-4-2h0m0-2h0m-5-71h0m6-19h0m3 0h0m-11 0h0m3 0h0m6 0h0m-8 0h0m6 0h0m3 0h0m-8 0h0m3 0h0m14 0h0m3 0h0m-8 0h0m3 0h0m3 0h0m-8 0h0m11 0h0m-8 0h0m3 0h0m3 0h0m-8 0h0m3 0h0m-2 19h0m-2 25h0m9 5h0m-6 24h0m6 10h0m-1 21h0m3 7h0m-5 0h0m5 18h0m-11 12h0m4 14h0m6 0h0m-2 19h0m-8 12h0m8 18h0m-5 3h0m-3 1h0m6 5h0m5 12h0m0 8h0m-6 6h0m2 22h0m-6 25h0m1 14h0m-1 26h0m8 5h0m0 13h0m-1 5h0m-6 13h0m8 9h0m1 31h0m2-73h0m1-17h0m-1-88h0m10-52h0m-7-21h0m1-8h0m3-25h0m-6-16h0m3-16h0m-4-3h0m1-9h0m9-74h0m-8 0h0m3 0h0m3 0h0m-8 0h0m3 0h0m3 0h0m3 0h0m-8 0h0m3 0h0m3 0h0m-8 0h0m22 0h0m-8 0h0m3 0h0m-5 0h0m6 0h0m3 0h0m-5 0h0m-1 39h0m4 11h0m-4 16h0m1 73h0m2 24h0m2 51h0m-5 1h0m-3 67h0m14 109h0m6-27h0m-8-167h0m11-42h0m-8-18h0m3-2h0m0-21h0m0-33h0m3-62h0m-8-19h0m3 0h0m3 0h0m1 0h0m1 0h0m-9 0h0m11 0h0m-8 0h0m3 0h0m11 0h0m1 0h0m3 0h0m-5 0h0m3 0h0m3 0h0m-8 0h0m-2 73h0m11 16h0m-10 100h0m0 14h0m5 141h0m15-178h0m-9-100h0m11-18h0m-4-48h0m-5 0h0m9 0h0m-5 0h0m2 0h0m-8 0h0m3 0h0m6 0h0m1 0h0m-9 0h0m17 0h0m3 0h0m-5 0h0m4 0h0m2 0h0m-8 0h0m-2 0h0m9 19h0m-1 115h0m7 123h0m0-144h0m5-113h0m2 0h0m-8 0h0m1 0h0m-3 0h0m11 0h0m-4 0h0m-3 0h0m18 0h0m-6 0h0m3 0h0m1 0h0m-8 0h0m2 0h0m9 0h0m-10 0h0m2 0h0m0 38h0m6 65h0m4 110h0m9-31h0m-10-143h0m3-39h0m6 0h0m-8 0h0m5 0h0m-1 0h0m2 0h0m1 0h0m-8 0h0m2 0h0m20 0h0m-6 0h0m1 0h0m-2 0h0m5 0h0m1 0h0m-8 0h0m-1 0h0m7 0h0m-3 25h0m4 5h0m2 56h0m0 377h0m12-375h0m-1-88h0m-8 0h0m3 0h0m6 0h0m-8 0h0m9 0h0m-11 0h0m6 0h0m9 0h0m-2 0h0m1 0h0m14 157h0m-1-138h0m1 0h0m-2-18h0m10 0h0m11 0h0m2 18h0m3 0h0m3-18h0m17 0h0m6 0h0m6 0h0m6 0h0m-1 137h0m18-137h0m-10 0h0m20 0h0m-5 0h0m9 81h0m4 0h0m0-63h0m-2 0h0m4-18h0m-5 0h0m14 0h0m13 49h0m24-49h0m8 0h0m13 0h0m21 0h0m27 0h0m22 0h0" stroke="#F23A3A" stroke-width="6.4" stroke-linecap="round" fill="none" stroke-opacity="0.88"/>
<line x1="117.1" y1="1042.6" x2="117.1" y2="1387.3" stroke="#111" stroke-width="1.1" />
<line x1="116.6" y1="1386.8" x2="663.7" y2="1386.8" stroke="#111" stroke-width="1.1" />
<line x1="114.1" y1="1058.1" x2="117.1" y2="1058.1" stroke="#4D4D4D" stroke-width="1.1" />
<text x="111.6" y="1062.6" font-size="13.0" text-anchor="end" fill="#4D4D4D" >10.0</text>
<line x1="114.1" y1="1136.3" x2="117.1" y2="1136.3" stroke="#4D4D4D" stroke-width="1.1" />
<text x="111.6" y="1140.8" font-size="13.0" text-anchor="end" fill="#4D4D4D" >7.5</text>
<line x1="114.1" y1="1214.5" x2="117.1" y2="1214.5" stroke="#4D4D4D" stroke-width="1.1" />
<text x="111.6" y="1219" font-size="13.0" text-anchor="end" fill="#4D4D4D" >5.0</text>
<line x1="114.1" y1="1292.7" x2="117.1" y2="1292.7" stroke="#4D4D4D" stroke-width="1.1" />
<text x="111.6" y="1297.2" font-size="13.0" text-anchor="end" fill="#4D4D4D" >2.5</text>
<line x1="114.1" y1="1370.9" x2="117.1" y2="1370.9" stroke="#4D4D4D" stroke-width="1.1" />
<text x="111.6" y="1375.4" font-size="13.0" text-anchor="end" fill="#4D4D4D" >0.0</text>
<line x1="172.3" y1="1386.8" x2="172.3" y2="1389.8" stroke="#4D4D4D" stroke-width="1.1" />
<text x="172.3" y="1401.8" font-size="13.0" text-anchor="middle" fill="#4D4D4D" >−2.5</text>
<line x1="324.1" y1="1386.8" x2="324.1" y2="1389.8" stroke="#4D4D4D" stroke-width="1.1" />
<text x="324.1" y="1401.8" font-size="13.0" text-anchor="middle" fill="#4D4D4D" >0.0</text>
<line x1="475.9" y1="1386.8" x2="475.9" y2="1389.8" stroke="#4D4D4D" stroke-width="1.1" />
<text x="475.9" y="1401.8" font-size="13.0" text-anchor="middle" fill="#4D4D4D" >2.5</text>
<line x1="627.7" y1="1386.8" x2="627.7" y2="1389.8" stroke="#4D4D4D" stroke-width="1.1" />
<text x="627.7" y="1401.8" font-size="13.0" text-anchor="middle" fill="#4D4D4D" >5.0</text>
<text x="391" y="1422.2" font-size="15" text-anchor="middle" fill="#000" >Log2FC</text>
<text transform="translate(72.2,1215) rotate(-90) scale(1,1.04)" font-size="15" text-anchor="middle" fill="#000">−Log10(P−value)</text>
<text x="486.4" y="1057.1" font-size="11.8" fill="#000" >Mmp8</text>
<text x="551.4" y="1057.1" font-size="11.8" fill="#000" >Slc11a1</text>
<text x="608.2" y="1057.1" font-size="11.8" fill="#000" >Il18</text>
<text x="476.9" y="1078.8" font-size="11.8" fill="#000" >S100a4</text>
<text x="531.4" y="1078.8" font-size="11.8" fill="#000" >Pdpn</text>
<text x="571.8" y="1078.8" font-size="11.8" fill="#000" >Bst1</text>
<line x1="521.2" y1="1053.1" x2="537.3" y2="1057.1" stroke="#000" stroke-width="0.8" />
<line x1="520.4" y1="1072.7" x2="526.7" y2="1061.3" stroke="#000" stroke-width="0.8" />
<line x1="549.6" y1="1068.4" x2="558" y2="1061.1" stroke="#000" stroke-width="0.8" />
<text x="744.8" y="1040.3" font-size="29.4" font-weight="bold" fill="#000" >F</text>
<rect x="980.9" y="1080.1" width="123.6" height="30.6" fill="#FDE2D6" stroke="none" stroke-width="1" />
<line x1="956.5" y1="1095.4" x2="959.5" y2="1095.4" stroke="#4D4D4D" stroke-width="1.1" />
<text x="954.3" y="1099.7" font-size="12.4" text-anchor="end" fill="#4D4D4D" >myeloid leukocyte activation</text>
<rect x="980.9" y="1142.2" width="267.8" height="31.4" fill="#FBAE92" stroke="none" stroke-width="1" />
<line x1="956.5" y1="1157.9" x2="959.5" y2="1157.9" stroke="#4D4D4D" stroke-width="1.1" />
<text x="954.3" y="1162.2" font-size="12.4" text-anchor="end" fill="#4D4D4D" >leukocyte migration</text>
<rect x="980.9" y="1205" width="302.4" height="31" fill="#F8694C" stroke="none" stroke-width="1" />
<line x1="956.5" y1="1220.5" x2="959.5" y2="1220.5" stroke="#4D4D4D" stroke-width="1.1" />
<text x="954.3" y="1224.8" font-size="12.4" text-anchor="end" fill="#4D4D4D" >innate immune response</text>
<rect x="980.9" y="1267" width="324.2" height="31.4" fill="#DD2C27" stroke="none" stroke-width="1" />
<line x1="956.5" y1="1282.7" x2="959.5" y2="1282.7" stroke="#4D4D4D" stroke-width="1.1" />
<text x="954.3" y="1287" font-size="12.4" text-anchor="end" fill="#4D4D4D" >cytokine production</text>
<rect x="980.9" y="1329.4" width="434.9" height="31.4" fill="#A50F17" stroke="none" stroke-width="1" />
<line x1="956.5" y1="1345.1" x2="959.5" y2="1345.1" stroke="#4D4D4D" stroke-width="1.1" />
<text x="954.3" y="1349.4" font-size="12.4" text-anchor="end" fill="#4D4D4D" >inflammatory response</text>
<line x1="959.5" y1="1058.4" x2="959.5" y2="1383.1" stroke="#333" stroke-width="1.1" />
<line x1="959" y1="1382.6" x2="1437.6" y2="1382.6" stroke="#333" stroke-width="1.1" />
<line x1="980.9" y1="1382.6" x2="980.9" y2="1385.6" stroke="#4D4D4D" stroke-width="1.1" />
<text x="980.9" y="1396.9" font-size="12.4" text-anchor="middle" fill="#4D4D4D" >0</text>
<line x1="1127.5" y1="1382.6" x2="1127.5" y2="1385.6" stroke="#4D4D4D" stroke-width="1.1" />
<text x="1127.5" y="1396.9" font-size="12.4" text-anchor="middle" fill="#4D4D4D" >5</text>
<line x1="1274.1" y1="1382.6" x2="1274.1" y2="1385.6" stroke="#4D4D4D" stroke-width="1.1" />
<text x="1274.1" y="1396.9" font-size="12.4" text-anchor="middle" fill="#4D4D4D" >10</text>
<line x1="1420.7" y1="1382.6" x2="1420.7" y2="1385.6" stroke="#4D4D4D" stroke-width="1.1" />
<text x="1420.7" y="1396.9" font-size="12.4" text-anchor="middle" fill="#4D4D4D" >15</text>
<text x="1198.4" y="1416.2" font-size="14.4" text-anchor="middle" fill="#000" >−log10(P−value)</text>
<text transform="translate(787.5,1220.3) rotate(-90)" font-size="14.4" text-anchor="middle" fill="#000">GO:BP term</text>
<text x="-1.2" y="1544.7" font-size="29.4" font-weight="bold" fill="#000" >G</text>
<path d="M143.5 1588h23.7v27.6h-23.7zM475.9 1588h23.7v27.6h-23.7zM499.7 1588h23.7v27.6h-23.7zM665.9 1588h23.7v27.6h-23.7zM689.6 1588h23.7v27.6h-23.7zM143.5 1615.6h23.7v27.6h-23.7zM475.9 1615.6h23.7v27.6h-23.7zM665.9 1615.6h23.7v27.6h-23.7zM689.6 1615.6h23.7v27.6h-23.7zM143.5 1643.2h23.7v27.6h-23.7zM428.4 1643.2h23.7v27.6h-23.7zM452.2 1643.2h23.7v27.6h-23.7zM475.9 1643.2h23.7v27.6h-23.7zM689.6 1643.2h23.7v27.6h-23.7zM143.5 1670.8h23.7v27.6h-23.7zM167.2 1670.8h23.7v27.6h-23.7zM238.5 1670.8h23.7v27.6h-23.7zM381 1670.8h23.7v27.6h-23.7zM143.5 1698.4h23.7v27.6h-23.7zM167.2 1698.4h23.7v27.6h-23.7zM191 1698.4h23.7v27.6h-23.7zM214.7 1698.4h23.7v27.6h-23.7zM404.7 1698.4h23.7v27.6h-23.7zM452.2 1698.4h23.7v27.6h-23.7zM475.9 1698.4h23.7v27.6h-23.7zM143.5 1726h23.7v27.6h-23.7zM167.2 1726h23.7v27.6h-23.7zM404.7 1726h23.7v27.6h-23.7zM428.4 1726h23.7v27.6h-23.7zM452.2 1726h23.7v27.6h-23.7zM499.7 1726h23.7v27.6h-23.7zM214.7 1753.6h23.7v27.6h-23.7zM238.5 1753.6h23.7v27.6h-23.7zM452.2 1753.6h23.7v27.6h-23.7zM642.1 1753.6h23.7v27.6h-23.7zM191 1781.2h23.7v27.6h-23.7zM214.7 1781.2h23.7v27.6h-23.7zM428.4 1781.2h23.7v27.6h-23.7zM452.2 1781.2h23.7v27.6h-23.7zM475.9 1781.2h23.7v27.6h-23.7zM499.7 1781.2h23.7v27.6h-23.7zM642.1 1781.2h23.7v27.6h-23.7zM665.9 1781.2h23.7v27.6h-23.7zM689.6 1781.2h23.7v27.6h-23.7zM404.7 1808.8h23.7v27.6h-23.7zM428.4 1808.8h23.7v27.6h-23.7zM452.2 1808.8h23.7v27.6h-23.7zM475.9 1808.8h23.7v27.6h-23.7zM499.7 1808.8h23.7v27.6h-23.7zM618.4 1808.8h23.7v27.6h-23.7zM642.1 1808.8h23.7v27.6h-23.7zM143.5 1836.4h23.7v27.6h-23.7zM214.7 1836.4h23.7v27.6h-23.7zM499.7 1836.4h23.7v27.6h-23.7zM642.1 1836.4h23.7v27.6h-23.7zM689.6 1836.4h23.7v27.6h-23.7zM167.2 1864h23.7v27.6h-23.7zM191 1864h23.7v27.6h-23.7zM452.2 1864h23.7v27.6h-23.7zM475.9 1864h23.7v27.6h-23.7zM191 1891.6h23.7v27.6h-23.7zM214.7 1891.6h23.7v27.6h-23.7zM428.4 1891.6h23.7v27.6h-23.7zM452.2 1891.6h23.7v27.6h-23.7zM475.9 1891.6h23.7v27.6h-23.7zM618.4 1891.6h23.7v27.6h-23.7zM642.1 1891.6h23.7v27.6h-23.7zM665.9 1891.6h23.7v27.6h-23.7zM191 1919.2h23.7v27.6h-23.7zM428.4 1919.2h23.7v27.6h-23.7zM452.2 1919.2h23.7v27.6h-23.7zM475.9 1919.2h23.7v27.6h-23.7zM499.7 1919.2h23.7v27.6h-23.7zM618.4 1919.2h23.7v27.6h-23.7zM642.1 1919.2h23.7v27.6h-23.7zM665.9 1919.2h23.7v27.6h-23.7zM689.6 1919.2h23.7v27.6h-23.7zM143.5 1946.8h23.7v27.6h-23.7zM167.2 1946.8h23.7v27.6h-23.7zM191 1946.8h23.7v27.6h-23.7zM214.7 1946.8h23.7v27.6h-23.7zM428.4 1946.8h23.7v27.6h-23.7zM452.2 1946.8h23.7v27.6h-23.7zM475.9 1946.8h23.7v27.6h-23.7zM499.7 1946.8h23.7v27.6h-23.7zM618.4 1946.8h23.7v27.6h-23.7zM642.1 1946.8h23.7v27.6h-23.7zM665.9 1946.8h23.7v27.6h-23.7zM689.6 1946.8h23.7v27.6h-23.7zM143.5 1974.4h23.7v27.6h-23.7zM167.2 1974.4h23.7v27.6h-23.7zM191 1974.4h23.7v27.6h-23.7zM428.4 1974.4h23.7v27.6h-23.7zM475.9 1974.4h23.7v27.6h-23.7zM642.1 1974.4h23.7v27.6h-23.7zM665.9 1974.4h23.7v27.6h-23.7zM689.6 1974.4h23.7v27.6h-23.7zM167.2 2002h23.7v27.6h-23.7zM428.4 2002h23.7v27.6h-23.7zM452.2 2002h23.7v27.6h-23.7zM475.9 2002h23.7v27.6h-23.7zM618.4 2002h23.7v27.6h-23.7zM665.9 2002h23.7v27.6h-23.7zM689.6 2002h23.7v27.6h-23.7zM191 2029.6h23.7v27.6h-23.7zM428.4 2029.6h23.7v27.6h-23.7zM475.9 2029.6h23.7v27.6h-23.7zM452.2 2057.2h23.7v27.6h-23.7zM689.6 2057.2h23.7v27.6h-23.7zM642.1 2112.4h23.7v27.6h-23.7zM665.9 2112.4h23.7v27.6h-23.7zM689.6 2112.4h23.7v27.6h-23.7zM428.4 2140h23.7v27.6h-23.7zM475.9 2140h23.7v27.6h-23.7zM499.7 2140h23.7v27.6h-23.7zM618.4 2140h23.7v27.6h-23.7zM665.9 2140h23.7v27.6h-23.7zM452.2 2167.6h23.7v27.6h-23.7zM618.4 2167.6h23.7v27.6h-23.7zM642.1 2167.6h23.7v27.6h-23.7zM428.4 2195.2h23.7v27.6h-23.7zM452.2 2195.2h23.7v27.6h-23.7zM475.9 2195.2h23.7v27.6h-23.7zM499.7 2195.2h23.7v27.6h-23.7zM618.4 2195.2h23.7v27.6h-23.7zM642.1 2195.2h23.7v27.6h-23.7zM665.9 2195.2h23.7v27.6h-23.7zM167.2 2222.8h23.7v27.6h-23.7zM191 2222.8h23.7v27.6h-23.7zM262.2 2222.8h23.7v27.6h-23.7zM286 2222.8h23.7v27.6h-23.7zM499.7 2222.8h23.7v27.6h-23.7zM642.1 2222.8h23.7v27.6h-23.7zM689.6 2222.8h23.7v27.6h-23.7zM167.2 2250.4h23.7v27.6h-23.7zM191 2250.4h23.7v27.6h-23.7zM499.7 2250.4h23.7v27.6h-23.7zM642.1 2250.4h23.7v27.6h-23.7zM665.9 2250.4h23.7v27.6h-23.7zM143.5 2278h23.7v27.6h-23.7zM167.2 2278h23.7v27.6h-23.7zM475.9 2278h23.7v27.6h-23.7zM618.4 2278h23.7v27.6h-23.7zM689.6 2278h23.7v27.6h-23.7z" fill="#FBD6C0"/>
<path d="M167.2 1588h23.7v27.6h-23.7zM191 1588h23.7v27.6h-23.7zM214.7 1588h23.7v27.6h-23.7zM238.5 1588h23.7v27.6h-23.7zM167.2 1615.6h23.7v27.6h-23.7zM191 1615.6h23.7v27.6h-23.7zM499.7 1615.6h23.7v27.6h-23.7zM167.2 1643.2h23.7v27.6h-23.7zM238.5 1643.2h23.7v27.6h-23.7zM499.7 1643.2h23.7v27.6h-23.7zM191 1670.8h23.7v27.6h-23.7zM214.7 1670.8h23.7v27.6h-23.7zM286 1670.8h23.7v27.6h-23.7zM428.4 1670.8h23.7v27.6h-23.7zM452.2 1670.8h23.7v27.6h-23.7zM499.7 1670.8h23.7v27.6h-23.7zM428.4 1698.4h23.7v27.6h-23.7zM191 1726h23.7v27.6h-23.7zM214.7 1726h23.7v27.6h-23.7zM475.9 1753.6h23.7v27.6h-23.7zM499.7 1753.6h23.7v27.6h-23.7zM665.9 1753.6h23.7v27.6h-23.7zM665.9 1808.8h23.7v27.6h-23.7zM689.6 1808.8h23.7v27.6h-23.7zM665.9 1836.4h23.7v27.6h-23.7zM665.9 1864h23.7v27.6h-23.7zM499.7 1891.6h23.7v27.6h-23.7zM689.6 1891.6h23.7v27.6h-23.7zM238.5 1974.4h23.7v27.6h-23.7zM452.2 1974.4h23.7v27.6h-23.7zM499.7 1974.4h23.7v27.6h-23.7zM143.5 2002h23.7v27.6h-23.7zM191 2002h23.7v27.6h-23.7zM214.7 2002h23.7v27.6h-23.7zM262.2 2002h23.7v27.6h-23.7zM499.7 2002h23.7v27.6h-23.7zM214.7 2029.6h23.7v27.6h-23.7zM286 2029.6h23.7v27.6h-23.7zM499.7 2029.6h23.7v27.6h-23.7zM618.4 2029.6h23.7v27.6h-23.7zM642.1 2029.6h23.7v27.6h-23.7zM665.9 2029.6h23.7v27.6h-23.7zM689.6 2029.6h23.7v27.6h-23.7zM262.2 2057.2h23.7v27.6h-23.7zM286 2057.2h23.7v27.6h-23.7zM428.4 2057.2h23.7v27.6h-23.7zM475.9 2057.2h23.7v27.6h-23.7zM499.7 2057.2h23.7v27.6h-23.7zM618.4 2057.2h23.7v27.6h-23.7zM642.1 2057.2h23.7v27.6h-23.7zM665.9 2057.2h23.7v27.6h-23.7zM286 2084.8h23.7v27.6h-23.7zM428.4 2084.8h23.7v27.6h-23.7zM452.2 2084.8h23.7v27.6h-23.7zM475.9 2084.8h23.7v27.6h-23.7zM499.7 2084.8h23.7v27.6h-23.7zM618.4 2084.8h23.7v27.6h-23.7zM642.1 2084.8h23.7v27.6h-23.7zM665.9 2084.8h23.7v27.6h-23.7zM689.6 2084.8h23.7v27.6h-23.7zM428.4 2112.4h23.7v27.6h-23.7zM452.2 2112.4h23.7v27.6h-23.7zM475.9 2112.4h23.7v27.6h-23.7zM452.2 2140h23.7v27.6h-23.7zM642.1 2140h23.7v27.6h-23.7zM689.6 2140h23.7v27.6h-23.7zM428.4 2167.6h23.7v27.6h-23.7zM475.9 2167.6h23.7v27.6h-23.7zM499.7 2167.6h23.7v27.6h-23.7zM665.9 2167.6h23.7v27.6h-23.7zM689.6 2167.6h23.7v27.6h-23.7zM689.6 2195.2h23.7v27.6h-23.7zM214.7 2222.8h23.7v27.6h-23.7zM309.7 2222.8h23.7v27.6h-23.7zM286 2250.4h23.7v27.6h-23.7zM309.7 2250.4h23.7v27.6h-23.7zM452.2 2250.4h23.7v27.6h-23.7zM475.9 2250.4h23.7v27.6h-23.7zM618.4 2250.4h23.7v27.6h-23.7zM286 2278h23.7v27.6h-23.7zM309.7 2278h23.7v27.6h-23.7zM452.2 2278h23.7v27.6h-23.7zM499.7 2278h23.7v27.6h-23.7z" fill="#EF9167"/>
<path d="M262.2 1588h23.7v27.6h-23.7zM214.7 1615.6h23.7v27.6h-23.7zM238.5 1615.6h23.7v27.6h-23.7zM262.2 1615.6h23.7v27.6h-23.7zM309.7 1615.6h23.7v27.6h-23.7zM191 1643.2h23.7v27.6h-23.7zM214.7 1643.2h23.7v27.6h-23.7zM262.2 1643.2h23.7v27.6h-23.7zM286 1643.2h23.7v27.6h-23.7zM309.7 1643.2h23.7v27.6h-23.7zM262.2 1670.8h23.7v27.6h-23.7zM309.7 1670.8h23.7v27.6h-23.7zM475.9 1670.8h23.7v27.6h-23.7zM238.5 1698.4h23.7v27.6h-23.7zM262.2 1698.4h23.7v27.6h-23.7zM286 1698.4h23.7v27.6h-23.7zM309.7 1698.4h23.7v27.6h-23.7zM238.5 1726h23.7v27.6h-23.7zM262.2 1726h23.7v27.6h-23.7zM286 1753.6h23.7v27.6h-23.7zM309.7 1753.6h23.7v27.6h-23.7zM689.6 1753.6h23.7v27.6h-23.7zM262.2 1781.2h23.7v27.6h-23.7zM286 1781.2h23.7v27.6h-23.7zM238.5 1808.8h23.7v27.6h-23.7zM262.2 1808.8h23.7v27.6h-23.7zM238.5 1836.4h23.7v27.6h-23.7zM238.5 1864h23.7v27.6h-23.7zM238.5 1891.6h23.7v27.6h-23.7zM262.2 1891.6h23.7v27.6h-23.7zM286 1891.6h23.7v27.6h-23.7zM286 1946.8h23.7v27.6h-23.7zM262.2 1974.4h23.7v27.6h-23.7zM238.5 2002h23.7v27.6h-23.7zM286 2002h23.7v27.6h-23.7zM238.5 2029.6h23.7v27.6h-23.7zM262.2 2029.6h23.7v27.6h-23.7zM238.5 2057.2h23.7v27.6h-23.7zM238.5 2084.8h23.7v27.6h-23.7zM262.2 2084.8h23.7v27.6h-23.7zM238.5 2112.4h23.7v27.6h-23.7zM262.2 2112.4h23.7v27.6h-23.7zM286 2112.4h23.7v27.6h-23.7zM499.7 2112.4h23.7v27.6h-23.7zM238.5 2140h23.7v27.6h-23.7zM286 2140h23.7v27.6h-23.7zM309.7 2140h23.7v27.6h-23.7zM238.5 2167.6h23.7v27.6h-23.7zM262.2 2167.6h23.7v27.6h-23.7zM286 2167.6h23.7v27.6h-23.7zM238.5 2195.2h23.7v27.6h-23.7zM143.5 2222.8h23.7v27.6h-23.7zM238.5 2222.8h23.7v27.6h-23.7zM428.4 2222.8h23.7v27.6h-23.7zM618.4 2222.8h23.7v27.6h-23.7zM262.2 2250.4h23.7v27.6h-23.7zM428.4 2250.4h23.7v27.6h-23.7zM238.5 2278h23.7v27.6h-23.7zM428.4 2278h23.7v27.6h-23.7z" fill="#D13B2E"/>
<path d="M286 1588h23.7v27.6h-23.7zM309.7 1588h23.7v27.6h-23.7zM286 1615.6h23.7v27.6h-23.7zM286 1726h23.7v27.6h-23.7zM309.7 1726h23.7v27.6h-23.7zM238.5 1781.2h23.7v27.6h-23.7zM286 1808.8h23.7v27.6h-23.7zM309.7 1808.8h23.7v27.6h-23.7zM262.2 1836.4h23.7v27.6h-23.7zM286 1836.4h23.7v27.6h-23.7zM262.2 1864h23.7v27.6h-23.7zM286 1864h23.7v27.6h-23.7zM309.7 1864h23.7v27.6h-23.7zM309.7 1891.6h23.7v27.6h-23.7zM238.5 1919.2h23.7v27.6h-23.7zM262.2 1919.2h23.7v27.6h-23.7zM286 1919.2h23.7v27.6h-23.7zM309.7 1919.2h23.7v27.6h-23.7zM238.5 1946.8h23.7v27.6h-23.7zM262.2 1946.8h23.7v27.6h-23.7zM309.7 1946.8h23.7v27.6h-23.7zM286 1974.4h23.7v27.6h-23.7zM309.7 1974.4h23.7v27.6h-23.7zM309.7 2002h23.7v27.6h-23.7zM309.7 2029.6h23.7v27.6h-23.7zM309.7 2057.2h23.7v27.6h-23.7zM309.7 2084.8h23.7v27.6h-23.7zM309.7 2112.4h23.7v27.6h-23.7zM262.2 2140h23.7v27.6h-23.7zM309.7 2167.6h23.7v27.6h-23.7zM262.2 2195.2h23.7v27.6h-23.7zM286 2195.2h23.7v27.6h-23.7zM309.7 2195.2h23.7v27.6h-23.7zM238.5 2250.4h23.7v27.6h-23.7z" fill="#A60014"/>
<path d="M333.5 1588h23.7v27.6h-23.7zM547.2 1588h23.7v27.6h-23.7zM570.9 1588h23.7v27.6h-23.7zM333.5 1615.6h23.7v27.6h-23.7zM547.2 1615.6h23.7v27.6h-23.7zM570.9 1615.6h23.7v27.6h-23.7zM594.7 1615.6h23.7v27.6h-23.7zM333.5 1643.2h23.7v27.6h-23.7zM381 1643.2h23.7v27.6h-23.7zM523.4 1643.2h23.7v27.6h-23.7zM547.2 1643.2h23.7v27.6h-23.7zM570.9 1643.2h23.7v27.6h-23.7zM333.5 1670.8h23.7v27.6h-23.7zM594.7 1670.8h23.7v27.6h-23.7zM523.4 1698.4h23.7v27.6h-23.7zM570.9 1698.4h23.7v27.6h-23.7zM594.7 1698.4h23.7v27.6h-23.7zM357.2 1726h23.7v27.6h-23.7zM523.4 1726h23.7v27.6h-23.7zM547.2 1726h23.7v27.6h-23.7zM570.9 1726h23.7v27.6h-23.7zM523.4 1753.6h23.7v27.6h-23.7zM547.2 1753.6h23.7v27.6h-23.7zM570.9 1753.6h23.7v27.6h-23.7zM333.5 1781.2h23.7v27.6h-23.7zM357.2 1781.2h23.7v27.6h-23.7zM570.9 1781.2h23.7v27.6h-23.7zM594.7 1781.2h23.7v27.6h-23.7zM333.5 1808.8h23.7v27.6h-23.7zM357.2 1808.8h23.7v27.6h-23.7zM523.4 1808.8h23.7v27.6h-23.7zM547.2 1808.8h23.7v27.6h-23.7zM333.5 1836.4h23.7v27.6h-23.7zM381 1836.4h23.7v27.6h-23.7zM523.4 1836.4h23.7v27.6h-23.7zM333.5 1864h23.7v27.6h-23.7zM523.4 1864h23.7v27.6h-23.7zM547.2 1864h23.7v27.6h-23.7zM570.9 1864h23.7v27.6h-23.7zM594.7 1864h23.7v27.6h-23.7zM333.5 1891.6h23.7v27.6h-23.7zM381 1891.6h23.7v27.6h-23.7zM404.7 1891.6h23.7v27.6h-23.7zM523.4 1891.6h23.7v27.6h-23.7zM547.2 1891.6h23.7v27.6h-23.7zM570.9 1891.6h23.7v27.6h-23.7zM594.7 1891.6h23.7v27.6h-23.7zM357.2 1919.2h23.7v27.6h-23.7zM381 1919.2h23.7v27.6h-23.7zM523.4 1919.2h23.7v27.6h-23.7zM570.9 1919.2h23.7v27.6h-23.7zM594.7 1919.2h23.7v27.6h-23.7zM333.5 1946.8h23.7v27.6h-23.7zM404.7 1946.8h23.7v27.6h-23.7zM523.4 1946.8h23.7v27.6h-23.7zM547.2 1946.8h23.7v27.6h-23.7zM570.9 1946.8h23.7v27.6h-23.7zM594.7 1946.8h23.7v27.6h-23.7zM381 1974.4h23.7v27.6h-23.7zM547.2 1974.4h23.7v27.6h-23.7zM570.9 1974.4h23.7v27.6h-23.7zM594.7 1974.4h23.7v27.6h-23.7zM333.5 2002h23.7v27.6h-23.7zM357.2 2002h23.7v27.6h-23.7zM381 2002h23.7v27.6h-23.7zM404.7 2002h23.7v27.6h-23.7zM523.4 2002h23.7v27.6h-23.7zM547.2 2002h23.7v27.6h-23.7zM570.9 2002h23.7v27.6h-23.7zM594.7 2002h23.7v27.6h-23.7zM333.5 2029.6h23.7v27.6h-23.7zM381 2029.6h23.7v27.6h-23.7zM404.7 2029.6h23.7v27.6h-23.7zM523.4 2029.6h23.7v27.6h-23.7zM570.9 2029.6h23.7v27.6h-23.7zM594.7 2029.6h23.7v27.6h-23.7zM333.5 2057.2h23.7v27.6h-23.7zM357.2 2057.2h23.7v27.6h-23.7zM381 2057.2h23.7v27.6h-23.7zM523.4 2057.2h23.7v27.6h-23.7zM570.9 2057.2h23.7v27.6h-23.7zM594.7 2057.2h23.7v27.6h-23.7zM381 2084.8h23.7v27.6h-23.7zM523.4 2084.8h23.7v27.6h-23.7zM547.2 2084.8h23.7v27.6h-23.7zM570.9 2084.8h23.7v27.6h-23.7zM594.7 2084.8h23.7v27.6h-23.7zM523.4 2112.4h23.7v27.6h-23.7zM547.2 2112.4h23.7v27.6h-23.7zM570.9 2112.4h23.7v27.6h-23.7zM594.7 2112.4h23.7v27.6h-23.7zM333.5 2140h23.7v27.6h-23.7zM381 2140h23.7v27.6h-23.7zM523.4 2140h23.7v27.6h-23.7zM547.2 2140h23.7v27.6h-23.7zM570.9 2140h23.7v27.6h-23.7zM594.7 2140h23.7v27.6h-23.7zM333.5 2167.6h23.7v27.6h-23.7zM523.4 2167.6h23.7v27.6h-23.7zM547.2 2167.6h23.7v27.6h-23.7zM570.9 2167.6h23.7v27.6h-23.7zM594.7 2167.6h23.7v27.6h-23.7zM333.5 2195.2h23.7v27.6h-23.7zM404.7 2195.2h23.7v27.6h-23.7zM523.4 2195.2h23.7v27.6h-23.7zM547.2 2195.2h23.7v27.6h-23.7zM570.9 2195.2h23.7v27.6h-23.7zM594.7 2195.2h23.7v27.6h-23.7zM404.7 2222.8h23.7v27.6h-23.7zM570.9 2222.8h23.7v27.6h-23.7zM404.7 2250.4h23.7v27.6h-23.7zM547.2 2250.4h23.7v27.6h-23.7zM570.9 2250.4h23.7v27.6h-23.7zM523.4 2278h23.7v27.6h-23.7zM547.2 2278h23.7v27.6h-23.7zM570.9 2278h23.7v27.6h-23.7zM594.7 2278h23.7v27.6h-23.7z" fill="#4A77A3"/>
<path d="M357.2 1588h23.7v27.6h-23.7zM381 1588h23.7v27.6h-23.7zM404.7 1588h23.7v27.6h-23.7zM618.4 1588h23.7v27.6h-23.7zM357.2 1615.6h23.7v27.6h-23.7zM381 1615.6h23.7v27.6h-23.7zM357.2 1643.2h23.7v27.6h-23.7zM404.7 1643.2h23.7v27.6h-23.7zM333.5 1698.4h23.7v27.6h-23.7zM357.2 1698.4h23.7v27.6h-23.7zM381 1698.4h23.7v27.6h-23.7zM333.5 1726h23.7v27.6h-23.7zM381 1726h23.7v27.6h-23.7zM594.7 1726h23.7v27.6h-23.7zM143.5 1753.6h23.7v27.6h-23.7zM333.5 1753.6h23.7v27.6h-23.7zM357.2 1753.6h23.7v27.6h-23.7zM381 1753.6h23.7v27.6h-23.7zM594.7 1753.6h23.7v27.6h-23.7zM618.4 1753.6h23.7v27.6h-23.7zM381 1781.2h23.7v27.6h-23.7zM523.4 1781.2h23.7v27.6h-23.7zM547.2 1781.2h23.7v27.6h-23.7zM167.2 1808.8h23.7v27.6h-23.7zM381 1808.8h23.7v27.6h-23.7zM570.9 1808.8h23.7v27.6h-23.7zM594.7 1808.8h23.7v27.6h-23.7zM357.2 1836.4h23.7v27.6h-23.7zM547.2 1836.4h23.7v27.6h-23.7zM570.9 1836.4h23.7v27.6h-23.7zM357.2 1864h23.7v27.6h-23.7zM381 1864h23.7v27.6h-23.7zM357.2 1891.6h23.7v27.6h-23.7zM333.5 1919.2h23.7v27.6h-23.7zM404.7 1919.2h23.7v27.6h-23.7zM547.2 1919.2h23.7v27.6h-23.7zM357.2 1946.8h23.7v27.6h-23.7zM381 1946.8h23.7v27.6h-23.7zM333.5 1974.4h23.7v27.6h-23.7zM357.2 1974.4h23.7v27.6h-23.7zM523.4 1974.4h23.7v27.6h-23.7zM357.2 2029.6h23.7v27.6h-23.7zM547.2 2029.6h23.7v27.6h-23.7zM404.7 2057.2h23.7v27.6h-23.7zM547.2 2057.2h23.7v27.6h-23.7zM167.2 2084.8h23.7v27.6h-23.7zM333.5 2084.8h23.7v27.6h-23.7zM357.2 2084.8h23.7v27.6h-23.7zM404.7 2084.8h23.7v27.6h-23.7zM333.5 2112.4h23.7v27.6h-23.7zM357.2 2112.4h23.7v27.6h-23.7zM381 2112.4h23.7v27.6h-23.7zM404.7 2112.4h23.7v27.6h-23.7zM357.2 2140h23.7v27.6h-23.7zM404.7 2140h23.7v27.6h-23.7zM143.5 2167.6h23.7v27.6h-23.7zM357.2 2167.6h23.7v27.6h-23.7zM381 2167.6h23.7v27.6h-23.7zM404.7 2167.6h23.7v27.6h-23.7zM357.2 2195.2h23.7v27.6h-23.7zM381 2195.2h23.7v27.6h-23.7zM357.2 2222.8h23.7v27.6h-23.7zM381 2222.8h23.7v27.6h-23.7zM357.2 2250.4h23.7v27.6h-23.7zM381 2250.4h23.7v27.6h-23.7zM523.4 2250.4h23.7v27.6h-23.7zM191 2278h23.7v27.6h-23.7zM214.7 2278h23.7v27.6h-23.7zM333.5 2278h23.7v27.6h-23.7zM381 2278h23.7v27.6h-23.7z" fill="#93BBCB"/>
<path d="M428.4 1588h23.7v27.6h-23.7zM452.2 1588h23.7v27.6h-23.7zM594.7 1588h23.7v27.6h-23.7zM642.1 1588h23.7v27.6h-23.7zM404.7 1615.6h23.7v27.6h-23.7zM428.4 1615.6h23.7v27.6h-23.7zM452.2 1615.6h23.7v27.6h-23.7zM618.4 1615.6h23.7v27.6h-23.7zM642.1 1615.6h23.7v27.6h-23.7zM618.4 1643.2h23.7v27.6h-23.7zM642.1 1643.2h23.7v27.6h-23.7zM665.9 1643.2h23.7v27.6h-23.7zM357.2 1670.8h23.7v27.6h-23.7zM404.7 1670.8h23.7v27.6h-23.7zM618.4 1670.8h23.7v27.6h-23.7zM642.1 1670.8h23.7v27.6h-23.7zM665.9 1670.8h23.7v27.6h-23.7zM689.6 1670.8h23.7v27.6h-23.7zM499.7 1698.4h23.7v27.6h-23.7zM618.4 1698.4h23.7v27.6h-23.7zM642.1 1698.4h23.7v27.6h-23.7zM665.9 1698.4h23.7v27.6h-23.7zM689.6 1698.4h23.7v27.6h-23.7zM475.9 1726h23.7v27.6h-23.7zM618.4 1726h23.7v27.6h-23.7zM642.1 1726h23.7v27.6h-23.7zM665.9 1726h23.7v27.6h-23.7zM689.6 1726h23.7v27.6h-23.7zM167.2 1753.6h23.7v27.6h-23.7zM191 1753.6h23.7v27.6h-23.7zM404.7 1753.6h23.7v27.6h-23.7zM428.4 1753.6h23.7v27.6h-23.7zM143.5 1781.2h23.7v27.6h-23.7zM167.2 1781.2h23.7v27.6h-23.7zM404.7 1781.2h23.7v27.6h-23.7zM618.4 1781.2h23.7v27.6h-23.7zM143.5 1808.8h23.7v27.6h-23.7zM191 1808.8h23.7v27.6h-23.7zM214.7 1808.8h23.7v27.6h-23.7zM167.2 1836.4h23.7v27.6h-23.7zM191 1836.4h23.7v27.6h-23.7zM404.7 1836.4h23.7v27.6h-23.7zM428.4 1836.4h23.7v27.6h-23.7zM452.2 1836.4h23.7v27.6h-23.7zM475.9 1836.4h23.7v27.6h-23.7zM594.7 1836.4h23.7v27.6h-23.7zM618.4 1836.4h23.7v27.6h-23.7zM143.5 1864h23.7v27.6h-23.7zM214.7 1864h23.7v27.6h-23.7zM404.7 1864h23.7v27.6h-23.7zM428.4 1864h23.7v27.6h-23.7zM499.7 1864h23.7v27.6h-23.7zM618.4 1864h23.7v27.6h-23.7zM642.1 1864h23.7v27.6h-23.7zM689.6 1864h23.7v27.6h-23.7zM143.5 1891.6h23.7v27.6h-23.7zM167.2 1891.6h23.7v27.6h-23.7zM143.5 1919.2h23.7v27.6h-23.7zM167.2 1919.2h23.7v27.6h-23.7zM214.7 1919.2h23.7v27.6h-23.7zM214.7 1974.4h23.7v27.6h-23.7zM618.4 1974.4h23.7v27.6h-23.7zM642.1 2002h23.7v27.6h-23.7zM143.5 2029.6h23.7v27.6h-23.7zM167.2 2029.6h23.7v27.6h-23.7zM452.2 2029.6h23.7v27.6h-23.7zM143.5 2057.2h23.7v27.6h-23.7zM167.2 2057.2h23.7v27.6h-23.7zM191 2057.2h23.7v27.6h-23.7zM214.7 2057.2h23.7v27.6h-23.7zM143.5 2084.8h23.7v27.6h-23.7zM191 2084.8h23.7v27.6h-23.7zM214.7 2084.8h23.7v27.6h-23.7zM143.5 2112.4h23.7v27.6h-23.7zM167.2 2112.4h23.7v27.6h-23.7zM191 2112.4h23.7v27.6h-23.7zM214.7 2112.4h23.7v27.6h-23.7zM618.4 2112.4h23.7v27.6h-23.7zM143.5 2140h23.7v27.6h-23.7zM167.2 2140h23.7v27.6h-23.7zM191 2140h23.7v27.6h-23.7zM214.7 2140h23.7v27.6h-23.7zM167.2 2167.6h23.7v27.6h-23.7zM191 2167.6h23.7v27.6h-23.7zM214.7 2167.6h23.7v27.6h-23.7zM143.5 2195.2h23.7v27.6h-23.7zM167.2 2195.2h23.7v27.6h-23.7zM191 2195.2h23.7v27.6h-23.7zM214.7 2195.2h23.7v27.6h-23.7zM333.5 2222.8h23.7v27.6h-23.7zM452.2 2222.8h23.7v27.6h-23.7zM475.9 2222.8h23.7v27.6h-23.7zM523.4 2222.8h23.7v27.6h-23.7zM665.9 2222.8h23.7v27.6h-23.7zM143.5 2250.4h23.7v27.6h-23.7zM214.7 2250.4h23.7v27.6h-23.7zM333.5 2250.4h23.7v27.6h-23.7zM689.6 2250.4h23.7v27.6h-23.7zM357.2 2278h23.7v27.6h-23.7zM404.7 2278h23.7v27.6h-23.7zM642.1 2278h23.7v27.6h-23.7zM665.9 2278h23.7v27.6h-23.7z" fill="#D3E6EB"/>
<path d="M523.4 1588h23.7v27.6h-23.7zM523.4 1615.6h23.7v27.6h-23.7zM594.7 1643.2h23.7v27.6h-23.7zM547.2 1670.8h23.7v27.6h-23.7zM570.9 1670.8h23.7v27.6h-23.7zM547.2 1698.4h23.7v27.6h-23.7zM404.7 1974.4h23.7v27.6h-23.7zM547.2 2222.8h23.7v27.6h-23.7zM594.7 2222.8h23.7v27.6h-23.7zM594.7 2250.4h23.7v27.6h-23.7z" fill="#233A8C"/>
<path d="M523.4 1670.8h23.7v27.6h-23.7z" fill="#080C3E"/>
<path d="M262.2 1753.6h23.7v27.6h-23.7zM309.7 1781.2h23.7v27.6h-23.7zM309.7 1836.4h23.7v27.6h-23.7zM262.2 2278h23.7v27.6h-23.7z" fill="#550011"/>
<rect x="143.5" y="1552.3" width="190" height="14.1" fill="#A89E94" stroke="none" stroke-width="1" />
<rect x="333.5" y="1552.3" width="190" height="14.1" fill="#FF6200" stroke="none" stroke-width="1" />
<rect x="523.4" y="1552.3" width="190" height="14.1" fill="#1F4585" stroke="none" stroke-width="1" />
<rect x="143.5" y="1569.6" width="95" height="14" fill="#2B6B1F" stroke="none" stroke-width="1" />
<rect x="238.5" y="1569.6" width="95" height="14" fill="#EE1111" stroke="none" stroke-width="1" />
<rect x="333.5" y="1569.6" width="95" height="14" fill="#2B6B1F" stroke="none" stroke-width="1" />
<rect x="428.4" y="1569.6" width="95" height="14" fill="#EE1111" stroke="none" stroke-width="1" />
<rect x="523.4" y="1569.6" width="95" height="14" fill="#2B6B1F" stroke="none" stroke-width="1" />
<rect x="618.4" y="1569.6" width="95" height="14" fill="#EE1111" stroke="none" stroke-width="1" />
<path d="M143.5 1588V2305.6M143.5 1552.3v14.1M143.5 1569.6v14M167.2 1588V2305.6M167.2 1552.3v14.1M167.2 1569.6v14M191 1588V2305.6M191 1552.3v14.1M191 1569.6v14M214.7 1588V2305.6M214.7 1552.3v14.1M214.7 1569.6v14M238.5 1588V2305.6M238.5 1552.3v14.1M238.5 1569.6v14M262.2 1588V2305.6M262.2 1552.3v14.1M262.2 1569.6v14M286 1588V2305.6M286 1552.3v14.1M286 1569.6v14M309.7 1588V2305.6M309.7 1552.3v14.1M309.7 1569.6v14M333.5 1588V2305.6M333.5 1552.3v14.1M333.5 1569.6v14M357.2 1588V2305.6M357.2 1552.3v14.1M357.2 1569.6v14M381 1588V2305.6M381 1552.3v14.1M381 1569.6v14M404.7 1588V2305.6M404.7 1552.3v14.1M404.7 1569.6v14M428.4 1588V2305.6M428.4 1552.3v14.1M428.4 1569.6v14M452.2 1588V2305.6M452.2 1552.3v14.1M452.2 1569.6v14M475.9 1588V2305.6M475.9 1552.3v14.1M475.9 1569.6v14M499.7 1588V2305.6M499.7 1552.3v14.1M499.7 1569.6v14M523.4 1588V2305.6M523.4 1552.3v14.1M523.4 1569.6v14M547.2 1588V2305.6M547.2 1552.3v14.1M547.2 1569.6v14M570.9 1588V2305.6M570.9 1552.3v14.1M570.9 1569.6v14M594.7 1588V2305.6M594.7 1552.3v14.1M594.7 1569.6v14M618.4 1588V2305.6M618.4 1552.3v14.1M618.4 1569.6v14M642.1 1588V2305.6M642.1 1552.3v14.1M642.1 1569.6v14M665.9 1588V2305.6M665.9 1552.3v14.1M665.9 1569.6v14M689.6 1588V2305.6M689.6 1552.3v14.1M689.6 1569.6v14M713.4 1588V2305.6M713.4 1552.3v14.1M713.4 1569.6v14M143.5 1588h569.9M143.5 1615.6h569.9M143.5 1643.2h569.9M143.5 1670.8h569.9M143.5 1698.4h569.9M143.5 1726h569.9M143.5 1753.6h569.9M143.5 1781.2h569.9M143.5 1808.8h569.9M143.5 1836.4h569.9M143.5 1864h569.9M143.5 1891.6h569.9M143.5 1919.2h569.9M143.5 1946.8h569.9M143.5 1974.4h569.9M143.5 2002h569.9M143.5 2029.6h569.9M143.5 2057.2h569.9M143.5 2084.8h569.9M143.5 2112.4h569.9M143.5 2140h569.9M143.5 2167.6h569.9M143.5 2195.2h569.9M143.5 2222.8h569.9M143.5 2250.4h569.9M143.5 2278h569.9M143.5 2305.6h569.9M143.5 1552.3h569.9M143.5 1566.4h569.9M143.5 1569.6h569.9M143.5 1583.6h569.9" stroke="#8E8883" stroke-width="0.9" fill="none"/>
<text x="718.1" y="1564.6" font-size="14.1" font-weight="bold" fill="#000" >Construct</text>
<text x="718.1" y="1582" font-size="14.1" font-weight="bold" fill="#000" >Treatment</text>
<text transform="translate(717.3,1607.8) scale(1.0,1.04)" font-size="15.2" fill="#000">Degs1</text>
<text transform="translate(717.3,1635.4) scale(1.0,1.04)" font-size="15.2" fill="#000">Pqlc3</text>
<text transform="translate(717.3,1663) scale(1.0,1.04)" font-size="15.2" fill="#000">Cast</text>
<text transform="translate(717.3,1690.6) scale(1.0,1.04)" font-size="15.2" fill="#000">Abhd5</text>
<text transform="translate(717.3,1718.2) scale(1.0,1.04)" font-size="15.2" fill="#000">Mapk3</text>
<text transform="translate(717.3,1745.8) scale(1.0,1.04)" font-size="15.2" fill="#000">Mpp1</text>
<text transform="translate(717.3,1773.4) scale(1.0,1.04)" font-size="15.2" fill="#000">Tnf</text>
<text transform="translate(717.3,1801) scale(1.0,1.04)" font-size="15.2" fill="#000">Tlr6</text>
<text transform="translate(717.3,1828.6) scale(1.0,1.04)" font-size="15.2" fill="#000">Sat1</text>
<text transform="translate(717.3,1856.2) scale(1.0,1.04)" font-size="15.2" fill="#000">Lst1</text>
<text transform="translate(717.3,1883.8) scale(1.0,1.04)" font-size="15.2" fill="#000">Spata6</text>
<text transform="translate(717.3,1911.4) scale(1.0,1.04)" font-size="15.2" fill="#000">Stx11</text>
<text transform="translate(717.3,1939) scale(1.0,1.04)" font-size="15.2" fill="#000">Cybb</text>
<text transform="translate(717.3,1966.6) scale(1.0,1.04)" font-size="15.2" fill="#000">Itgb2</text>
<text transform="translate(717.3,1994.2) scale(1.0,1.04)" font-size="15.2" fill="#000">Cpeb4</text>
<text transform="translate(717.3,2021.8) scale(1.0,1.04)" font-size="15.2" fill="#000">Abca13</text>
<text transform="translate(717.3,2049.4) scale(1.0,1.04)" font-size="15.2" fill="#000">Gns</text>
<text transform="translate(717.3,2077) scale(1.0,1.04)" font-size="15.2" fill="#000">Cd80</text>
<text transform="translate(717.3,2104.6) scale(1.0,1.04)" font-size="15.2" fill="#000">E2f2</text>
<text transform="translate(717.3,2132.2) scale(1.0,1.04)" font-size="15.2" fill="#000">Tlr2</text>
<text transform="translate(717.3,2159.8) scale(1.0,1.04)" font-size="15.2" fill="#000">Cd44</text>
<text transform="translate(717.3,2187.4) scale(1.0,1.04)" font-size="15.2" fill="#000">Gsn</text>
<text transform="translate(717.3,2215) scale(1.0,1.04)" font-size="15.2" fill="#000">Thbs1</text>
<text transform="translate(717.3,2242.6) scale(1.0,1.04)" font-size="15.2" fill="#000">Mxd1</text>
<text transform="translate(717.3,2270.2) scale(1.0,1.04)" font-size="15.2" fill="#000">Soat1</text>
<text transform="translate(717.3,2297.8) scale(1.0,1.04)" font-size="15.2" fill="#000">Rad51c</text>
<rect x="793.1" y="1551" width="13.4" height="21.6" fill="#550011" stroke="none" stroke-width="1" />
<rect x="793.1" y="1572.4" width="13.4" height="21.6" fill="#A60014" stroke="none" stroke-width="1" />
<rect x="793.1" y="1593.8" width="13.4" height="21.6" fill="#D13B2E" stroke="none" stroke-width="1" />
<rect x="793.1" y="1615.2" width="13.4" height="21.6" fill="#EF9167" stroke="none" stroke-width="1" />
<rect x="793.1" y="1636.6" width="13.4" height="21.6" fill="#FBD6C0" stroke="none" stroke-width="1" />
<rect x="793.1" y="1658" width="13.4" height="21.6" fill="#D3E6EB" stroke="none" stroke-width="1" />
<rect x="793.1" y="1679.4" width="13.4" height="21.6" fill="#93BBCB" stroke="none" stroke-width="1" />
<rect x="793.1" y="1700.8" width="13.4" height="21.6" fill="#4A77A3" stroke="none" stroke-width="1" />
<rect x="793.1" y="1722.2" width="13.4" height="21.6" fill="#233A8C" stroke="none" stroke-width="1" />
<rect x="793.1" y="1743.6" width="13.4" height="21.6" fill="#080C3E" stroke="none" stroke-width="1" />
<text x="812.4" y="1584.5" font-size="14.1" fill="#000" >2</text>
<text x="812.4" y="1624" font-size="14.1" fill="#000" >1</text>
<text x="812.4" y="1664" font-size="14.1" fill="#000" >0</text>
<text x="812.4" y="1703.6" font-size="14.1" fill="#000" >-1</text>
<text x="812.4" y="1743" font-size="14.1" fill="#000" >-2</text>
<text x="834.2" y="1561.8" font-size="14.1" font-weight="bold" fill="#000" >Construct</text>
<rect x="833.9" y="1566.6" width="20" height="20.2" fill="#A89E94" stroke="#9A9A9A" stroke-width="0.9" />
<text x="858.6" y="1582.3" font-size="14.1" fill="#000" >BB</text>
<rect x="833.9" y="1586.8" width="20" height="20.2" fill="#FF6200" stroke="#9A9A9A" stroke-width="0.9" />
<text x="858.6" y="1602.6" font-size="14.1" fill="#000" >P199L-ERG</text>
<rect x="833.9" y="1607" width="20" height="20.2" fill="#1F4585" stroke="#9A9A9A" stroke-width="0.9" />
<text x="858.6" y="1622.9" font-size="14.1" fill="#000" >WT-ERG</text>
<text x="834.2" y="1653.3" font-size="14.1" font-weight="bold" fill="#000" >Treatment</text>
<rect x="833.9" y="1658.9" width="20" height="19.9" fill="#2B6B1F" stroke="#9A9A9A" stroke-width="0.9" />
<text x="858.6" y="1673.5" font-size="14.1" fill="#000" >DMSO</text>
<rect x="833.9" y="1678.8" width="20" height="19.9" fill="#EE1111" stroke="#9A9A9A" stroke-width="0.9" />
<text x="858.6" y="1693.9" font-size="14.1" fill="#000" >HDAC3i</text>
<path d="M143.5 1629.4H126.2V1657H143.5M143.5 1601.8H116.4V1643.2H126.2M143.5 1712.2H127.3V1739.8H143.5M143.5 1684.6H108.4V1726H127.3M116.4 1622.5H107.5V1705.3H108.4M143.5 1822.6H120.7V1850.2H143.5M143.5 1795H117.3V1836.4H120.7M143.5 1767.4H103.6V1815.7H117.3M143.5 1933H129.2V1960.6H143.5M143.5 1905.4H127.8V1946.8H129.2M143.5 1877.8H117.5V1926.1H127.8M143.5 1988.2H116.5V2015.8H143.5M117.5 1901.9H110.2V2002H116.5M143.5 2071H130.8V2098.6H143.5M143.5 2181.4H131.6V2209H143.5M143.5 2153.8H126V2195.2H131.6M143.5 2126.2H120.5V2174.5H126M130.8 2084.8H116.4V2150.3H120.5M143.5 2043.4H108.9V2117.6H116.4M110.2 1952H102.4V2080.5H108.9M103.6 1791.6H95.6V2016.2H102.4M107.5 1663.9H89.6V1903.9H95.6M143.5 2264.2H104.2V2291.8H143.5M143.5 2236.6H85.6V2278H104.2M89.6 1783.9H69V2257.3H85.6" stroke="#2b2b2b" stroke-width="1.3" fill="none"/>
</svg>
</body></html>
